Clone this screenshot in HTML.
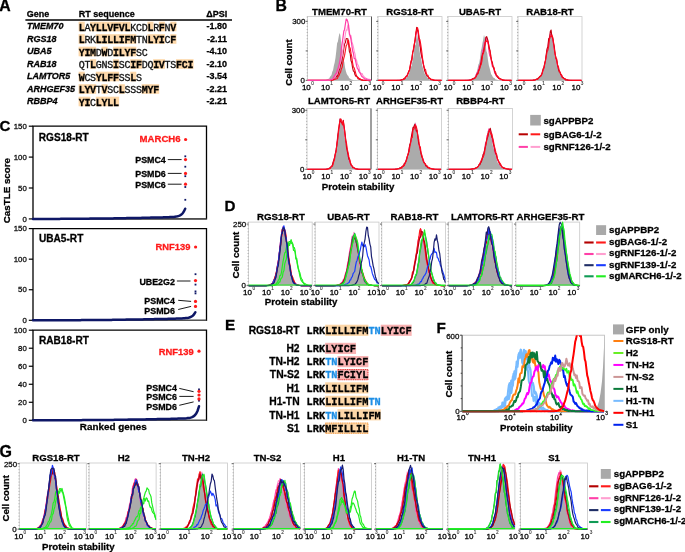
<!DOCTYPE html>
<html><head><meta charset="utf-8"><style>
html,body{margin:0;padding:0;background:#fff;}
body{width:685px;height:552px;overflow:hidden;}
svg{display:block;will-change:transform;}
</style></head><body>
<svg width="685" height="552" viewBox="0 0 685 552">
<rect x="0" y="0" width="685" height="552" fill="#fff"/>
<text x="-0.70" y="11.20" font-family='"Liberation Sans", sans-serif' font-size="15.8" font-weight="bold" text-anchor="start" fill="#000" stroke="#000" stroke-width="0.28" >A</text>
<text x="26.80" y="16.60" font-family='"Liberation Sans", sans-serif' font-size="9.0" font-weight="bold" text-anchor="start" fill="#000" stroke="#000" stroke-width="0.28" >Gene</text>
<text x="78.80" y="16.60" font-family='"Liberation Sans", sans-serif' font-size="9.0" font-weight="bold" text-anchor="start" fill="#000" stroke="#000" stroke-width="0.28" >RT sequence</text>
<text x="206.20" y="16.60" font-family='"Liberation Sans", sans-serif' font-size="9.0" font-weight="bold" text-anchor="start" fill="#000" stroke="#000" stroke-width="0.28" >ΔPSI</text>
<line x1="25.40" y1="19.90" x2="232.00" y2="19.90" stroke="#000" stroke-width="1.5" />
<text x="27.00" y="29.30" font-family='"Liberation Sans", sans-serif' font-size="9.0" font-weight="bold" text-anchor="start" fill="#000" stroke="#000" stroke-width="0.28" font-style="italic" >TMEM70</text>
<text x="227.00" y="29.30" font-family='"Liberation Sans", sans-serif' font-size="9.0" font-weight="bold" text-anchor="end" fill="#000" stroke="#000" stroke-width="0.28" >-1.80</text>
<rect x="78.60" y="21.70" width="6.13" height="9.60" fill="#fdd7a8" />
<rect x="90.06" y="21.70" width="6.13" height="9.60" fill="#fdd7a8" />
<rect x="95.79" y="21.70" width="6.13" height="9.60" fill="#fdd7a8" />
<rect x="101.52" y="21.70" width="6.13" height="9.60" fill="#fdd7a8" />
<rect x="107.25" y="21.70" width="6.13" height="9.60" fill="#fdd7a8" />
<rect x="112.98" y="21.70" width="6.13" height="9.60" fill="#fdd7a8" />
<rect x="118.71" y="21.70" width="6.13" height="9.60" fill="#fdd7a8" />
<rect x="124.44" y="21.70" width="6.13" height="9.60" fill="#fdd7a8" />
<rect x="147.36" y="21.70" width="6.13" height="9.60" fill="#fdd7a8" />
<rect x="158.82" y="21.70" width="6.13" height="9.60" fill="#fdd7a8" />
<rect x="170.28" y="21.70" width="6.13" height="9.60" fill="#fdd7a8" />
<text x="78.65" y="30.50" font-family='"Liberation Mono", monospace' font-size="10.0" font-weight="bold" text-anchor="start" fill="#000" stroke="#000" stroke-width="0.28" >L</text>
<text x="84.38" y="30.50" font-family='"Liberation Mono", monospace' font-size="10.0" font-weight="normal" text-anchor="start" fill="#111" stroke="#111" stroke-width="0.3" >A</text>
<text x="90.11" y="30.50" font-family='"Liberation Mono", monospace' font-size="10.0" font-weight="bold" text-anchor="start" fill="#000" stroke="#000" stroke-width="0.28" >Y</text>
<text x="95.84" y="30.50" font-family='"Liberation Mono", monospace' font-size="10.0" font-weight="bold" text-anchor="start" fill="#000" stroke="#000" stroke-width="0.28" >L</text>
<text x="101.57" y="30.50" font-family='"Liberation Mono", monospace' font-size="10.0" font-weight="bold" text-anchor="start" fill="#000" stroke="#000" stroke-width="0.28" >L</text>
<text x="107.30" y="30.50" font-family='"Liberation Mono", monospace' font-size="10.0" font-weight="bold" text-anchor="start" fill="#000" stroke="#000" stroke-width="0.28" >V</text>
<text x="113.03" y="30.50" font-family='"Liberation Mono", monospace' font-size="10.0" font-weight="bold" text-anchor="start" fill="#000" stroke="#000" stroke-width="0.28" >F</text>
<text x="118.76" y="30.50" font-family='"Liberation Mono", monospace' font-size="10.0" font-weight="bold" text-anchor="start" fill="#000" stroke="#000" stroke-width="0.28" >V</text>
<text x="124.49" y="30.50" font-family='"Liberation Mono", monospace' font-size="10.0" font-weight="bold" text-anchor="start" fill="#000" stroke="#000" stroke-width="0.28" >L</text>
<text x="130.22" y="30.50" font-family='"Liberation Mono", monospace' font-size="10.0" font-weight="normal" text-anchor="start" fill="#111" stroke="#111" stroke-width="0.3" >K</text>
<text x="135.95" y="30.50" font-family='"Liberation Mono", monospace' font-size="10.0" font-weight="normal" text-anchor="start" fill="#111" stroke="#111" stroke-width="0.3" >C</text>
<text x="141.68" y="30.50" font-family='"Liberation Mono", monospace' font-size="10.0" font-weight="normal" text-anchor="start" fill="#111" stroke="#111" stroke-width="0.3" >D</text>
<text x="147.41" y="30.50" font-family='"Liberation Mono", monospace' font-size="10.0" font-weight="bold" text-anchor="start" fill="#000" stroke="#000" stroke-width="0.28" >L</text>
<text x="153.14" y="30.50" font-family='"Liberation Mono", monospace' font-size="10.0" font-weight="normal" text-anchor="start" fill="#111" stroke="#111" stroke-width="0.3" >R</text>
<text x="158.87" y="30.50" font-family='"Liberation Mono", monospace' font-size="10.0" font-weight="bold" text-anchor="start" fill="#000" stroke="#000" stroke-width="0.28" >F</text>
<text x="164.60" y="30.50" font-family='"Liberation Mono", monospace' font-size="10.0" font-weight="normal" text-anchor="start" fill="#111" stroke="#111" stroke-width="0.3" >N</text>
<text x="170.33" y="30.50" font-family='"Liberation Mono", monospace' font-size="10.0" font-weight="bold" text-anchor="start" fill="#000" stroke="#000" stroke-width="0.28" >V</text>
<text x="27.00" y="41.80" font-family='"Liberation Sans", sans-serif' font-size="9.0" font-weight="bold" text-anchor="start" fill="#000" stroke="#000" stroke-width="0.28" font-style="italic" >RGS18</text>
<text x="227.00" y="41.80" font-family='"Liberation Sans", sans-serif' font-size="9.0" font-weight="bold" text-anchor="end" fill="#000" stroke="#000" stroke-width="0.28" >-2.11</text>
<rect x="78.60" y="34.20" width="6.13" height="9.60" fill="#fdd7a8" />
<rect x="95.79" y="34.20" width="6.13" height="9.60" fill="#fdd7a8" />
<rect x="101.52" y="34.20" width="6.13" height="9.60" fill="#fdd7a8" />
<rect x="107.25" y="34.20" width="6.13" height="9.60" fill="#fdd7a8" />
<rect x="112.98" y="34.20" width="6.13" height="9.60" fill="#fdd7a8" />
<rect x="118.71" y="34.20" width="6.13" height="9.60" fill="#fdd7a8" />
<rect x="124.44" y="34.20" width="6.13" height="9.60" fill="#fdd7a8" />
<rect x="130.17" y="34.20" width="6.13" height="9.60" fill="#fdd7a8" />
<rect x="147.36" y="34.20" width="6.13" height="9.60" fill="#fdd7a8" />
<rect x="153.09" y="34.20" width="6.13" height="9.60" fill="#fdd7a8" />
<rect x="158.82" y="34.20" width="6.13" height="9.60" fill="#fdd7a8" />
<rect x="170.28" y="34.20" width="6.13" height="9.60" fill="#fdd7a8" />
<text x="78.65" y="43.00" font-family='"Liberation Mono", monospace' font-size="10.0" font-weight="bold" text-anchor="start" fill="#000" stroke="#000" stroke-width="0.28" >L</text>
<text x="84.38" y="43.00" font-family='"Liberation Mono", monospace' font-size="10.0" font-weight="normal" text-anchor="start" fill="#111" stroke="#111" stroke-width="0.3" >R</text>
<text x="90.11" y="43.00" font-family='"Liberation Mono", monospace' font-size="10.0" font-weight="normal" text-anchor="start" fill="#111" stroke="#111" stroke-width="0.3" >K</text>
<text x="95.84" y="43.00" font-family='"Liberation Mono", monospace' font-size="10.0" font-weight="bold" text-anchor="start" fill="#000" stroke="#000" stroke-width="0.28" >L</text>
<text x="101.57" y="43.00" font-family='"Liberation Mono", monospace' font-size="10.0" font-weight="bold" text-anchor="start" fill="#000" stroke="#000" stroke-width="0.28" >I</text>
<text x="107.30" y="43.00" font-family='"Liberation Mono", monospace' font-size="10.0" font-weight="bold" text-anchor="start" fill="#000" stroke="#000" stroke-width="0.28" >L</text>
<text x="113.03" y="43.00" font-family='"Liberation Mono", monospace' font-size="10.0" font-weight="bold" text-anchor="start" fill="#000" stroke="#000" stroke-width="0.28" >L</text>
<text x="118.76" y="43.00" font-family='"Liberation Mono", monospace' font-size="10.0" font-weight="bold" text-anchor="start" fill="#000" stroke="#000" stroke-width="0.28" >I</text>
<text x="124.49" y="43.00" font-family='"Liberation Mono", monospace' font-size="10.0" font-weight="bold" text-anchor="start" fill="#000" stroke="#000" stroke-width="0.28" >F</text>
<text x="130.22" y="43.00" font-family='"Liberation Mono", monospace' font-size="10.0" font-weight="bold" text-anchor="start" fill="#000" stroke="#000" stroke-width="0.28" >M</text>
<text x="135.95" y="43.00" font-family='"Liberation Mono", monospace' font-size="10.0" font-weight="normal" text-anchor="start" fill="#111" stroke="#111" stroke-width="0.3" >T</text>
<text x="141.68" y="43.00" font-family='"Liberation Mono", monospace' font-size="10.0" font-weight="normal" text-anchor="start" fill="#111" stroke="#111" stroke-width="0.3" >N</text>
<text x="147.41" y="43.00" font-family='"Liberation Mono", monospace' font-size="10.0" font-weight="bold" text-anchor="start" fill="#000" stroke="#000" stroke-width="0.28" >L</text>
<text x="153.14" y="43.00" font-family='"Liberation Mono", monospace' font-size="10.0" font-weight="bold" text-anchor="start" fill="#000" stroke="#000" stroke-width="0.28" >Y</text>
<text x="158.87" y="43.00" font-family='"Liberation Mono", monospace' font-size="10.0" font-weight="bold" text-anchor="start" fill="#000" stroke="#000" stroke-width="0.28" >I</text>
<text x="164.60" y="43.00" font-family='"Liberation Mono", monospace' font-size="10.0" font-weight="normal" text-anchor="start" fill="#111" stroke="#111" stroke-width="0.3" >C</text>
<text x="170.33" y="43.00" font-family='"Liberation Mono", monospace' font-size="10.0" font-weight="bold" text-anchor="start" fill="#000" stroke="#000" stroke-width="0.28" >F</text>
<text x="27.00" y="54.30" font-family='"Liberation Sans", sans-serif' font-size="9.0" font-weight="bold" text-anchor="start" fill="#000" stroke="#000" stroke-width="0.28" font-style="italic" >UBA5</text>
<text x="227.00" y="54.30" font-family='"Liberation Sans", sans-serif' font-size="9.0" font-weight="bold" text-anchor="end" fill="#000" stroke="#000" stroke-width="0.28" >-4.10</text>
<rect x="78.60" y="46.70" width="6.13" height="9.60" fill="#fdd7a8" />
<rect x="84.33" y="46.70" width="6.13" height="9.60" fill="#fdd7a8" />
<rect x="90.06" y="46.70" width="6.13" height="9.60" fill="#fdd7a8" />
<rect x="101.52" y="46.70" width="6.13" height="9.60" fill="#fdd7a8" />
<rect x="112.98" y="46.70" width="6.13" height="9.60" fill="#fdd7a8" />
<rect x="118.71" y="46.70" width="6.13" height="9.60" fill="#fdd7a8" />
<rect x="124.44" y="46.70" width="6.13" height="9.60" fill="#fdd7a8" />
<rect x="130.17" y="46.70" width="6.13" height="9.60" fill="#fdd7a8" />
<text x="78.65" y="55.50" font-family='"Liberation Mono", monospace' font-size="10.0" font-weight="bold" text-anchor="start" fill="#000" stroke="#000" stroke-width="0.28" >Y</text>
<text x="84.38" y="55.50" font-family='"Liberation Mono", monospace' font-size="10.0" font-weight="bold" text-anchor="start" fill="#000" stroke="#000" stroke-width="0.28" >I</text>
<text x="90.11" y="55.50" font-family='"Liberation Mono", monospace' font-size="10.0" font-weight="bold" text-anchor="start" fill="#000" stroke="#000" stroke-width="0.28" >M</text>
<text x="95.84" y="55.50" font-family='"Liberation Mono", monospace' font-size="10.0" font-weight="normal" text-anchor="start" fill="#111" stroke="#111" stroke-width="0.3" >D</text>
<text x="101.57" y="55.50" font-family='"Liberation Mono", monospace' font-size="10.0" font-weight="bold" text-anchor="start" fill="#000" stroke="#000" stroke-width="0.28" >W</text>
<text x="107.30" y="55.50" font-family='"Liberation Mono", monospace' font-size="10.0" font-weight="normal" text-anchor="start" fill="#111" stroke="#111" stroke-width="0.3" >D</text>
<text x="113.03" y="55.50" font-family='"Liberation Mono", monospace' font-size="10.0" font-weight="bold" text-anchor="start" fill="#000" stroke="#000" stroke-width="0.28" >I</text>
<text x="118.76" y="55.50" font-family='"Liberation Mono", monospace' font-size="10.0" font-weight="bold" text-anchor="start" fill="#000" stroke="#000" stroke-width="0.28" >L</text>
<text x="124.49" y="55.50" font-family='"Liberation Mono", monospace' font-size="10.0" font-weight="bold" text-anchor="start" fill="#000" stroke="#000" stroke-width="0.28" >Y</text>
<text x="130.22" y="55.50" font-family='"Liberation Mono", monospace' font-size="10.0" font-weight="bold" text-anchor="start" fill="#000" stroke="#000" stroke-width="0.28" >F</text>
<text x="135.95" y="55.50" font-family='"Liberation Mono", monospace' font-size="10.0" font-weight="normal" text-anchor="start" fill="#111" stroke="#111" stroke-width="0.3" >S</text>
<text x="141.68" y="55.50" font-family='"Liberation Mono", monospace' font-size="10.0" font-weight="normal" text-anchor="start" fill="#111" stroke="#111" stroke-width="0.3" >C</text>
<text x="27.00" y="66.80" font-family='"Liberation Sans", sans-serif' font-size="9.0" font-weight="bold" text-anchor="start" fill="#000" stroke="#000" stroke-width="0.28" font-style="italic" >RAB18</text>
<text x="227.00" y="66.80" font-family='"Liberation Sans", sans-serif' font-size="9.0" font-weight="bold" text-anchor="end" fill="#000" stroke="#000" stroke-width="0.28" >-2.10</text>
<rect x="90.06" y="59.20" width="6.13" height="9.60" fill="#fdd7a8" />
<rect x="112.98" y="59.20" width="6.13" height="9.60" fill="#fdd7a8" />
<rect x="130.17" y="59.20" width="6.13" height="9.60" fill="#fdd7a8" />
<rect x="135.90" y="59.20" width="6.13" height="9.60" fill="#fdd7a8" />
<rect x="153.09" y="59.20" width="6.13" height="9.60" fill="#fdd7a8" />
<rect x="158.82" y="59.20" width="6.13" height="9.60" fill="#fdd7a8" />
<rect x="176.01" y="59.20" width="6.13" height="9.60" fill="#fdd7a8" />
<rect x="181.74" y="59.20" width="6.13" height="9.60" fill="#fdd7a8" />
<rect x="187.47" y="59.20" width="6.13" height="9.60" fill="#fdd7a8" />
<text x="78.65" y="68.00" font-family='"Liberation Mono", monospace' font-size="10.0" font-weight="normal" text-anchor="start" fill="#111" stroke="#111" stroke-width="0.3" >Q</text>
<text x="84.38" y="68.00" font-family='"Liberation Mono", monospace' font-size="10.0" font-weight="normal" text-anchor="start" fill="#111" stroke="#111" stroke-width="0.3" >T</text>
<text x="90.11" y="68.00" font-family='"Liberation Mono", monospace' font-size="10.0" font-weight="bold" text-anchor="start" fill="#000" stroke="#000" stroke-width="0.28" >L</text>
<text x="95.84" y="68.00" font-family='"Liberation Mono", monospace' font-size="10.0" font-weight="normal" text-anchor="start" fill="#111" stroke="#111" stroke-width="0.3" >G</text>
<text x="101.57" y="68.00" font-family='"Liberation Mono", monospace' font-size="10.0" font-weight="normal" text-anchor="start" fill="#111" stroke="#111" stroke-width="0.3" >N</text>
<text x="107.30" y="68.00" font-family='"Liberation Mono", monospace' font-size="10.0" font-weight="normal" text-anchor="start" fill="#111" stroke="#111" stroke-width="0.3" >S</text>
<text x="113.03" y="68.00" font-family='"Liberation Mono", monospace' font-size="10.0" font-weight="bold" text-anchor="start" fill="#000" stroke="#000" stroke-width="0.28" >I</text>
<text x="118.76" y="68.00" font-family='"Liberation Mono", monospace' font-size="10.0" font-weight="normal" text-anchor="start" fill="#111" stroke="#111" stroke-width="0.3" >S</text>
<text x="124.49" y="68.00" font-family='"Liberation Mono", monospace' font-size="10.0" font-weight="normal" text-anchor="start" fill="#111" stroke="#111" stroke-width="0.3" >C</text>
<text x="130.22" y="68.00" font-family='"Liberation Mono", monospace' font-size="10.0" font-weight="bold" text-anchor="start" fill="#000" stroke="#000" stroke-width="0.28" >I</text>
<text x="135.95" y="68.00" font-family='"Liberation Mono", monospace' font-size="10.0" font-weight="bold" text-anchor="start" fill="#000" stroke="#000" stroke-width="0.28" >F</text>
<text x="141.68" y="68.00" font-family='"Liberation Mono", monospace' font-size="10.0" font-weight="normal" text-anchor="start" fill="#111" stroke="#111" stroke-width="0.3" >D</text>
<text x="147.41" y="68.00" font-family='"Liberation Mono", monospace' font-size="10.0" font-weight="normal" text-anchor="start" fill="#111" stroke="#111" stroke-width="0.3" >Q</text>
<text x="153.14" y="68.00" font-family='"Liberation Mono", monospace' font-size="10.0" font-weight="bold" text-anchor="start" fill="#000" stroke="#000" stroke-width="0.28" >I</text>
<text x="158.87" y="68.00" font-family='"Liberation Mono", monospace' font-size="10.0" font-weight="bold" text-anchor="start" fill="#000" stroke="#000" stroke-width="0.28" >V</text>
<text x="164.60" y="68.00" font-family='"Liberation Mono", monospace' font-size="10.0" font-weight="normal" text-anchor="start" fill="#111" stroke="#111" stroke-width="0.3" >T</text>
<text x="170.33" y="68.00" font-family='"Liberation Mono", monospace' font-size="10.0" font-weight="normal" text-anchor="start" fill="#111" stroke="#111" stroke-width="0.3" >S</text>
<text x="176.06" y="68.00" font-family='"Liberation Mono", monospace' font-size="10.0" font-weight="bold" text-anchor="start" fill="#000" stroke="#000" stroke-width="0.28" >F</text>
<text x="181.79" y="68.00" font-family='"Liberation Mono", monospace' font-size="10.0" font-weight="bold" text-anchor="start" fill="#000" stroke="#000" stroke-width="0.28" >C</text>
<text x="187.52" y="68.00" font-family='"Liberation Mono", monospace' font-size="10.0" font-weight="bold" text-anchor="start" fill="#000" stroke="#000" stroke-width="0.28" >I</text>
<text x="27.00" y="79.30" font-family='"Liberation Sans", sans-serif' font-size="9.0" font-weight="bold" text-anchor="start" fill="#000" stroke="#000" stroke-width="0.28" font-style="italic" >LAMTOR5</text>
<text x="227.00" y="79.30" font-family='"Liberation Sans", sans-serif' font-size="9.0" font-weight="bold" text-anchor="end" fill="#000" stroke="#000" stroke-width="0.28" >-3.54</text>
<rect x="78.60" y="71.70" width="6.13" height="9.60" fill="#fdd7a8" />
<rect x="95.79" y="71.70" width="6.13" height="9.60" fill="#fdd7a8" />
<rect x="101.52" y="71.70" width="6.13" height="9.60" fill="#fdd7a8" />
<rect x="107.25" y="71.70" width="6.13" height="9.60" fill="#fdd7a8" />
<rect x="112.98" y="71.70" width="6.13" height="9.60" fill="#fdd7a8" />
<rect x="130.17" y="71.70" width="6.13" height="9.60" fill="#fdd7a8" />
<text x="78.65" y="80.50" font-family='"Liberation Mono", monospace' font-size="10.0" font-weight="bold" text-anchor="start" fill="#000" stroke="#000" stroke-width="0.28" >W</text>
<text x="84.38" y="80.50" font-family='"Liberation Mono", monospace' font-size="10.0" font-weight="normal" text-anchor="start" fill="#111" stroke="#111" stroke-width="0.3" >C</text>
<text x="90.11" y="80.50" font-family='"Liberation Mono", monospace' font-size="10.0" font-weight="normal" text-anchor="start" fill="#111" stroke="#111" stroke-width="0.3" >S</text>
<text x="95.84" y="80.50" font-family='"Liberation Mono", monospace' font-size="10.0" font-weight="bold" text-anchor="start" fill="#000" stroke="#000" stroke-width="0.28" >Y</text>
<text x="101.57" y="80.50" font-family='"Liberation Mono", monospace' font-size="10.0" font-weight="bold" text-anchor="start" fill="#000" stroke="#000" stroke-width="0.28" >L</text>
<text x="107.30" y="80.50" font-family='"Liberation Mono", monospace' font-size="10.0" font-weight="bold" text-anchor="start" fill="#000" stroke="#000" stroke-width="0.28" >F</text>
<text x="113.03" y="80.50" font-family='"Liberation Mono", monospace' font-size="10.0" font-weight="bold" text-anchor="start" fill="#000" stroke="#000" stroke-width="0.28" >F</text>
<text x="118.76" y="80.50" font-family='"Liberation Mono", monospace' font-size="10.0" font-weight="normal" text-anchor="start" fill="#111" stroke="#111" stroke-width="0.3" >S</text>
<text x="124.49" y="80.50" font-family='"Liberation Mono", monospace' font-size="10.0" font-weight="normal" text-anchor="start" fill="#111" stroke="#111" stroke-width="0.3" >S</text>
<text x="130.22" y="80.50" font-family='"Liberation Mono", monospace' font-size="10.0" font-weight="bold" text-anchor="start" fill="#000" stroke="#000" stroke-width="0.28" >L</text>
<text x="135.95" y="80.50" font-family='"Liberation Mono", monospace' font-size="10.0" font-weight="normal" text-anchor="start" fill="#111" stroke="#111" stroke-width="0.3" >S</text>
<text x="27.00" y="91.80" font-family='"Liberation Sans", sans-serif' font-size="9.0" font-weight="bold" text-anchor="start" fill="#000" stroke="#000" stroke-width="0.28" font-style="italic" >ARHGEF35</text>
<text x="227.00" y="91.80" font-family='"Liberation Sans", sans-serif' font-size="9.0" font-weight="bold" text-anchor="end" fill="#000" stroke="#000" stroke-width="0.28" >-2.21</text>
<rect x="78.60" y="84.20" width="6.13" height="9.60" fill="#fdd7a8" />
<rect x="84.33" y="84.20" width="6.13" height="9.60" fill="#fdd7a8" />
<rect x="90.06" y="84.20" width="6.13" height="9.60" fill="#fdd7a8" />
<rect x="101.52" y="84.20" width="6.13" height="9.60" fill="#fdd7a8" />
<rect x="118.71" y="84.20" width="6.13" height="9.60" fill="#fdd7a8" />
<rect x="141.63" y="84.20" width="6.13" height="9.60" fill="#fdd7a8" />
<rect x="147.36" y="84.20" width="6.13" height="9.60" fill="#fdd7a8" />
<rect x="153.09" y="84.20" width="6.13" height="9.60" fill="#fdd7a8" />
<text x="78.65" y="93.00" font-family='"Liberation Mono", monospace' font-size="10.0" font-weight="bold" text-anchor="start" fill="#000" stroke="#000" stroke-width="0.28" >L</text>
<text x="84.38" y="93.00" font-family='"Liberation Mono", monospace' font-size="10.0" font-weight="bold" text-anchor="start" fill="#000" stroke="#000" stroke-width="0.28" >Y</text>
<text x="90.11" y="93.00" font-family='"Liberation Mono", monospace' font-size="10.0" font-weight="bold" text-anchor="start" fill="#000" stroke="#000" stroke-width="0.28" >V</text>
<text x="95.84" y="93.00" font-family='"Liberation Mono", monospace' font-size="10.0" font-weight="normal" text-anchor="start" fill="#111" stroke="#111" stroke-width="0.3" >T</text>
<text x="101.57" y="93.00" font-family='"Liberation Mono", monospace' font-size="10.0" font-weight="bold" text-anchor="start" fill="#000" stroke="#000" stroke-width="0.28" >V</text>
<text x="107.30" y="93.00" font-family='"Liberation Mono", monospace' font-size="10.0" font-weight="normal" text-anchor="start" fill="#111" stroke="#111" stroke-width="0.3" >S</text>
<text x="113.03" y="93.00" font-family='"Liberation Mono", monospace' font-size="10.0" font-weight="normal" text-anchor="start" fill="#111" stroke="#111" stroke-width="0.3" >C</text>
<text x="118.76" y="93.00" font-family='"Liberation Mono", monospace' font-size="10.0" font-weight="bold" text-anchor="start" fill="#000" stroke="#000" stroke-width="0.28" >L</text>
<text x="124.49" y="93.00" font-family='"Liberation Mono", monospace' font-size="10.0" font-weight="normal" text-anchor="start" fill="#111" stroke="#111" stroke-width="0.3" >S</text>
<text x="130.22" y="93.00" font-family='"Liberation Mono", monospace' font-size="10.0" font-weight="normal" text-anchor="start" fill="#111" stroke="#111" stroke-width="0.3" >S</text>
<text x="135.95" y="93.00" font-family='"Liberation Mono", monospace' font-size="10.0" font-weight="normal" text-anchor="start" fill="#111" stroke="#111" stroke-width="0.3" >S</text>
<text x="141.68" y="93.00" font-family='"Liberation Mono", monospace' font-size="10.0" font-weight="bold" text-anchor="start" fill="#000" stroke="#000" stroke-width="0.28" >M</text>
<text x="147.41" y="93.00" font-family='"Liberation Mono", monospace' font-size="10.0" font-weight="bold" text-anchor="start" fill="#000" stroke="#000" stroke-width="0.28" >Y</text>
<text x="153.14" y="93.00" font-family='"Liberation Mono", monospace' font-size="10.0" font-weight="bold" text-anchor="start" fill="#000" stroke="#000" stroke-width="0.28" >F</text>
<text x="27.00" y="104.30" font-family='"Liberation Sans", sans-serif' font-size="9.0" font-weight="bold" text-anchor="start" fill="#000" stroke="#000" stroke-width="0.28" font-style="italic" >RBBP4</text>
<text x="227.00" y="104.30" font-family='"Liberation Sans", sans-serif' font-size="9.0" font-weight="bold" text-anchor="end" fill="#000" stroke="#000" stroke-width="0.28" >-2.21</text>
<rect x="78.60" y="96.70" width="6.13" height="9.60" fill="#fdd7a8" />
<rect x="84.33" y="96.70" width="6.13" height="9.60" fill="#fdd7a8" />
<rect x="95.79" y="96.70" width="6.13" height="9.60" fill="#fdd7a8" />
<rect x="101.52" y="96.70" width="6.13" height="9.60" fill="#fdd7a8" />
<rect x="107.25" y="96.70" width="6.13" height="9.60" fill="#fdd7a8" />
<rect x="112.98" y="96.70" width="6.13" height="9.60" fill="#fdd7a8" />
<text x="78.65" y="105.50" font-family='"Liberation Mono", monospace' font-size="10.0" font-weight="bold" text-anchor="start" fill="#000" stroke="#000" stroke-width="0.28" >Y</text>
<text x="84.38" y="105.50" font-family='"Liberation Mono", monospace' font-size="10.0" font-weight="bold" text-anchor="start" fill="#000" stroke="#000" stroke-width="0.28" >I</text>
<text x="90.11" y="105.50" font-family='"Liberation Mono", monospace' font-size="10.0" font-weight="normal" text-anchor="start" fill="#111" stroke="#111" stroke-width="0.3" >C</text>
<text x="95.84" y="105.50" font-family='"Liberation Mono", monospace' font-size="10.0" font-weight="bold" text-anchor="start" fill="#000" stroke="#000" stroke-width="0.28" >L</text>
<text x="101.57" y="105.50" font-family='"Liberation Mono", monospace' font-size="10.0" font-weight="bold" text-anchor="start" fill="#000" stroke="#000" stroke-width="0.28" >Y</text>
<text x="107.30" y="105.50" font-family='"Liberation Mono", monospace' font-size="10.0" font-weight="bold" text-anchor="start" fill="#000" stroke="#000" stroke-width="0.28" >L</text>
<text x="113.03" y="105.50" font-family='"Liberation Mono", monospace' font-size="10.0" font-weight="bold" text-anchor="start" fill="#000" stroke="#000" stroke-width="0.28" >L</text>
<text x="275.60" y="10.90" font-family='"Liberation Sans", sans-serif' font-size="15.8" font-weight="bold" text-anchor="start" fill="#000" stroke="#000" stroke-width="0.28" >B</text>
<text x="339.50" y="14.50" font-family='"Liberation Sans", sans-serif' font-size="9.6" font-weight="bold" text-anchor="middle" fill="#000" stroke="#000" stroke-width="0.28" >TMEM70-RT</text>
<rect x="307.50" y="16.60" width="64.00" height="63.80" fill="none" stroke="#c8c8c8" stroke-width="0.8"/>
<line x1="307.20" y1="16.60" x2="307.20" y2="80.40" stroke="#9a9a9a" stroke-width="0.9" stroke-dasharray="0.9 2.2"/>
<line x1="305.70" y1="21.40" x2="307.70" y2="21.40" stroke="#555" stroke-width="0.9" />
<line x1="305.70" y1="50.90" x2="307.70" y2="50.90" stroke="#555" stroke-width="0.9" />
<line x1="305.70" y1="80.40" x2="307.70" y2="80.40" stroke="#555" stroke-width="0.9" />
<text x="301.90" y="90.00" font-family='"Liberation Sans", sans-serif' font-size="8.0" font-weight="normal" text-anchor="start" fill="#000" stroke="#000" stroke-width="0.3" >10</text>
<text x="311.20" y="85.00" font-family='"Liberation Sans", sans-serif' font-size="4.7" font-weight="normal" text-anchor="start" fill="#444" stroke="#444" stroke-width="0.15" >0</text>
<text x="321.00" y="90.00" font-family='"Liberation Sans", sans-serif' font-size="8.0" font-weight="normal" text-anchor="start" fill="#000" stroke="#000" stroke-width="0.3" >10</text>
<text x="330.30" y="85.00" font-family='"Liberation Sans", sans-serif' font-size="4.7" font-weight="normal" text-anchor="start" fill="#444" stroke="#444" stroke-width="0.15" >1</text>
<text x="340.10" y="90.00" font-family='"Liberation Sans", sans-serif' font-size="8.0" font-weight="normal" text-anchor="start" fill="#000" stroke="#000" stroke-width="0.3" >10</text>
<text x="349.40" y="85.00" font-family='"Liberation Sans", sans-serif' font-size="4.7" font-weight="normal" text-anchor="start" fill="#444" stroke="#444" stroke-width="0.15" >2</text>
<text x="359.20" y="90.00" font-family='"Liberation Sans", sans-serif' font-size="8.0" font-weight="normal" text-anchor="start" fill="#000" stroke="#000" stroke-width="0.3" >10</text>
<text x="368.50" y="85.00" font-family='"Liberation Sans", sans-serif' font-size="4.7" font-weight="normal" text-anchor="start" fill="#444" stroke="#444" stroke-width="0.15" >3</text>
<text x="305.30" y="24.00" font-family='"Liberation Sans", sans-serif' font-size="7.9" font-weight="normal" text-anchor="end" fill="#111" stroke="#111" stroke-width="0.3" >300</text>
<text x="304.90" y="83.20" font-family='"Liberation Sans", sans-serif' font-size="7.9" font-weight="normal" text-anchor="end" fill="#111" stroke="#111" stroke-width="0.3" >0</text>
<path d="M307.5,80.4 307.5,80.4 308.3,80.4 309.1,80.4 309.9,80.4 310.7,80.4 311.5,80.4 312.3,80.4 313.1,80.4 313.9,80.4 314.7,80.4 315.5,80.4 316.3,80.4 317.1,80.4 317.9,80.4 318.7,80.4 319.5,80.4 320.3,80.4 321.1,80.4 321.9,80.4 322.7,80.3 323.5,80.3 324.3,80.2 325.1,80.1 325.9,79.9 326.7,79.8 327.5,79.6 328.3,78.7 329.1,78.7 329.9,77.1 330.7,76.0 331.5,74.9 332.3,71.7 333.1,70.1 333.9,65.4 334.7,62.5 335.5,57.7 336.3,50.9 337.1,43.3 337.9,41.6 338.7,36.8 339.5,33.1 340.3,34.7 341.1,41.8 341.9,48.3 342.7,51.3 343.5,60.3 344.3,61.9 345.1,67.7 345.9,71.3 346.7,73.8 347.5,75.3 348.3,76.0 349.1,78.1 349.9,78.4 350.7,79.0 351.5,79.6 352.3,79.8 353.1,80.0 353.9,80.2 354.7,80.2 355.5,80.3 356.3,80.3 357.1,80.4 357.9,80.4 358.7,80.4 359.5,80.4 360.3,80.4 361.1,80.4 361.9,80.4 362.7,80.4 363.5,80.4 364.3,80.4 365.1,80.4 365.9,80.4 366.7,80.4 367.5,80.4 368.3,80.4 369.1,80.4 369.9,80.4 370.7,80.4 371.5,80.4 371.5,80.4 Z" fill="#ababab" stroke="none"/>
<path d="M307.8,80.4 308.6,80.4 309.4,80.4 310.2,80.4 311.0,80.4 311.8,80.4 312.6,80.4 313.4,80.4 314.2,80.4 315.0,80.4 315.8,80.4 316.6,80.4 317.4,80.4 318.2,80.4 319.0,80.4 319.8,80.4 320.6,80.4 321.4,80.4 322.2,80.4 323.0,80.4 323.8,80.4 324.6,80.4 325.4,80.4 326.2,80.4 327.0,80.4 327.8,80.3 328.6,80.3 329.4,80.3 330.2,80.2 331.0,80.1 331.8,79.9 332.6,79.7 333.4,79.2 334.2,78.7 335.0,78.0 335.8,77.4 336.6,76.0 337.4,76.3 338.2,73.8 339.0,70.5 339.8,68.6 340.6,64.7 341.4,63.7 342.2,58.3 343.0,54.7 343.8,48.7 344.6,43.8 345.4,42.6 346.2,38.5 347.0,38.8 347.8,38.7 348.6,44.0 349.4,51.6 350.2,53.5 351.0,60.6 351.8,62.8 352.6,67.9 353.4,71.1 354.2,71.3 355.0,74.8 355.8,76.3 356.6,76.2 357.4,77.4 358.2,78.9 359.0,78.7 359.8,79.5 360.6,79.7 361.4,80.0 362.2,80.1 363.0,80.2 363.8,80.3 364.6,80.3 365.4,80.3 366.2,80.4 367.0,80.4 367.8,80.4 368.6,80.4 369.4,80.4 370.2,80.4 371.0,80.4" fill="none" stroke="#c00010" stroke-width="1.1" stroke-linejoin="round"/>
<path d="M307.8,80.4 308.6,80.4 309.4,80.4 310.2,80.4 311.0,80.4 311.8,80.4 312.6,80.4 313.4,80.4 314.2,80.4 315.0,80.4 315.8,80.4 316.6,80.4 317.4,80.4 318.2,80.4 319.0,80.4 319.8,80.4 320.6,80.4 321.4,80.4 322.2,80.4 323.0,80.4 323.8,80.4 324.6,80.4 325.4,80.4 326.2,80.4 327.0,80.4 327.8,80.4 328.6,80.4 329.4,80.3 330.2,80.3 331.0,80.3 331.8,80.2 332.6,80.1 333.4,79.9 334.2,79.5 335.0,79.2 335.8,79.1 336.6,78.8 337.4,78.4 338.2,76.5 339.0,75.6 339.8,73.4 340.6,72.2 341.4,68.7 342.2,67.2 343.0,62.0 343.8,58.4 344.6,55.4 345.4,50.5 346.2,45.6 347.0,44.5 347.8,40.4 348.6,40.6 349.4,46.7 350.2,48.2 351.0,53.2 351.8,56.9 352.6,62.8 353.4,67.0 354.2,67.9 355.0,70.6 355.8,73.6 356.6,75.9 357.4,77.0 358.2,77.4 359.0,78.6 359.8,78.5 360.6,79.3 361.4,79.9 362.2,79.9 363.0,80.1 363.8,80.2 364.6,80.2 365.4,80.3 366.2,80.3 367.0,80.4 367.8,80.4 368.6,80.4 369.4,80.4 370.2,80.4 371.0,80.4" fill="none" stroke="#ff0a1e" stroke-width="1.1" stroke-linejoin="round"/>
<path d="M307.8,80.4 308.6,80.4 309.4,80.4 310.2,80.4 311.0,80.4 311.8,80.4 312.6,80.4 313.4,80.4 314.2,80.4 315.0,80.4 315.8,80.4 316.6,80.4 317.4,80.4 318.2,80.4 319.0,80.4 319.8,80.4 320.6,80.4 321.4,80.4 322.2,80.4 323.0,80.4 323.8,80.4 324.6,80.3 325.4,80.3 326.2,80.3 327.0,80.2 327.8,80.2 328.6,80.1 329.4,79.9 330.2,79.9 331.0,79.5 331.8,79.3 332.6,78.7 333.4,78.1 334.2,78.2 335.0,77.5 335.8,75.0 336.6,74.7 337.4,73.2 338.2,69.3 339.0,68.2 339.8,64.2 340.6,62.1 341.4,57.7 342.2,55.6 343.0,49.0 343.8,43.0 344.6,39.9 345.4,33.9 346.2,30.0 347.0,30.3 347.8,25.0 348.6,27.7 349.4,32.1 350.2,36.8 351.0,35.6 351.8,41.4 352.6,43.9 353.4,46.9 354.2,51.2 355.0,53.8 355.8,59.1 356.6,60.4 357.4,64.3 358.2,65.1 359.0,67.4 359.8,71.4 360.6,72.9 361.4,74.0 362.2,73.6 363.0,75.7 363.8,76.2 364.6,77.5 365.4,77.8 366.2,78.4 367.0,78.9 367.8,78.9 368.6,79.2 369.4,79.2 370.2,79.6 371.0,79.6" fill="none" stroke="#ff90cc" stroke-width="1.1" stroke-linejoin="round"/>
<path d="M307.8,80.4 308.6,80.4 309.4,80.4 310.2,80.4 311.0,80.4 311.8,80.4 312.6,80.4 313.4,80.4 314.2,80.4 315.0,80.4 315.8,80.4 316.6,80.4 317.4,80.4 318.2,80.4 319.0,80.4 319.8,80.4 320.6,80.4 321.4,80.4 322.2,80.4 323.0,80.4 323.8,80.4 324.6,80.3 325.4,80.3 326.2,80.3 327.0,80.2 327.8,80.2 328.6,80.0 329.4,80.1 330.2,80.0 331.0,79.5 331.8,79.3 332.6,79.0 333.4,77.9 334.2,76.2 335.0,75.2 335.8,73.7 336.6,73.1 337.4,70.0 338.2,68.0 339.0,65.0 339.8,61.5 340.6,56.7 341.4,48.4 342.2,43.2 343.0,37.3 343.8,31.3 344.6,29.4 345.4,24.0 346.2,19.1 347.0,19.6 347.8,21.8 348.6,25.4 349.4,34.2 350.2,35.6 351.0,39.7 351.8,45.0 352.6,50.7 353.4,53.3 354.2,58.5 355.0,58.5 355.8,61.8 356.6,65.6 357.4,68.7 358.2,69.1 359.0,71.7 359.8,72.6 360.6,74.0 361.4,75.8 362.2,76.8 363.0,77.3 363.8,78.1 364.6,78.9 365.4,79.1 366.2,78.9 367.0,79.9 367.8,80.0 368.6,79.8 369.4,80.0 370.2,80.1 371.0,80.2" fill="none" stroke="#ff3fa8" stroke-width="1.2" stroke-linejoin="round"/>
<line x1="371.50" y1="16.60" x2="371.50" y2="80.40" stroke="#555" stroke-width="1.0" />
<text x="410.00" y="14.50" font-family='"Liberation Sans", sans-serif' font-size="9.6" font-weight="bold" text-anchor="middle" fill="#000" stroke="#000" stroke-width="0.28" >RGS18-RT</text>
<rect x="378.00" y="16.60" width="64.00" height="63.80" fill="none" stroke="#c8c8c8" stroke-width="0.8"/>
<line x1="377.70" y1="16.60" x2="377.70" y2="80.40" stroke="#9a9a9a" stroke-width="0.9" stroke-dasharray="0.9 2.2"/>
<line x1="376.20" y1="21.40" x2="378.20" y2="21.40" stroke="#555" stroke-width="0.9" />
<line x1="376.20" y1="50.90" x2="378.20" y2="50.90" stroke="#555" stroke-width="0.9" />
<line x1="376.20" y1="80.40" x2="378.20" y2="80.40" stroke="#555" stroke-width="0.9" />
<text x="372.50" y="90.00" font-family='"Liberation Sans", sans-serif' font-size="8.0" font-weight="normal" text-anchor="start" fill="#000" stroke="#000" stroke-width="0.3" >10</text>
<text x="381.80" y="85.00" font-family='"Liberation Sans", sans-serif' font-size="4.7" font-weight="normal" text-anchor="start" fill="#444" stroke="#444" stroke-width="0.15" >0</text>
<text x="391.35" y="90.00" font-family='"Liberation Sans", sans-serif' font-size="8.0" font-weight="normal" text-anchor="start" fill="#000" stroke="#000" stroke-width="0.3" >10</text>
<text x="400.65" y="85.00" font-family='"Liberation Sans", sans-serif' font-size="4.7" font-weight="normal" text-anchor="start" fill="#444" stroke="#444" stroke-width="0.15" >1</text>
<text x="410.20" y="90.00" font-family='"Liberation Sans", sans-serif' font-size="8.0" font-weight="normal" text-anchor="start" fill="#000" stroke="#000" stroke-width="0.3" >10</text>
<text x="419.50" y="85.00" font-family='"Liberation Sans", sans-serif' font-size="4.7" font-weight="normal" text-anchor="start" fill="#444" stroke="#444" stroke-width="0.15" >2</text>
<text x="429.05" y="90.00" font-family='"Liberation Sans", sans-serif' font-size="8.0" font-weight="normal" text-anchor="start" fill="#000" stroke="#000" stroke-width="0.3" >10</text>
<text x="438.35" y="85.00" font-family='"Liberation Sans", sans-serif' font-size="4.7" font-weight="normal" text-anchor="start" fill="#444" stroke="#444" stroke-width="0.15" >3</text>
<path d="M378.0,80.4 378.0,80.4 378.8,80.4 379.6,80.4 380.4,80.4 381.2,80.4 382.0,80.4 382.8,80.4 383.6,80.4 384.4,80.4 385.2,80.4 386.0,80.4 386.8,80.4 387.6,80.4 388.4,80.4 389.2,80.4 390.0,80.4 390.8,80.4 391.6,80.4 392.4,80.4 393.2,80.4 394.0,80.4 394.8,80.4 395.6,80.4 396.4,80.4 397.2,80.4 398.0,80.4 398.8,80.3 399.6,80.3 400.4,80.3 401.2,80.2 402.0,80.1 402.8,79.9 403.6,79.7 404.4,79.3 405.2,78.5 406.0,78.4 406.8,77.5 407.6,76.2 408.4,75.6 409.2,73.1 410.0,70.5 410.8,67.1 411.6,66.0 412.4,61.5 413.2,58.1 414.0,50.3 414.8,46.0 415.6,44.8 416.4,36.2 417.2,35.1 418.0,39.6 418.8,44.0 419.6,50.9 420.4,56.2 421.2,58.5 422.0,64.3 422.8,67.4 423.6,70.2 424.4,73.2 425.2,74.2 426.0,75.8 426.8,76.4 427.6,77.9 428.4,78.5 429.2,79.2 430.0,79.4 430.8,79.8 431.6,80.0 432.4,80.1 433.2,80.2 434.0,80.3 434.8,80.3 435.6,80.4 436.4,80.4 437.2,80.4 438.0,80.4 438.8,80.4 439.6,80.4 440.4,80.4 441.2,80.4 442.0,80.4 442.0,80.4 Z" fill="#ababab" stroke="none"/>
<path d="M378.3,80.4 379.1,80.4 379.9,80.4 380.7,80.4 381.5,80.4 382.3,80.4 383.1,80.4 383.9,80.4 384.7,80.4 385.5,80.4 386.3,80.4 387.1,80.4 387.9,80.4 388.7,80.4 389.5,80.4 390.3,80.4 391.1,80.4 391.9,80.4 392.7,80.4 393.5,80.4 394.3,80.4 395.1,80.4 395.9,80.4 396.7,80.4 397.5,80.3 398.3,80.3 399.1,80.2 399.9,80.2 400.7,80.1 401.5,79.9 402.3,79.9 403.1,79.0 403.9,79.4 404.7,78.2 405.5,78.3 406.3,77.1 407.1,74.5 407.9,74.4 408.7,71.4 409.5,69.4 410.3,66.4 411.1,62.7 411.9,59.7 412.7,52.4 413.5,50.8 414.3,45.0 415.1,41.2 415.9,35.4 416.7,31.5 417.5,29.2 418.3,35.8 419.1,41.9 419.9,46.2 420.7,47.9 421.5,56.9 422.3,59.1 423.1,64.0 423.9,66.5 424.7,70.4 425.5,71.9 426.3,74.3 427.1,75.5 427.9,76.3 428.7,77.8 429.5,79.0 430.3,79.5 431.1,79.1 431.9,79.8 432.7,80.0 433.5,80.1 434.3,80.2 435.1,80.3 435.9,80.3 436.7,80.3 437.5,80.4 438.3,80.4 439.1,80.4 439.9,80.4 440.7,80.4 441.5,80.4" fill="none" stroke="#ff3fa8" stroke-width="1.0" stroke-linejoin="round"/>
<path d="M378.3,80.4 379.1,80.4 379.9,80.4 380.7,80.4 381.5,80.4 382.3,80.4 383.1,80.4 383.9,80.4 384.7,80.4 385.5,80.4 386.3,80.4 387.1,80.4 387.9,80.4 388.7,80.4 389.5,80.4 390.3,80.4 391.1,80.4 391.9,80.4 392.7,80.4 393.5,80.4 394.3,80.4 395.1,80.4 395.9,80.4 396.7,80.4 397.5,80.3 398.3,80.3 399.1,80.2 399.9,80.2 400.7,80.1 401.5,79.9 402.3,79.8 403.1,79.7 403.9,78.6 404.7,79.0 405.5,77.6 406.3,76.0 407.1,76.1 407.9,73.6 408.7,71.3 409.5,70.3 410.3,66.3 411.1,61.6 411.9,58.3 412.7,52.4 413.5,49.9 414.3,44.3 415.1,39.9 415.9,33.1 416.7,27.4 417.5,30.0 418.3,32.7 419.1,39.6 419.9,43.0 420.7,51.4 421.5,55.5 422.3,58.5 423.1,62.5 423.9,67.0 424.7,70.9 425.5,72.7 426.3,74.7 427.1,76.1 427.9,76.4 428.7,78.2 429.5,78.1 430.3,78.7 431.1,79.8 431.9,79.8 432.7,79.9 433.5,80.1 434.3,80.2 435.1,80.3 435.9,80.3 436.7,80.3 437.5,80.4 438.3,80.4 439.1,80.4 439.9,80.4 440.7,80.4 441.5,80.4" fill="none" stroke="#c00010" stroke-width="1.1" stroke-linejoin="round"/>
<path d="M378.3,80.4 379.1,80.4 379.9,80.4 380.7,80.4 381.5,80.4 382.3,80.4 383.1,80.4 383.9,80.4 384.7,80.4 385.5,80.4 386.3,80.4 387.1,80.4 387.9,80.4 388.7,80.4 389.5,80.4 390.3,80.4 391.1,80.4 391.9,80.4 392.7,80.4 393.5,80.4 394.3,80.4 395.1,80.4 395.9,80.4 396.7,80.3 397.5,80.3 398.3,80.3 399.1,80.2 399.9,80.2 400.7,80.0 401.5,79.8 402.3,79.7 403.1,79.3 403.9,79.2 404.7,78.0 405.5,77.2 406.3,76.4 407.1,76.0 407.9,73.7 408.7,72.2 409.5,70.0 410.3,64.9 411.1,61.0 411.9,60.4 412.7,52.5 413.5,48.6 414.3,44.4 415.1,39.7 415.9,32.7 416.7,30.1 417.5,27.6 418.3,30.7 419.1,38.1 419.9,39.7 420.7,44.1 421.5,49.5 422.3,56.0 423.1,62.5 423.9,66.2 424.7,68.9 425.5,69.4 426.3,73.3 427.1,74.9 427.9,75.3 428.7,77.4 429.5,78.0 430.3,78.7 431.1,79.6 431.9,79.4 432.7,79.5 433.5,80.0 434.3,80.1 435.1,80.2 435.9,80.3 436.7,80.3 437.5,80.3 438.3,80.4 439.1,80.4 439.9,80.4 440.7,80.4 441.5,80.4" fill="none" stroke="#ff0a1e" stroke-width="1.1" stroke-linejoin="round"/>
<text x="480.00" y="14.50" font-family='"Liberation Sans", sans-serif' font-size="9.6" font-weight="bold" text-anchor="middle" fill="#000" stroke="#000" stroke-width="0.28" >UBA5-RT</text>
<rect x="448.00" y="16.60" width="64.00" height="63.80" fill="none" stroke="#c8c8c8" stroke-width="0.8"/>
<line x1="447.70" y1="16.60" x2="447.70" y2="80.40" stroke="#9a9a9a" stroke-width="0.9" stroke-dasharray="0.9 2.2"/>
<line x1="446.20" y1="21.40" x2="448.20" y2="21.40" stroke="#555" stroke-width="0.9" />
<line x1="446.20" y1="50.90" x2="448.20" y2="50.90" stroke="#555" stroke-width="0.9" />
<line x1="446.20" y1="80.40" x2="448.20" y2="80.40" stroke="#555" stroke-width="0.9" />
<text x="443.50" y="90.00" font-family='"Liberation Sans", sans-serif' font-size="8.0" font-weight="normal" text-anchor="start" fill="#000" stroke="#000" stroke-width="0.3" >10</text>
<text x="452.80" y="85.00" font-family='"Liberation Sans", sans-serif' font-size="4.7" font-weight="normal" text-anchor="start" fill="#444" stroke="#444" stroke-width="0.15" >0</text>
<text x="462.30" y="90.00" font-family='"Liberation Sans", sans-serif' font-size="8.0" font-weight="normal" text-anchor="start" fill="#000" stroke="#000" stroke-width="0.3" >10</text>
<text x="471.60" y="85.00" font-family='"Liberation Sans", sans-serif' font-size="4.7" font-weight="normal" text-anchor="start" fill="#444" stroke="#444" stroke-width="0.15" >1</text>
<text x="481.10" y="90.00" font-family='"Liberation Sans", sans-serif' font-size="8.0" font-weight="normal" text-anchor="start" fill="#000" stroke="#000" stroke-width="0.3" >10</text>
<text x="490.40" y="85.00" font-family='"Liberation Sans", sans-serif' font-size="4.7" font-weight="normal" text-anchor="start" fill="#444" stroke="#444" stroke-width="0.15" >2</text>
<text x="499.90" y="90.00" font-family='"Liberation Sans", sans-serif' font-size="8.0" font-weight="normal" text-anchor="start" fill="#000" stroke="#000" stroke-width="0.3" >10</text>
<text x="509.20" y="85.00" font-family='"Liberation Sans", sans-serif' font-size="4.7" font-weight="normal" text-anchor="start" fill="#444" stroke="#444" stroke-width="0.15" >3</text>
<path d="M448.0,80.4 448.0,80.4 448.8,80.4 449.6,80.4 450.4,80.4 451.2,80.4 452.0,80.4 452.8,80.4 453.6,80.4 454.4,80.4 455.2,80.4 456.0,80.4 456.8,80.4 457.6,80.4 458.4,80.4 459.2,80.4 460.0,80.4 460.8,80.4 461.6,80.4 462.4,80.4 463.2,80.4 464.0,80.4 464.8,80.4 465.6,80.4 466.4,80.4 467.2,80.3 468.0,80.3 468.8,80.2 469.6,80.1 470.4,80.0 471.2,79.4 472.0,79.8 472.8,78.7 473.6,78.7 474.4,76.6 475.2,76.9 476.0,73.6 476.8,71.8 477.6,68.5 478.4,64.6 479.2,63.1 480.0,58.2 480.8,51.6 481.6,48.3 482.4,43.4 483.2,39.6 484.0,34.8 484.8,38.0 485.6,43.1 486.4,51.1 487.2,53.3 488.0,59.9 488.8,65.2 489.6,68.1 490.4,71.2 491.2,74.3 492.0,75.2 492.8,77.0 493.6,77.7 494.4,78.1 495.2,79.0 496.0,79.7 496.8,79.6 497.6,80.0 498.4,80.2 499.2,80.3 500.0,80.3 500.8,80.3 501.6,80.4 502.4,80.4 503.2,80.4 504.0,80.4 504.8,80.4 505.6,80.4 506.4,80.4 507.2,80.4 508.0,80.4 508.8,80.4 509.6,80.4 510.4,80.4 511.2,80.4 512.0,80.4 512.0,80.4 Z" fill="#ababab" stroke="none"/>
<path d="M448.3,80.4 449.1,80.4 449.9,80.4 450.7,80.4 451.5,80.4 452.3,80.4 453.1,80.4 453.9,80.4 454.7,80.4 455.5,80.4 456.3,80.4 457.1,80.4 457.9,80.4 458.7,80.4 459.5,80.4 460.3,80.4 461.1,80.4 461.9,80.4 462.7,80.4 463.5,80.4 464.3,80.4 465.1,80.3 465.9,80.3 466.7,80.3 467.5,80.2 468.3,80.2 469.1,80.0 469.9,79.9 470.7,79.7 471.5,79.3 472.3,78.9 473.1,79.0 473.9,78.6 474.7,77.4 475.5,76.5 476.3,74.2 477.1,72.8 477.9,71.1 478.7,68.8 479.5,65.7 480.3,64.4 481.1,59.8 481.9,57.2 482.7,49.9 483.5,49.7 484.3,42.1 485.1,42.7 485.9,37.5 486.7,40.7 487.5,43.3 488.3,44.9 489.1,52.9 489.9,56.6 490.7,57.0 491.5,62.2 492.3,66.8 493.1,66.9 493.9,69.6 494.7,73.7 495.5,74.6 496.3,76.5 497.1,77.2 497.9,77.6 498.7,78.8 499.5,78.8 500.3,79.7 501.1,79.9 501.9,79.7 502.7,80.0 503.5,80.1 504.3,80.2 505.1,80.3 505.9,80.3 506.7,80.3 507.5,80.4 508.3,80.4 509.1,80.4 509.9,80.4 510.7,80.4 511.5,80.4" fill="none" stroke="#ff3fa8" stroke-width="1.0" stroke-linejoin="round"/>
<path d="M448.3,80.4 449.1,80.4 449.9,80.4 450.7,80.4 451.5,80.4 452.3,80.4 453.1,80.4 453.9,80.4 454.7,80.4 455.5,80.4 456.3,80.4 457.1,80.4 457.9,80.4 458.7,80.4 459.5,80.4 460.3,80.4 461.1,80.4 461.9,80.4 462.7,80.4 463.5,80.4 464.3,80.4 465.1,80.4 465.9,80.3 466.7,80.3 467.5,80.3 468.3,80.2 469.1,80.1 469.9,80.0 470.7,80.0 471.5,79.5 472.3,79.1 473.1,78.5 473.9,78.7 474.7,78.1 475.5,77.4 476.3,76.2 477.1,73.8 477.9,73.4 478.7,70.4 479.5,68.8 480.3,65.7 481.1,62.0 481.9,56.7 482.7,53.6 483.5,52.3 484.3,47.1 485.1,44.1 485.9,37.3 486.7,36.7 487.5,39.0 488.3,42.4 489.1,46.8 489.9,50.1 490.7,54.9 491.5,60.9 492.3,62.2 493.1,66.6 493.9,68.5 494.7,71.4 495.5,73.6 496.3,75.3 497.1,76.4 497.9,77.5 498.7,78.5 499.5,78.3 500.3,78.8 501.1,79.1 501.9,79.6 502.7,79.9 503.5,80.1 504.3,80.2 505.1,80.2 505.9,80.3 506.7,80.3 507.5,80.3 508.3,80.4 509.1,80.4 509.9,80.4 510.7,80.4 511.5,80.4" fill="none" stroke="#c00010" stroke-width="1.1" stroke-linejoin="round"/>
<path d="M448.3,80.4 449.1,80.4 449.9,80.4 450.7,80.4 451.5,80.4 452.3,80.4 453.1,80.4 453.9,80.4 454.7,80.4 455.5,80.4 456.3,80.4 457.1,80.4 457.9,80.4 458.7,80.4 459.5,80.4 460.3,80.4 461.1,80.4 461.9,80.4 462.7,80.4 463.5,80.4 464.3,80.4 465.1,80.4 465.9,80.3 466.7,80.3 467.5,80.3 468.3,80.2 469.1,80.2 469.9,80.1 470.7,79.9 471.5,80.0 472.3,79.3 473.1,79.0 473.9,78.1 474.7,78.3 475.5,77.6 476.3,75.8 477.1,74.7 477.9,73.9 478.7,71.1 479.5,69.5 480.3,65.7 481.1,64.8 481.9,61.1 482.7,54.7 483.5,53.0 484.3,49.5 485.1,43.1 485.9,40.7 486.7,41.4 487.5,40.5 488.3,42.9 489.1,49.0 489.9,50.7 490.7,56.9 491.5,59.8 492.3,64.2 493.1,66.8 493.9,67.2 494.7,71.2 495.5,71.9 496.3,74.7 497.1,75.8 497.9,76.4 498.7,77.6 499.5,79.0 500.3,78.9 501.1,79.3 501.9,79.9 502.7,80.1 503.5,80.0 504.3,80.1 505.1,80.2 505.9,80.3 506.7,80.3 507.5,80.3 508.3,80.4 509.1,80.4 509.9,80.4 510.7,80.4 511.5,80.4" fill="none" stroke="#ff0a1e" stroke-width="1.1" stroke-linejoin="round"/>
<text x="550.00" y="14.50" font-family='"Liberation Sans", sans-serif' font-size="9.6" font-weight="bold" text-anchor="middle" fill="#000" stroke="#000" stroke-width="0.28" >RAB18-RT</text>
<rect x="518.00" y="16.60" width="64.00" height="63.80" fill="none" stroke="#c8c8c8" stroke-width="0.8"/>
<line x1="517.70" y1="16.60" x2="517.70" y2="80.40" stroke="#9a9a9a" stroke-width="0.9" stroke-dasharray="0.9 2.2"/>
<line x1="516.20" y1="21.40" x2="518.20" y2="21.40" stroke="#555" stroke-width="0.9" />
<line x1="516.20" y1="50.90" x2="518.20" y2="50.90" stroke="#555" stroke-width="0.9" />
<line x1="516.20" y1="80.40" x2="518.20" y2="80.40" stroke="#555" stroke-width="0.9" />
<text x="513.50" y="90.00" font-family='"Liberation Sans", sans-serif' font-size="8.0" font-weight="normal" text-anchor="start" fill="#000" stroke="#000" stroke-width="0.3" >10</text>
<text x="522.80" y="85.00" font-family='"Liberation Sans", sans-serif' font-size="4.7" font-weight="normal" text-anchor="start" fill="#444" stroke="#444" stroke-width="0.15" >0</text>
<text x="532.85" y="90.00" font-family='"Liberation Sans", sans-serif' font-size="8.0" font-weight="normal" text-anchor="start" fill="#000" stroke="#000" stroke-width="0.3" >10</text>
<text x="542.15" y="85.00" font-family='"Liberation Sans", sans-serif' font-size="4.7" font-weight="normal" text-anchor="start" fill="#444" stroke="#444" stroke-width="0.15" >1</text>
<text x="552.20" y="90.00" font-family='"Liberation Sans", sans-serif' font-size="8.0" font-weight="normal" text-anchor="start" fill="#000" stroke="#000" stroke-width="0.3" >10</text>
<text x="561.50" y="85.00" font-family='"Liberation Sans", sans-serif' font-size="4.7" font-weight="normal" text-anchor="start" fill="#444" stroke="#444" stroke-width="0.15" >2</text>
<text x="571.55" y="90.00" font-family='"Liberation Sans", sans-serif' font-size="8.0" font-weight="normal" text-anchor="start" fill="#000" stroke="#000" stroke-width="0.3" >10</text>
<text x="580.85" y="85.00" font-family='"Liberation Sans", sans-serif' font-size="4.7" font-weight="normal" text-anchor="start" fill="#444" stroke="#444" stroke-width="0.15" >3</text>
<path d="M518.0,80.4 518.0,80.4 518.8,80.4 519.6,80.4 520.4,80.4 521.2,80.4 522.0,80.4 522.8,80.4 523.6,80.4 524.4,80.4 525.2,80.4 526.0,80.4 526.8,80.4 527.6,80.4 528.4,80.4 529.2,80.4 530.0,80.4 530.8,80.3 531.6,80.3 532.4,80.2 533.2,80.2 534.0,80.1 534.8,79.9 535.6,79.6 536.4,79.2 537.2,79.1 538.0,78.6 538.8,78.0 539.6,76.2 540.4,76.2 541.2,75.1 542.0,73.1 542.8,71.0 543.6,68.2 544.4,65.2 545.2,62.2 546.0,57.3 546.8,52.9 547.6,47.0 548.4,44.1 549.2,40.5 550.0,36.4 550.8,33.4 551.6,36.9 552.4,39.1 553.2,43.4 554.0,50.1 554.8,56.1 555.6,57.8 556.4,61.8 557.2,66.4 558.0,68.6 558.8,72.0 559.6,72.6 560.4,74.5 561.2,76.0 562.0,76.8 562.8,78.6 563.6,78.8 564.4,79.1 565.2,79.4 566.0,79.9 566.8,80.0 567.6,80.1 568.4,80.2 569.2,80.3 570.0,80.3 570.8,80.3 571.6,80.4 572.4,80.4 573.2,80.4 574.0,80.4 574.8,80.4 575.6,80.4 576.4,80.4 577.2,80.4 578.0,80.4 578.8,80.4 579.6,80.4 580.4,80.4 581.2,80.4 582.0,80.4 582.0,80.4 Z" fill="#ababab" stroke="none"/>
<path d="M518.3,80.4 519.1,80.4 519.9,80.4 520.7,80.4 521.5,80.4 522.3,80.4 523.1,80.4 523.9,80.4 524.7,80.4 525.5,80.4 526.3,80.4 527.1,80.4 527.9,80.4 528.7,80.4 529.5,80.4 530.3,80.3 531.1,80.3 531.9,80.3 532.7,80.2 533.5,80.1 534.3,80.0 535.1,79.9 535.9,79.6 536.7,79.4 537.5,79.0 538.3,78.5 539.1,77.4 539.9,77.1 540.7,75.2 541.5,75.0 542.3,72.6 543.1,70.3 543.9,68.2 544.7,63.0 545.5,60.9 546.3,54.9 547.1,49.5 547.9,48.1 548.7,40.2 549.5,36.4 550.3,33.7 551.1,36.4 551.9,36.5 552.7,39.4 553.5,45.6 554.3,50.6 555.1,54.7 555.9,59.1 556.7,61.0 557.5,66.0 558.3,68.7 559.1,70.7 559.9,72.1 560.7,75.2 561.5,76.9 562.3,76.5 563.1,77.6 563.9,78.3 564.7,79.1 565.5,79.7 566.3,80.0 567.1,79.9 567.9,80.1 568.7,80.2 569.5,80.2 570.3,80.3 571.1,80.3 571.9,80.4 572.7,80.4 573.5,80.4 574.3,80.4 575.1,80.4 575.9,80.4 576.7,80.4 577.5,80.4 578.3,80.4 579.1,80.4 579.9,80.4 580.7,80.4 581.5,80.4" fill="none" stroke="#ff3fa8" stroke-width="1.0" stroke-linejoin="round"/>
<path d="M518.3,80.4 519.1,80.4 519.9,80.4 520.7,80.4 521.5,80.4 522.3,80.4 523.1,80.4 523.9,80.4 524.7,80.4 525.5,80.4 526.3,80.4 527.1,80.4 527.9,80.4 528.7,80.4 529.5,80.4 530.3,80.3 531.1,80.3 531.9,80.3 532.7,80.2 533.5,80.1 534.3,80.0 535.1,79.8 535.9,79.4 536.7,78.9 537.5,79.1 538.3,78.0 539.1,77.3 539.9,76.3 540.7,76.1 541.5,74.8 542.3,72.1 543.1,68.8 543.9,67.5 544.7,63.4 545.5,60.3 546.3,53.9 547.1,48.7 547.9,46.4 548.7,38.5 549.5,39.2 550.3,31.5 551.1,30.1 551.9,36.9 552.7,37.8 553.5,43.2 554.3,46.2 555.1,54.3 555.9,57.3 556.7,60.1 557.5,64.6 558.3,68.7 559.1,71.8 559.9,71.9 560.7,74.7 561.5,75.1 562.3,77.6 563.1,77.5 563.9,78.2 564.7,78.7 565.5,79.9 566.3,79.8 567.1,79.9 567.9,80.1 568.7,80.2 569.5,80.2 570.3,80.3 571.1,80.3 571.9,80.4 572.7,80.4 573.5,80.4 574.3,80.4 575.1,80.4 575.9,80.4 576.7,80.4 577.5,80.4 578.3,80.4 579.1,80.4 579.9,80.4 580.7,80.4 581.5,80.4" fill="none" stroke="#c00010" stroke-width="1.1" stroke-linejoin="round"/>
<path d="M518.3,80.4 519.1,80.4 519.9,80.4 520.7,80.4 521.5,80.4 522.3,80.4 523.1,80.4 523.9,80.4 524.7,80.4 525.5,80.4 526.3,80.4 527.1,80.4 527.9,80.4 528.7,80.4 529.5,80.4 530.3,80.3 531.1,80.3 531.9,80.3 532.7,80.2 533.5,80.1 534.3,80.0 535.1,80.1 535.9,79.5 536.7,79.5 537.5,79.3 538.3,78.4 539.1,77.7 539.9,76.9 540.7,75.8 541.5,74.8 542.3,73.2 543.1,69.9 543.9,68.4 544.7,64.3 545.5,60.4 546.3,56.1 547.1,51.5 547.9,50.2 548.7,45.8 549.5,39.0 550.3,36.3 551.1,36.2 551.9,35.0 552.7,37.3 553.5,41.7 554.3,49.2 555.1,53.2 555.9,58.6 556.7,58.8 557.5,65.0 558.3,66.5 559.1,69.7 559.9,71.9 560.7,73.9 561.5,74.8 562.3,76.4 563.1,77.8 563.9,78.7 564.7,78.9 565.5,78.9 566.3,79.8 567.1,79.7 567.9,80.0 568.7,80.1 569.5,80.2 570.3,80.3 571.1,80.3 571.9,80.3 572.7,80.4 573.5,80.4 574.3,80.4 575.1,80.4 575.9,80.4 576.7,80.4 577.5,80.4 578.3,80.4 579.1,80.4 579.9,80.4 580.7,80.4 581.5,80.4" fill="none" stroke="#ff0a1e" stroke-width="1.1" stroke-linejoin="round"/>
<text x="339.00" y="104.00" font-family='"Liberation Sans", sans-serif' font-size="9.6" font-weight="bold" text-anchor="middle" fill="#000" stroke="#000" stroke-width="0.28" >LAMTOR5-RT</text>
<rect x="307.00" y="108.50" width="64.00" height="60.80" fill="none" stroke="#c8c8c8" stroke-width="0.8"/>
<line x1="306.70" y1="108.50" x2="306.70" y2="169.30" stroke="#9a9a9a" stroke-width="0.9" stroke-dasharray="0.9 2.2"/>
<line x1="305.20" y1="110.30" x2="307.20" y2="110.30" stroke="#555" stroke-width="0.9" />
<line x1="305.20" y1="139.80" x2="307.20" y2="139.80" stroke="#555" stroke-width="0.9" />
<line x1="305.20" y1="169.30" x2="307.20" y2="169.30" stroke="#555" stroke-width="0.9" />
<text x="302.50" y="179.00" font-family='"Liberation Sans", sans-serif' font-size="8.0" font-weight="normal" text-anchor="start" fill="#000" stroke="#000" stroke-width="0.3" >10</text>
<text x="311.80" y="174.00" font-family='"Liberation Sans", sans-serif' font-size="4.7" font-weight="normal" text-anchor="start" fill="#444" stroke="#444" stroke-width="0.15" >0</text>
<text x="321.25" y="179.00" font-family='"Liberation Sans", sans-serif' font-size="8.0" font-weight="normal" text-anchor="start" fill="#000" stroke="#000" stroke-width="0.3" >10</text>
<text x="330.55" y="174.00" font-family='"Liberation Sans", sans-serif' font-size="4.7" font-weight="normal" text-anchor="start" fill="#444" stroke="#444" stroke-width="0.15" >1</text>
<text x="340.00" y="179.00" font-family='"Liberation Sans", sans-serif' font-size="8.0" font-weight="normal" text-anchor="start" fill="#000" stroke="#000" stroke-width="0.3" >10</text>
<text x="349.30" y="174.00" font-family='"Liberation Sans", sans-serif' font-size="4.7" font-weight="normal" text-anchor="start" fill="#444" stroke="#444" stroke-width="0.15" >2</text>
<text x="358.75" y="179.00" font-family='"Liberation Sans", sans-serif' font-size="8.0" font-weight="normal" text-anchor="start" fill="#000" stroke="#000" stroke-width="0.3" >10</text>
<text x="368.05" y="174.00" font-family='"Liberation Sans", sans-serif' font-size="4.7" font-weight="normal" text-anchor="start" fill="#444" stroke="#444" stroke-width="0.15" >3</text>
<text x="304.80" y="112.90" font-family='"Liberation Sans", sans-serif' font-size="7.9" font-weight="normal" text-anchor="end" fill="#111" stroke="#111" stroke-width="0.3" >300</text>
<text x="304.40" y="172.10" font-family='"Liberation Sans", sans-serif' font-size="7.9" font-weight="normal" text-anchor="end" fill="#111" stroke="#111" stroke-width="0.3" >0</text>
<path d="M307.0,169.3 307.0,169.3 307.8,169.3 308.6,169.3 309.4,169.3 310.2,169.3 311.0,169.3 311.8,169.3 312.6,169.3 313.4,169.3 314.2,169.3 315.0,169.3 315.8,169.3 316.6,169.3 317.4,169.3 318.2,169.3 319.0,169.3 319.8,169.3 320.6,169.3 321.4,169.3 322.2,169.3 323.0,169.3 323.8,169.3 324.6,169.3 325.4,169.2 326.2,169.2 327.0,169.1 327.8,169.0 328.6,168.8 329.4,168.2 330.2,167.7 331.0,167.0 331.8,167.0 332.6,164.8 333.4,163.2 334.2,160.2 335.0,157.9 335.8,153.4 336.6,147.2 337.4,142.0 338.2,134.3 339.0,130.2 339.8,125.4 340.6,120.9 341.4,122.7 342.2,123.0 343.0,123.5 343.8,130.1 344.6,137.4 345.4,140.0 346.2,146.5 347.0,151.2 347.8,155.5 348.6,158.0 349.4,162.2 350.2,163.5 351.0,165.8 351.8,166.6 352.6,167.3 353.4,168.3 354.2,168.8 355.0,168.8 355.8,169.0 356.6,169.1 357.4,169.2 358.2,169.2 359.0,169.3 359.8,169.3 360.6,169.3 361.4,169.3 362.2,169.3 363.0,169.3 363.8,169.3 364.6,169.3 365.4,169.3 366.2,169.3 367.0,169.3 367.8,169.3 368.6,169.3 369.4,169.3 370.2,169.3 371.0,169.3 371.0,169.3 Z" fill="#ababab" stroke="none"/>
<path d="M307.3,169.3 308.1,169.3 308.9,169.3 309.7,169.3 310.5,169.3 311.3,169.3 312.1,169.3 312.9,169.3 313.7,169.3 314.5,169.3 315.3,169.3 316.1,169.3 316.9,169.3 317.7,169.3 318.5,169.3 319.3,169.3 320.1,169.3 320.9,169.3 321.7,169.3 322.5,169.3 323.3,169.3 324.1,169.3 324.9,169.2 325.7,169.2 326.5,169.1 327.3,169.0 328.1,168.9 328.9,168.3 329.7,168.0 330.5,167.3 331.3,166.2 332.1,165.9 332.9,163.4 333.7,160.4 334.5,157.2 335.3,154.0 336.1,150.5 336.9,143.9 337.7,134.8 338.5,132.5 339.3,125.4 340.1,118.8 340.9,121.3 341.7,123.0 342.5,123.3 343.3,121.8 344.1,129.8 344.9,135.3 345.7,140.3 346.5,145.2 347.3,151.3 348.1,156.7 348.9,158.6 349.7,162.6 350.5,164.5 351.3,165.8 352.1,166.2 352.9,167.6 353.7,167.8 354.5,168.7 355.3,169.0 356.1,168.9 356.9,169.1 357.7,169.1 358.5,169.2 359.3,169.2 360.1,169.3 360.9,169.3 361.7,169.3 362.5,169.3 363.3,169.3 364.1,169.3 364.9,169.3 365.7,169.3 366.5,169.3 367.3,169.3 368.1,169.3 368.9,169.3 369.7,169.3 370.5,169.3" fill="none" stroke="#ff3fa8" stroke-width="1.0" stroke-linejoin="round"/>
<path d="M307.3,169.3 308.1,169.3 308.9,169.3 309.7,169.3 310.5,169.3 311.3,169.3 312.1,169.3 312.9,169.3 313.7,169.3 314.5,169.3 315.3,169.3 316.1,169.3 316.9,169.3 317.7,169.3 318.5,169.3 319.3,169.3 320.1,169.3 320.9,169.3 321.7,169.3 322.5,169.3 323.3,169.3 324.1,169.3 324.9,169.2 325.7,169.2 326.5,169.1 327.3,169.0 328.1,168.9 328.9,168.8 329.7,168.0 330.5,167.4 331.3,166.7 332.1,165.9 332.9,163.0 333.7,160.4 334.5,158.0 335.3,153.9 336.1,149.9 336.9,145.2 337.7,137.1 338.5,129.3 339.3,126.0 340.1,118.9 340.9,121.8 341.7,122.2 342.5,124.2 343.3,120.4 344.1,126.5 344.9,131.9 345.7,139.3 346.5,147.4 347.3,151.1 348.1,154.8 348.9,159.4 349.7,160.0 350.5,163.6 351.3,165.6 352.1,165.8 352.9,167.7 353.7,167.4 354.5,168.4 355.3,168.6 356.1,168.9 356.9,169.0 357.7,169.1 358.5,169.2 359.3,169.2 360.1,169.3 360.9,169.3 361.7,169.3 362.5,169.3 363.3,169.3 364.1,169.3 364.9,169.3 365.7,169.3 366.5,169.3 367.3,169.3 368.1,169.3 368.9,169.3 369.7,169.3 370.5,169.3" fill="none" stroke="#c00010" stroke-width="1.1" stroke-linejoin="round"/>
<path d="M307.3,169.3 308.1,169.3 308.9,169.3 309.7,169.3 310.5,169.3 311.3,169.3 312.1,169.3 312.9,169.3 313.7,169.3 314.5,169.3 315.3,169.3 316.1,169.3 316.9,169.3 317.7,169.3 318.5,169.3 319.3,169.3 320.1,169.3 320.9,169.3 321.7,169.3 322.5,169.3 323.3,169.3 324.1,169.3 324.9,169.3 325.7,169.2 326.5,169.2 327.3,169.1 328.1,168.9 328.9,168.4 329.7,168.6 330.5,168.3 331.3,166.4 332.1,166.4 332.9,165.0 333.7,161.7 334.5,159.6 335.3,154.2 336.1,151.8 336.9,143.4 337.7,139.9 338.5,131.9 339.3,123.8 340.1,121.1 340.9,119.0 341.7,120.5 342.5,125.0 343.3,121.6 344.1,126.8 344.9,133.9 345.7,140.4 346.5,143.1 347.3,149.4 348.1,152.6 348.9,156.9 349.7,159.5 350.5,162.8 351.3,164.4 352.1,165.9 352.9,167.3 353.7,167.3 354.5,168.4 355.3,168.4 356.1,168.8 356.9,169.0 357.7,169.1 358.5,169.2 359.3,169.2 360.1,169.3 360.9,169.3 361.7,169.3 362.5,169.3 363.3,169.3 364.1,169.3 364.9,169.3 365.7,169.3 366.5,169.3 367.3,169.3 368.1,169.3 368.9,169.3 369.7,169.3 370.5,169.3" fill="none" stroke="#ff0a1e" stroke-width="1.1" stroke-linejoin="round"/>
<line x1="371.00" y1="108.50" x2="371.00" y2="169.30" stroke="#555" stroke-width="1.0" />
<text x="409.60" y="104.00" font-family='"Liberation Sans", sans-serif' font-size="9.6" font-weight="bold" text-anchor="middle" fill="#000" stroke="#000" stroke-width="0.28" >ARHGEF35-RT</text>
<rect x="377.60" y="108.50" width="64.00" height="60.80" fill="none" stroke="#c8c8c8" stroke-width="0.8"/>
<line x1="377.30" y1="108.50" x2="377.30" y2="169.30" stroke="#9a9a9a" stroke-width="0.9" stroke-dasharray="0.9 2.2"/>
<line x1="375.80" y1="110.30" x2="377.80" y2="110.30" stroke="#555" stroke-width="0.9" />
<line x1="375.80" y1="139.80" x2="377.80" y2="139.80" stroke="#555" stroke-width="0.9" />
<line x1="375.80" y1="169.30" x2="377.80" y2="169.30" stroke="#555" stroke-width="0.9" />
<text x="372.70" y="179.00" font-family='"Liberation Sans", sans-serif' font-size="8.0" font-weight="normal" text-anchor="start" fill="#000" stroke="#000" stroke-width="0.3" >10</text>
<text x="382.00" y="174.00" font-family='"Liberation Sans", sans-serif' font-size="4.7" font-weight="normal" text-anchor="start" fill="#444" stroke="#444" stroke-width="0.15" >0</text>
<text x="391.40" y="179.00" font-family='"Liberation Sans", sans-serif' font-size="8.0" font-weight="normal" text-anchor="start" fill="#000" stroke="#000" stroke-width="0.3" >10</text>
<text x="400.70" y="174.00" font-family='"Liberation Sans", sans-serif' font-size="4.7" font-weight="normal" text-anchor="start" fill="#444" stroke="#444" stroke-width="0.15" >1</text>
<text x="410.10" y="179.00" font-family='"Liberation Sans", sans-serif' font-size="8.0" font-weight="normal" text-anchor="start" fill="#000" stroke="#000" stroke-width="0.3" >10</text>
<text x="419.40" y="174.00" font-family='"Liberation Sans", sans-serif' font-size="4.7" font-weight="normal" text-anchor="start" fill="#444" stroke="#444" stroke-width="0.15" >2</text>
<text x="428.80" y="179.00" font-family='"Liberation Sans", sans-serif' font-size="8.0" font-weight="normal" text-anchor="start" fill="#000" stroke="#000" stroke-width="0.3" >10</text>
<text x="438.10" y="174.00" font-family='"Liberation Sans", sans-serif' font-size="4.7" font-weight="normal" text-anchor="start" fill="#444" stroke="#444" stroke-width="0.15" >3</text>
<path d="M377.6,169.3 377.6,169.3 378.4,169.3 379.2,169.3 380.0,169.3 380.8,169.3 381.6,169.3 382.4,169.3 383.2,169.3 384.0,169.3 384.8,169.3 385.6,169.3 386.4,169.3 387.2,169.3 388.0,169.3 388.8,169.3 389.6,169.3 390.4,169.3 391.2,169.3 392.0,169.3 392.8,169.3 393.6,169.2 394.4,169.2 395.2,169.2 396.0,169.1 396.8,169.1 397.6,169.0 398.4,168.8 399.2,168.5 400.0,168.2 400.8,167.5 401.6,167.8 402.4,167.4 403.2,165.6 404.0,165.3 404.8,163.9 405.6,161.3 406.4,160.8 407.2,156.5 408.0,154.8 408.8,153.0 409.6,146.2 410.4,143.4 411.2,141.3 412.0,133.3 412.8,129.2 413.6,125.6 414.4,123.4 415.2,122.1 416.0,130.4 416.8,129.3 417.6,135.4 418.4,141.6 419.2,144.3 420.0,149.4 420.8,151.8 421.6,154.9 422.4,158.2 423.2,161.6 424.0,162.7 424.8,164.4 425.6,164.9 426.4,165.6 427.2,166.7 428.0,167.6 428.8,168.4 429.6,168.2 430.4,168.8 431.2,168.8 432.0,169.0 432.8,169.1 433.6,169.1 434.4,169.2 435.2,169.2 436.0,169.3 436.8,169.3 437.6,169.3 438.4,169.3 439.2,169.3 440.0,169.3 440.8,169.3 441.6,169.3 441.6,169.3 Z" fill="#ababab" stroke="none"/>
<path d="M377.9,169.3 378.7,169.3 379.5,169.3 380.3,169.3 381.1,169.3 381.9,169.3 382.7,169.3 383.5,169.3 384.3,169.3 385.1,169.3 385.9,169.3 386.7,169.3 387.5,169.3 388.3,169.3 389.1,169.3 389.9,169.3 390.7,169.3 391.5,169.3 392.3,169.3 393.1,169.2 393.9,169.2 394.7,169.2 395.5,169.1 396.3,169.1 397.1,169.0 397.9,168.8 398.7,168.5 399.5,168.1 400.3,168.4 401.1,167.1 401.9,167.5 402.7,166.1 403.5,166.1 404.3,163.7 405.1,163.5 405.9,160.5 406.7,158.2 407.5,155.4 408.3,153.4 409.1,148.4 409.9,144.0 410.7,143.6 411.5,137.6 412.3,131.1 413.1,128.1 413.9,126.4 414.7,125.4 415.5,123.6 416.3,131.6 417.1,132.1 417.9,136.0 418.7,143.4 419.5,146.7 420.3,150.5 421.1,153.1 421.9,156.6 422.7,157.7 423.5,159.9 424.3,163.2 425.1,163.5 425.9,166.1 426.7,166.9 427.5,166.9 428.3,167.3 429.1,167.8 429.9,168.0 430.7,168.4 431.5,168.8 432.3,169.0 433.1,169.1 433.9,169.1 434.7,169.2 435.5,169.2 436.3,169.2 437.1,169.3 437.9,169.3 438.7,169.3 439.5,169.3 440.3,169.3 441.1,169.3" fill="none" stroke="#ff3fa8" stroke-width="1.0" stroke-linejoin="round"/>
<path d="M377.9,169.3 378.7,169.3 379.5,169.3 380.3,169.3 381.1,169.3 381.9,169.3 382.7,169.3 383.5,169.3 384.3,169.3 385.1,169.3 385.9,169.3 386.7,169.3 387.5,169.3 388.3,169.3 389.1,169.3 389.9,169.3 390.7,169.3 391.5,169.3 392.3,169.3 393.1,169.2 393.9,169.2 394.7,169.2 395.5,169.1 396.3,169.1 397.1,169.0 397.9,168.8 398.7,168.7 399.5,168.1 400.3,167.8 401.1,167.9 401.9,166.6 402.7,166.1 403.5,166.1 404.3,163.3 405.1,163.2 405.9,161.3 406.7,158.9 407.5,155.8 408.3,154.3 409.1,148.9 409.9,144.4 410.7,141.6 411.5,135.9 412.3,132.3 413.1,127.2 413.9,127.4 414.7,124.6 415.5,125.8 416.3,131.1 417.1,130.6 417.9,136.6 418.7,143.4 419.5,145.4 420.3,149.9 421.1,154.1 421.9,157.1 422.7,158.8 423.5,161.9 424.3,162.6 425.1,164.1 425.9,166.0 426.7,165.8 427.5,167.6 428.3,168.0 429.1,167.8 429.9,168.6 430.7,168.7 431.5,168.8 432.3,169.0 433.1,169.1 433.9,169.1 434.7,169.2 435.5,169.2 436.3,169.2 437.1,169.3 437.9,169.3 438.7,169.3 439.5,169.3 440.3,169.3 441.1,169.3" fill="none" stroke="#c00010" stroke-width="1.1" stroke-linejoin="round"/>
<path d="M377.9,169.3 378.7,169.3 379.5,169.3 380.3,169.3 381.1,169.3 381.9,169.3 382.7,169.3 383.5,169.3 384.3,169.3 385.1,169.3 385.9,169.3 386.7,169.3 387.5,169.3 388.3,169.3 389.1,169.3 389.9,169.3 390.7,169.3 391.5,169.3 392.3,169.3 393.1,169.3 393.9,169.2 394.7,169.2 395.5,169.2 396.3,169.1 397.1,169.0 397.9,168.9 398.7,168.6 399.5,168.7 400.3,168.5 401.1,167.7 401.9,167.9 402.7,166.3 403.5,165.4 404.3,165.6 405.1,163.0 405.9,161.8 406.7,159.4 407.5,156.0 408.3,153.0 409.1,151.7 409.9,146.4 410.7,142.5 411.5,137.4 412.3,137.6 413.1,129.0 413.9,129.2 414.7,127.3 415.5,125.1 416.3,126.7 417.1,129.9 417.9,137.0 418.7,139.2 419.5,146.7 420.3,146.9 421.1,152.9 421.9,155.2 422.7,159.1 423.5,161.4 424.3,163.3 425.1,163.6 425.9,164.9 426.7,165.6 427.5,166.4 428.3,167.6 429.1,167.6 429.9,168.6 430.7,168.3 431.5,168.9 432.3,168.9 433.1,169.0 433.9,169.1 434.7,169.2 435.5,169.2 436.3,169.2 437.1,169.3 437.9,169.3 438.7,169.3 439.5,169.3 440.3,169.3 441.1,169.3" fill="none" stroke="#ff0a1e" stroke-width="1.1" stroke-linejoin="round"/>
<text x="480.40" y="104.00" font-family='"Liberation Sans", sans-serif' font-size="9.6" font-weight="bold" text-anchor="middle" fill="#000" stroke="#000" stroke-width="0.28" >RBBP4-RT</text>
<rect x="448.40" y="108.50" width="64.00" height="60.80" fill="none" stroke="#c8c8c8" stroke-width="0.8"/>
<line x1="448.10" y1="108.50" x2="448.10" y2="169.30" stroke="#9a9a9a" stroke-width="0.9" stroke-dasharray="0.9 2.2"/>
<line x1="446.60" y1="110.30" x2="448.60" y2="110.30" stroke="#555" stroke-width="0.9" />
<line x1="446.60" y1="139.80" x2="448.60" y2="139.80" stroke="#555" stroke-width="0.9" />
<line x1="446.60" y1="169.30" x2="448.60" y2="169.30" stroke="#555" stroke-width="0.9" />
<text x="443.10" y="179.00" font-family='"Liberation Sans", sans-serif' font-size="8.0" font-weight="normal" text-anchor="start" fill="#000" stroke="#000" stroke-width="0.3" >10</text>
<text x="452.40" y="174.00" font-family='"Liberation Sans", sans-serif' font-size="4.7" font-weight="normal" text-anchor="start" fill="#444" stroke="#444" stroke-width="0.15" >0</text>
<text x="461.85" y="179.00" font-family='"Liberation Sans", sans-serif' font-size="8.0" font-weight="normal" text-anchor="start" fill="#000" stroke="#000" stroke-width="0.3" >10</text>
<text x="471.15" y="174.00" font-family='"Liberation Sans", sans-serif' font-size="4.7" font-weight="normal" text-anchor="start" fill="#444" stroke="#444" stroke-width="0.15" >1</text>
<text x="480.60" y="179.00" font-family='"Liberation Sans", sans-serif' font-size="8.0" font-weight="normal" text-anchor="start" fill="#000" stroke="#000" stroke-width="0.3" >10</text>
<text x="489.90" y="174.00" font-family='"Liberation Sans", sans-serif' font-size="4.7" font-weight="normal" text-anchor="start" fill="#444" stroke="#444" stroke-width="0.15" >2</text>
<text x="499.35" y="179.00" font-family='"Liberation Sans", sans-serif' font-size="8.0" font-weight="normal" text-anchor="start" fill="#000" stroke="#000" stroke-width="0.3" >10</text>
<text x="508.65" y="174.00" font-family='"Liberation Sans", sans-serif' font-size="4.7" font-weight="normal" text-anchor="start" fill="#444" stroke="#444" stroke-width="0.15" >3</text>
<path d="M448.4,169.3 448.4,169.3 449.2,169.3 450.0,169.3 450.8,169.3 451.6,169.3 452.4,169.3 453.2,169.3 454.0,169.3 454.8,169.3 455.6,169.3 456.4,169.3 457.2,169.3 458.0,169.3 458.8,169.3 459.6,169.3 460.4,169.3 461.2,169.3 462.0,169.3 462.8,169.3 463.6,169.3 464.4,169.3 465.2,169.3 466.0,169.3 466.8,169.3 467.6,169.3 468.4,169.2 469.2,169.2 470.0,169.2 470.8,169.1 471.6,169.0 472.4,168.9 473.2,169.1 474.0,168.8 474.8,168.4 475.6,167.7 476.4,167.8 477.2,167.2 478.0,166.3 478.8,164.3 479.6,164.2 480.4,161.2 481.2,159.4 482.0,158.5 482.8,154.6 483.6,151.7 484.4,148.4 485.2,142.2 486.0,142.2 486.8,138.8 487.6,130.7 488.4,130.7 489.2,130.9 490.0,132.3 490.8,135.3 491.6,136.3 492.4,143.6 493.2,147.3 494.0,149.5 494.8,153.0 495.6,154.7 496.4,157.7 497.2,161.2 498.0,163.3 498.8,163.5 499.6,164.5 500.4,167.0 501.2,166.8 502.0,167.2 502.8,167.9 503.6,168.6 504.4,168.5 505.2,168.8 506.0,169.0 506.8,169.1 507.6,169.1 508.4,169.2 509.2,169.2 510.0,169.3 510.8,169.3 511.6,169.3 512.4,169.3 512.4,169.3 Z" fill="#ababab" stroke="none"/>
<path d="M448.7,169.3 449.5,169.3 450.3,169.3 451.1,169.3 451.9,169.3 452.7,169.3 453.5,169.3 454.3,169.3 455.1,169.3 455.9,169.3 456.7,169.3 457.5,169.3 458.3,169.3 459.1,169.3 459.9,169.3 460.7,169.3 461.5,169.3 462.3,169.3 463.1,169.3 463.9,169.3 464.7,169.3 465.5,169.3 466.3,169.3 467.1,169.3 467.9,169.3 468.7,169.2 469.5,169.2 470.3,169.2 471.1,169.1 471.9,169.0 472.7,168.9 473.5,169.0 474.3,168.8 475.1,168.1 475.9,168.2 476.7,167.8 477.5,166.7 478.3,166.0 479.1,165.3 479.9,163.7 480.7,161.1 481.5,160.9 482.3,158.6 483.1,156.5 483.9,152.9 484.7,150.1 485.5,142.9 486.3,142.0 487.1,135.0 487.9,135.7 488.7,128.8 489.5,129.3 490.3,129.9 491.1,133.0 491.9,138.4 492.7,142.3 493.5,144.2 494.3,150.0 495.1,153.7 495.9,154.1 496.7,157.3 497.5,160.6 498.3,161.8 499.1,162.7 499.9,165.2 500.7,166.4 501.5,166.8 502.3,167.7 503.1,168.0 503.9,168.6 504.7,168.3 505.5,168.5 506.3,168.9 507.1,169.0 507.9,169.1 508.7,169.2 509.5,169.2 510.3,169.2 511.1,169.3 511.9,169.3" fill="none" stroke="#ff3fa8" stroke-width="1.0" stroke-linejoin="round"/>
<path d="M448.7,169.3 449.5,169.3 450.3,169.3 451.1,169.3 451.9,169.3 452.7,169.3 453.5,169.3 454.3,169.3 455.1,169.3 455.9,169.3 456.7,169.3 457.5,169.3 458.3,169.3 459.1,169.3 459.9,169.3 460.7,169.3 461.5,169.3 462.3,169.3 463.1,169.3 463.9,169.3 464.7,169.3 465.5,169.3 466.3,169.3 467.1,169.3 467.9,169.3 468.7,169.2 469.5,169.2 470.3,169.2 471.1,169.1 471.9,169.0 472.7,168.9 473.5,168.8 474.3,168.7 475.1,168.1 475.9,168.2 476.7,167.5 477.5,167.1 478.3,166.3 479.1,164.4 479.9,164.8 480.7,162.6 481.5,161.4 482.3,158.9 483.1,154.4 483.9,153.6 484.7,149.4 485.5,146.6 486.3,141.4 487.1,138.9 487.9,136.6 488.7,132.1 489.5,129.9 490.3,128.3 491.1,132.1 491.9,137.3 492.7,138.8 493.5,144.3 494.3,147.1 495.1,151.7 495.9,154.1 496.7,155.8 497.5,159.0 498.3,160.6 499.1,162.3 499.9,164.1 500.7,165.2 501.5,166.5 502.3,166.9 503.1,167.4 503.9,168.5 504.7,168.1 505.5,168.7 506.3,168.8 507.1,169.0 507.9,169.1 508.7,169.1 509.5,169.2 510.3,169.2 511.1,169.2 511.9,169.3" fill="none" stroke="#c00010" stroke-width="1.1" stroke-linejoin="round"/>
<path d="M448.7,169.3 449.5,169.3 450.3,169.3 451.1,169.3 451.9,169.3 452.7,169.3 453.5,169.3 454.3,169.3 455.1,169.3 455.9,169.3 456.7,169.3 457.5,169.3 458.3,169.3 459.1,169.3 459.9,169.3 460.7,169.3 461.5,169.3 462.3,169.3 463.1,169.3 463.9,169.3 464.7,169.3 465.5,169.3 466.3,169.3 467.1,169.3 467.9,169.3 468.7,169.2 469.5,169.2 470.3,169.2 471.1,169.1 471.9,169.0 472.7,168.9 473.5,168.8 474.3,168.7 475.1,168.7 475.9,167.8 476.7,167.8 477.5,167.2 478.3,166.3 479.1,165.0 479.9,163.1 480.7,162.7 481.5,159.7 482.3,157.5 483.1,157.2 483.9,155.1 484.7,151.8 485.5,145.8 486.3,143.1 487.1,137.9 487.9,133.9 488.7,132.2 489.5,130.4 490.3,132.4 491.1,134.7 491.9,133.9 492.7,138.1 493.5,141.4 494.3,146.0 495.1,149.1 495.9,152.4 496.7,154.5 497.5,159.3 498.3,160.4 499.1,162.7 499.9,163.1 500.7,164.3 501.5,166.3 502.3,167.3 503.1,167.7 503.9,168.1 504.7,168.0 505.5,168.6 506.3,168.6 507.1,168.9 507.9,169.0 508.7,169.1 509.5,169.2 510.3,169.2 511.1,169.2 511.9,169.3" fill="none" stroke="#ff0a1e" stroke-width="1.1" stroke-linejoin="round"/>
<text x="291.60" y="62.60" transform="rotate(-90 291.60 62.60)" font-family='"Liberation Sans", sans-serif' font-size="9.6" font-weight="bold" text-anchor="middle" fill="#000" stroke="#000" stroke-width="0.28">Cell count</text>
<text x="321.80" y="189.70" font-family='"Liberation Sans", sans-serif' font-size="9.7" font-weight="bold" text-anchor="start" fill="#000" stroke="#000" stroke-width="0.28" >Protein stability</text>
<rect x="530.20" y="114.90" width="10.60" height="10.60" fill="#a8a8a8" />
<text x="543.40" y="123.60" font-family='"Liberation Sans", sans-serif' font-size="9.7" font-weight="bold" text-anchor="start" fill="#000" stroke="#000" stroke-width="0.28" >sgAPPBP2</text>
<line x1="518.70" y1="134.30" x2="527.90" y2="134.30" stroke="#b80000" stroke-width="2.0" />
<line x1="530.60" y1="134.30" x2="540.20" y2="134.30" stroke="#ff1a1a" stroke-width="2.0" />
<text x="543.40" y="137.70" font-family='"Liberation Sans", sans-serif' font-size="9.7" font-weight="bold" text-anchor="start" fill="#000" stroke="#000" stroke-width="0.28" >sgBAG6-1/-2</text>
<line x1="518.70" y1="146.90" x2="527.90" y2="146.90" stroke="#ff3fa8" stroke-width="2.0" />
<line x1="530.60" y1="146.90" x2="540.20" y2="146.90" stroke="#ff9fd0" stroke-width="2.0" />
<text x="543.40" y="150.30" font-family='"Liberation Sans", sans-serif' font-size="9.7" font-weight="bold" text-anchor="start" fill="#000" stroke="#000" stroke-width="0.28" >sgRNF126-1/-2</text>
<text x="-0.60" y="130.80" font-family='"Liberation Sans", sans-serif' font-size="15.0" font-weight="bold" text-anchor="start" fill="#000" stroke="#000" stroke-width="0.28" >C</text>
<text x="10.50" y="190.60" transform="rotate(-90 10.50 190.60)" font-family='"Liberation Sans", sans-serif' font-size="9.8" font-weight="bold" text-anchor="middle" fill="#000" stroke="#000" stroke-width="0.28">CasTLE score</text>
<text x="79.80" y="430.40" font-family='"Liberation Sans", sans-serif' font-size="9.9" font-weight="bold" text-anchor="start" fill="#000" stroke="#000" stroke-width="0.28" >Ranked genes</text>
<path d="M33.0,218.9 L33.0,126.2 L206.5,126.2 L206.5,218.9 Z" fill="none" stroke="#000" stroke-width="1.3"/>
<line x1="33.00" y1="218.90" x2="206.50" y2="218.90" stroke="#555" stroke-width="1.2" />
<line x1="28.80" y1="218.90" x2="33.00" y2="218.90" stroke="#000" stroke-width="1.2" />
<text x="26.80" y="221.60" font-family='"Liberation Sans", sans-serif' font-size="7.8" font-weight="normal" text-anchor="end" fill="#111" stroke="#111" stroke-width="0.3" >0</text>
<line x1="28.80" y1="188.00" x2="33.00" y2="188.00" stroke="#000" stroke-width="1.2" />
<text x="26.80" y="190.70" font-family='"Liberation Sans", sans-serif' font-size="7.8" font-weight="normal" text-anchor="end" fill="#111" stroke="#111" stroke-width="0.3" >50</text>
<line x1="28.80" y1="157.10" x2="33.00" y2="157.10" stroke="#000" stroke-width="1.2" />
<text x="26.80" y="159.80" font-family='"Liberation Sans", sans-serif' font-size="7.8" font-weight="normal" text-anchor="end" fill="#111" stroke="#111" stroke-width="0.3" >100</text>
<line x1="28.80" y1="126.20" x2="33.00" y2="126.20" stroke="#000" stroke-width="1.2" />
<text x="26.80" y="128.90" font-family='"Liberation Sans", sans-serif' font-size="7.8" font-weight="normal" text-anchor="end" fill="#111" stroke="#111" stroke-width="0.3" >150</text>
<text x="38.80" y="140.80" font-family='"Liberation Sans", sans-serif' font-size="10.1" font-weight="bold" text-anchor="start" fill="#000" stroke="#000" stroke-width="0.28" >RGS18-RT</text>
<text x="139.60" y="142.30" font-family='"Liberation Sans", sans-serif' font-size="9.6" font-weight="bold" text-anchor="start" fill="#ff1a1a" stroke="#ff1a1a" stroke-width="0.28" >MARCH6</text>
<circle cx="185.60" cy="139.50" r="1.6" fill="#ff1a1a"/>
<path d="M33.0,218.9 34.3,218.9 35.5,218.9 36.8,218.9 38.1,218.9 39.3,218.9 40.6,218.9 41.9,218.9 43.1,218.9 44.4,218.9 45.7,218.9 47.0,218.9 48.2,218.9 49.5,218.9 50.8,218.9 52.0,218.9 53.3,218.9 54.6,218.9 55.8,218.9 57.1,218.9 58.4,218.9 59.6,218.9 60.9,218.8 62.2,218.8 63.4,218.8 64.7,218.8 66.0,218.8 67.2,218.8 68.5,218.8 69.8,218.8 71.0,218.8 72.3,218.8 73.6,218.8 74.9,218.8 76.1,218.8 77.4,218.8 78.7,218.7 79.9,218.7 81.2,218.7 82.5,218.7 83.7,218.7 85.0,218.7 86.3,218.7 87.5,218.7 88.8,218.7 90.1,218.6 91.3,218.6 92.6,218.6 93.9,218.6 95.1,218.6 96.4,218.6 97.7,218.6 99.0,218.6 100.2,218.5 101.5,218.5 102.8,218.5 104.0,218.5 105.3,218.5 106.6,218.5 107.8,218.4 109.1,218.4 110.4,218.4 111.6,218.4 112.9,218.4 114.2,218.3 115.4,218.3 116.7,218.3 118.0,218.3 119.2,218.3 120.5,218.2 121.8,218.2 123.1,218.2 124.3,218.2 125.6,218.2 126.9,218.1 128.1,218.1 129.4,218.1 130.7,218.1 131.9,218.0 133.2,218.0 134.5,218.0 135.7,218.0 137.0,217.9 138.3,217.9 139.5,217.9 140.8,217.9 142.1,217.8 143.3,217.8 144.6,217.8 145.9,217.8 147.1,217.7 148.4,217.7 149.7,217.7 151.0,217.6 152.2,217.6 153.5,217.6 154.8,217.6 156.0,217.5 157.3,217.5 158.6,217.5 159.8,217.4 161.1,217.4 162.4,217.4 163.6,217.3 164.9,217.3 166.2,217.2 167.4,217.2 168.7,217.2 170.0,217.1 171.2,217.0 172.5,217.0 173.8,216.9 175.1,216.7 176.3,216.6 177.6,216.3 178.9,215.9 180.1,215.4 181.4,214.6 182.7,213.3 183.9,211.5 185.2,208.7" fill="none" stroke="#0e1766" stroke-width="2.5" stroke-linecap="round"/>
<rect x="184.40" y="155.40" width="1.80" height="1.80" fill="#0e1766" />
<rect x="184.40" y="165.80" width="1.80" height="1.80" fill="#0e1766" />
<rect x="184.40" y="175.30" width="1.80" height="1.80" fill="#0e1766" />
<rect x="184.40" y="186.10" width="1.80" height="1.80" fill="#0e1766" />
<rect x="184.40" y="198.90" width="1.80" height="1.80" fill="#0e1766" />
<text x="165.80" y="163.10" font-family='"Liberation Sans", sans-serif' font-size="8.9" font-weight="bold" text-anchor="end" fill="#000" stroke="#000" stroke-width="0.28" >PSMC4</text>
<line x1="167.80" y1="159.60" x2="181.60" y2="159.60" stroke="#000" stroke-width="0.9" />
<circle cx="185.50" cy="159.60" r="1.6" fill="#ff1a1a"/>
<text x="165.80" y="176.90" font-family='"Liberation Sans", sans-serif' font-size="8.9" font-weight="bold" text-anchor="end" fill="#000" stroke="#000" stroke-width="0.28" >PSMD6</text>
<line x1="167.80" y1="173.40" x2="181.60" y2="173.40" stroke="#000" stroke-width="0.9" />
<circle cx="185.50" cy="173.40" r="1.6" fill="#ff1a1a"/>
<text x="165.80" y="187.70" font-family='"Liberation Sans", sans-serif' font-size="8.9" font-weight="bold" text-anchor="end" fill="#000" stroke="#000" stroke-width="0.28" >PSMC6</text>
<line x1="167.80" y1="184.20" x2="181.60" y2="184.20" stroke="#000" stroke-width="0.9" />
<circle cx="185.50" cy="184.20" r="1.6" fill="#ff1a1a"/>
<path d="M33.0,320.3 L33.0,228.6 L206.5,228.6 L206.5,320.3 Z" fill="none" stroke="#000" stroke-width="1.3"/>
<line x1="33.00" y1="320.30" x2="206.50" y2="320.30" stroke="#555" stroke-width="1.2" />
<line x1="28.80" y1="320.30" x2="33.00" y2="320.30" stroke="#000" stroke-width="1.2" />
<text x="26.80" y="323.00" font-family='"Liberation Sans", sans-serif' font-size="7.8" font-weight="normal" text-anchor="end" fill="#111" stroke="#111" stroke-width="0.3" >0</text>
<line x1="28.80" y1="289.73" x2="33.00" y2="289.73" stroke="#000" stroke-width="1.2" />
<text x="26.80" y="292.43" font-family='"Liberation Sans", sans-serif' font-size="7.8" font-weight="normal" text-anchor="end" fill="#111" stroke="#111" stroke-width="0.3" >50</text>
<line x1="28.80" y1="259.17" x2="33.00" y2="259.17" stroke="#000" stroke-width="1.2" />
<text x="26.80" y="261.87" font-family='"Liberation Sans", sans-serif' font-size="7.8" font-weight="normal" text-anchor="end" fill="#111" stroke="#111" stroke-width="0.3" >100</text>
<line x1="28.80" y1="228.60" x2="33.00" y2="228.60" stroke="#000" stroke-width="1.2" />
<text x="26.80" y="231.30" font-family='"Liberation Sans", sans-serif' font-size="7.8" font-weight="normal" text-anchor="end" fill="#111" stroke="#111" stroke-width="0.3" >150</text>
<text x="39.00" y="242.30" font-family='"Liberation Sans", sans-serif' font-size="10.1" font-weight="bold" text-anchor="start" fill="#000" stroke="#000" stroke-width="0.28" >UBA5-RT</text>
<text x="155.50" y="249.90" font-family='"Liberation Sans", sans-serif' font-size="9.4" font-weight="bold" text-anchor="start" fill="#ff1a1a" stroke="#ff1a1a" stroke-width="0.28" >RNF139</text>
<circle cx="195.60" cy="247.00" r="1.6" fill="#ff1a1a"/>
<path d="M33.0,320.3 34.4,320.3 35.7,320.3 37.1,320.3 38.4,320.3 39.8,320.3 41.1,320.3 42.5,320.3 43.8,320.3 45.2,320.3 46.5,320.3 47.9,320.3 49.2,320.3 50.6,320.3 51.9,320.3 53.3,320.3 54.7,320.3 56.0,320.3 57.4,320.3 58.7,320.3 60.1,320.3 61.4,320.3 62.8,320.2 64.1,320.2 65.5,320.2 66.8,320.2 68.2,320.2 69.5,320.2 70.9,320.2 72.2,320.2 73.6,320.2 75.0,320.2 76.3,320.2 77.7,320.2 79.0,320.2 80.4,320.2 81.7,320.1 83.1,320.1 84.4,320.1 85.8,320.1 87.1,320.1 88.5,320.1 89.8,320.1 91.2,320.1 92.5,320.1 93.9,320.0 95.3,320.0 96.6,320.0 98.0,320.0 99.3,320.0 100.7,320.0 102.0,320.0 103.4,320.0 104.7,319.9 106.1,319.9 107.4,319.9 108.8,319.9 110.1,319.9 111.5,319.9 112.8,319.8 114.2,319.8 115.6,319.8 116.9,319.8 118.3,319.8 119.6,319.7 121.0,319.7 122.3,319.7 123.7,319.7 125.0,319.7 126.4,319.6 127.7,319.6 129.1,319.6 130.4,319.6 131.8,319.6 133.1,319.5 134.5,319.5 135.9,319.5 137.2,319.5 138.6,319.4 139.9,319.4 141.3,319.4 142.6,319.4 144.0,319.3 145.3,319.3 146.7,319.3 148.0,319.3 149.4,319.2 150.7,319.2 152.1,319.2 153.4,319.2 154.8,319.1 156.2,319.1 157.5,319.1 158.9,319.0 160.2,319.0 161.6,319.0 162.9,319.0 164.3,318.9 165.6,318.9 167.0,318.9 168.3,318.8 169.7,318.8 171.0,318.8 172.4,318.7 173.7,318.7 175.1,318.7 176.5,318.6 177.8,318.6 179.2,318.5 180.5,318.5 181.9,318.4 183.2,318.3 184.6,318.3 185.9,318.1 187.3,317.9 188.6,317.7 190.0,317.3 191.3,316.7 192.7,315.8 194.0,314.4 195.4,312.2" fill="none" stroke="#0e1766" stroke-width="2.5" stroke-linecap="round"/>
<rect x="194.60" y="273.30" width="1.80" height="1.80" fill="#0e1766" />
<rect x="194.60" y="283.70" width="1.80" height="1.80" fill="#0e1766" />
<rect x="194.60" y="290.50" width="1.80" height="1.80" fill="#0e1766" />
<rect x="194.60" y="292.50" width="1.80" height="1.80" fill="#0e1766" />
<text x="174.90" y="285.00" font-family='"Liberation Sans", sans-serif' font-size="8.9" font-weight="bold" text-anchor="end" fill="#000" stroke="#000" stroke-width="0.28" >UBE2G2</text>
<line x1="176.90" y1="281.00" x2="190.50" y2="281.00" stroke="#000" stroke-width="0.9" />
<circle cx="195.50" cy="280.60" r="1.6" fill="#ff1a1a"/>
<text x="174.90" y="303.70" font-family='"Liberation Sans", sans-serif' font-size="8.9" font-weight="bold" text-anchor="end" fill="#000" stroke="#000" stroke-width="0.28" >PSMC4</text>
<line x1="178.20" y1="300.30" x2="191.10" y2="301.40" stroke="#000" stroke-width="0.9" />
<circle cx="195.50" cy="301.40" r="1.6" fill="#ff1a1a"/>
<text x="174.90" y="313.50" font-family='"Liberation Sans", sans-serif' font-size="8.9" font-weight="bold" text-anchor="end" fill="#000" stroke="#000" stroke-width="0.28" >PSMD6</text>
<line x1="178.20" y1="309.50" x2="191.10" y2="306.40" stroke="#000" stroke-width="0.9" />
<circle cx="195.50" cy="306.40" r="1.6" fill="#ff1a1a"/>
<path d="M33.0,420.3 L33.0,330.2 L206.5,330.2 L206.5,420.3 Z" fill="none" stroke="#000" stroke-width="1.3"/>
<line x1="33.00" y1="420.30" x2="206.50" y2="420.30" stroke="#555" stroke-width="1.2" />
<line x1="28.80" y1="420.30" x2="33.00" y2="420.30" stroke="#000" stroke-width="1.2" />
<text x="26.80" y="423.00" font-family='"Liberation Sans", sans-serif' font-size="7.8" font-weight="normal" text-anchor="end" fill="#111" stroke="#111" stroke-width="0.3" >0</text>
<line x1="28.80" y1="402.28" x2="33.00" y2="402.28" stroke="#000" stroke-width="1.2" />
<text x="26.80" y="404.98" font-family='"Liberation Sans", sans-serif' font-size="7.8" font-weight="normal" text-anchor="end" fill="#111" stroke="#111" stroke-width="0.3" >20</text>
<line x1="28.80" y1="384.26" x2="33.00" y2="384.26" stroke="#000" stroke-width="1.2" />
<text x="26.80" y="386.96" font-family='"Liberation Sans", sans-serif' font-size="7.8" font-weight="normal" text-anchor="end" fill="#111" stroke="#111" stroke-width="0.3" >40</text>
<line x1="28.80" y1="366.24" x2="33.00" y2="366.24" stroke="#000" stroke-width="1.2" />
<text x="26.80" y="368.94" font-family='"Liberation Sans", sans-serif' font-size="7.8" font-weight="normal" text-anchor="end" fill="#111" stroke="#111" stroke-width="0.3" >60</text>
<line x1="28.80" y1="348.22" x2="33.00" y2="348.22" stroke="#000" stroke-width="1.2" />
<text x="26.80" y="350.92" font-family='"Liberation Sans", sans-serif' font-size="7.8" font-weight="normal" text-anchor="end" fill="#111" stroke="#111" stroke-width="0.3" >80</text>
<line x1="28.80" y1="330.20" x2="33.00" y2="330.20" stroke="#000" stroke-width="1.2" />
<text x="26.80" y="332.90" font-family='"Liberation Sans", sans-serif' font-size="7.8" font-weight="normal" text-anchor="end" fill="#111" stroke="#111" stroke-width="0.3" >100</text>
<text x="39.00" y="344.00" font-family='"Liberation Sans", sans-serif' font-size="10.1" font-weight="bold" text-anchor="start" fill="#000" stroke="#000" stroke-width="0.28" >RAB18-RT</text>
<text x="158.80" y="354.60" font-family='"Liberation Sans", sans-serif' font-size="9.4" font-weight="bold" text-anchor="start" fill="#ff1a1a" stroke="#ff1a1a" stroke-width="0.28" >RNF139</text>
<circle cx="199.00" cy="351.20" r="1.6" fill="#ff1a1a"/>
<path d="M33.0,420.3 34.4,420.3 35.8,420.3 37.1,420.3 38.5,420.3 39.9,420.3 41.3,420.3 42.7,420.3 44.1,420.3 45.5,420.3 46.8,420.3 48.2,420.3 49.6,420.3 51.0,420.3 52.4,420.3 53.8,420.3 55.1,420.3 56.5,420.3 57.9,420.3 59.3,420.3 60.7,420.3 62.0,420.3 63.4,420.2 64.8,420.2 66.2,420.2 67.6,420.2 69.0,420.2 70.3,420.2 71.7,420.2 73.1,420.2 74.5,420.2 75.9,420.2 77.3,420.2 78.7,420.2 80.0,420.2 81.4,420.2 82.8,420.1 84.2,420.1 85.6,420.1 87.0,420.1 88.3,420.1 89.7,420.1 91.1,420.1 92.5,420.1 93.9,420.1 95.2,420.0 96.6,420.0 98.0,420.0 99.4,420.0 100.8,420.0 102.2,420.0 103.5,420.0 104.9,420.0 106.3,419.9 107.7,419.9 109.1,419.9 110.5,419.9 111.8,419.9 113.2,419.9 114.6,419.8 116.0,419.8 117.4,419.8 118.8,419.8 120.2,419.8 121.5,419.7 122.9,419.7 124.3,419.7 125.7,419.7 127.1,419.7 128.4,419.6 129.8,419.6 131.2,419.6 132.6,419.6 134.0,419.6 135.4,419.5 136.8,419.5 138.1,419.5 139.5,419.5 140.9,419.4 142.3,419.4 143.7,419.4 145.1,419.4 146.4,419.3 147.8,419.3 149.2,419.3 150.6,419.3 152.0,419.2 153.3,419.2 154.7,419.2 156.1,419.2 157.5,419.1 158.9,419.1 160.3,419.1 161.7,419.0 163.0,419.0 164.4,419.0 165.8,419.0 167.2,418.9 168.6,418.9 169.9,418.9 171.3,418.8 172.7,418.8 174.1,418.8 175.5,418.7 176.9,418.7 178.2,418.6 179.6,418.6 181.0,418.6 182.4,418.5 183.8,418.4 185.2,418.4 186.6,418.3 187.9,418.1 189.3,417.9 190.7,417.6 192.1,417.1 193.5,416.4 194.8,415.3 196.2,413.5 197.6,410.7 199.0,406.3" fill="none" stroke="#0e1766" stroke-width="2.5" stroke-linecap="round"/>
<rect x="198.10" y="388.50" width="1.80" height="1.80" fill="#0e1766" />
<rect x="198.10" y="399.80" width="1.80" height="1.80" fill="#0e1766" />
<text x="176.90" y="391.00" font-family='"Liberation Sans", sans-serif' font-size="8.9" font-weight="bold" text-anchor="end" fill="#000" stroke="#000" stroke-width="0.28" >PSMC4</text>
<line x1="179.30" y1="388.40" x2="193.60" y2="391.70" stroke="#000" stroke-width="0.9" />
<text x="176.90" y="400.10" font-family='"Liberation Sans", sans-serif' font-size="8.9" font-weight="bold" text-anchor="end" fill="#000" stroke="#000" stroke-width="0.28" >PSMC6</text>
<line x1="179.30" y1="396.40" x2="193.60" y2="396.40" stroke="#000" stroke-width="0.9" />
<text x="176.90" y="409.60" font-family='"Liberation Sans", sans-serif' font-size="8.9" font-weight="bold" text-anchor="end" fill="#000" stroke="#000" stroke-width="0.28" >PSMD6</text>
<line x1="179.30" y1="405.30" x2="193.60" y2="401.90" stroke="#000" stroke-width="0.9" />
<circle cx="199.00" cy="391.30" r="1.6" fill="#ff1a1a"/>
<circle cx="199.00" cy="395.00" r="1.6" fill="#ff1a1a"/>
<circle cx="199.00" cy="398.90" r="1.6" fill="#ff1a1a"/>
<text x="224.60" y="211.00" font-family='"Liberation Sans", sans-serif' font-size="15.2" font-weight="bold" text-anchor="start" fill="#000" stroke="#000" stroke-width="0.28" >D</text>
<text x="281.00" y="220.40" font-family='"Liberation Sans", sans-serif' font-size="9.7" font-weight="bold" text-anchor="middle" fill="#000" stroke="#000" stroke-width="0.28" >RGS18-RT</text>
<rect x="248.40" y="222.10" width="63.80" height="63.50" fill="none" stroke="#c8c8c8" stroke-width="0.8"/>
<line x1="248.10" y1="222.10" x2="248.10" y2="285.60" stroke="#9a9a9a" stroke-width="0.9" stroke-dasharray="0.9 2.2"/>
<line x1="246.60" y1="224.10" x2="248.60" y2="224.10" stroke="#555" stroke-width="0.9" />
<line x1="246.60" y1="285.60" x2="248.60" y2="285.60" stroke="#555" stroke-width="0.9" />
<text x="243.10" y="294.90" font-family='"Liberation Sans", sans-serif' font-size="8.0" font-weight="normal" text-anchor="start" fill="#000" stroke="#000" stroke-width="0.3" >10</text>
<text x="252.40" y="289.90" font-family='"Liberation Sans", sans-serif' font-size="4.7" font-weight="normal" text-anchor="start" fill="#444" stroke="#444" stroke-width="0.15" >0</text>
<text x="261.95" y="294.90" font-family='"Liberation Sans", sans-serif' font-size="8.0" font-weight="normal" text-anchor="start" fill="#000" stroke="#000" stroke-width="0.3" >10</text>
<text x="271.25" y="289.90" font-family='"Liberation Sans", sans-serif' font-size="4.7" font-weight="normal" text-anchor="start" fill="#444" stroke="#444" stroke-width="0.15" >1</text>
<text x="280.80" y="294.90" font-family='"Liberation Sans", sans-serif' font-size="8.0" font-weight="normal" text-anchor="start" fill="#000" stroke="#000" stroke-width="0.3" >10</text>
<text x="290.10" y="289.90" font-family='"Liberation Sans", sans-serif' font-size="4.7" font-weight="normal" text-anchor="start" fill="#444" stroke="#444" stroke-width="0.15" >2</text>
<text x="299.65" y="294.90" font-family='"Liberation Sans", sans-serif' font-size="8.0" font-weight="normal" text-anchor="start" fill="#000" stroke="#000" stroke-width="0.3" >10</text>
<text x="308.95" y="289.90" font-family='"Liberation Sans", sans-serif' font-size="4.7" font-weight="normal" text-anchor="start" fill="#444" stroke="#444" stroke-width="0.15" >3</text>
<text x="246.20" y="226.80" font-family='"Liberation Sans", sans-serif' font-size="7.9" font-weight="normal" text-anchor="end" fill="#111" stroke="#111" stroke-width="0.3" >250</text>
<text x="245.80" y="288.40" font-family='"Liberation Sans", sans-serif' font-size="7.9" font-weight="normal" text-anchor="end" fill="#111" stroke="#111" stroke-width="0.3" >0</text>
<path d="M248.4,285.6 248.4,285.6 249.2,285.6 250.0,285.6 250.8,285.6 251.6,285.6 252.4,285.6 253.2,285.6 254.0,285.6 254.8,285.6 255.6,285.6 256.4,285.6 257.2,285.6 258.0,285.6 258.8,285.6 259.6,285.6 260.4,285.6 261.2,285.6 262.0,285.6 262.8,285.6 263.6,285.6 264.4,285.6 265.2,285.6 266.0,285.6 266.8,285.6 267.6,285.5 268.4,285.5 269.2,285.3 270.0,285.2 270.8,285.1 271.6,284.5 272.4,283.5 273.2,282.5 274.0,281.0 274.8,279.7 275.6,276.2 276.4,273.6 277.2,270.9 278.0,264.7 278.8,260.7 279.6,250.2 280.4,243.2 281.2,240.0 282.0,234.4 282.8,227.0 283.6,228.3 284.4,229.3 285.2,232.7 286.0,236.9 286.8,241.6 287.6,246.6 288.4,256.9 289.2,259.8 290.0,266.9 290.8,270.4 291.6,274.6 292.4,279.1 293.2,280.3 294.0,282.8 294.8,284.0 295.6,284.3 296.4,284.5 297.2,285.0 298.0,285.3 298.8,285.4 299.6,285.5 300.4,285.5 301.2,285.6 302.0,285.6 302.8,285.6 303.6,285.6 304.4,285.6 305.2,285.6 306.0,285.6 306.8,285.6 307.6,285.6 308.4,285.6 309.2,285.6 310.0,285.6 310.8,285.6 311.6,285.6 312.2,285.6 Z" fill="#ababab" stroke="none"/>
<path d="M248.7,285.6 249.5,285.6 250.3,285.6 251.1,285.6 251.9,285.6 252.7,285.6 253.5,285.6 254.3,285.6 255.1,285.6 255.9,285.6 256.7,285.6 257.5,285.6 258.3,285.6 259.1,285.6 259.9,285.6 260.7,285.6 261.5,285.6 262.3,285.6 263.1,285.6 263.9,285.6 264.7,285.6 265.5,285.6 266.3,285.5 267.1,285.5 267.9,285.4 268.7,285.3 269.5,285.1 270.3,285.2 271.1,284.7 271.9,283.5 272.7,283.4 273.5,280.8 274.3,280.2 275.1,278.5 275.9,274.3 276.7,271.3 277.5,267.4 278.3,261.0 279.1,254.1 279.9,249.3 280.7,239.1 281.5,236.8 282.3,229.5 283.1,229.1 283.9,230.8 284.7,231.3 285.5,234.3 286.3,241.3 287.1,246.7 287.9,255.8 288.7,261.6 289.5,266.9 290.3,270.2 291.1,273.0 291.9,277.5 292.7,279.0 293.5,282.2 294.3,283.2 295.1,283.6 295.9,284.1 296.7,284.6 297.5,285.1 298.3,285.3 299.1,285.4 299.9,285.5 300.7,285.5 301.5,285.6 302.3,285.6 303.1,285.6 303.9,285.6 304.7,285.6 305.5,285.6 306.3,285.6 307.1,285.6 307.9,285.6 308.7,285.6 309.5,285.6 310.3,285.6 311.1,285.6 311.9,285.6" fill="none" stroke="#ff90cc" stroke-width="1.2" stroke-linejoin="round"/>
<path d="M248.7,285.6 249.5,285.6 250.3,285.6 251.1,285.6 251.9,285.6 252.7,285.6 253.5,285.6 254.3,285.6 255.1,285.6 255.9,285.6 256.7,285.6 257.5,285.6 258.3,285.6 259.1,285.6 259.9,285.6 260.7,285.6 261.5,285.6 262.3,285.6 263.1,285.6 263.9,285.6 264.7,285.6 265.5,285.6 266.3,285.6 267.1,285.5 267.9,285.5 268.7,285.4 269.5,285.2 270.3,285.3 271.1,284.8 271.9,284.6 272.7,283.5 273.5,281.6 274.3,279.9 275.1,278.2 275.9,274.4 276.7,271.7 277.5,265.5 278.3,261.2 279.1,257.5 279.9,249.0 280.7,243.0 281.5,236.5 282.3,233.4 283.1,226.5 283.9,228.8 284.7,230.0 285.5,234.4 286.3,239.6 287.1,246.3 287.9,249.6 288.7,256.5 289.5,265.1 290.3,267.9 291.1,273.9 291.9,275.6 292.7,278.9 293.5,280.7 294.3,281.9 295.1,283.1 295.9,284.0 296.7,284.9 297.5,285.3 298.3,285.3 299.1,285.4 299.9,285.5 300.7,285.5 301.5,285.6 302.3,285.6 303.1,285.6 303.9,285.6 304.7,285.6 305.5,285.6 306.3,285.6 307.1,285.6 307.9,285.6 308.7,285.6 309.5,285.6 310.3,285.6 311.1,285.6 311.9,285.6" fill="none" stroke="#ff3fa8" stroke-width="1.2" stroke-linejoin="round"/>
<path d="M248.7,285.6 249.5,285.6 250.3,285.6 251.1,285.6 251.9,285.6 252.7,285.6 253.5,285.6 254.3,285.6 255.1,285.6 255.9,285.6 256.7,285.6 257.5,285.6 258.3,285.6 259.1,285.6 259.9,285.6 260.7,285.6 261.5,285.6 262.3,285.6 263.1,285.6 263.9,285.6 264.7,285.6 265.5,285.6 266.3,285.5 267.1,285.5 267.9,285.4 268.7,285.3 269.5,285.1 270.3,284.7 271.1,284.3 271.9,283.9 272.7,283.4 273.5,281.3 274.3,278.9 275.1,277.8 275.9,273.6 276.7,272.5 277.5,266.3 278.3,262.6 279.1,255.5 279.9,248.7 280.7,240.9 281.5,237.0 282.3,229.8 283.1,230.0 283.9,230.2 284.7,229.7 285.5,232.0 286.3,237.3 287.1,247.3 287.9,252.2 288.7,258.1 289.5,262.7 290.3,266.3 291.1,272.7 291.9,276.8 292.7,277.3 293.5,279.6 294.3,281.5 295.1,283.8 295.9,284.3 296.7,284.9 297.5,284.6 298.3,285.2 299.1,285.4 299.9,285.5 300.7,285.5 301.5,285.6 302.3,285.6 303.1,285.6 303.9,285.6 304.7,285.6 305.5,285.6 306.3,285.6 307.1,285.6 307.9,285.6 308.7,285.6 309.5,285.6 310.3,285.6 311.1,285.6 311.9,285.6" fill="none" stroke="#ff1a1a" stroke-width="1.2" stroke-linejoin="round"/>
<path d="M248.7,285.6 249.5,285.6 250.3,285.6 251.1,285.6 251.9,285.6 252.7,285.6 253.5,285.6 254.3,285.6 255.1,285.6 255.9,285.6 256.7,285.6 257.5,285.6 258.3,285.6 259.1,285.6 259.9,285.6 260.7,285.6 261.5,285.6 262.3,285.6 263.1,285.6 263.9,285.6 264.7,285.6 265.5,285.6 266.3,285.6 267.1,285.5 267.9,285.5 268.7,285.4 269.5,285.2 270.3,285.2 271.1,284.2 271.9,283.8 272.7,283.4 273.5,281.3 274.3,279.8 275.1,276.9 275.9,274.4 276.7,270.2 277.5,265.3 278.3,261.8 279.1,257.2 279.9,246.8 280.7,245.0 281.5,236.6 282.3,229.0 283.1,230.3 283.9,230.5 284.7,232.2 285.5,237.6 286.3,239.7 287.1,248.5 287.9,255.9 288.7,259.2 289.5,266.1 290.3,271.0 291.1,275.3 291.9,276.1 292.7,279.8 293.5,281.2 294.3,282.8 295.1,283.2 295.9,284.8 296.7,284.7 297.5,285.1 298.3,285.3 299.1,285.4 299.9,285.5 300.7,285.5 301.5,285.6 302.3,285.6 303.1,285.6 303.9,285.6 304.7,285.6 305.5,285.6 306.3,285.6 307.1,285.6 307.9,285.6 308.7,285.6 309.5,285.6 310.3,285.6 311.1,285.6 311.9,285.6" fill="none" stroke="#b00010" stroke-width="1.2" stroke-linejoin="round"/>
<path d="M248.7,285.6 249.5,285.6 250.3,285.6 251.1,285.6 251.9,285.6 252.7,285.6 253.5,285.6 254.3,285.6 255.1,285.6 255.9,285.6 256.7,285.6 257.5,285.6 258.3,285.6 259.1,285.6 259.9,285.6 260.7,285.6 261.5,285.6 262.3,285.6 263.1,285.6 263.9,285.6 264.7,285.6 265.5,285.6 266.3,285.6 267.1,285.6 267.9,285.6 268.7,285.6 269.5,285.5 270.3,285.5 271.1,285.5 271.9,285.4 272.7,285.2 273.5,285.1 274.3,285.1 275.1,284.3 275.9,284.2 276.7,283.0 277.5,282.2 278.3,280.1 279.1,279.6 279.9,275.3 280.7,275.3 281.5,272.3 282.3,266.5 283.1,261.2 283.9,257.3 284.7,253.0 285.5,252.3 286.3,248.2 287.1,244.4 287.9,242.4 288.7,242.0 289.5,241.5 290.3,242.0 291.1,243.7 291.9,242.6 292.7,244.3 293.5,250.4 294.3,250.5 295.1,252.2 295.9,259.0 296.7,258.4 297.5,263.8 298.3,267.9 299.1,271.3 299.9,272.8 300.7,276.5 301.5,278.9 302.3,279.6 303.1,282.5 303.9,283.1 304.7,283.3 305.5,284.1 306.3,284.6 307.1,284.9 307.9,285.3 308.7,285.4 309.5,285.5 310.3,285.5 311.1,285.6 311.9,285.6" fill="none" stroke="#22ee22" stroke-width="1.2" stroke-linejoin="round"/>
<path d="M248.7,285.6 249.5,285.6 250.3,285.6 251.1,285.6 251.9,285.6 252.7,285.6 253.5,285.6 254.3,285.6 255.1,285.6 255.9,285.6 256.7,285.6 257.5,285.6 258.3,285.6 259.1,285.6 259.9,285.6 260.7,285.6 261.5,285.6 262.3,285.6 263.1,285.6 263.9,285.6 264.7,285.6 265.5,285.6 266.3,285.6 267.1,285.6 267.9,285.6 268.7,285.6 269.5,285.6 270.3,285.6 271.1,285.6 271.9,285.5 272.7,285.5 273.5,285.4 274.3,285.3 275.1,285.2 275.9,285.0 276.7,284.4 277.5,284.1 278.3,283.5 279.1,282.1 279.9,282.0 280.7,279.0 281.5,278.1 282.3,276.9 283.1,272.3 283.9,270.8 284.7,264.2 285.5,261.3 286.3,259.3 287.1,251.1 287.9,250.3 288.7,242.9 289.5,245.5 290.3,241.9 291.1,239.6 291.9,242.4 292.7,243.7 293.5,247.3 294.3,247.5 295.1,250.3 295.9,257.5 296.7,260.4 297.5,265.5 298.3,269.1 299.1,271.8 299.9,276.3 300.7,279.2 301.5,280.9 302.3,281.9 303.1,282.7 303.9,283.6 304.7,284.8 305.5,285.3 306.3,285.2 307.1,285.4 307.9,285.5 308.7,285.5 309.5,285.6 310.3,285.6 311.1,285.6 311.9,285.6" fill="none" stroke="#22ee22" stroke-width="1.2" stroke-linejoin="round"/>
<path d="M248.7,285.6 249.5,285.6 250.3,285.6 251.1,285.6 251.9,285.6 252.7,285.6 253.5,285.6 254.3,285.6 255.1,285.6 255.9,285.6 256.7,285.6 257.5,285.6 258.3,285.6 259.1,285.6 259.9,285.6 260.7,285.6 261.5,285.6 262.3,285.6 263.1,285.6 263.9,285.6 264.7,285.6 265.5,285.6 266.3,285.6 267.1,285.5 267.9,285.5 268.7,285.4 269.5,285.3 270.3,285.4 271.1,284.9 271.9,284.0 272.7,283.0 273.5,281.6 274.3,279.7 275.1,279.2 275.9,276.1 276.7,271.5 277.5,266.3 278.3,262.7 279.1,253.8 279.9,249.5 280.7,240.4 281.5,234.3 282.3,231.5 283.1,227.6 283.9,225.8 284.7,229.9 285.5,236.5 286.3,238.8 287.1,249.1 287.9,255.9 288.7,263.1 289.5,265.1 290.3,270.9 291.1,274.9 291.9,278.4 292.7,281.3 293.5,283.1 294.3,283.3 295.1,283.9 295.9,284.3 296.7,285.3 297.5,285.3 298.3,285.4 299.1,285.5 299.9,285.5 300.7,285.6 301.5,285.6 302.3,285.6 303.1,285.6 303.9,285.6 304.7,285.6 305.5,285.6 306.3,285.6 307.1,285.6 307.9,285.6 308.7,285.6 309.5,285.6 310.3,285.6 311.1,285.6 311.9,285.6" fill="none" stroke="#1a3cff" stroke-width="1.2" stroke-linejoin="round"/>
<path d="M248.7,285.6 249.5,285.6 250.3,285.6 251.1,285.6 251.9,285.6 252.7,285.6 253.5,285.6 254.3,285.6 255.1,285.6 255.9,285.6 256.7,285.6 257.5,285.6 258.3,285.6 259.1,285.6 259.9,285.6 260.7,285.6 261.5,285.6 262.3,285.6 263.1,285.6 263.9,285.6 264.7,285.6 265.5,285.6 266.3,285.6 267.1,285.6 267.9,285.5 268.7,285.5 269.5,285.4 270.3,285.3 271.1,285.0 271.9,284.5 272.7,283.6 273.5,283.5 274.3,282.3 275.1,279.4 275.9,277.6 276.7,273.1 277.5,268.1 278.3,265.9 279.1,258.5 279.9,252.7 280.7,245.0 281.5,234.4 282.3,233.2 283.1,227.8 283.9,227.8 284.7,230.3 285.5,235.2 286.3,241.6 287.1,244.0 287.9,251.8 288.7,260.2 289.5,264.4 290.3,269.0 291.1,275.4 291.9,277.5 292.7,281.1 293.5,282.4 294.3,283.5 295.1,284.2 295.9,284.6 296.7,285.2 297.5,285.3 298.3,285.4 299.1,285.5 299.9,285.5 300.7,285.6 301.5,285.6 302.3,285.6 303.1,285.6 303.9,285.6 304.7,285.6 305.5,285.6 306.3,285.6 307.1,285.6 307.9,285.6 308.7,285.6 309.5,285.6 310.3,285.6 311.1,285.6 311.9,285.6" fill="none" stroke="#1a1f70" stroke-width="1.2" stroke-linejoin="round"/>
<line x1="248.70" y1="285.00" x2="311.90" y2="285.00" stroke="#22ee22" stroke-width="1.1" />
<text x="348.50" y="220.40" font-family='"Liberation Sans", sans-serif' font-size="9.7" font-weight="bold" text-anchor="middle" fill="#000" stroke="#000" stroke-width="0.28" >UBA5-RT</text>
<rect x="315.20" y="222.10" width="63.80" height="63.50" fill="none" stroke="#c8c8c8" stroke-width="0.8"/>
<line x1="314.90" y1="222.10" x2="314.90" y2="285.60" stroke="#9a9a9a" stroke-width="0.9" stroke-dasharray="0.9 2.2"/>
<line x1="313.40" y1="224.10" x2="315.40" y2="224.10" stroke="#555" stroke-width="0.9" />
<line x1="313.40" y1="285.60" x2="315.40" y2="285.60" stroke="#555" stroke-width="0.9" />
<text x="310.80" y="294.90" font-family='"Liberation Sans", sans-serif' font-size="8.0" font-weight="normal" text-anchor="start" fill="#000" stroke="#000" stroke-width="0.3" >10</text>
<text x="320.10" y="289.90" font-family='"Liberation Sans", sans-serif' font-size="4.7" font-weight="normal" text-anchor="start" fill="#444" stroke="#444" stroke-width="0.15" >0</text>
<text x="329.65" y="294.90" font-family='"Liberation Sans", sans-serif' font-size="8.0" font-weight="normal" text-anchor="start" fill="#000" stroke="#000" stroke-width="0.3" >10</text>
<text x="338.95" y="289.90" font-family='"Liberation Sans", sans-serif' font-size="4.7" font-weight="normal" text-anchor="start" fill="#444" stroke="#444" stroke-width="0.15" >1</text>
<text x="348.50" y="294.90" font-family='"Liberation Sans", sans-serif' font-size="8.0" font-weight="normal" text-anchor="start" fill="#000" stroke="#000" stroke-width="0.3" >10</text>
<text x="357.80" y="289.90" font-family='"Liberation Sans", sans-serif' font-size="4.7" font-weight="normal" text-anchor="start" fill="#444" stroke="#444" stroke-width="0.15" >2</text>
<text x="367.35" y="294.90" font-family='"Liberation Sans", sans-serif' font-size="8.0" font-weight="normal" text-anchor="start" fill="#000" stroke="#000" stroke-width="0.3" >10</text>
<text x="376.65" y="289.90" font-family='"Liberation Sans", sans-serif' font-size="4.7" font-weight="normal" text-anchor="start" fill="#444" stroke="#444" stroke-width="0.15" >3</text>
<path d="M315.2,285.6 315.2,285.6 316.0,285.6 316.8,285.6 317.6,285.6 318.4,285.6 319.2,285.6 320.0,285.6 320.8,285.6 321.6,285.6 322.4,285.6 323.2,285.6 324.0,285.6 324.8,285.6 325.6,285.6 326.4,285.6 327.2,285.6 328.0,285.6 328.8,285.6 329.6,285.6 330.4,285.6 331.2,285.6 332.0,285.6 332.8,285.6 333.6,285.6 334.4,285.6 335.2,285.6 336.0,285.5 336.8,285.5 337.6,285.4 338.4,285.3 339.2,285.0 340.0,285.1 340.8,284.0 341.6,283.4 342.4,283.1 343.2,281.8 344.0,281.2 344.8,279.4 345.6,277.0 346.4,273.1 347.2,271.2 348.0,264.5 348.8,263.6 349.6,258.4 350.4,254.0 351.2,245.7 352.0,243.4 352.8,239.1 353.6,237.3 354.4,234.6 355.2,237.4 356.0,241.4 356.8,244.1 357.6,249.3 358.4,255.1 359.2,256.8 360.0,262.3 360.8,266.7 361.6,269.9 362.4,274.7 363.2,277.4 364.0,279.5 364.8,281.2 365.6,282.1 366.4,283.9 367.2,284.1 368.0,284.5 368.8,285.0 369.6,285.1 370.4,285.3 371.2,285.4 372.0,285.5 372.8,285.5 373.6,285.6 374.4,285.6 375.2,285.6 376.0,285.6 376.8,285.6 377.6,285.6 378.4,285.6 379.0,285.6 Z" fill="#ababab" stroke="none"/>
<path d="M315.5,285.6 316.3,285.6 317.1,285.6 317.9,285.6 318.7,285.6 319.5,285.6 320.3,285.6 321.1,285.6 321.9,285.6 322.7,285.6 323.5,285.6 324.3,285.6 325.1,285.6 325.9,285.6 326.7,285.6 327.5,285.6 328.3,285.6 329.1,285.6 329.9,285.6 330.7,285.6 331.5,285.6 332.3,285.6 333.1,285.6 333.9,285.6 334.7,285.5 335.5,285.5 336.3,285.4 337.1,285.3 337.9,285.2 338.7,285.1 339.5,284.5 340.3,284.0 341.1,283.7 341.9,283.3 342.7,282.5 343.5,280.7 344.3,279.5 345.1,277.1 345.9,273.1 346.7,270.0 347.5,264.7 348.3,263.5 349.1,259.3 349.9,254.4 350.7,248.2 351.5,245.5 352.3,237.9 353.1,236.4 353.9,232.4 354.7,237.8 355.5,236.0 356.3,243.4 357.1,245.0 357.9,249.4 358.7,257.0 359.5,261.5 360.3,267.1 361.1,268.5 361.9,272.4 362.7,275.0 363.5,279.1 364.3,280.9 365.1,280.9 365.9,282.9 366.7,282.8 367.5,283.9 368.3,284.9 369.1,284.7 369.9,285.1 370.7,285.3 371.5,285.4 372.3,285.5 373.1,285.5 373.9,285.6 374.7,285.6 375.5,285.6 376.3,285.6 377.1,285.6 377.9,285.6 378.7,285.6" fill="none" stroke="#ff90cc" stroke-width="1.2" stroke-linejoin="round"/>
<path d="M315.5,285.6 316.3,285.6 317.1,285.6 317.9,285.6 318.7,285.6 319.5,285.6 320.3,285.6 321.1,285.6 321.9,285.6 322.7,285.6 323.5,285.6 324.3,285.6 325.1,285.6 325.9,285.6 326.7,285.6 327.5,285.6 328.3,285.6 329.1,285.6 329.9,285.6 330.7,285.6 331.5,285.6 332.3,285.6 333.1,285.6 333.9,285.6 334.7,285.5 335.5,285.5 336.3,285.4 337.1,285.3 337.9,285.2 338.7,284.9 339.5,284.4 340.3,284.7 341.1,283.1 341.9,282.5 342.7,281.3 343.5,279.4 344.3,278.6 345.1,275.0 345.9,272.4 346.7,270.9 347.5,264.8 348.3,260.9 349.1,255.1 349.9,250.0 350.7,246.1 351.5,241.9 352.3,236.0 353.1,238.0 353.9,236.8 354.7,234.5 355.5,236.8 356.3,238.7 357.1,244.6 357.9,250.3 358.7,253.4 359.5,261.9 360.3,265.7 361.1,266.9 361.9,271.5 362.7,274.8 363.5,277.6 364.3,280.6 365.1,281.5 365.9,282.9 366.7,283.7 367.5,284.1 368.3,284.9 369.1,284.7 369.9,285.1 370.7,285.3 371.5,285.4 372.3,285.5 373.1,285.5 373.9,285.6 374.7,285.6 375.5,285.6 376.3,285.6 377.1,285.6 377.9,285.6 378.7,285.6" fill="none" stroke="#ff3fa8" stroke-width="1.2" stroke-linejoin="round"/>
<path d="M315.5,285.6 316.3,285.6 317.1,285.6 317.9,285.6 318.7,285.6 319.5,285.6 320.3,285.6 321.1,285.6 321.9,285.6 322.7,285.6 323.5,285.6 324.3,285.6 325.1,285.6 325.9,285.6 326.7,285.6 327.5,285.6 328.3,285.6 329.1,285.6 329.9,285.6 330.7,285.6 331.5,285.6 332.3,285.6 333.1,285.6 333.9,285.6 334.7,285.6 335.5,285.5 336.3,285.5 337.1,285.4 337.9,285.3 338.7,285.1 339.5,285.0 340.3,284.1 341.1,283.8 341.9,283.9 342.7,282.3 343.5,281.8 344.3,280.6 345.1,276.7 345.9,273.6 346.7,272.0 347.5,268.0 348.3,266.0 349.1,262.0 349.9,256.5 350.7,253.0 351.5,244.5 352.3,243.9 353.1,238.7 353.9,239.1 354.7,237.6 355.5,238.2 356.3,240.0 357.1,245.1 357.9,248.0 358.7,252.5 359.5,259.4 360.3,262.1 361.1,268.2 361.9,269.8 362.7,272.6 363.5,275.2 364.3,277.7 365.1,280.2 365.9,281.0 366.7,282.6 367.5,283.5 368.3,284.8 369.1,285.1 369.9,285.2 370.7,285.2 371.5,285.4 372.3,285.4 373.1,285.5 373.9,285.5 374.7,285.6 375.5,285.6 376.3,285.6 377.1,285.6 377.9,285.6 378.7,285.6" fill="none" stroke="#ff1a1a" stroke-width="1.2" stroke-linejoin="round"/>
<path d="M315.5,285.6 316.3,285.6 317.1,285.6 317.9,285.6 318.7,285.6 319.5,285.6 320.3,285.6 321.1,285.6 321.9,285.6 322.7,285.6 323.5,285.6 324.3,285.6 325.1,285.6 325.9,285.6 326.7,285.6 327.5,285.6 328.3,285.6 329.1,285.6 329.9,285.6 330.7,285.6 331.5,285.6 332.3,285.6 333.1,285.6 333.9,285.6 334.7,285.5 335.5,285.5 336.3,285.5 337.1,285.4 337.9,285.3 338.7,285.3 339.5,285.0 340.3,284.9 341.1,284.0 341.9,283.2 342.7,282.5 343.5,281.2 344.3,279.2 345.1,277.9 345.9,275.1 346.7,271.3 347.5,268.1 348.3,262.6 349.1,258.1 349.9,253.9 350.7,249.8 351.5,246.9 352.3,240.2 353.1,237.3 353.9,238.1 354.7,238.8 355.5,239.1 356.3,242.8 357.1,246.6 357.9,250.9 358.7,255.5 359.5,261.7 360.3,263.8 361.1,266.3 361.9,272.9 362.7,274.0 363.5,276.7 364.3,278.2 365.1,281.4 365.9,282.0 366.7,283.8 367.5,284.3 368.3,284.3 369.1,285.1 369.9,285.3 370.7,285.3 371.5,285.4 372.3,285.5 373.1,285.5 373.9,285.5 374.7,285.6 375.5,285.6 376.3,285.6 377.1,285.6 377.9,285.6 378.7,285.6" fill="none" stroke="#b00010" stroke-width="1.2" stroke-linejoin="round"/>
<path d="M315.5,285.6 316.3,285.6 317.1,285.6 317.9,285.6 318.7,285.6 319.5,285.6 320.3,285.6 321.1,285.6 321.9,285.6 322.7,285.6 323.5,285.6 324.3,285.6 325.1,285.6 325.9,285.6 326.7,285.6 327.5,285.6 328.3,285.6 329.1,285.6 329.9,285.6 330.7,285.6 331.5,285.6 332.3,285.6 333.1,285.6 333.9,285.6 334.7,285.6 335.5,285.6 336.3,285.5 337.1,285.5 337.9,285.4 338.7,285.3 339.5,285.1 340.3,284.9 341.1,284.6 341.9,283.7 342.7,283.1 343.5,282.4 344.3,281.4 345.1,279.3 345.9,275.0 346.7,271.9 347.5,269.2 348.3,266.7 349.1,261.1 349.9,255.0 350.7,250.0 351.5,249.2 352.3,239.4 353.1,236.7 353.9,235.6 354.7,233.4 355.5,240.1 356.3,242.5 357.1,243.4 357.9,250.0 358.7,253.4 359.5,258.0 360.3,262.0 361.1,269.0 361.9,271.9 362.7,273.5 363.5,277.6 364.3,280.6 365.1,282.0 365.9,282.5 366.7,283.8 367.5,284.2 368.3,284.6 369.1,285.3 369.9,285.2 370.7,285.3 371.5,285.4 372.3,285.5 373.1,285.5 373.9,285.6 374.7,285.6 375.5,285.6 376.3,285.6 377.1,285.6 377.9,285.6 378.7,285.6" fill="none" stroke="#109050" stroke-width="1.2" stroke-linejoin="round"/>
<path d="M315.5,285.6 316.3,285.6 317.1,285.6 317.9,285.6 318.7,285.6 319.5,285.6 320.3,285.6 321.1,285.6 321.9,285.6 322.7,285.6 323.5,285.6 324.3,285.6 325.1,285.6 325.9,285.6 326.7,285.6 327.5,285.6 328.3,285.6 329.1,285.6 329.9,285.6 330.7,285.6 331.5,285.6 332.3,285.6 333.1,285.6 333.9,285.6 334.7,285.6 335.5,285.6 336.3,285.5 337.1,285.5 337.9,285.4 338.7,285.3 339.5,285.2 340.3,285.3 341.1,284.3 341.9,284.6 342.7,283.8 343.5,283.2 344.3,282.2 345.1,279.9 345.9,277.1 346.7,274.0 347.5,271.5 348.3,266.8 349.1,264.8 349.9,260.8 350.7,252.5 351.5,247.2 352.3,244.6 353.1,242.1 353.9,237.0 354.7,234.1 355.5,235.7 356.3,237.9 357.1,240.1 357.9,243.5 358.7,250.4 359.5,256.2 360.3,262.3 361.1,264.5 361.9,270.3 362.7,273.2 363.5,277.0 364.3,278.8 365.1,279.6 365.9,282.1 366.7,282.2 367.5,284.1 368.3,284.2 369.1,285.1 369.9,284.9 370.7,285.2 371.5,285.4 372.3,285.5 373.1,285.5 373.9,285.5 374.7,285.6 375.5,285.6 376.3,285.6 377.1,285.6 377.9,285.6 378.7,285.6" fill="none" stroke="#22ee22" stroke-width="1.2" stroke-linejoin="round"/>
<path d="M315.5,285.6 316.3,285.6 317.1,285.6 317.9,285.6 318.7,285.6 319.5,285.6 320.3,285.6 321.1,285.6 321.9,285.6 322.7,285.6 323.5,285.6 324.3,285.6 325.1,285.6 325.9,285.6 326.7,285.6 327.5,285.6 328.3,285.6 329.1,285.6 329.9,285.6 330.7,285.6 331.5,285.6 332.3,285.6 333.1,285.6 333.9,285.6 334.7,285.6 335.5,285.6 336.3,285.6 337.1,285.6 337.9,285.6 338.7,285.6 339.5,285.5 340.3,285.5 341.1,285.4 341.9,285.4 342.7,285.3 343.5,285.2 344.3,284.7 345.1,284.6 345.9,284.2 346.7,284.1 347.5,283.7 348.3,282.8 349.1,282.5 349.9,280.3 350.7,279.7 351.5,277.6 352.3,276.7 353.1,273.6 353.9,272.5 354.7,271.5 355.5,266.2 356.3,262.1 357.1,260.4 357.9,256.7 358.7,255.1 359.5,252.7 360.3,249.9 361.1,245.7 361.9,242.0 362.7,245.9 363.5,244.9 364.3,246.7 365.1,244.6 365.9,246.9 366.7,251.3 367.5,255.7 368.3,257.8 369.1,259.9 369.9,265.9 370.7,266.5 371.5,269.5 372.3,273.4 373.1,275.5 373.9,277.6 374.7,279.5 375.5,279.9 376.3,281.2 377.1,283.0 377.9,283.0 378.7,284.0" fill="none" stroke="#1a3cff" stroke-width="1.2" stroke-linejoin="round"/>
<path d="M315.5,285.6 316.3,285.6 317.1,285.6 317.9,285.6 318.7,285.6 319.5,285.6 320.3,285.6 321.1,285.6 321.9,285.6 322.7,285.6 323.5,285.6 324.3,285.6 325.1,285.6 325.9,285.6 326.7,285.6 327.5,285.6 328.3,285.6 329.1,285.6 329.9,285.6 330.7,285.6 331.5,285.6 332.3,285.6 333.1,285.6 333.9,285.6 334.7,285.6 335.5,285.6 336.3,285.6 337.1,285.6 337.9,285.6 338.7,285.6 339.5,285.6 340.3,285.6 341.1,285.6 341.9,285.6 342.7,285.6 343.5,285.6 344.3,285.6 345.1,285.6 345.9,285.6 346.7,285.6 347.5,285.6 348.3,285.6 349.1,285.6 349.9,285.5 350.7,285.5 351.5,285.4 352.3,285.3 353.1,284.7 353.9,284.9 354.7,284.5 355.5,283.8 356.3,282.7 357.1,281.4 357.9,279.4 358.7,275.7 359.5,273.5 360.3,269.0 361.1,263.7 361.9,260.6 362.7,255.5 363.5,245.6 364.3,242.7 365.1,238.8 365.9,231.5 366.7,227.1 367.5,227.5 368.3,235.7 369.1,238.9 369.9,244.1 370.7,246.8 371.5,256.6 372.3,260.7 373.1,265.6 373.9,268.7 374.7,273.0 375.5,276.9 376.3,279.2 377.1,281.6 377.9,282.6 378.7,283.5" fill="none" stroke="#1a1f70" stroke-width="1.2" stroke-linejoin="round"/>
<line x1="315.50" y1="285.00" x2="378.70" y2="285.00" stroke="#22ee22" stroke-width="1.1" />
<text x="414.50" y="220.40" font-family='"Liberation Sans", sans-serif' font-size="9.7" font-weight="bold" text-anchor="middle" fill="#000" stroke="#000" stroke-width="0.28" >RAB18-RT</text>
<rect x="381.80" y="222.10" width="63.80" height="63.50" fill="none" stroke="#c8c8c8" stroke-width="0.8"/>
<line x1="381.50" y1="222.10" x2="381.50" y2="285.60" stroke="#9a9a9a" stroke-width="0.9" stroke-dasharray="0.9 2.2"/>
<line x1="380.00" y1="224.10" x2="382.00" y2="224.10" stroke="#555" stroke-width="0.9" />
<line x1="380.00" y1="285.60" x2="382.00" y2="285.60" stroke="#555" stroke-width="0.9" />
<text x="376.90" y="294.90" font-family='"Liberation Sans", sans-serif' font-size="8.0" font-weight="normal" text-anchor="start" fill="#000" stroke="#000" stroke-width="0.3" >10</text>
<text x="386.20" y="289.90" font-family='"Liberation Sans", sans-serif' font-size="4.7" font-weight="normal" text-anchor="start" fill="#444" stroke="#444" stroke-width="0.15" >0</text>
<text x="395.75" y="294.90" font-family='"Liberation Sans", sans-serif' font-size="8.0" font-weight="normal" text-anchor="start" fill="#000" stroke="#000" stroke-width="0.3" >10</text>
<text x="405.05" y="289.90" font-family='"Liberation Sans", sans-serif' font-size="4.7" font-weight="normal" text-anchor="start" fill="#444" stroke="#444" stroke-width="0.15" >1</text>
<text x="414.60" y="294.90" font-family='"Liberation Sans", sans-serif' font-size="8.0" font-weight="normal" text-anchor="start" fill="#000" stroke="#000" stroke-width="0.3" >10</text>
<text x="423.90" y="289.90" font-family='"Liberation Sans", sans-serif' font-size="4.7" font-weight="normal" text-anchor="start" fill="#444" stroke="#444" stroke-width="0.15" >2</text>
<text x="433.45" y="294.90" font-family='"Liberation Sans", sans-serif' font-size="8.0" font-weight="normal" text-anchor="start" fill="#000" stroke="#000" stroke-width="0.3" >10</text>
<text x="442.75" y="289.90" font-family='"Liberation Sans", sans-serif' font-size="4.7" font-weight="normal" text-anchor="start" fill="#444" stroke="#444" stroke-width="0.15" >3</text>
<path d="M381.8,285.6 381.8,285.6 382.6,285.6 383.4,285.6 384.2,285.6 385.0,285.6 385.8,285.6 386.6,285.6 387.4,285.6 388.2,285.6 389.0,285.6 389.8,285.6 390.6,285.6 391.4,285.6 392.2,285.6 393.0,285.6 393.8,285.6 394.6,285.6 395.4,285.6 396.2,285.6 397.0,285.6 397.8,285.6 398.6,285.6 399.4,285.6 400.2,285.6 401.0,285.6 401.8,285.6 402.6,285.6 403.4,285.6 404.2,285.6 405.0,285.6 405.8,285.5 406.6,285.5 407.4,285.4 408.2,285.3 409.0,285.1 409.8,285.1 410.6,284.3 411.4,284.1 412.2,282.6 413.0,281.4 413.8,280.1 414.6,277.4 415.4,274.6 416.2,272.7 417.0,266.9 417.8,261.8 418.6,256.9 419.4,249.6 420.2,244.8 421.0,241.8 421.8,238.8 422.6,237.0 423.4,232.9 424.2,236.1 425.0,240.5 425.8,246.3 426.6,251.4 427.4,258.2 428.2,262.1 429.0,268.3 429.8,270.9 430.6,274.4 431.4,277.2 432.2,280.4 433.0,282.3 433.8,283.1 434.6,283.5 435.4,284.4 436.2,284.6 437.0,285.1 437.8,285.3 438.6,285.4 439.4,285.5 440.2,285.5 441.0,285.6 441.8,285.6 442.6,285.6 443.4,285.6 444.2,285.6 445.0,285.6 445.6,285.6 Z" fill="#ababab" stroke="none"/>
<path d="M382.1,285.6 382.9,285.6 383.7,285.6 384.5,285.6 385.3,285.6 386.1,285.6 386.9,285.6 387.7,285.6 388.5,285.6 389.3,285.6 390.1,285.6 390.9,285.6 391.7,285.6 392.5,285.6 393.3,285.6 394.1,285.6 394.9,285.6 395.7,285.6 396.5,285.6 397.3,285.6 398.1,285.6 398.9,285.6 399.7,285.6 400.5,285.6 401.3,285.6 402.1,285.5 402.9,285.5 403.7,285.4 404.5,285.4 405.3,285.2 406.1,284.8 406.9,284.9 407.7,284.5 408.5,283.8 409.3,282.8 410.1,281.4 410.9,279.3 411.7,278.4 412.5,273.9 413.3,272.2 414.1,268.5 414.9,265.0 415.7,258.4 416.5,252.7 417.3,249.8 418.1,241.7 418.9,238.1 419.7,235.8 420.5,233.4 421.3,234.6 422.1,232.0 422.9,234.1 423.7,240.4 424.5,248.4 425.3,253.1 426.1,256.3 426.9,264.3 427.7,266.7 428.5,270.4 429.3,274.2 430.1,277.9 430.9,280.2 431.7,282.0 432.5,281.7 433.3,282.9 434.1,284.2 434.9,284.7 435.7,284.8 436.5,285.2 437.3,285.3 438.1,285.4 438.9,285.5 439.7,285.5 440.5,285.6 441.3,285.6 442.1,285.6 442.9,285.6 443.7,285.6 444.5,285.6 445.3,285.6" fill="none" stroke="#ff90cc" stroke-width="1.2" stroke-linejoin="round"/>
<path d="M382.1,285.6 382.9,285.6 383.7,285.6 384.5,285.6 385.3,285.6 386.1,285.6 386.9,285.6 387.7,285.6 388.5,285.6 389.3,285.6 390.1,285.6 390.9,285.6 391.7,285.6 392.5,285.6 393.3,285.6 394.1,285.6 394.9,285.6 395.7,285.6 396.5,285.6 397.3,285.6 398.1,285.6 398.9,285.6 399.7,285.6 400.5,285.6 401.3,285.6 402.1,285.5 402.9,285.5 403.7,285.5 404.5,285.4 405.3,285.2 406.1,285.2 406.9,285.0 407.7,284.5 408.5,283.2 409.3,283.1 410.1,281.0 410.9,280.2 411.7,278.0 412.5,274.7 413.3,273.6 414.1,267.0 414.9,263.5 415.7,260.4 416.5,255.7 417.3,248.9 418.1,241.9 418.9,236.5 419.7,238.1 420.5,234.1 421.3,229.9 422.1,236.2 422.9,236.5 423.7,241.9 424.5,246.5 425.3,252.0 426.1,259.9 426.9,260.8 427.7,266.2 428.5,270.0 429.3,274.0 430.1,276.2 430.9,279.4 431.7,281.9 432.5,282.8 433.3,283.7 434.1,283.6 434.9,284.9 435.7,285.3 436.5,285.2 437.3,285.3 438.1,285.4 438.9,285.5 439.7,285.5 440.5,285.6 441.3,285.6 442.1,285.6 442.9,285.6 443.7,285.6 444.5,285.6 445.3,285.6" fill="none" stroke="#ff3fa8" stroke-width="1.2" stroke-linejoin="round"/>
<path d="M382.1,285.6 382.9,285.6 383.7,285.6 384.5,285.6 385.3,285.6 386.1,285.6 386.9,285.6 387.7,285.6 388.5,285.6 389.3,285.6 390.1,285.6 390.9,285.6 391.7,285.6 392.5,285.6 393.3,285.6 394.1,285.6 394.9,285.6 395.7,285.6 396.5,285.6 397.3,285.6 398.1,285.6 398.9,285.6 399.7,285.6 400.5,285.6 401.3,285.5 402.1,285.5 402.9,285.4 403.7,285.4 404.5,285.2 405.3,284.8 406.1,285.0 406.9,284.5 407.7,284.3 408.5,283.3 409.3,281.4 410.1,280.5 410.9,279.5 411.7,277.5 412.5,271.9 413.3,271.4 414.1,266.0 414.9,261.3 415.7,257.2 416.5,252.7 417.3,247.1 418.1,241.6 418.9,237.2 419.7,230.8 420.5,228.6 421.3,234.3 422.1,234.9 422.9,239.8 423.7,241.1 424.5,245.2 425.3,251.3 426.1,258.5 426.9,262.2 427.7,267.2 428.5,269.0 429.3,272.3 430.1,275.8 430.9,278.5 431.7,279.5 432.5,281.6 433.3,283.4 434.1,283.2 434.9,284.2 435.7,284.4 436.5,285.1 437.3,285.2 438.1,285.4 438.9,285.4 439.7,285.5 440.5,285.5 441.3,285.6 442.1,285.6 442.9,285.6 443.7,285.6 444.5,285.6 445.3,285.6" fill="none" stroke="#ff1a1a" stroke-width="1.2" stroke-linejoin="round"/>
<path d="M382.1,285.6 382.9,285.6 383.7,285.6 384.5,285.6 385.3,285.6 386.1,285.6 386.9,285.6 387.7,285.6 388.5,285.6 389.3,285.6 390.1,285.6 390.9,285.6 391.7,285.6 392.5,285.6 393.3,285.6 394.1,285.6 394.9,285.6 395.7,285.6 396.5,285.6 397.3,285.6 398.1,285.6 398.9,285.6 399.7,285.6 400.5,285.6 401.3,285.6 402.1,285.5 402.9,285.5 403.7,285.4 404.5,285.3 405.3,285.2 406.1,285.1 406.9,284.7 407.7,284.3 408.5,283.6 409.3,282.7 410.1,281.3 410.9,279.5 411.7,278.1 412.5,275.3 413.3,272.0 414.1,269.0 414.9,263.5 415.7,260.2 416.5,254.1 417.3,253.1 418.1,246.9 418.9,242.2 419.7,238.0 420.5,237.1 421.3,231.5 422.1,231.7 422.9,232.6 423.7,239.9 424.5,241.7 425.3,246.8 426.1,253.3 426.9,259.6 427.7,264.6 428.5,266.3 429.3,272.6 430.1,273.5 430.9,277.1 431.7,280.2 432.5,281.2 433.3,282.1 434.1,282.8 434.9,284.1 435.7,284.3 436.5,284.6 437.3,285.1 438.1,285.3 438.9,285.4 439.7,285.5 440.5,285.5 441.3,285.6 442.1,285.6 442.9,285.6 443.7,285.6 444.5,285.6 445.3,285.6" fill="none" stroke="#b00010" stroke-width="1.2" stroke-linejoin="round"/>
<path d="M382.1,285.6 382.9,285.6 383.7,285.6 384.5,285.6 385.3,285.6 386.1,285.6 386.9,285.6 387.7,285.6 388.5,285.6 389.3,285.6 390.1,285.6 390.9,285.6 391.7,285.6 392.5,285.6 393.3,285.6 394.1,285.6 394.9,285.6 395.7,285.6 396.5,285.6 397.3,285.6 398.1,285.6 398.9,285.6 399.7,285.6 400.5,285.6 401.3,285.6 402.1,285.6 402.9,285.6 403.7,285.6 404.5,285.6 405.3,285.6 406.1,285.5 406.9,285.5 407.7,285.4 408.5,285.3 409.3,285.1 410.1,285.2 410.9,284.8 411.7,284.4 412.5,283.0 413.3,282.4 414.1,280.6 414.9,277.5 415.7,275.9 416.5,274.4 417.3,269.7 418.1,264.5 418.9,261.7 419.7,252.9 420.5,249.6 421.3,244.9 422.1,239.9 422.9,237.5 423.7,234.5 424.5,232.8 425.3,235.2 426.1,239.1 426.9,242.9 427.7,251.1 428.5,255.3 429.3,259.7 430.1,265.2 430.9,271.6 431.7,272.3 432.5,275.8 433.3,280.1 434.1,281.1 434.9,283.0 435.7,282.8 436.5,284.1 437.3,284.5 438.1,284.9 438.9,285.2 439.7,285.3 440.5,285.4 441.3,285.5 442.1,285.5 442.9,285.6 443.7,285.6 444.5,285.6 445.3,285.6" fill="none" stroke="#109050" stroke-width="1.2" stroke-linejoin="round"/>
<path d="M382.1,285.6 382.9,285.6 383.7,285.6 384.5,285.6 385.3,285.6 386.1,285.6 386.9,285.6 387.7,285.6 388.5,285.6 389.3,285.6 390.1,285.6 390.9,285.6 391.7,285.6 392.5,285.6 393.3,285.6 394.1,285.6 394.9,285.6 395.7,285.6 396.5,285.6 397.3,285.6 398.1,285.6 398.9,285.6 399.7,285.6 400.5,285.6 401.3,285.6 402.1,285.6 402.9,285.6 403.7,285.6 404.5,285.6 405.3,285.6 406.1,285.5 406.9,285.5 407.7,285.4 408.5,285.3 409.3,285.1 410.1,284.7 410.9,284.7 411.7,283.6 412.5,282.4 413.3,281.5 414.1,281.0 414.9,277.4 415.7,275.0 416.5,273.7 417.3,270.5 418.1,265.6 418.9,261.5 419.7,252.9 420.5,248.3 421.3,240.4 422.1,240.1 422.9,236.1 423.7,235.3 424.5,229.8 425.3,235.8 426.1,241.7 426.9,246.9 427.7,248.2 428.5,254.3 429.3,262.2 430.1,264.9 430.9,269.4 431.7,274.0 432.5,275.6 433.3,278.5 434.1,279.8 434.9,282.2 435.7,282.8 436.5,284.3 437.3,285.0 438.1,285.2 438.9,285.2 439.7,285.3 440.5,285.4 441.3,285.5 442.1,285.5 442.9,285.6 443.7,285.6 444.5,285.6 445.3,285.6" fill="none" stroke="#22ee22" stroke-width="1.2" stroke-linejoin="round"/>
<path d="M382.1,285.6 382.9,285.6 383.7,285.6 384.5,285.6 385.3,285.6 386.1,285.6 386.9,285.6 387.7,285.6 388.5,285.6 389.3,285.6 390.1,285.6 390.9,285.6 391.7,285.6 392.5,285.6 393.3,285.6 394.1,285.6 394.9,285.6 395.7,285.6 396.5,285.6 397.3,285.6 398.1,285.6 398.9,285.6 399.7,285.6 400.5,285.6 401.3,285.6 402.1,285.6 402.9,285.6 403.7,285.6 404.5,285.6 405.3,285.6 406.1,285.6 406.9,285.6 407.7,285.6 408.5,285.6 409.3,285.6 410.1,285.6 410.9,285.5 411.7,285.5 412.5,285.5 413.3,285.4 414.1,285.3 414.9,285.2 415.7,285.0 416.5,284.5 417.3,284.5 418.1,284.1 418.9,284.3 419.7,283.3 420.5,281.6 421.3,281.7 422.1,279.4 422.9,278.3 423.7,276.4 424.5,275.6 425.3,274.2 426.1,272.9 426.9,269.6 427.7,266.4 428.5,265.1 429.3,260.8 430.1,259.1 430.9,255.5 431.7,253.9 432.5,253.6 433.3,250.9 434.1,248.4 434.9,252.7 435.7,251.8 436.5,252.7 437.3,257.6 438.1,258.2 438.9,260.9 439.7,262.0 440.5,265.6 441.3,266.7 442.1,269.9 442.9,272.1 443.7,274.5 444.5,277.1 445.3,279.6" fill="none" stroke="#1a3cff" stroke-width="1.2" stroke-linejoin="round"/>
<path d="M382.1,285.6 382.9,285.6 383.7,285.6 384.5,285.6 385.3,285.6 386.1,285.6 386.9,285.6 387.7,285.6 388.5,285.6 389.3,285.6 390.1,285.6 390.9,285.6 391.7,285.6 392.5,285.6 393.3,285.6 394.1,285.6 394.9,285.6 395.7,285.6 396.5,285.6 397.3,285.6 398.1,285.6 398.9,285.6 399.7,285.6 400.5,285.6 401.3,285.6 402.1,285.6 402.9,285.6 403.7,285.6 404.5,285.6 405.3,285.6 406.1,285.6 406.9,285.6 407.7,285.6 408.5,285.6 409.3,285.6 410.1,285.6 410.9,285.6 411.7,285.6 412.5,285.6 413.3,285.6 414.1,285.6 414.9,285.6 415.7,285.6 416.5,285.6 417.3,285.6 418.1,285.6 418.9,285.6 419.7,285.6 420.5,285.6 421.3,285.5 422.1,285.5 422.9,285.3 423.7,285.1 424.5,284.9 425.3,284.0 426.1,283.3 426.9,283.1 427.7,280.2 428.5,278.1 429.3,276.0 430.1,271.2 430.9,268.4 431.7,261.5 432.5,258.6 433.3,252.0 434.1,242.7 434.9,238.9 435.7,240.2 436.5,234.8 437.3,240.2 438.1,243.9 438.9,250.5 439.7,253.3 440.5,260.5 441.3,267.3 442.1,272.6 442.9,274.9 443.7,279.2 444.5,279.9 445.3,282.7" fill="none" stroke="#1a1f70" stroke-width="1.2" stroke-linejoin="round"/>
<line x1="382.10" y1="285.00" x2="445.30" y2="285.00" stroke="#22ee22" stroke-width="1.1" />
<text x="482.30" y="220.40" font-family='"Liberation Sans", sans-serif' font-size="9.7" font-weight="bold" text-anchor="middle" fill="#000" stroke="#000" stroke-width="0.28" >LAMTOR5-RT</text>
<rect x="448.40" y="222.10" width="63.80" height="63.50" fill="none" stroke="#c8c8c8" stroke-width="0.8"/>
<line x1="448.10" y1="222.10" x2="448.10" y2="285.60" stroke="#9a9a9a" stroke-width="0.9" stroke-dasharray="0.9 2.2"/>
<line x1="446.60" y1="224.10" x2="448.60" y2="224.10" stroke="#555" stroke-width="0.9" />
<line x1="446.60" y1="285.60" x2="448.60" y2="285.60" stroke="#555" stroke-width="0.9" />
<text x="444.00" y="294.90" font-family='"Liberation Sans", sans-serif' font-size="8.0" font-weight="normal" text-anchor="start" fill="#000" stroke="#000" stroke-width="0.3" >10</text>
<text x="453.30" y="289.90" font-family='"Liberation Sans", sans-serif' font-size="4.7" font-weight="normal" text-anchor="start" fill="#444" stroke="#444" stroke-width="0.15" >0</text>
<text x="462.85" y="294.90" font-family='"Liberation Sans", sans-serif' font-size="8.0" font-weight="normal" text-anchor="start" fill="#000" stroke="#000" stroke-width="0.3" >10</text>
<text x="472.15" y="289.90" font-family='"Liberation Sans", sans-serif' font-size="4.7" font-weight="normal" text-anchor="start" fill="#444" stroke="#444" stroke-width="0.15" >1</text>
<text x="481.70" y="294.90" font-family='"Liberation Sans", sans-serif' font-size="8.0" font-weight="normal" text-anchor="start" fill="#000" stroke="#000" stroke-width="0.3" >10</text>
<text x="491.00" y="289.90" font-family='"Liberation Sans", sans-serif' font-size="4.7" font-weight="normal" text-anchor="start" fill="#444" stroke="#444" stroke-width="0.15" >2</text>
<text x="500.55" y="294.90" font-family='"Liberation Sans", sans-serif' font-size="8.0" font-weight="normal" text-anchor="start" fill="#000" stroke="#000" stroke-width="0.3" >10</text>
<text x="509.85" y="289.90" font-family='"Liberation Sans", sans-serif' font-size="4.7" font-weight="normal" text-anchor="start" fill="#444" stroke="#444" stroke-width="0.15" >3</text>
<path d="M448.4,285.6 448.4,285.6 449.2,285.6 450.0,285.6 450.8,285.6 451.6,285.6 452.4,285.6 453.2,285.6 454.0,285.6 454.8,285.6 455.6,285.6 456.4,285.6 457.2,285.6 458.0,285.6 458.8,285.6 459.6,285.6 460.4,285.6 461.2,285.6 462.0,285.6 462.8,285.6 463.6,285.6 464.4,285.6 465.2,285.6 466.0,285.6 466.8,285.6 467.6,285.6 468.4,285.6 469.2,285.6 470.0,285.5 470.8,285.5 471.6,285.4 472.4,285.3 473.2,285.1 474.0,284.5 474.8,284.6 475.6,283.8 476.4,283.1 477.2,282.9 478.0,282.0 478.8,279.4 479.6,278.6 480.4,275.5 481.2,271.0 482.0,267.4 482.8,266.2 483.6,262.0 484.4,256.7 485.2,248.8 486.0,248.0 486.8,242.5 487.6,239.3 488.4,236.3 489.2,232.3 490.0,235.0 490.8,235.9 491.6,237.5 492.4,241.9 493.2,248.4 494.0,251.6 494.8,257.5 495.6,261.2 496.4,267.7 497.2,271.0 498.0,273.5 498.8,275.4 499.6,278.5 500.4,280.5 501.2,282.3 502.0,283.2 502.8,284.0 503.6,283.8 504.4,284.4 505.2,284.8 506.0,285.2 506.8,285.3 507.6,285.4 508.4,285.5 509.2,285.5 510.0,285.6 510.8,285.6 511.6,285.6 512.2,285.6 Z" fill="#ababab" stroke="none"/>
<path d="M448.7,285.6 449.5,285.6 450.3,285.6 451.1,285.6 451.9,285.6 452.7,285.6 453.5,285.6 454.3,285.6 455.1,285.6 455.9,285.6 456.7,285.6 457.5,285.6 458.3,285.6 459.1,285.6 459.9,285.6 460.7,285.6 461.5,285.6 462.3,285.6 463.1,285.6 463.9,285.6 464.7,285.6 465.5,285.6 466.3,285.6 467.1,285.6 467.9,285.5 468.7,285.5 469.5,285.4 470.3,285.3 471.1,285.2 471.9,284.8 472.7,284.9 473.5,283.8 474.3,283.3 475.1,283.0 475.9,281.8 476.7,280.3 477.5,279.3 478.3,276.2 479.1,273.8 479.9,270.8 480.7,268.2 481.5,263.8 482.3,258.5 483.1,258.7 483.9,250.5 484.7,245.0 485.5,245.3 486.3,236.8 487.1,236.5 487.9,230.4 488.7,235.1 489.5,234.2 490.3,236.3 491.1,239.9 491.9,245.8 492.7,251.7 493.5,251.5 494.3,259.4 495.1,261.9 495.9,266.8 496.7,271.1 497.5,274.4 498.3,276.3 499.1,277.3 499.9,279.8 500.7,281.7 501.5,282.7 502.3,283.0 503.1,283.7 503.9,285.0 504.7,285.0 505.5,285.0 506.3,285.3 507.1,285.4 507.9,285.5 508.7,285.5 509.5,285.5 510.3,285.6 511.1,285.6 511.9,285.6" fill="none" stroke="#ff90cc" stroke-width="1.2" stroke-linejoin="round"/>
<path d="M448.7,285.6 449.5,285.6 450.3,285.6 451.1,285.6 451.9,285.6 452.7,285.6 453.5,285.6 454.3,285.6 455.1,285.6 455.9,285.6 456.7,285.6 457.5,285.6 458.3,285.6 459.1,285.6 459.9,285.6 460.7,285.6 461.5,285.6 462.3,285.6 463.1,285.6 463.9,285.6 464.7,285.6 465.5,285.6 466.3,285.6 467.1,285.6 467.9,285.5 468.7,285.5 469.5,285.4 470.3,285.3 471.1,285.2 471.9,284.7 472.7,284.3 473.5,283.9 474.3,283.3 475.1,282.2 475.9,281.6 476.7,279.9 477.5,279.8 478.3,276.4 479.1,274.5 479.9,272.4 480.7,268.5 481.5,265.2 482.3,258.2 483.1,254.3 483.9,252.0 484.7,245.2 485.5,243.9 486.3,240.0 487.1,231.9 487.9,229.8 488.7,232.7 489.5,234.6 490.3,236.7 491.1,242.5 491.9,242.0 492.7,246.1 493.5,252.3 494.3,260.1 495.1,262.6 495.9,264.6 496.7,271.7 497.5,272.7 498.3,275.9 499.1,277.5 499.9,279.6 500.7,281.7 501.5,282.7 502.3,283.7 503.1,284.5 503.9,284.2 504.7,284.8 505.5,284.8 506.3,285.3 507.1,285.4 507.9,285.5 508.7,285.5 509.5,285.5 510.3,285.6 511.1,285.6 511.9,285.6" fill="none" stroke="#ff3fa8" stroke-width="1.2" stroke-linejoin="round"/>
<path d="M448.7,285.6 449.5,285.6 450.3,285.6 451.1,285.6 451.9,285.6 452.7,285.6 453.5,285.6 454.3,285.6 455.1,285.6 455.9,285.6 456.7,285.6 457.5,285.6 458.3,285.6 459.1,285.6 459.9,285.6 460.7,285.6 461.5,285.6 462.3,285.6 463.1,285.6 463.9,285.6 464.7,285.6 465.5,285.6 466.3,285.6 467.1,285.6 467.9,285.5 468.7,285.5 469.5,285.5 470.3,285.4 471.1,285.3 471.9,285.1 472.7,285.0 473.5,284.8 474.3,284.6 475.1,283.0 475.9,283.0 476.7,282.0 477.5,279.2 478.3,278.6 479.1,276.3 479.9,274.8 480.7,271.4 481.5,267.5 482.3,264.8 483.1,259.8 483.9,254.2 484.7,247.4 485.5,243.5 486.3,242.0 487.1,235.5 487.9,230.2 488.7,230.5 489.5,231.4 490.3,236.8 491.1,239.8 491.9,243.0 492.7,245.7 493.5,251.0 494.3,252.8 495.1,261.3 495.9,263.8 496.7,268.8 497.5,272.4 498.3,272.8 499.1,276.1 499.9,280.1 500.7,281.5 501.5,282.2 502.3,283.3 503.1,283.2 503.9,284.7 504.7,284.8 505.5,284.9 506.3,285.2 507.1,285.3 507.9,285.4 508.7,285.5 509.5,285.5 510.3,285.5 511.1,285.6 511.9,285.6" fill="none" stroke="#ff1a1a" stroke-width="1.2" stroke-linejoin="round"/>
<path d="M448.7,285.6 449.5,285.6 450.3,285.6 451.1,285.6 451.9,285.6 452.7,285.6 453.5,285.6 454.3,285.6 455.1,285.6 455.9,285.6 456.7,285.6 457.5,285.6 458.3,285.6 459.1,285.6 459.9,285.6 460.7,285.6 461.5,285.6 462.3,285.6 463.1,285.6 463.9,285.6 464.7,285.6 465.5,285.6 466.3,285.6 467.1,285.6 467.9,285.5 468.7,285.5 469.5,285.5 470.3,285.4 471.1,285.3 471.9,285.1 472.7,284.7 473.5,284.4 474.3,284.1 475.1,283.1 475.9,282.7 476.7,282.2 477.5,279.6 478.3,279.1 479.1,275.9 479.9,273.2 480.7,272.3 481.5,266.6 482.3,261.3 483.1,258.1 483.9,255.8 484.7,250.9 485.5,245.3 486.3,242.6 487.1,235.1 487.9,235.7 488.7,232.6 489.5,235.3 490.3,234.2 491.1,239.0 491.9,238.9 492.7,246.3 493.5,249.7 494.3,256.1 495.1,262.3 495.9,263.4 496.7,269.9 497.5,273.1 498.3,273.8 499.1,277.8 499.9,279.4 500.7,281.0 501.5,281.9 502.3,282.9 503.1,284.1 503.9,284.7 504.7,284.4 505.5,285.2 506.3,285.2 507.1,285.3 507.9,285.4 508.7,285.5 509.5,285.5 510.3,285.6 511.1,285.6 511.9,285.6" fill="none" stroke="#b00010" stroke-width="1.2" stroke-linejoin="round"/>
<path d="M448.7,285.6 449.5,285.6 450.3,285.6 451.1,285.6 451.9,285.6 452.7,285.6 453.5,285.6 454.3,285.6 455.1,285.6 455.9,285.6 456.7,285.6 457.5,285.6 458.3,285.6 459.1,285.6 459.9,285.6 460.7,285.6 461.5,285.6 462.3,285.6 463.1,285.6 463.9,285.6 464.7,285.6 465.5,285.6 466.3,285.6 467.1,285.6 467.9,285.6 468.7,285.6 469.5,285.6 470.3,285.5 471.1,285.5 471.9,285.5 472.7,285.4 473.5,285.2 474.3,285.2 475.1,284.5 475.9,284.1 476.7,283.4 477.5,283.2 478.3,282.3 479.1,280.3 479.9,278.5 480.7,276.3 481.5,275.5 482.3,272.2 483.1,267.4 483.9,265.9 484.7,261.2 485.5,255.2 486.3,252.0 487.1,247.4 487.9,243.9 488.7,240.2 489.5,239.2 490.3,235.5 491.1,237.7 491.9,236.1 492.7,240.1 493.5,243.2 494.3,250.5 495.1,255.1 495.9,256.7 496.7,262.3 497.5,265.6 498.3,270.8 499.1,272.3 499.9,276.9 500.7,277.4 501.5,280.1 502.3,281.4 503.1,282.2 503.9,283.4 504.7,284.4 505.5,284.5 506.3,285.3 507.1,285.2 507.9,285.3 508.7,285.4 509.5,285.5 510.3,285.5 511.1,285.6 511.9,285.6" fill="none" stroke="#109050" stroke-width="1.2" stroke-linejoin="round"/>
<path d="M448.7,285.6 449.5,285.6 450.3,285.6 451.1,285.6 451.9,285.6 452.7,285.6 453.5,285.6 454.3,285.6 455.1,285.6 455.9,285.6 456.7,285.6 457.5,285.6 458.3,285.6 459.1,285.6 459.9,285.6 460.7,285.6 461.5,285.6 462.3,285.6 463.1,285.6 463.9,285.6 464.7,285.6 465.5,285.6 466.3,285.6 467.1,285.6 467.9,285.6 468.7,285.6 469.5,285.6 470.3,285.5 471.1,285.5 471.9,285.4 472.7,285.4 473.5,285.2 474.3,285.2 475.1,284.8 475.9,284.9 476.7,284.4 477.5,283.8 478.3,281.6 479.1,281.8 479.9,280.3 480.7,276.5 481.5,275.9 482.3,273.0 483.1,267.4 483.9,265.4 484.7,258.8 485.5,254.4 486.3,249.3 487.1,244.8 487.9,244.2 488.7,235.8 489.5,235.3 490.3,232.0 491.1,234.5 491.9,234.6 492.7,240.0 493.5,246.3 494.3,250.6 495.1,251.3 495.9,258.3 496.7,262.9 497.5,267.2 498.3,270.8 499.1,274.3 499.9,277.5 500.7,279.5 501.5,279.6 502.3,280.9 503.1,282.4 503.9,283.4 504.7,283.8 505.5,284.5 506.3,284.7 507.1,285.2 507.9,285.3 508.7,285.4 509.5,285.5 510.3,285.5 511.1,285.6 511.9,285.6" fill="none" stroke="#22ee22" stroke-width="1.2" stroke-linejoin="round"/>
<path d="M448.7,285.6 449.5,285.6 450.3,285.6 451.1,285.6 451.9,285.6 452.7,285.6 453.5,285.6 454.3,285.6 455.1,285.6 455.9,285.6 456.7,285.6 457.5,285.6 458.3,285.6 459.1,285.6 459.9,285.6 460.7,285.6 461.5,285.6 462.3,285.6 463.1,285.6 463.9,285.6 464.7,285.6 465.5,285.6 466.3,285.6 467.1,285.6 467.9,285.6 468.7,285.5 469.5,285.5 470.3,285.4 471.1,285.3 471.9,285.2 472.7,284.8 473.5,284.7 474.3,284.0 475.1,284.2 475.9,282.6 476.7,281.4 477.5,280.9 478.3,279.6 479.1,276.1 479.9,273.1 480.7,270.1 481.5,266.4 482.3,263.8 483.1,260.4 483.9,255.3 484.7,250.9 485.5,241.5 486.3,240.1 487.1,238.4 487.9,235.1 488.7,228.8 489.5,233.9 490.3,231.8 491.1,236.9 491.9,238.2 492.7,245.9 493.5,251.0 494.3,256.4 495.1,258.5 495.9,265.7 496.7,267.6 497.5,270.2 498.3,273.4 499.1,277.7 499.9,279.3 500.7,280.3 501.5,281.8 502.3,282.5 503.1,283.5 503.9,284.7 504.7,285.1 505.5,284.9 506.3,285.2 507.1,285.3 507.9,285.4 508.7,285.5 509.5,285.5 510.3,285.6 511.1,285.6 511.9,285.6" fill="none" stroke="#1a3cff" stroke-width="1.2" stroke-linejoin="round"/>
<path d="M448.7,285.6 449.5,285.6 450.3,285.6 451.1,285.6 451.9,285.6 452.7,285.6 453.5,285.6 454.3,285.6 455.1,285.6 455.9,285.6 456.7,285.6 457.5,285.6 458.3,285.6 459.1,285.6 459.9,285.6 460.7,285.6 461.5,285.6 462.3,285.6 463.1,285.6 463.9,285.6 464.7,285.6 465.5,285.6 466.3,285.6 467.1,285.6 467.9,285.5 468.7,285.5 469.5,285.4 470.3,285.3 471.1,285.2 471.9,284.9 472.7,284.4 473.5,283.8 474.3,283.4 475.1,283.6 475.9,282.6 476.7,280.2 477.5,278.0 478.3,277.1 479.1,274.3 479.9,273.0 480.7,267.3 481.5,261.5 482.3,258.5 483.1,254.8 483.9,249.0 484.7,246.2 485.5,239.2 486.3,232.1 487.1,234.3 487.9,228.1 488.7,226.7 489.5,229.3 490.3,234.8 491.1,240.2 491.9,244.3 492.7,245.8 493.5,253.2 494.3,259.1 495.1,261.3 495.9,267.8 496.7,269.4 497.5,273.5 498.3,276.7 499.1,277.7 499.9,281.1 500.7,281.9 501.5,283.3 502.3,283.7 503.1,284.2 503.9,284.4 504.7,285.2 505.5,285.2 506.3,285.3 507.1,285.4 507.9,285.5 508.7,285.5 509.5,285.6 510.3,285.6 511.1,285.6 511.9,285.6" fill="none" stroke="#1a1f70" stroke-width="1.2" stroke-linejoin="round"/>
<line x1="448.70" y1="285.00" x2="511.90" y2="285.00" stroke="#22ee22" stroke-width="1.1" />
<text x="550.40" y="220.40" font-family='"Liberation Sans", sans-serif' font-size="9.7" font-weight="bold" text-anchor="middle" fill="#000" stroke="#000" stroke-width="0.28" >ARHGEF35-RT</text>
<rect x="515.90" y="222.10" width="63.80" height="63.50" fill="none" stroke="#c8c8c8" stroke-width="0.8"/>
<line x1="515.60" y1="222.10" x2="515.60" y2="285.60" stroke="#9a9a9a" stroke-width="0.9" stroke-dasharray="0.9 2.2"/>
<line x1="514.10" y1="224.10" x2="516.10" y2="224.10" stroke="#555" stroke-width="0.9" />
<line x1="514.10" y1="285.60" x2="516.10" y2="285.60" stroke="#555" stroke-width="0.9" />
<text x="510.80" y="294.90" font-family='"Liberation Sans", sans-serif' font-size="8.0" font-weight="normal" text-anchor="start" fill="#000" stroke="#000" stroke-width="0.3" >10</text>
<text x="520.10" y="289.90" font-family='"Liberation Sans", sans-serif' font-size="4.7" font-weight="normal" text-anchor="start" fill="#444" stroke="#444" stroke-width="0.15" >0</text>
<text x="529.65" y="294.90" font-family='"Liberation Sans", sans-serif' font-size="8.0" font-weight="normal" text-anchor="start" fill="#000" stroke="#000" stroke-width="0.3" >10</text>
<text x="538.95" y="289.90" font-family='"Liberation Sans", sans-serif' font-size="4.7" font-weight="normal" text-anchor="start" fill="#444" stroke="#444" stroke-width="0.15" >1</text>
<text x="548.50" y="294.90" font-family='"Liberation Sans", sans-serif' font-size="8.0" font-weight="normal" text-anchor="start" fill="#000" stroke="#000" stroke-width="0.3" >10</text>
<text x="557.80" y="289.90" font-family='"Liberation Sans", sans-serif' font-size="4.7" font-weight="normal" text-anchor="start" fill="#444" stroke="#444" stroke-width="0.15" >2</text>
<text x="567.35" y="294.90" font-family='"Liberation Sans", sans-serif' font-size="8.0" font-weight="normal" text-anchor="start" fill="#000" stroke="#000" stroke-width="0.3" >10</text>
<text x="576.65" y="289.90" font-family='"Liberation Sans", sans-serif' font-size="4.7" font-weight="normal" text-anchor="start" fill="#444" stroke="#444" stroke-width="0.15" >3</text>
<path d="M515.9,285.6 515.9,285.6 516.7,285.6 517.5,285.6 518.3,285.6 519.1,285.6 519.9,285.6 520.7,285.6 521.5,285.6 522.3,285.6 523.1,285.6 523.9,285.6 524.7,285.6 525.5,285.6 526.3,285.6 527.1,285.6 527.9,285.6 528.7,285.6 529.5,285.6 530.3,285.6 531.1,285.6 531.9,285.6 532.7,285.6 533.5,285.6 534.3,285.6 535.1,285.6 535.9,285.6 536.7,285.6 537.5,285.6 538.3,285.6 539.1,285.6 539.9,285.6 540.7,285.6 541.5,285.6 542.3,285.6 543.1,285.6 543.9,285.6 544.7,285.5 545.5,285.5 546.3,285.4 547.1,285.3 547.9,285.1 548.7,284.5 549.5,284.0 550.3,283.3 551.1,283.0 551.9,281.4 552.7,278.6 553.5,275.6 554.3,274.4 555.1,269.8 555.9,262.0 556.7,259.4 557.5,250.5 558.3,245.6 559.1,237.6 559.9,230.7 560.7,228.5 561.5,228.0 562.3,230.1 563.1,232.2 563.9,237.7 564.7,245.2 565.5,251.5 566.3,257.5 567.1,264.5 567.9,269.8 568.7,272.7 569.5,277.4 570.3,278.9 571.1,280.6 571.9,282.1 572.7,283.9 573.5,284.4 574.3,284.5 575.1,285.1 575.9,285.3 576.7,285.4 577.5,285.5 578.3,285.5 579.1,285.6 579.7,285.6 Z" fill="#ababab" stroke="none"/>
<path d="M516.2,285.6 517.0,285.6 517.8,285.6 518.6,285.6 519.4,285.6 520.2,285.6 521.0,285.6 521.8,285.6 522.6,285.6 523.4,285.6 524.2,285.6 525.0,285.6 525.8,285.6 526.6,285.6 527.4,285.6 528.2,285.6 529.0,285.6 529.8,285.6 530.6,285.6 531.4,285.6 532.2,285.6 533.0,285.6 533.8,285.6 534.6,285.6 535.4,285.6 536.2,285.6 537.0,285.6 537.8,285.6 538.6,285.6 539.4,285.6 540.2,285.6 541.0,285.6 541.8,285.6 542.6,285.6 543.4,285.5 544.2,285.5 545.0,285.4 545.8,285.3 546.6,285.2 547.4,284.6 548.2,284.9 549.0,283.4 549.8,283.3 550.6,281.6 551.4,280.1 552.2,277.6 553.0,275.6 553.8,271.9 554.6,268.0 555.4,260.8 556.2,256.4 557.0,248.5 557.8,243.5 558.6,237.1 559.4,235.0 560.2,229.0 561.0,229.4 561.8,228.8 562.6,229.6 563.4,235.8 564.2,244.4 565.0,250.0 565.8,255.8 566.6,260.4 567.4,266.6 568.2,271.9 569.0,273.7 569.8,277.3 570.6,279.5 571.4,282.7 572.2,283.1 573.0,284.1 573.8,284.5 574.6,285.0 575.4,285.2 576.2,285.3 577.0,285.4 577.8,285.5 578.6,285.5 579.4,285.6" fill="none" stroke="#ff90cc" stroke-width="1.2" stroke-linejoin="round"/>
<path d="M516.2,285.6 517.0,285.6 517.8,285.6 518.6,285.6 519.4,285.6 520.2,285.6 521.0,285.6 521.8,285.6 522.6,285.6 523.4,285.6 524.2,285.6 525.0,285.6 525.8,285.6 526.6,285.6 527.4,285.6 528.2,285.6 529.0,285.6 529.8,285.6 530.6,285.6 531.4,285.6 532.2,285.6 533.0,285.6 533.8,285.6 534.6,285.6 535.4,285.6 536.2,285.6 537.0,285.6 537.8,285.6 538.6,285.6 539.4,285.6 540.2,285.6 541.0,285.6 541.8,285.6 542.6,285.6 543.4,285.5 544.2,285.5 545.0,285.4 545.8,285.3 546.6,285.2 547.4,284.8 548.2,284.3 549.0,284.1 549.8,282.8 550.6,281.5 551.4,280.7 552.2,277.6 553.0,274.9 553.8,272.6 554.6,268.0 555.4,263.0 556.2,256.9 557.0,252.0 557.8,241.6 558.6,240.0 559.4,229.8 560.2,228.3 561.0,227.5 561.8,229.1 562.6,232.3 563.4,237.7 564.2,245.8 565.0,252.5 565.8,253.9 566.6,261.3 567.4,265.8 568.2,270.6 569.0,276.1 569.8,278.8 570.6,279.8 571.4,282.1 572.2,282.9 573.0,284.4 573.8,284.9 574.6,285.3 575.4,285.2 576.2,285.3 577.0,285.4 577.8,285.5 578.6,285.5 579.4,285.6" fill="none" stroke="#ff3fa8" stroke-width="1.2" stroke-linejoin="round"/>
<path d="M516.2,285.6 517.0,285.6 517.8,285.6 518.6,285.6 519.4,285.6 520.2,285.6 521.0,285.6 521.8,285.6 522.6,285.6 523.4,285.6 524.2,285.6 525.0,285.6 525.8,285.6 526.6,285.6 527.4,285.6 528.2,285.6 529.0,285.6 529.8,285.6 530.6,285.6 531.4,285.6 532.2,285.6 533.0,285.6 533.8,285.6 534.6,285.6 535.4,285.6 536.2,285.6 537.0,285.6 537.8,285.6 538.6,285.6 539.4,285.6 540.2,285.6 541.0,285.6 541.8,285.6 542.6,285.6 543.4,285.6 544.2,285.5 545.0,285.5 545.8,285.4 546.6,285.2 547.4,285.1 548.2,284.7 549.0,283.6 549.8,283.2 550.6,282.3 551.4,280.2 552.2,279.9 553.0,276.7 553.8,273.6 554.6,268.1 555.4,264.1 556.2,256.3 557.0,250.0 557.8,246.5 558.6,239.7 559.4,235.5 560.2,232.7 561.0,227.6 561.8,227.5 562.6,231.4 563.4,237.8 564.2,242.9 565.0,248.6 565.8,255.5 566.6,258.9 567.4,266.4 568.2,270.9 569.0,272.1 569.8,275.5 570.6,279.2 571.4,281.0 572.2,283.0 573.0,283.1 573.8,284.3 574.6,285.1 575.4,284.9 576.2,285.3 577.0,285.4 577.8,285.5 578.6,285.5 579.4,285.6" fill="none" stroke="#ff1a1a" stroke-width="1.2" stroke-linejoin="round"/>
<path d="M516.2,285.6 517.0,285.6 517.8,285.6 518.6,285.6 519.4,285.6 520.2,285.6 521.0,285.6 521.8,285.6 522.6,285.6 523.4,285.6 524.2,285.6 525.0,285.6 525.8,285.6 526.6,285.6 527.4,285.6 528.2,285.6 529.0,285.6 529.8,285.6 530.6,285.6 531.4,285.6 532.2,285.6 533.0,285.6 533.8,285.6 534.6,285.6 535.4,285.6 536.2,285.6 537.0,285.6 537.8,285.6 538.6,285.6 539.4,285.6 540.2,285.6 541.0,285.6 541.8,285.6 542.6,285.6 543.4,285.6 544.2,285.5 545.0,285.5 545.8,285.4 546.6,285.2 547.4,284.7 548.2,284.7 549.0,284.2 549.8,283.5 550.6,282.7 551.4,281.3 552.2,280.0 553.0,276.6 553.8,273.5 554.6,268.1 555.4,265.2 556.2,257.4 557.0,251.6 557.8,248.7 558.6,242.1 559.4,236.0 560.2,227.6 561.0,230.0 561.8,226.6 562.6,229.8 563.4,238.4 564.2,238.5 565.0,249.6 565.8,253.2 566.6,260.3 567.4,264.3 568.2,271.0 569.0,273.0 569.8,278.0 570.6,280.2 571.4,281.7 572.2,282.8 573.0,283.7 573.8,284.3 574.6,284.5 575.4,285.4 576.2,285.3 577.0,285.4 577.8,285.5 578.6,285.5 579.4,285.6" fill="none" stroke="#b00010" stroke-width="1.2" stroke-linejoin="round"/>
<path d="M516.2,285.6 517.0,285.6 517.8,285.6 518.6,285.6 519.4,285.6 520.2,285.6 521.0,285.6 521.8,285.6 522.6,285.6 523.4,285.6 524.2,285.6 525.0,285.6 525.8,285.6 526.6,285.6 527.4,285.6 528.2,285.6 529.0,285.6 529.8,285.6 530.6,285.6 531.4,285.6 532.2,285.6 533.0,285.6 533.8,285.6 534.6,285.6 535.4,285.6 536.2,285.6 537.0,285.6 537.8,285.6 538.6,285.6 539.4,285.6 540.2,285.6 541.0,285.6 541.8,285.6 542.6,285.6 543.4,285.5 544.2,285.5 545.0,285.4 545.8,285.3 546.6,285.1 547.4,284.5 548.2,284.1 549.0,283.5 549.8,282.9 550.6,281.1 551.4,280.3 552.2,277.9 553.0,272.8 553.8,268.1 554.6,265.3 555.4,257.1 556.2,251.7 557.0,247.7 557.8,240.6 558.6,233.4 559.4,230.7 560.2,228.6 561.0,226.1 561.8,225.2 562.6,234.8 563.4,239.2 564.2,243.7 565.0,252.8 565.8,256.5 566.6,263.7 567.4,269.3 568.2,275.1 569.0,276.8 569.8,278.5 570.6,281.8 571.4,282.8 572.2,283.1 573.0,284.0 573.8,285.1 574.6,285.1 575.4,285.3 576.2,285.4 577.0,285.5 577.8,285.5 578.6,285.6 579.4,285.6" fill="none" stroke="#1a3cff" stroke-width="1.2" stroke-linejoin="round"/>
<path d="M516.2,285.6 517.0,285.6 517.8,285.6 518.6,285.6 519.4,285.6 520.2,285.6 521.0,285.6 521.8,285.6 522.6,285.6 523.4,285.6 524.2,285.6 525.0,285.6 525.8,285.6 526.6,285.6 527.4,285.6 528.2,285.6 529.0,285.6 529.8,285.6 530.6,285.6 531.4,285.6 532.2,285.6 533.0,285.6 533.8,285.6 534.6,285.6 535.4,285.6 536.2,285.6 537.0,285.6 537.8,285.6 538.6,285.6 539.4,285.6 540.2,285.6 541.0,285.6 541.8,285.6 542.6,285.6 543.4,285.5 544.2,285.5 545.0,285.4 545.8,285.3 546.6,285.3 547.4,284.7 548.2,284.2 549.0,283.0 549.8,281.5 550.6,280.5 551.4,277.4 552.2,275.1 553.0,271.1 553.8,265.9 554.6,261.0 555.4,256.4 556.2,248.9 557.0,243.9 557.8,236.7 558.6,229.7 559.4,224.2 560.2,222.3 561.0,223.5 561.8,225.2 562.6,235.2 563.4,239.5 564.2,248.8 565.0,252.1 565.8,259.5 566.6,264.5 567.4,269.6 568.2,273.1 569.0,278.2 569.8,279.4 570.6,282.4 571.4,283.1 572.2,284.0 573.0,284.9 573.8,285.0 574.6,285.2 575.4,285.3 576.2,285.5 577.0,285.5 577.8,285.6 578.6,285.6 579.4,285.6" fill="none" stroke="#1a1f70" stroke-width="1.2" stroke-linejoin="round"/>
<path d="M516.2,285.6 517.0,285.6 517.8,285.6 518.6,285.6 519.4,285.6 520.2,285.6 521.0,285.6 521.8,285.6 522.6,285.6 523.4,285.6 524.2,285.6 525.0,285.6 525.8,285.6 526.6,285.6 527.4,285.6 528.2,285.6 529.0,285.6 529.8,285.6 530.6,285.6 531.4,285.6 532.2,285.6 533.0,285.6 533.8,285.6 534.6,285.6 535.4,285.6 536.2,285.6 537.0,285.6 537.8,285.6 538.6,285.6 539.4,285.6 540.2,285.6 541.0,285.6 541.8,285.6 542.6,285.6 543.4,285.6 544.2,285.6 545.0,285.6 545.8,285.5 546.6,285.5 547.4,285.3 548.2,285.2 549.0,284.6 549.8,284.4 550.6,283.5 551.4,283.5 552.2,281.5 553.0,279.3 553.8,277.3 554.6,273.4 555.4,268.7 556.2,262.9 557.0,260.3 557.8,251.0 558.6,246.1 559.4,240.4 560.2,229.4 561.0,226.9 561.8,226.1 562.6,229.5 563.4,227.0 564.2,238.6 565.0,243.6 565.8,250.8 566.6,253.8 567.4,259.8 568.2,265.6 569.0,272.7 569.8,275.3 570.6,277.4 571.4,279.9 572.2,282.2 573.0,283.2 573.8,284.5 574.6,284.3 575.4,285.3 576.2,285.3 577.0,285.4 577.8,285.5 578.6,285.5 579.4,285.6" fill="none" stroke="#109050" stroke-width="1.2" stroke-linejoin="round"/>
<path d="M516.2,285.6 517.0,285.6 517.8,285.6 518.6,285.6 519.4,285.6 520.2,285.6 521.0,285.6 521.8,285.6 522.6,285.6 523.4,285.6 524.2,285.6 525.0,285.6 525.8,285.6 526.6,285.6 527.4,285.6 528.2,285.6 529.0,285.6 529.8,285.6 530.6,285.6 531.4,285.6 532.2,285.6 533.0,285.6 533.8,285.6 534.6,285.6 535.4,285.6 536.2,285.6 537.0,285.6 537.8,285.6 538.6,285.6 539.4,285.6 540.2,285.6 541.0,285.6 541.8,285.6 542.6,285.6 543.4,285.6 544.2,285.6 545.0,285.6 545.8,285.5 546.6,285.5 547.4,285.4 548.2,285.2 549.0,285.0 549.8,285.0 550.6,283.5 551.4,282.5 552.2,280.8 553.0,279.6 553.8,278.4 554.6,275.7 555.4,271.3 556.2,263.6 557.0,258.7 557.8,252.4 558.6,244.0 559.4,236.4 560.2,233.6 561.0,227.6 561.8,226.4 562.6,222.1 563.4,227.7 564.2,231.3 565.0,240.7 565.8,246.5 566.6,254.8 567.4,260.1 568.2,264.6 569.0,268.6 569.8,273.4 570.6,276.2 571.4,279.6 572.2,282.5 573.0,282.4 573.8,283.7 574.6,284.6 575.4,284.8 576.2,285.2 577.0,285.4 577.8,285.5 578.6,285.5 579.4,285.6" fill="none" stroke="#22ee22" stroke-width="1.2" stroke-linejoin="round"/>
<line x1="516.20" y1="285.00" x2="579.40" y2="285.00" stroke="#22ee22" stroke-width="1.1" />
<text x="239.40" y="255.10" transform="rotate(-90 239.40 255.10)" font-family='"Liberation Sans", sans-serif' font-size="9.7" font-weight="bold" text-anchor="middle" fill="#000" stroke="#000" stroke-width="0.28">Cell count</text>
<text x="264.80" y="304.70" font-family='"Liberation Sans", sans-serif' font-size="9.7" font-weight="bold" text-anchor="start" fill="#000" stroke="#000" stroke-width="0.28" >Protein stability</text>
<rect x="596.10" y="225.20" width="10.00" height="9.80" fill="#a9a9a9" />
<text x="609.00" y="233.30" font-family='"Liberation Sans", sans-serif' font-size="9.7" font-weight="bold" text-anchor="start" fill="#000" stroke="#000" stroke-width="0.28" >sgAPPBP2</text>
<line x1="584.30" y1="242.50" x2="593.60" y2="242.50" stroke="#b30000" stroke-width="2.1" />
<line x1="596.10" y1="242.50" x2="605.80" y2="242.50" stroke="#ff1a1a" stroke-width="2.1" />
<text x="609.00" y="244.80" font-family='"Liberation Sans", sans-serif' font-size="9.7" font-weight="bold" text-anchor="start" fill="#000" stroke="#000" stroke-width="0.28" >sgBAG6-1/-2</text>
<line x1="584.30" y1="254.00" x2="593.60" y2="254.00" stroke="#ff3fa8" stroke-width="2.1" />
<line x1="596.10" y1="254.00" x2="605.80" y2="254.00" stroke="#ff9fd0" stroke-width="2.1" />
<text x="609.00" y="256.30" font-family='"Liberation Sans", sans-serif' font-size="9.7" font-weight="bold" text-anchor="start" fill="#000" stroke="#000" stroke-width="0.28" >sgRNF126-1/-2</text>
<line x1="584.30" y1="265.20" x2="593.60" y2="265.20" stroke="#1f2e66" stroke-width="2.1" />
<line x1="596.10" y1="265.20" x2="605.80" y2="265.20" stroke="#1a3cff" stroke-width="2.1" />
<text x="609.00" y="267.50" font-family='"Liberation Sans", sans-serif' font-size="9.7" font-weight="bold" text-anchor="start" fill="#000" stroke="#000" stroke-width="0.28" >sgRNF139-1/-2</text>
<line x1="584.30" y1="276.30" x2="593.60" y2="276.30" stroke="#0f9a55" stroke-width="2.1" />
<line x1="596.10" y1="276.30" x2="605.80" y2="276.30" stroke="#22ee22" stroke-width="2.1" />
<text x="609.00" y="278.60" font-family='"Liberation Sans", sans-serif' font-size="9.7" font-weight="bold" text-anchor="start" fill="#000" stroke="#000" stroke-width="0.28" >sgMARCH6-1/-2</text>
<text x="225.00" y="329.60" font-family='"Liberation Sans", sans-serif' font-size="15.3" font-weight="bold" text-anchor="start" fill="#000" stroke="#000" stroke-width="0.28" >E</text>
<text x="299.60" y="334.10" font-family='"Liberation Sans", sans-serif' font-size="10.3" font-weight="bold" text-anchor="end" fill="#000" stroke="#000" stroke-width="0.28" >RGS18-RT</text>
<rect x="325.14" y="324.70" width="43.26" height="11.20" fill="#fdd7a8" />
<rect x="380.76" y="324.70" width="30.90" height="11.20" fill="#f9b3b3" />
<text x="306.60" y="334.10" font-family='"Liberation Mono", monospace' font-size="10.3" font-weight="bold" fill="#000" stroke="#000" stroke-width="0.3">LRK</text>
<text x="325.14" y="334.10" font-family='"Liberation Mono", monospace' font-size="10.3" font-weight="bold" fill="#000" stroke="#000" stroke-width="0.3">LILLIFM</text>
<text x="368.40" y="334.10" font-family='"Liberation Mono", monospace' font-size="10.3" font-weight="bold" fill="#1e8fe6" stroke="#1e8fe6" stroke-width="0.3">TN</text>
<text x="380.76" y="334.10" font-family='"Liberation Mono", monospace' font-size="10.3" font-weight="bold" fill="#000" stroke="#000" stroke-width="0.3">LYICF</text>
<text x="299.60" y="352.20" font-family='"Liberation Sans", sans-serif' font-size="10.3" font-weight="bold" text-anchor="end" fill="#000" stroke="#000" stroke-width="0.28" >H2</text>
<rect x="325.14" y="342.80" width="30.90" height="11.20" fill="#f9b3b3" />
<text x="306.60" y="352.20" font-family='"Liberation Mono", monospace' font-size="10.3" font-weight="bold" fill="#000" stroke="#000" stroke-width="0.3">LRK</text>
<text x="325.14" y="352.20" font-family='"Liberation Mono", monospace' font-size="10.3" font-weight="bold" fill="#000" stroke="#000" stroke-width="0.3">LYICF</text>
<text x="299.60" y="365.40" font-family='"Liberation Sans", sans-serif' font-size="10.3" font-weight="bold" text-anchor="end" fill="#000" stroke="#000" stroke-width="0.28" >TN-H2</text>
<rect x="337.50" y="356.00" width="30.90" height="11.20" fill="#f9b3b3" />
<text x="306.60" y="365.40" font-family='"Liberation Mono", monospace' font-size="10.3" font-weight="bold" fill="#000" stroke="#000" stroke-width="0.3">LRK</text>
<text x="325.14" y="365.40" font-family='"Liberation Mono", monospace' font-size="10.3" font-weight="bold" fill="#1e8fe6" stroke="#1e8fe6" stroke-width="0.3">TN</text>
<text x="337.50" y="365.40" font-family='"Liberation Mono", monospace' font-size="10.3" font-weight="bold" fill="#000" stroke="#000" stroke-width="0.3">LYICF</text>
<text x="299.60" y="378.40" font-family='"Liberation Sans", sans-serif' font-size="10.3" font-weight="bold" text-anchor="end" fill="#000" stroke="#000" stroke-width="0.28" >TN-S2</text>
<rect x="337.50" y="369.00" width="30.90" height="11.20" fill="#f9b3b3" />
<rect x="338.00" y="369.50" width="29.90" height="10.20" fill="none" stroke="#e02020" stroke-width="0.9" stroke-dasharray="0.9 0.9"/>
<text x="306.60" y="378.40" font-family='"Liberation Mono", monospace' font-size="10.3" font-weight="bold" fill="#000" stroke="#000" stroke-width="0.3">LRK</text>
<text x="325.14" y="378.40" font-family='"Liberation Mono", monospace' font-size="10.3" font-weight="bold" fill="#1e8fe6" stroke="#1e8fe6" stroke-width="0.3">TN</text>
<text x="337.50" y="378.40" font-family='"Liberation Mono", monospace' font-size="10.3" font-weight="bold" fill="#000" stroke="#000" stroke-width="0.3">FCIYL</text>
<text x="299.60" y="391.70" font-family='"Liberation Sans", sans-serif' font-size="10.3" font-weight="bold" text-anchor="end" fill="#000" stroke="#000" stroke-width="0.28" >H1</text>
<rect x="325.14" y="382.30" width="43.26" height="11.20" fill="#fdd7a8" />
<text x="306.60" y="391.70" font-family='"Liberation Mono", monospace' font-size="10.3" font-weight="bold" fill="#000" stroke="#000" stroke-width="0.3">LRK</text>
<text x="325.14" y="391.70" font-family='"Liberation Mono", monospace' font-size="10.3" font-weight="bold" fill="#000" stroke="#000" stroke-width="0.3">LILLIFM</text>
<text x="299.60" y="405.20" font-family='"Liberation Sans", sans-serif' font-size="10.3" font-weight="bold" text-anchor="end" fill="#000" stroke="#000" stroke-width="0.28" >H1-TN</text>
<rect x="325.14" y="395.80" width="43.26" height="11.20" fill="#fdd7a8" />
<text x="306.60" y="405.20" font-family='"Liberation Mono", monospace' font-size="10.3" font-weight="bold" fill="#000" stroke="#000" stroke-width="0.3">LRK</text>
<text x="325.14" y="405.20" font-family='"Liberation Mono", monospace' font-size="10.3" font-weight="bold" fill="#000" stroke="#000" stroke-width="0.3">LILLIFM</text>
<text x="368.40" y="405.20" font-family='"Liberation Mono", monospace' font-size="10.3" font-weight="bold" fill="#1e8fe6" stroke="#1e8fe6" stroke-width="0.3">TN</text>
<text x="299.60" y="418.60" font-family='"Liberation Sans", sans-serif' font-size="10.3" font-weight="bold" text-anchor="end" fill="#000" stroke="#000" stroke-width="0.28" >TN-H1</text>
<rect x="337.50" y="409.20" width="43.26" height="11.20" fill="#fdd7a8" />
<text x="306.60" y="418.60" font-family='"Liberation Mono", monospace' font-size="10.3" font-weight="bold" fill="#000" stroke="#000" stroke-width="0.3">LRK</text>
<text x="325.14" y="418.60" font-family='"Liberation Mono", monospace' font-size="10.3" font-weight="bold" fill="#1e8fe6" stroke="#1e8fe6" stroke-width="0.3">TN</text>
<text x="337.50" y="418.60" font-family='"Liberation Mono", monospace' font-size="10.3" font-weight="bold" fill="#000" stroke="#000" stroke-width="0.3">LILLIFM</text>
<text x="299.60" y="432.00" font-family='"Liberation Sans", sans-serif' font-size="10.3" font-weight="bold" text-anchor="end" fill="#000" stroke="#000" stroke-width="0.28" >S1</text>
<rect x="325.14" y="422.60" width="43.26" height="11.20" fill="#fdd7a8" />
<rect x="325.64" y="423.10" width="42.26" height="10.20" fill="none" stroke="#f08a30" stroke-width="0.9" stroke-dasharray="0.9 0.9"/>
<text x="306.60" y="432.00" font-family='"Liberation Mono", monospace' font-size="10.3" font-weight="bold" fill="#000" stroke="#000" stroke-width="0.3">LRK</text>
<text x="325.14" y="432.00" font-family='"Liberation Mono", monospace' font-size="10.3" font-weight="bold" fill="#000" stroke="#000" stroke-width="0.3">MFILLIL</text>
<text x="436.40" y="332.70" font-family='"Liberation Sans", sans-serif' font-size="15.3" font-weight="bold" text-anchor="start" fill="#000" stroke="#000" stroke-width="0.28" >F</text>
<rect x="462.1" y="335.2" width="142.40" height="76.10" fill="none" stroke="#c0c0c0" stroke-width="0.9"/>
<line x1="462.10" y1="335.20" x2="462.10" y2="411.30" stroke="#333" stroke-width="0.9" />
<line x1="459.90" y1="411.30" x2="462.10" y2="411.30" stroke="#333" stroke-width="0.9" />
<line x1="460.70" y1="398.62" x2="462.10" y2="398.62" stroke="#333" stroke-width="0.9" />
<line x1="460.70" y1="385.93" x2="462.10" y2="385.93" stroke="#333" stroke-width="0.9" />
<line x1="460.70" y1="373.25" x2="462.10" y2="373.25" stroke="#333" stroke-width="0.9" />
<line x1="460.70" y1="360.57" x2="462.10" y2="360.57" stroke="#333" stroke-width="0.9" />
<line x1="460.70" y1="347.88" x2="462.10" y2="347.88" stroke="#333" stroke-width="0.9" />
<line x1="459.90" y1="335.20" x2="462.10" y2="335.20" stroke="#333" stroke-width="0.9" />
<text x="459.40" y="338.90" font-family='"Liberation Sans", sans-serif' font-size="7.9" font-weight="normal" text-anchor="end" fill="#111" stroke="#111" stroke-width="0.3" >600</text>
<text x="459.60" y="414.20" font-family='"Liberation Sans", sans-serif' font-size="7.9" font-weight="normal" text-anchor="end" fill="#111" stroke="#111" stroke-width="0.3" >0</text>
<text x="456.60" y="420.40" font-family='"Liberation Sans", sans-serif' font-size="8.0" font-weight="normal" text-anchor="start" fill="#000" stroke="#000" stroke-width="0.3" >10</text>
<text x="465.90" y="415.40" font-family='"Liberation Sans", sans-serif' font-size="4.8" font-weight="normal" text-anchor="start" fill="#222" stroke="#222" stroke-width="0.3" >0</text>
<text x="503.70" y="420.40" font-family='"Liberation Sans", sans-serif' font-size="8.0" font-weight="normal" text-anchor="start" fill="#000" stroke="#000" stroke-width="0.3" >10</text>
<text x="513.00" y="415.40" font-family='"Liberation Sans", sans-serif' font-size="4.8" font-weight="normal" text-anchor="start" fill="#222" stroke="#222" stroke-width="0.3" >1</text>
<text x="550.10" y="420.40" font-family='"Liberation Sans", sans-serif' font-size="8.0" font-weight="normal" text-anchor="start" fill="#000" stroke="#000" stroke-width="0.3" >10</text>
<text x="559.40" y="415.40" font-family='"Liberation Sans", sans-serif' font-size="4.8" font-weight="normal" text-anchor="start" fill="#222" stroke="#222" stroke-width="0.3" >2</text>
<text x="596.00" y="420.40" font-family='"Liberation Sans", sans-serif' font-size="8.0" font-weight="normal" text-anchor="start" fill="#000" stroke="#000" stroke-width="0.3" >10</text>
<text x="605.30" y="415.40" font-family='"Liberation Sans", sans-serif' font-size="4.8" font-weight="normal" text-anchor="start" fill="#222" stroke="#222" stroke-width="0.3" >3</text>
<line x1="476.10" y1="411.30" x2="476.10" y2="412.30" stroke="#777" stroke-width="0.6" />
<line x1="484.29" y1="411.30" x2="484.29" y2="412.30" stroke="#777" stroke-width="0.6" />
<line x1="490.10" y1="411.30" x2="490.10" y2="412.30" stroke="#777" stroke-width="0.6" />
<line x1="494.60" y1="411.30" x2="494.60" y2="412.30" stroke="#777" stroke-width="0.6" />
<line x1="498.28" y1="411.30" x2="498.28" y2="412.30" stroke="#777" stroke-width="0.6" />
<line x1="501.40" y1="411.30" x2="501.40" y2="412.30" stroke="#777" stroke-width="0.6" />
<line x1="504.09" y1="411.30" x2="504.09" y2="412.30" stroke="#777" stroke-width="0.6" />
<line x1="506.47" y1="411.30" x2="506.47" y2="412.30" stroke="#777" stroke-width="0.6" />
<line x1="522.60" y1="411.30" x2="522.60" y2="412.30" stroke="#777" stroke-width="0.6" />
<line x1="530.79" y1="411.30" x2="530.79" y2="412.30" stroke="#777" stroke-width="0.6" />
<line x1="536.60" y1="411.30" x2="536.60" y2="412.30" stroke="#777" stroke-width="0.6" />
<line x1="541.10" y1="411.30" x2="541.10" y2="412.30" stroke="#777" stroke-width="0.6" />
<line x1="544.78" y1="411.30" x2="544.78" y2="412.30" stroke="#777" stroke-width="0.6" />
<line x1="547.90" y1="411.30" x2="547.90" y2="412.30" stroke="#777" stroke-width="0.6" />
<line x1="550.59" y1="411.30" x2="550.59" y2="412.30" stroke="#777" stroke-width="0.6" />
<line x1="552.97" y1="411.30" x2="552.97" y2="412.30" stroke="#777" stroke-width="0.6" />
<line x1="569.10" y1="411.30" x2="569.10" y2="412.30" stroke="#777" stroke-width="0.6" />
<line x1="577.29" y1="411.30" x2="577.29" y2="412.30" stroke="#777" stroke-width="0.6" />
<line x1="583.10" y1="411.30" x2="583.10" y2="412.30" stroke="#777" stroke-width="0.6" />
<line x1="587.60" y1="411.30" x2="587.60" y2="412.30" stroke="#777" stroke-width="0.6" />
<line x1="591.28" y1="411.30" x2="591.28" y2="412.30" stroke="#777" stroke-width="0.6" />
<line x1="594.40" y1="411.30" x2="594.40" y2="412.30" stroke="#777" stroke-width="0.6" />
<line x1="597.09" y1="411.30" x2="597.09" y2="412.30" stroke="#777" stroke-width="0.6" />
<line x1="599.47" y1="411.30" x2="599.47" y2="412.30" stroke="#777" stroke-width="0.6" />
<clipPath id="fclip"><rect x="462.1" y="335.2" width="142.40" height="78.10"/></clipPath>
<g clip-path="url(#fclip)">
<path d="M594.5,411.3 L597,407.3 L599,401.3 L600.5,393.3 L602,381.3 L603,367.3 L603.8,351.3 L604.6,337.3 L604.6,411.3 Z" fill="#a8a8a8"/>
<path d="M462.4,411.3 463.2,411.3 464.0,411.3 464.8,411.3 465.6,411.3 466.4,411.3 467.2,411.3 468.0,411.3 468.8,411.3 469.6,411.3 470.4,411.3 471.2,411.3 472.0,411.3 472.8,411.3 473.6,411.3 474.4,411.3 475.2,411.3 476.0,411.3 476.8,411.3 477.6,411.3 478.4,411.3 479.2,411.3 480.0,411.3 480.8,411.3 481.6,411.3 482.4,411.3 483.2,411.3 484.0,411.3 484.8,411.3 485.6,411.3 486.4,411.3 487.2,411.3 488.0,411.3 488.8,411.3 489.6,411.2 490.4,411.2 491.2,411.2 492.0,411.2 492.8,411.1 493.6,411.0 494.4,410.9 495.2,410.8 496.0,411.0 496.8,411.0 497.6,409.6 498.4,409.8 499.2,408.9 500.0,409.3 500.8,407.2 501.6,406.7 502.4,407.1 503.2,404.3 504.0,406.4 504.8,405.7 505.6,400.3 506.4,398.2 507.2,397.3 508.0,395.7 508.8,399.1 509.6,395.2 510.4,387.9 511.2,392.8 512.0,387.1 512.8,385.2 513.6,374.0 514.4,379.6 515.2,378.4 516.0,372.6 516.8,361.6 517.6,363.6 518.4,357.2 519.2,356.4 520.0,353.2 520.8,349.8 521.6,354.3 522.4,362.8 523.2,362.1 524.0,350.0 524.8,356.4 525.6,351.1 526.4,358.8 527.2,355.7 528.0,367.0 528.8,363.3 529.6,367.0 530.4,370.1 531.2,379.4 532.0,384.3 532.8,383.0 533.6,386.5 534.4,393.3 535.2,391.9 536.0,393.4 536.8,396.2 537.6,403.1 538.4,402.4 539.2,403.0 540.0,404.9 540.8,407.8 541.6,409.0 542.4,408.0 543.2,407.7 544.0,410.7 544.8,409.2 545.6,410.7 546.4,410.7 547.2,410.0 548.0,410.9 548.8,411.0 549.6,411.1 550.4,411.1 551.2,411.2 552.0,411.2 552.8,411.2 553.6,411.3 554.4,411.3 555.2,411.3 556.0,411.3 556.8,411.3 557.6,411.3 558.4,411.3 559.2,411.3 560.0,411.3 560.8,411.3 561.6,411.3 562.4,411.3 563.2,411.3 564.0,411.3 564.8,411.3 565.6,411.3 566.4,411.3 567.2,411.3 568.0,411.3 568.8,411.3 569.6,411.3 570.4,411.3 571.2,411.3 572.0,411.3 572.8,411.3 573.6,411.3 574.4,411.3 575.2,411.3 576.0,411.3 576.8,411.3 577.6,411.3 578.4,411.3 579.2,411.3 580.0,411.3 580.8,411.3 581.6,411.3 582.4,411.3 583.2,411.3 584.0,411.3 584.8,411.3 585.6,411.3 586.4,411.3 587.2,411.3 588.0,411.3 588.8,411.3 589.6,411.3 590.4,411.3 591.2,411.3 592.0,411.3 592.8,411.3 593.6,411.3 594.4,411.3 595.2,411.3 596.0,411.3 596.8,411.3 597.6,411.3 598.4,411.3 599.2,411.3 600.0,411.3 600.8,411.3 601.6,411.3 602.4,411.3 603.2,411.3 604.0,411.3" fill="none" stroke="#77bbff" stroke-width="2.4" stroke-linejoin="round"/>
<path d="M462.4,411.3 463.2,411.3 464.0,411.3 464.8,411.3 465.6,411.3 466.4,411.3 467.2,411.3 468.0,411.3 468.8,411.3 469.6,411.3 470.4,411.3 471.2,411.3 472.0,411.3 472.8,411.3 473.6,411.3 474.4,411.3 475.2,411.3 476.0,411.3 476.8,411.3 477.6,411.3 478.4,411.3 479.2,411.3 480.0,411.3 480.8,411.3 481.6,411.3 482.4,411.3 483.2,411.3 484.0,411.3 484.8,411.3 485.6,411.3 486.4,411.3 487.2,411.3 488.0,411.2 488.8,411.2 489.6,411.2 490.4,411.1 491.2,411.1 492.0,411.0 492.8,410.9 493.6,410.8 494.4,410.8 495.2,409.7 496.0,409.4 496.8,409.0 497.6,409.9 498.4,407.4 499.2,409.8 500.0,406.6 500.8,406.3 501.6,407.9 502.4,402.5 503.2,402.8 504.0,405.7 504.8,399.0 505.6,397.8 506.4,397.1 507.2,400.0 508.0,391.3 508.8,385.3 509.6,383.1 510.4,387.8 511.2,380.4 512.0,384.5 512.8,376.6 513.6,378.2 514.4,371.2 515.2,374.4 516.0,367.3 516.8,366.5 517.6,366.9 518.4,354.9 519.2,352.8 520.0,357.9 520.8,354.2 521.6,357.4 522.4,355.6 523.2,365.6 524.0,366.7 524.8,368.0 525.6,367.1 526.4,369.6 527.2,366.5 528.0,371.4 528.8,381.3 529.6,383.8 530.4,382.7 531.2,385.4 532.0,396.0 532.8,394.6 533.6,400.9 534.4,396.8 535.2,396.7 536.0,404.7 536.8,403.4 537.6,402.6 538.4,407.5 539.2,409.6 540.0,407.8 540.8,408.5 541.6,408.9 542.4,408.7 543.2,410.5 544.0,410.2 544.8,409.8 545.6,410.8 546.4,411.0 547.2,411.1 548.0,411.1 548.8,411.2 549.6,411.2 550.4,411.2 551.2,411.3 552.0,411.3 552.8,411.3 553.6,411.3 554.4,411.3 555.2,411.3 556.0,411.3 556.8,411.3 557.6,411.3 558.4,411.3 559.2,411.3 560.0,411.3 560.8,411.3 561.6,411.3 562.4,411.3 563.2,411.3 564.0,411.3 564.8,411.3 565.6,411.3 566.4,411.3 567.2,411.3 568.0,411.3 568.8,411.3 569.6,411.3 570.4,411.3 571.2,411.3 572.0,411.3 572.8,411.3 573.6,411.3 574.4,411.3 575.2,411.3 576.0,411.3 576.8,411.3 577.6,411.3 578.4,411.3 579.2,411.3 580.0,411.3 580.8,411.3 581.6,411.3 582.4,411.3 583.2,411.3 584.0,411.3 584.8,411.3 585.6,411.3 586.4,411.3 587.2,411.3 588.0,411.3 588.8,411.3 589.6,411.3 590.4,411.3 591.2,411.3 592.0,411.3 592.8,411.3 593.6,411.3 594.4,411.3 595.2,411.3 596.0,411.3 596.8,411.3 597.6,411.3 598.4,411.3 599.2,411.3 600.0,411.3 600.8,411.3 601.6,411.3 602.4,411.3 603.2,411.3 604.0,411.3" fill="none" stroke="#77bbff" stroke-width="2.0" stroke-linejoin="round"/>
<path d="M462.4,411.3 463.2,411.3 464.0,411.3 464.8,411.3 465.6,411.3 466.4,411.3 467.2,411.3 468.0,411.3 468.8,411.3 469.6,411.3 470.4,411.3 471.2,411.3 472.0,411.3 472.8,411.3 473.6,411.3 474.4,411.3 475.2,411.3 476.0,411.3 476.8,411.3 477.6,411.3 478.4,411.3 479.2,411.3 480.0,411.3 480.8,411.3 481.6,411.3 482.4,411.3 483.2,411.3 484.0,411.3 484.8,411.3 485.6,411.3 486.4,411.3 487.2,411.3 488.0,411.3 488.8,411.3 489.6,411.3 490.4,411.3 491.2,411.3 492.0,411.3 492.8,411.2 493.6,411.2 494.4,411.2 495.2,411.2 496.0,411.1 496.8,411.1 497.6,411.0 498.4,410.9 499.2,410.4 500.0,411.2 500.8,410.3 501.6,410.4 502.4,409.9 503.2,409.9 504.0,409.5 504.8,408.5 505.6,407.5 506.4,408.7 507.2,406.2 508.0,405.8 508.8,405.3 509.6,403.3 510.4,401.7 511.2,400.6 512.0,400.0 512.8,396.4 513.6,394.7 514.4,394.4 515.2,394.4 516.0,391.2 516.8,389.0 517.6,385.6 518.4,378.5 519.2,382.5 520.0,374.2 520.8,373.0 521.6,373.0 522.4,366.3 523.2,367.1 524.0,366.2 524.8,359.4 525.6,357.3 526.4,354.3 527.2,356.9 528.0,354.2 528.8,350.5 529.6,350.1 530.4,357.0 531.2,354.9 532.0,358.8 532.8,361.9 533.6,362.8 534.4,358.4 535.2,364.8 536.0,368.3 536.8,366.2 537.6,369.4 538.4,372.0 539.2,382.0 540.0,385.8 540.8,388.9 541.6,389.3 542.4,389.5 543.2,391.8 544.0,395.7 544.8,396.8 545.6,400.1 546.4,404.0 547.2,405.7 548.0,406.6 548.8,407.5 549.6,406.8 550.4,407.9 551.2,408.5 552.0,409.4 552.8,409.3 553.6,409.9 554.4,410.1 555.2,410.7 556.0,410.7 556.8,410.9 557.6,411.0 558.4,411.1 559.2,411.1 560.0,411.2 560.8,411.2 561.6,411.2 562.4,411.3 563.2,411.3 564.0,411.3 564.8,411.3 565.6,411.3 566.4,411.3 567.2,411.3 568.0,411.3 568.8,411.3 569.6,411.3 570.4,411.3 571.2,411.3 572.0,411.3 572.8,411.3 573.6,411.3 574.4,411.3 575.2,411.3 576.0,411.3 576.8,411.3 577.6,411.3 578.4,411.3 579.2,411.3 580.0,411.3 580.8,411.3 581.6,411.3 582.4,411.3 583.2,411.3 584.0,411.3 584.8,411.3 585.6,411.3 586.4,411.3 587.2,411.3 588.0,411.3 588.8,411.3 589.6,411.3 590.4,411.3 591.2,411.3 592.0,411.3 592.8,411.3 593.6,411.3 594.4,411.3 595.2,411.3 596.0,411.3 596.8,411.3 597.6,411.3 598.4,411.3 599.2,411.3 600.0,411.3 600.8,411.3 601.6,411.3 602.4,411.3 603.2,411.3 604.0,411.3" fill="none" stroke="#ff7f10" stroke-width="2.0" stroke-linejoin="round"/>
<path d="M462.4,411.3 463.2,411.3 464.0,411.3 464.8,411.3 465.6,411.3 466.4,411.3 467.2,411.3 468.0,411.3 468.8,411.3 469.6,411.3 470.4,411.3 471.2,411.3 472.0,411.3 472.8,411.3 473.6,411.3 474.4,411.3 475.2,411.3 476.0,411.3 476.8,411.3 477.6,411.3 478.4,411.3 479.2,411.3 480.0,411.3 480.8,411.3 481.6,411.3 482.4,411.3 483.2,411.3 484.0,411.3 484.8,411.3 485.6,411.3 486.4,411.3 487.2,411.3 488.0,411.3 488.8,411.3 489.6,411.3 490.4,411.3 491.2,411.3 492.0,411.3 492.8,411.3 493.6,411.3 494.4,411.3 495.2,411.3 496.0,411.3 496.8,411.3 497.6,411.3 498.4,411.3 499.2,411.3 500.0,411.3 500.8,411.3 501.6,411.3 502.4,411.3 503.2,411.3 504.0,411.3 504.8,411.3 505.6,411.3 506.4,411.3 507.2,411.2 508.0,411.2 508.8,411.2 509.6,411.1 510.4,411.1 511.2,411.0 512.0,410.9 512.8,410.8 513.6,410.9 514.4,410.7 515.2,410.0 516.0,409.5 516.8,409.0 517.6,408.9 518.4,408.8 519.2,407.2 520.0,406.7 520.8,405.8 521.6,405.1 522.4,403.5 523.2,403.6 524.0,401.3 524.8,398.8 525.6,398.1 526.4,395.3 527.2,393.0 528.0,394.2 528.8,392.0 529.6,386.7 530.4,383.0 531.2,382.6 532.0,378.9 532.8,376.8 533.6,376.2 534.4,371.8 535.2,370.1 536.0,366.9 536.8,366.9 537.6,370.8 538.4,365.3 539.2,363.9 540.0,364.2 540.8,367.4 541.6,367.3 542.4,367.7 543.2,364.9 544.0,367.4 544.8,366.4 545.6,373.4 546.4,372.3 547.2,371.6 548.0,376.1 548.8,374.6 549.6,378.8 550.4,380.8 551.2,381.9 552.0,385.0 552.8,385.4 553.6,388.4 554.4,389.3 555.2,394.1 556.0,395.5 556.8,397.4 557.6,396.4 558.4,397.1 559.2,399.2 560.0,400.5 560.8,402.4 561.6,402.9 562.4,404.8 563.2,405.5 564.0,405.1 564.8,406.5 565.6,407.8 566.4,408.4 567.2,408.8 568.0,409.0 568.8,409.9 569.6,409.6 570.4,410.4 571.2,410.5 572.0,410.5 572.8,410.3 573.6,410.8 574.4,410.7 575.2,410.9 576.0,411.0 576.8,411.0 577.6,411.1 578.4,411.1 579.2,411.2 580.0,411.2 580.8,411.2 581.6,411.2 582.4,411.2 583.2,411.3 584.0,411.3 584.8,411.3 585.6,411.3 586.4,411.3 587.2,411.3 588.0,411.3 588.8,411.3 589.6,411.3 590.4,411.3 591.2,411.3 592.0,411.3 592.8,411.3 593.6,411.3 594.4,411.3 595.2,411.3 596.0,411.3 596.8,411.3 597.6,411.3 598.4,411.3 599.2,411.3 600.0,411.3 600.8,411.3 601.6,411.3 602.4,411.3 603.2,411.3 604.0,411.3" fill="none" stroke="#ff00ff" stroke-width="2.0" stroke-linejoin="round"/>
<path d="M462.4,411.3 463.2,411.3 464.0,411.3 464.8,411.3 465.6,411.3 466.4,411.3 467.2,411.3 468.0,411.3 468.8,411.3 469.6,411.3 470.4,411.3 471.2,411.3 472.0,411.3 472.8,411.3 473.6,411.3 474.4,411.3 475.2,411.3 476.0,411.3 476.8,411.3 477.6,411.3 478.4,411.3 479.2,411.3 480.0,411.3 480.8,411.3 481.6,411.3 482.4,411.3 483.2,411.3 484.0,411.3 484.8,411.3 485.6,411.3 486.4,411.3 487.2,411.3 488.0,411.3 488.8,411.3 489.6,411.3 490.4,411.3 491.2,411.3 492.0,411.3 492.8,411.3 493.6,411.3 494.4,411.3 495.2,411.3 496.0,411.2 496.8,411.2 497.6,411.2 498.4,411.2 499.2,411.1 500.0,411.1 500.8,411.0 501.6,410.9 502.4,410.8 503.2,411.2 504.0,410.7 504.8,411.0 505.6,410.7 506.4,409.7 507.2,409.8 508.0,409.3 508.8,409.5 509.6,407.0 510.4,406.8 511.2,406.6 512.0,405.5 512.8,405.7 513.6,403.0 514.4,400.9 515.2,402.0 516.0,400.6 516.8,397.0 517.6,397.2 518.4,393.5 519.2,392.2 520.0,391.3 520.8,386.9 521.6,380.8 522.4,380.1 523.2,380.1 524.0,378.8 524.8,375.8 525.6,365.2 526.4,364.6 527.2,363.7 528.0,362.0 528.8,357.0 529.6,362.7 530.4,354.4 531.2,352.7 532.0,357.5 532.8,352.5 533.6,356.7 534.4,353.3 535.2,358.0 536.0,359.3 536.8,352.0 537.6,361.1 538.4,362.1 539.2,363.4 540.0,362.7 540.8,367.5 541.6,370.8 542.4,370.0 543.2,371.2 544.0,377.3 544.8,371.2 545.6,380.7 546.4,379.8 547.2,378.6 548.0,382.2 548.8,383.8 549.6,385.6 550.4,389.5 551.2,392.2 552.0,393.9 552.8,397.2 553.6,395.3 554.4,399.2 555.2,399.5 556.0,403.1 556.8,404.5 557.6,403.7 558.4,403.1 559.2,405.9 560.0,407.2 560.8,407.4 561.6,406.5 562.4,408.9 563.2,408.9 564.0,408.7 564.8,409.9 565.6,409.8 566.4,410.5 567.2,409.8 568.0,410.9 568.8,411.0 569.6,410.8 570.4,410.8 571.2,410.9 572.0,411.0 572.8,411.0 573.6,411.1 574.4,411.1 575.2,411.2 576.0,411.2 576.8,411.2 577.6,411.2 578.4,411.3 579.2,411.3 580.0,411.3 580.8,411.3 581.6,411.3 582.4,411.3 583.2,411.3 584.0,411.3 584.8,411.3 585.6,411.3 586.4,411.3 587.2,411.3 588.0,411.3 588.8,411.3 589.6,411.3 590.4,411.3 591.2,411.3 592.0,411.3 592.8,411.3 593.6,411.3 594.4,411.3 595.2,411.3 596.0,411.3 596.8,411.3 597.6,411.3 598.4,411.3 599.2,411.3 600.0,411.3 600.8,411.3 601.6,411.3 602.4,411.3 603.2,411.3 604.0,411.3" fill="none" stroke="#0a7a3a" stroke-width="2.0" stroke-linejoin="round"/>
<path d="M462.4,411.3 463.2,411.3 464.0,411.3 464.8,411.3 465.6,411.3 466.4,411.3 467.2,411.3 468.0,411.3 468.8,411.3 469.6,411.3 470.4,411.3 471.2,411.3 472.0,411.3 472.8,411.3 473.6,411.3 474.4,411.3 475.2,411.3 476.0,411.3 476.8,411.3 477.6,411.3 478.4,411.3 479.2,411.3 480.0,411.3 480.8,411.3 481.6,411.3 482.4,411.3 483.2,411.3 484.0,411.3 484.8,411.3 485.6,411.3 486.4,411.3 487.2,411.3 488.0,411.3 488.8,411.3 489.6,411.3 490.4,411.3 491.2,411.3 492.0,411.3 492.8,411.3 493.6,411.3 494.4,411.3 495.2,411.3 496.0,411.3 496.8,411.3 497.6,411.3 498.4,411.3 499.2,411.3 500.0,411.3 500.8,411.3 501.6,411.3 502.4,411.3 503.2,411.3 504.0,411.3 504.8,411.3 505.6,411.3 506.4,411.3 507.2,411.3 508.0,411.3 508.8,411.3 509.6,411.3 510.4,411.3 511.2,411.3 512.0,411.3 512.8,411.3 513.6,411.3 514.4,411.3 515.2,411.3 516.0,411.3 516.8,411.3 517.6,411.3 518.4,411.3 519.2,411.3 520.0,411.2 520.8,411.2 521.6,411.2 522.4,411.2 523.2,411.1 524.0,411.1 524.8,411.0 525.6,410.9 526.4,411.1 527.2,410.3 528.0,410.2 528.8,409.9 529.6,409.5 530.4,409.4 531.2,408.9 532.0,409.2 532.8,408.2 533.6,407.2 534.4,407.1 535.2,406.2 536.0,404.9 536.8,404.5 537.6,401.8 538.4,400.2 539.2,399.3 540.0,397.9 540.8,393.6 541.6,391.6 542.4,390.9 543.2,387.6 544.0,384.9 544.8,382.6 545.6,377.3 546.4,377.7 547.2,373.5 548.0,370.7 548.8,369.9 549.6,366.1 550.4,364.6 551.2,362.4 552.0,363.4 552.8,357.8 553.6,358.4 554.4,360.5 555.2,355.6 556.0,361.7 556.8,359.2 557.6,361.5 558.4,364.1 559.2,359.8 560.0,360.9 560.8,363.9 561.6,368.4 562.4,369.3 563.2,370.3 564.0,377.1 564.8,376.1 565.6,381.0 566.4,383.8 567.2,385.9 568.0,384.1 568.8,388.3 569.6,391.6 570.4,394.4 571.2,395.1 572.0,395.7 572.8,396.9 573.6,401.5 574.4,402.3 575.2,403.9 576.0,403.0 576.8,404.7 577.6,406.3 578.4,406.6 579.2,407.8 580.0,408.3 580.8,408.3 581.6,409.7 582.4,409.2 583.2,410.3 584.0,410.3 584.8,410.6 585.6,410.7 586.4,410.5 587.2,410.5 588.0,410.9 588.8,411.0 589.6,411.1 590.4,411.1 591.2,411.2 592.0,411.2 592.8,411.2 593.6,411.2 594.4,411.3 595.2,411.3 596.0,411.3 596.8,411.3 597.6,411.3 598.4,411.3 599.2,411.3 600.0,411.3 600.8,411.3 601.6,411.3 602.4,411.3 603.2,411.3 604.0,411.3" fill="none" stroke="#0022ee" stroke-width="2.0" stroke-linejoin="round"/>
<path d="M462.4,411.3 463.2,411.3 464.0,411.3 464.8,411.3 465.6,411.3 466.4,411.3 467.2,411.3 468.0,411.3 468.8,411.3 469.6,411.3 470.4,411.3 471.2,411.3 472.0,411.3 472.8,411.3 473.6,411.3 474.4,411.3 475.2,411.3 476.0,411.3 476.8,411.3 477.6,411.3 478.4,411.3 479.2,411.3 480.0,411.3 480.8,411.3 481.6,411.3 482.4,411.3 483.2,411.3 484.0,411.3 484.8,411.3 485.6,411.3 486.4,411.3 487.2,411.3 488.0,411.3 488.8,411.3 489.6,411.3 490.4,411.3 491.2,411.3 492.0,411.3 492.8,411.3 493.6,411.3 494.4,411.3 495.2,411.3 496.0,411.3 496.8,411.3 497.6,411.3 498.4,411.3 499.2,411.3 500.0,411.3 500.8,411.3 501.6,411.3 502.4,411.3 503.2,411.3 504.0,411.3 504.8,411.3 505.6,411.3 506.4,411.3 507.2,411.3 508.0,411.3 508.8,411.3 509.6,411.3 510.4,411.3 511.2,411.3 512.0,411.3 512.8,411.3 513.6,411.3 514.4,411.3 515.2,411.3 516.0,411.3 516.8,411.3 517.6,411.3 518.4,411.3 519.2,411.3 520.0,411.3 520.8,411.3 521.6,411.3 522.4,411.3 523.2,411.2 524.0,411.2 524.8,411.2 525.6,411.2 526.4,411.1 527.2,411.1 528.0,411.0 528.8,410.9 529.6,410.9 530.4,410.8 531.2,410.7 532.0,410.6 532.8,410.5 533.6,410.5 534.4,410.3 535.2,409.9 536.0,408.6 536.8,409.0 537.6,408.9 538.4,406.9 539.2,406.9 540.0,406.5 540.8,406.3 541.6,403.6 542.4,403.2 543.2,401.5 544.0,402.2 544.8,399.1 545.6,398.8 546.4,397.2 547.2,393.9 548.0,392.4 548.8,393.6 549.6,392.2 550.4,388.9 551.2,385.1 552.0,383.7 552.8,381.8 553.6,379.0 554.4,379.1 555.2,377.5 556.0,374.8 556.8,375.3 557.6,370.8 558.4,370.1 559.2,368.3 560.0,366.7 560.8,365.6 561.6,368.3 562.4,368.7 563.2,367.5 564.0,368.9 564.8,369.6 565.6,370.5 566.4,368.7 567.2,372.8 568.0,371.8 568.8,371.0 569.6,377.1 570.4,375.7 571.2,380.2 572.0,379.4 572.8,380.1 573.6,385.6 574.4,384.2 575.2,386.1 576.0,389.1 576.8,392.8 577.6,391.2 578.4,394.4 579.2,396.5 580.0,396.5 580.8,399.1 581.6,399.7 582.4,402.2 583.2,404.2 584.0,403.7 584.8,406.2 585.6,405.6 586.4,406.8 587.2,406.6 588.0,407.9 588.8,409.2 589.6,408.3 590.4,409.1 591.2,410.2 592.0,410.1 592.8,410.2 593.6,410.3 594.4,410.9 595.2,410.9 596.0,410.8 596.8,410.9 597.6,411.0 598.4,411.1 599.2,411.1 600.0,411.1 600.8,411.2 601.6,411.2 602.4,411.2 603.2,411.2 604.0,411.3" fill="none" stroke="#33ff22" stroke-width="1.8" stroke-linejoin="round"/>
<path d="M462.4,411.3 463.2,411.3 464.0,411.3 464.8,411.3 465.6,411.3 466.4,411.3 467.2,411.3 468.0,411.3 468.8,411.3 469.6,411.3 470.4,411.3 471.2,411.3 472.0,411.3 472.8,411.3 473.6,411.3 474.4,411.3 475.2,411.3 476.0,411.3 476.8,411.3 477.6,411.3 478.4,411.3 479.2,411.3 480.0,411.3 480.8,411.3 481.6,411.3 482.4,411.3 483.2,411.3 484.0,411.3 484.8,411.3 485.6,411.3 486.4,411.3 487.2,411.3 488.0,411.3 488.8,411.3 489.6,411.3 490.4,411.3 491.2,411.3 492.0,411.3 492.8,411.3 493.6,411.3 494.4,411.3 495.2,411.3 496.0,411.3 496.8,411.3 497.6,411.3 498.4,411.3 499.2,411.3 500.0,411.3 500.8,411.3 501.6,411.3 502.4,411.3 503.2,411.3 504.0,411.3 504.8,411.3 505.6,411.3 506.4,411.3 507.2,411.3 508.0,411.3 508.8,411.3 509.6,411.3 510.4,411.3 511.2,411.3 512.0,411.3 512.8,411.3 513.6,411.3 514.4,411.3 515.2,411.3 516.0,411.3 516.8,411.3 517.6,411.3 518.4,411.3 519.2,411.3 520.0,411.3 520.8,411.3 521.6,411.3 522.4,411.2 523.2,411.2 524.0,411.2 524.8,411.2 525.6,411.1 526.4,411.1 527.2,411.1 528.0,411.0 528.8,410.9 529.6,410.8 530.4,410.6 531.2,411.0 532.0,410.1 532.8,410.2 533.6,410.2 534.4,409.5 535.2,409.3 536.0,409.2 536.8,409.6 537.6,408.3 538.4,407.4 539.2,406.5 540.0,405.8 540.8,406.1 541.6,405.4 542.4,405.3 543.2,404.4 544.0,402.8 544.8,402.3 545.6,400.8 546.4,397.7 547.2,397.0 548.0,394.3 548.8,393.4 549.6,393.8 550.4,392.5 551.2,389.6 552.0,385.2 552.8,387.3 553.6,382.5 554.4,378.4 555.2,381.1 556.0,378.7 556.8,375.6 557.6,375.8 558.4,368.4 559.2,368.0 560.0,370.9 560.8,370.3 561.6,363.5 562.4,363.0 563.2,365.0 564.0,366.8 564.8,366.0 565.6,363.4 566.4,358.7 567.2,362.2 568.0,365.4 568.8,365.5 569.6,363.3 570.4,366.7 571.2,367.5 572.0,364.2 572.8,368.6 573.6,371.7 574.4,375.2 575.2,374.6 576.0,378.1 576.8,375.4 577.6,380.9 578.4,380.9 579.2,382.4 580.0,388.1 580.8,387.3 581.6,387.3 582.4,393.7 583.2,395.1 584.0,395.9 584.8,395.5 585.6,398.3 586.4,399.1 587.2,400.8 588.0,400.3 588.8,404.3 589.6,403.7 590.4,406.1 591.2,406.8 592.0,406.9 592.8,406.4 593.6,408.3 594.4,407.9 595.2,408.9 596.0,409.9 596.8,408.9 597.6,409.8 598.4,410.5 599.2,410.5 600.0,410.6 600.8,410.6 601.6,410.3 602.4,410.7 603.2,410.9 604.0,411.0" fill="none" stroke="#cc9696" stroke-width="2.0" stroke-linejoin="round"/>
<path d="M462.4,411.3 463.2,411.3 464.0,411.3 464.8,411.3 465.6,411.3 466.4,411.3 467.2,411.3 468.0,411.3 468.8,411.3 469.6,411.3 470.4,411.3 471.2,411.3 472.0,411.3 472.8,411.3 473.6,411.3 474.4,411.3 475.2,411.3 476.0,411.3 476.8,411.3 477.6,411.3 478.4,411.3 479.2,411.3 480.0,411.3 480.8,411.3 481.6,411.3 482.4,411.3 483.2,411.3 484.0,411.3 484.8,411.3 485.6,411.3 486.4,411.3 487.2,411.3 488.0,411.3 488.8,411.3 489.6,411.3 490.4,411.3 491.2,411.3 492.0,411.3 492.8,411.3 493.6,411.3 494.4,411.3 495.2,411.3 496.0,411.3 496.8,411.3 497.6,411.3 498.4,411.3 499.2,411.3 500.0,411.3 500.8,411.3 501.6,411.3 502.4,411.3 503.2,411.3 504.0,411.3 504.8,411.3 505.6,411.3 506.4,411.3 507.2,411.3 508.0,411.3 508.8,411.3 509.6,411.3 510.4,411.3 511.2,411.3 512.0,411.3 512.8,411.3 513.6,411.3 514.4,411.3 515.2,411.3 516.0,411.3 516.8,411.3 517.6,411.3 518.4,411.3 519.2,411.3 520.0,411.3 520.8,411.3 521.6,411.3 522.4,411.3 523.2,411.3 524.0,411.3 524.8,411.3 525.6,411.3 526.4,411.3 527.2,411.3 528.0,411.3 528.8,411.3 529.6,411.3 530.4,411.3 531.2,411.3 532.0,411.3 532.8,411.3 533.6,411.3 534.4,411.3 535.2,411.3 536.0,411.3 536.8,411.3 537.6,411.3 538.4,411.3 539.2,411.3 540.0,411.3 540.8,411.3 541.6,411.3 542.4,411.3 543.2,411.3 544.0,411.3 544.8,411.3 545.6,411.3 546.4,411.3 547.2,411.3 548.0,411.3 548.8,411.3 549.6,411.3 550.4,411.3 551.2,411.3 552.0,411.3 552.8,411.3 553.6,411.2 554.4,411.2 555.2,411.1 556.0,411.0 556.8,410.9 557.6,410.6 558.4,410.5 559.2,409.8 560.0,409.8 560.8,408.9 561.6,408.1 562.4,407.3 563.2,406.2 564.0,403.5 564.8,401.7 565.6,399.1 566.4,395.6 567.2,392.2 568.0,389.5 568.8,383.9 569.6,378.3 570.4,373.0 571.2,370.6 572.0,364.6 572.8,359.2 573.6,354.1 574.4,348.2 575.2,341.8 576.0,339.1 576.8,335.2 577.6,333.3 578.4,330.4 579.2,334.5 580.0,335.9 580.8,335.1 581.6,341.6 582.4,346.0 583.2,346.9 584.0,352.1 584.8,359.4 585.6,361.8 586.4,368.7 587.2,375.4 588.0,378.0 588.8,382.6 589.6,386.3 590.4,390.9 591.2,393.7 592.0,397.8 592.8,400.1 593.6,401.0 594.4,403.0 595.2,405.6 596.0,406.8 596.8,407.8 597.6,408.5 598.4,409.1 599.2,409.9 600.0,410.0 600.8,410.6 601.6,410.4 602.4,410.7 603.2,410.9 604.0,411.0" fill="none" stroke="#ff0000" stroke-width="2.0" stroke-linejoin="round"/>
<line x1="462.10" y1="410.80" x2="520.00" y2="410.80" stroke="#0a7a3a" stroke-width="1.2" />
</g>
<text x="451.70" y="374.20" transform="rotate(-90 451.70 374.20)" font-family='"Liberation Sans", sans-serif' font-size="9.7" font-weight="bold" text-anchor="middle" fill="#000" stroke="#000" stroke-width="0.28">Cell count</text>
<text x="500.00" y="430.60" font-family='"Liberation Sans", sans-serif' font-size="9.7" font-weight="bold" text-anchor="start" fill="#000" stroke="#000" stroke-width="0.28" >Protein stability</text>
<rect x="613.00" y="324.40" width="11.00" height="10.00" fill="#a9a9a9" />
<text x="625.80" y="332.80" font-family='"Liberation Sans", sans-serif' font-size="9.8" font-weight="bold" text-anchor="start" fill="#000" stroke="#000" stroke-width="0.28" >GFP only</text>
<line x1="613.40" y1="341.00" x2="623.40" y2="341.00" stroke="#ff7f10" stroke-width="2.0" />
<text x="625.80" y="344.40" font-family='"Liberation Sans", sans-serif' font-size="9.7" font-weight="bold" text-anchor="start" fill="#000" stroke="#000" stroke-width="0.28" >RGS18-RT</text>
<line x1="613.40" y1="352.97" x2="623.40" y2="352.97" stroke="#66ee22" stroke-width="2.0" />
<text x="625.80" y="356.37" font-family='"Liberation Sans", sans-serif' font-size="9.7" font-weight="bold" text-anchor="start" fill="#000" stroke="#000" stroke-width="0.28" >H2</text>
<line x1="613.40" y1="364.94" x2="623.40" y2="364.94" stroke="#ff00ff" stroke-width="2.0" />
<text x="625.80" y="368.34" font-family='"Liberation Sans", sans-serif' font-size="9.7" font-weight="bold" text-anchor="start" fill="#000" stroke="#000" stroke-width="0.28" >TN-H2</text>
<line x1="613.40" y1="376.91" x2="623.40" y2="376.91" stroke="#cc9696" stroke-width="2.0" />
<text x="625.80" y="380.31" font-family='"Liberation Sans", sans-serif' font-size="9.7" font-weight="bold" text-anchor="start" fill="#000" stroke="#000" stroke-width="0.28" >TN-S2</text>
<line x1="613.40" y1="388.88" x2="623.40" y2="388.88" stroke="#0a7a3a" stroke-width="2.0" />
<text x="625.80" y="392.28" font-family='"Liberation Sans", sans-serif' font-size="9.7" font-weight="bold" text-anchor="start" fill="#000" stroke="#000" stroke-width="0.28" >H1</text>
<line x1="613.40" y1="400.85" x2="623.40" y2="400.85" stroke="#77bbff" stroke-width="2.0" />
<text x="625.80" y="404.25" font-family='"Liberation Sans", sans-serif' font-size="9.7" font-weight="bold" text-anchor="start" fill="#000" stroke="#000" stroke-width="0.28" >H1-TN</text>
<line x1="613.40" y1="412.82" x2="623.40" y2="412.82" stroke="#ff0000" stroke-width="2.0" />
<text x="625.80" y="416.22" font-family='"Liberation Sans", sans-serif' font-size="9.7" font-weight="bold" text-anchor="start" fill="#000" stroke="#000" stroke-width="0.28" >TN-H1</text>
<line x1="613.40" y1="424.79" x2="623.40" y2="424.79" stroke="#0022ee" stroke-width="2.0" />
<text x="625.80" y="428.19" font-family='"Liberation Sans", sans-serif' font-size="9.7" font-weight="bold" text-anchor="start" fill="#000" stroke="#000" stroke-width="0.28" >S1</text>
<text x="-0.40" y="456.80" font-family='"Liberation Sans", sans-serif' font-size="16.0" font-weight="bold" text-anchor="start" fill="#000" stroke="#000" stroke-width="0.28" >G</text>
<text x="56.00" y="460.80" font-family='"Liberation Sans", sans-serif' font-size="9.6" font-weight="bold" text-anchor="middle" fill="#000" stroke="#000" stroke-width="0.28" >RGS18-RT</text>
<rect x="19.30" y="463.00" width="67.00" height="66.20" fill="none" stroke="#c8c8c8" stroke-width="0.8"/>
<line x1="19.00" y1="463.00" x2="19.00" y2="529.20" stroke="#9a9a9a" stroke-width="0.9" stroke-dasharray="0.9 2.2"/>
<line x1="17.50" y1="463.70" x2="19.50" y2="463.70" stroke="#555" stroke-width="0.9" />
<line x1="17.50" y1="529.20" x2="19.50" y2="529.20" stroke="#555" stroke-width="0.9" />
<text x="14.30" y="538.70" font-family='"Liberation Sans", sans-serif' font-size="8.0" font-weight="normal" text-anchor="start" fill="#000" stroke="#000" stroke-width="0.3" >10</text>
<text x="23.60" y="533.70" font-family='"Liberation Sans", sans-serif' font-size="4.7" font-weight="normal" text-anchor="start" fill="#444" stroke="#444" stroke-width="0.15" >0</text>
<text x="34.15" y="538.70" font-family='"Liberation Sans", sans-serif' font-size="8.0" font-weight="normal" text-anchor="start" fill="#000" stroke="#000" stroke-width="0.3" >10</text>
<text x="43.45" y="533.70" font-family='"Liberation Sans", sans-serif' font-size="4.7" font-weight="normal" text-anchor="start" fill="#444" stroke="#444" stroke-width="0.15" >1</text>
<text x="54.00" y="538.70" font-family='"Liberation Sans", sans-serif' font-size="8.0" font-weight="normal" text-anchor="start" fill="#000" stroke="#000" stroke-width="0.3" >10</text>
<text x="63.30" y="533.70" font-family='"Liberation Sans", sans-serif' font-size="4.7" font-weight="normal" text-anchor="start" fill="#444" stroke="#444" stroke-width="0.15" >2</text>
<text x="73.85" y="538.70" font-family='"Liberation Sans", sans-serif' font-size="8.0" font-weight="normal" text-anchor="start" fill="#000" stroke="#000" stroke-width="0.3" >10</text>
<text x="83.15" y="533.70" font-family='"Liberation Sans", sans-serif' font-size="4.7" font-weight="normal" text-anchor="start" fill="#444" stroke="#444" stroke-width="0.15" >3</text>
<text x="17.10" y="466.60" font-family='"Liberation Sans", sans-serif' font-size="7.9" font-weight="normal" text-anchor="end" fill="#111" stroke="#111" stroke-width="0.3" >250</text>
<text x="16.70" y="532.00" font-family='"Liberation Sans", sans-serif' font-size="7.9" font-weight="normal" text-anchor="end" fill="#111" stroke="#111" stroke-width="0.3" >0</text>
<path d="M19.3,529.2 19.3,529.2 20.1,529.2 20.9,529.2 21.7,529.2 22.5,529.2 23.3,529.2 24.1,529.2 24.9,529.2 25.7,529.2 26.5,529.2 27.3,529.2 28.1,529.2 28.9,529.2 29.7,529.2 30.5,529.2 31.3,529.2 32.1,529.2 32.9,529.2 33.7,529.1 34.5,529.1 35.3,529.0 36.1,528.9 36.9,528.8 37.7,528.4 38.5,527.8 39.3,527.6 40.1,527.3 40.9,525.7 41.7,524.9 42.5,522.3 43.3,521.1 44.1,517.6 44.9,513.4 45.7,511.9 46.5,506.0 47.3,500.3 48.1,495.1 48.9,485.8 49.7,484.7 50.5,477.2 51.3,473.7 52.1,472.0 52.9,471.4 53.7,468.4 54.5,475.4 55.3,477.0 56.1,485.8 56.9,491.9 57.7,498.5 58.5,504.5 59.3,509.7 60.1,511.4 60.9,515.0 61.7,518.2 62.5,521.4 63.3,523.2 64.1,525.3 64.9,526.6 65.7,526.9 66.5,527.9 67.3,528.6 68.1,528.6 68.9,528.9 69.7,529.0 70.5,529.1 71.3,529.1 72.1,529.2 72.9,529.2 73.7,529.2 74.5,529.2 75.3,529.2 76.1,529.2 76.9,529.2 77.7,529.2 78.5,529.2 79.3,529.2 80.1,529.2 80.9,529.2 81.7,529.2 82.5,529.2 83.3,529.2 84.1,529.2 84.9,529.2 85.7,529.2 86.3,529.2 Z" fill="#ababab" stroke="none"/>
<path d="M19.6,529.2 20.4,529.2 21.2,529.2 22.0,529.2 22.8,529.2 23.6,529.2 24.4,529.2 25.2,529.2 26.0,529.2 26.8,529.2 27.6,529.2 28.4,529.2 29.2,529.2 30.0,529.2 30.8,529.2 31.6,529.2 32.4,529.2 33.2,529.1 34.0,529.1 34.8,529.0 35.6,528.9 36.4,528.7 37.2,528.1 38.0,528.2 38.8,527.6 39.6,526.2 40.4,525.1 41.2,524.7 42.0,522.9 42.8,519.4 43.6,517.1 44.4,514.2 45.2,512.3 46.0,504.6 46.8,500.0 47.6,496.0 48.4,491.3 49.2,486.8 50.0,480.7 50.8,476.5 51.6,471.5 52.4,467.8 53.2,468.0 54.0,475.6 54.8,474.4 55.6,482.8 56.4,486.9 57.2,493.5 58.0,497.7 58.8,505.5 59.6,508.9 60.4,514.8 61.2,516.5 62.0,520.2 62.8,521.9 63.6,523.9 64.4,525.4 65.2,526.0 66.0,526.8 66.8,528.2 67.6,528.7 68.4,528.3 69.2,528.8 70.0,529.0 70.8,529.1 71.6,529.1 72.4,529.1 73.2,529.2 74.0,529.2 74.8,529.2 75.6,529.2 76.4,529.2 77.2,529.2 78.0,529.2 78.8,529.2 79.6,529.2 80.4,529.2 81.2,529.2 82.0,529.2 82.8,529.2 83.6,529.2 84.4,529.2 85.2,529.2 86.0,529.2" fill="none" stroke="#ff90cc" stroke-width="1.2" stroke-linejoin="round"/>
<path d="M19.6,529.2 20.4,529.2 21.2,529.2 22.0,529.2 22.8,529.2 23.6,529.2 24.4,529.2 25.2,529.2 26.0,529.2 26.8,529.2 27.6,529.2 28.4,529.2 29.2,529.2 30.0,529.2 30.8,529.2 31.6,529.2 32.4,529.2 33.2,529.1 34.0,529.1 34.8,529.0 35.6,528.9 36.4,528.7 37.2,528.7 38.0,528.0 38.8,527.3 39.6,527.3 40.4,525.4 41.2,524.4 42.0,521.8 42.8,519.5 43.6,518.0 44.4,513.5 45.2,509.7 46.0,505.3 46.8,499.3 47.6,493.5 48.4,490.2 49.2,484.1 50.0,477.3 50.8,473.9 51.6,468.3 52.4,470.2 53.2,471.1 54.0,472.5 54.8,479.4 55.6,480.2 56.4,488.8 57.2,495.8 58.0,497.9 58.8,504.6 59.6,508.9 60.4,514.3 61.2,516.4 62.0,519.8 62.8,523.2 63.6,523.6 64.4,526.2 65.2,526.3 66.0,527.2 66.8,528.0 67.6,528.6 68.4,528.4 69.2,528.8 70.0,529.0 70.8,529.1 71.6,529.1 72.4,529.1 73.2,529.2 74.0,529.2 74.8,529.2 75.6,529.2 76.4,529.2 77.2,529.2 78.0,529.2 78.8,529.2 79.6,529.2 80.4,529.2 81.2,529.2 82.0,529.2 82.8,529.2 83.6,529.2 84.4,529.2 85.2,529.2 86.0,529.2" fill="none" stroke="#ff3fa8" stroke-width="1.2" stroke-linejoin="round"/>
<path d="M19.6,529.2 20.4,529.2 21.2,529.2 22.0,529.2 22.8,529.2 23.6,529.2 24.4,529.2 25.2,529.2 26.0,529.2 26.8,529.2 27.6,529.2 28.4,529.2 29.2,529.2 30.0,529.2 30.8,529.2 31.6,529.2 32.4,529.2 33.2,529.1 34.0,529.1 34.8,529.0 35.6,528.9 36.4,528.8 37.2,528.6 38.0,528.4 38.8,527.5 39.6,527.1 40.4,526.0 41.2,525.2 42.0,522.8 42.8,521.3 43.6,517.5 44.4,516.4 45.2,512.4 46.0,508.2 46.8,502.0 47.6,498.8 48.4,493.8 49.2,488.9 50.0,483.6 50.8,479.4 51.6,474.3 52.4,472.3 53.2,467.8 54.0,473.9 54.8,472.6 55.6,481.1 56.4,484.9 57.2,491.9 58.0,493.2 58.8,502.8 59.6,504.7 60.4,509.6 61.2,515.6 62.0,518.5 62.8,519.0 63.6,522.1 64.4,524.6 65.2,525.2 66.0,526.0 66.8,527.5 67.6,528.4 68.4,528.2 69.2,528.4 70.0,528.8 70.8,529.0 71.6,529.1 72.4,529.1 73.2,529.1 74.0,529.2 74.8,529.2 75.6,529.2 76.4,529.2 77.2,529.2 78.0,529.2 78.8,529.2 79.6,529.2 80.4,529.2 81.2,529.2 82.0,529.2 82.8,529.2 83.6,529.2 84.4,529.2 85.2,529.2 86.0,529.2" fill="none" stroke="#ff1a1a" stroke-width="1.2" stroke-linejoin="round"/>
<path d="M19.6,529.2 20.4,529.2 21.2,529.2 22.0,529.2 22.8,529.2 23.6,529.2 24.4,529.2 25.2,529.2 26.0,529.2 26.8,529.2 27.6,529.2 28.4,529.2 29.2,529.2 30.0,529.2 30.8,529.2 31.6,529.2 32.4,529.2 33.2,529.1 34.0,529.1 34.8,529.0 35.6,528.9 36.4,528.7 37.2,528.7 38.0,528.1 38.8,527.7 39.6,526.8 40.4,525.9 41.2,525.6 42.0,524.0 42.8,522.1 43.6,517.9 44.4,515.4 45.2,510.0 46.0,507.6 46.8,501.2 47.6,495.0 48.4,493.0 49.2,484.2 50.0,481.0 50.8,475.1 51.6,470.0 52.4,474.0 53.2,473.6 54.0,470.0 54.8,478.4 55.6,478.0 56.4,484.6 57.2,492.6 58.0,494.6 58.8,500.1 59.6,509.3 60.4,510.4 61.2,514.5 62.0,519.2 62.8,521.1 63.6,523.7 64.4,524.1 65.2,526.4 66.0,527.2 66.8,527.8 67.6,528.2 68.4,528.8 69.2,528.7 70.0,528.9 70.8,529.0 71.6,529.1 72.4,529.1 73.2,529.2 74.0,529.2 74.8,529.2 75.6,529.2 76.4,529.2 77.2,529.2 78.0,529.2 78.8,529.2 79.6,529.2 80.4,529.2 81.2,529.2 82.0,529.2 82.8,529.2 83.6,529.2 84.4,529.2 85.2,529.2 86.0,529.2" fill="none" stroke="#b00010" stroke-width="1.2" stroke-linejoin="round"/>
<path d="M19.6,529.2 20.4,529.2 21.2,529.2 22.0,529.2 22.8,529.2 23.6,529.2 24.4,529.2 25.2,529.2 26.0,529.2 26.8,529.2 27.6,529.2 28.4,529.2 29.2,529.2 30.0,529.2 30.8,529.2 31.6,529.2 32.4,529.2 33.2,529.2 34.0,529.2 34.8,529.2 35.6,529.2 36.4,529.2 37.2,529.2 38.0,529.2 38.8,529.1 39.6,529.1 40.4,529.0 41.2,529.0 42.0,528.8 42.8,528.9 43.6,528.0 44.4,527.6 45.2,527.5 46.0,526.3 46.8,525.4 47.6,523.6 48.4,521.4 49.2,520.9 50.0,517.8 50.8,516.0 51.6,513.2 52.4,508.8 53.2,502.8 54.0,502.0 54.8,498.6 55.6,492.3 56.4,490.8 57.2,491.9 58.0,493.7 58.8,491.4 59.6,493.2 60.4,490.5 61.2,489.7 62.0,491.9 62.8,492.5 63.6,497.0 64.4,500.9 65.2,504.7 66.0,507.8 66.8,515.7 67.6,520.2 68.4,522.4 69.2,525.2 70.0,526.4 70.8,527.2 71.6,528.0 72.4,528.7 73.2,528.9 74.0,529.0 74.8,529.1 75.6,529.1 76.4,529.2 77.2,529.2 78.0,529.2 78.8,529.2 79.6,529.2 80.4,529.2 81.2,529.2 82.0,529.2 82.8,529.2 83.6,529.2 84.4,529.2 85.2,529.2 86.0,529.2" fill="none" stroke="#22ee22" stroke-width="1.2" stroke-linejoin="round"/>
<path d="M19.6,529.2 20.4,529.2 21.2,529.2 22.0,529.2 22.8,529.2 23.6,529.2 24.4,529.2 25.2,529.2 26.0,529.2 26.8,529.2 27.6,529.2 28.4,529.2 29.2,529.2 30.0,529.2 30.8,529.2 31.6,529.2 32.4,529.2 33.2,529.2 34.0,529.2 34.8,529.2 35.6,529.2 36.4,529.2 37.2,529.2 38.0,529.2 38.8,529.2 39.6,529.2 40.4,529.1 41.2,529.1 42.0,529.0 42.8,529.0 43.6,528.8 44.4,528.8 45.2,528.3 46.0,528.0 46.8,527.3 47.6,527.2 48.4,526.0 49.2,524.0 50.0,522.3 50.8,521.7 51.6,519.5 52.4,514.0 53.2,513.9 54.0,509.2 54.8,506.9 55.6,501.7 56.4,498.8 57.2,496.8 58.0,495.0 58.8,491.6 59.6,488.6 60.4,488.5 61.2,489.7 62.0,488.5 62.8,491.8 63.6,494.5 64.4,497.6 65.2,502.0 66.0,507.5 66.8,511.2 67.6,515.1 68.4,519.0 69.2,522.5 70.0,524.4 70.8,525.9 71.6,527.1 72.4,528.5 73.2,528.4 74.0,528.8 74.8,529.0 75.6,529.1 76.4,529.1 77.2,529.2 78.0,529.2 78.8,529.2 79.6,529.2 80.4,529.2 81.2,529.2 82.0,529.2 82.8,529.2 83.6,529.2 84.4,529.2 85.2,529.2 86.0,529.2" fill="none" stroke="#22ee22" stroke-width="1.2" stroke-linejoin="round"/>
<path d="M19.6,529.2 20.4,529.2 21.2,529.2 22.0,529.2 22.8,529.2 23.6,529.2 24.4,529.2 25.2,529.2 26.0,529.2 26.8,529.2 27.6,529.2 28.4,529.2 29.2,529.2 30.0,529.2 30.8,529.2 31.6,529.2 32.4,529.2 33.2,529.2 34.0,529.1 34.8,529.1 35.6,529.0 36.4,528.9 37.2,528.7 38.0,528.3 38.8,528.5 39.6,527.3 40.4,526.4 41.2,526.2 42.0,524.1 42.8,522.8 43.6,518.3 44.4,515.6 45.2,513.9 46.0,506.4 46.8,502.5 47.6,498.3 48.4,490.6 49.2,484.2 50.0,474.8 50.8,475.7 51.6,471.0 52.4,465.3 53.2,467.9 54.0,474.1 54.8,476.9 55.6,481.5 56.4,489.4 57.2,493.3 58.0,502.4 58.8,504.5 59.6,510.7 60.4,516.6 61.2,518.5 62.0,520.2 62.8,523.9 63.6,526.0 64.4,526.6 65.2,527.8 66.0,528.4 66.8,528.2 67.6,528.4 68.4,528.9 69.2,529.0 70.0,529.1 70.8,529.1 71.6,529.2 72.4,529.2 73.2,529.2 74.0,529.2 74.8,529.2 75.6,529.2 76.4,529.2 77.2,529.2 78.0,529.2 78.8,529.2 79.6,529.2 80.4,529.2 81.2,529.2 82.0,529.2 82.8,529.2 83.6,529.2 84.4,529.2 85.2,529.2 86.0,529.2" fill="none" stroke="#1a3cff" stroke-width="1.2" stroke-linejoin="round"/>
<path d="M19.6,529.2 20.4,529.2 21.2,529.2 22.0,529.2 22.8,529.2 23.6,529.2 24.4,529.2 25.2,529.2 26.0,529.2 26.8,529.2 27.6,529.2 28.4,529.2 29.2,529.2 30.0,529.2 30.8,529.2 31.6,529.2 32.4,529.2 33.2,529.2 34.0,529.2 34.8,529.1 35.6,529.1 36.4,529.0 37.2,528.8 38.0,528.5 38.8,527.9 39.6,528.2 40.4,527.4 41.2,525.5 42.0,524.2 42.8,522.9 43.6,519.1 44.4,516.8 45.2,514.9 46.0,510.7 46.8,503.7 47.6,495.4 48.4,489.8 49.2,483.9 50.0,475.8 50.8,469.6 51.6,468.6 52.4,468.4 53.2,469.1 54.0,468.6 54.8,475.2 55.6,476.4 56.4,488.6 57.2,491.6 58.0,500.8 58.8,507.1 59.6,511.4 60.4,515.3 61.2,518.0 62.0,522.0 62.8,522.3 63.6,525.3 64.4,526.2 65.2,527.3 66.0,528.0 66.8,528.2 67.6,528.8 68.4,528.9 69.2,529.0 70.0,529.1 70.8,529.1 71.6,529.2 72.4,529.2 73.2,529.2 74.0,529.2 74.8,529.2 75.6,529.2 76.4,529.2 77.2,529.2 78.0,529.2 78.8,529.2 79.6,529.2 80.4,529.2 81.2,529.2 82.0,529.2 82.8,529.2 83.6,529.2 84.4,529.2 85.2,529.2 86.0,529.2" fill="none" stroke="#1a1f70" stroke-width="1.2" stroke-linejoin="round"/>
<line x1="19.60" y1="528.60" x2="86.00" y2="528.60" stroke="#22ee22" stroke-width="1.1" />
<text x="123.80" y="460.80" font-family='"Liberation Sans", sans-serif' font-size="9.6" font-weight="bold" text-anchor="middle" fill="#000" stroke="#000" stroke-width="0.28" >H2</text>
<rect x="89.10" y="463.00" width="67.00" height="66.20" fill="none" stroke="#c8c8c8" stroke-width="0.8"/>
<line x1="88.80" y1="463.00" x2="88.80" y2="529.20" stroke="#9a9a9a" stroke-width="0.9" stroke-dasharray="0.9 2.2"/>
<line x1="87.30" y1="463.70" x2="89.30" y2="463.70" stroke="#555" stroke-width="0.9" />
<line x1="87.30" y1="529.20" x2="89.30" y2="529.20" stroke="#555" stroke-width="0.9" />
<text x="85.10" y="538.70" font-family='"Liberation Sans", sans-serif' font-size="8.0" font-weight="normal" text-anchor="start" fill="#000" stroke="#000" stroke-width="0.3" >10</text>
<text x="94.40" y="533.70" font-family='"Liberation Sans", sans-serif' font-size="4.7" font-weight="normal" text-anchor="start" fill="#444" stroke="#444" stroke-width="0.15" >0</text>
<text x="105.00" y="538.70" font-family='"Liberation Sans", sans-serif' font-size="8.0" font-weight="normal" text-anchor="start" fill="#000" stroke="#000" stroke-width="0.3" >10</text>
<text x="114.30" y="533.70" font-family='"Liberation Sans", sans-serif' font-size="4.7" font-weight="normal" text-anchor="start" fill="#444" stroke="#444" stroke-width="0.15" >1</text>
<text x="124.80" y="538.70" font-family='"Liberation Sans", sans-serif' font-size="8.0" font-weight="normal" text-anchor="start" fill="#000" stroke="#000" stroke-width="0.3" >10</text>
<text x="134.10" y="533.70" font-family='"Liberation Sans", sans-serif' font-size="4.7" font-weight="normal" text-anchor="start" fill="#444" stroke="#444" stroke-width="0.15" >2</text>
<text x="144.70" y="538.70" font-family='"Liberation Sans", sans-serif' font-size="8.0" font-weight="normal" text-anchor="start" fill="#000" stroke="#000" stroke-width="0.3" >10</text>
<text x="154.00" y="533.70" font-family='"Liberation Sans", sans-serif' font-size="4.7" font-weight="normal" text-anchor="start" fill="#444" stroke="#444" stroke-width="0.15" >3</text>
<path d="M89.1,529.2 89.1,529.2 89.9,529.2 90.7,529.2 91.5,529.2 92.3,529.2 93.1,529.2 93.9,529.2 94.7,529.2 95.5,529.2 96.3,529.2 97.1,529.2 97.9,529.2 98.7,529.2 99.5,529.2 100.3,529.2 101.1,529.2 101.9,529.2 102.7,529.2 103.5,529.2 104.3,529.2 105.1,529.2 105.9,529.2 106.7,529.2 107.5,529.2 108.3,529.2 109.1,529.2 109.9,529.2 110.7,529.2 111.5,529.2 112.3,529.2 113.1,529.2 113.9,529.2 114.7,529.2 115.5,529.2 116.3,529.1 117.1,529.1 117.9,529.1 118.7,529.0 119.5,528.8 120.3,528.6 121.1,528.3 121.9,528.3 122.7,527.2 123.5,527.0 124.3,526.1 125.1,524.2 125.9,523.3 126.7,520.0 127.5,518.7 128.3,516.1 129.1,514.0 129.9,507.5 130.7,505.5 131.5,500.1 132.3,494.6 133.1,491.3 133.9,484.8 134.7,484.8 135.5,482.9 136.3,483.9 137.1,485.7 137.9,487.7 138.7,488.8 139.5,495.2 140.3,497.7 141.1,503.7 141.9,505.3 142.7,512.1 143.5,513.2 144.3,515.9 145.1,518.7 145.9,522.2 146.7,523.3 147.5,525.8 148.3,525.7 149.1,526.6 149.9,527.6 150.7,527.8 151.5,528.5 152.3,528.8 153.1,528.9 153.9,529.0 154.7,529.1 155.5,529.1 156.1,529.2 Z" fill="#ababab" stroke="none"/>
<path d="M89.4,529.2 90.2,529.2 91.0,529.2 91.8,529.2 92.6,529.2 93.4,529.2 94.2,529.2 95.0,529.2 95.8,529.2 96.6,529.2 97.4,529.2 98.2,529.2 99.0,529.2 99.8,529.2 100.6,529.2 101.4,529.2 102.2,529.2 103.0,529.2 103.8,529.2 104.6,529.2 105.4,529.2 106.2,529.2 107.0,529.2 107.8,529.2 108.6,529.2 109.4,529.2 110.2,529.2 111.0,529.2 111.8,529.2 112.6,529.2 113.4,529.2 114.2,529.2 115.0,529.1 115.8,529.1 116.6,529.0 117.4,528.9 118.2,528.8 119.0,528.7 119.8,528.5 120.6,527.5 121.4,527.6 122.2,527.2 123.0,525.1 123.8,524.4 124.6,522.5 125.4,522.3 126.2,518.2 127.0,515.6 127.8,514.3 128.6,509.7 129.4,504.7 130.2,503.8 131.0,498.9 131.8,496.0 132.6,487.0 133.4,484.6 134.2,484.9 135.0,484.6 135.8,479.8 136.6,481.2 137.4,484.0 138.2,491.1 139.0,490.3 139.8,498.4 140.6,501.3 141.4,504.6 142.2,510.9 143.0,511.2 143.8,516.9 144.6,519.6 145.4,520.0 146.2,523.0 147.0,524.4 147.8,526.3 148.6,525.9 149.4,527.4 150.2,527.3 151.0,528.4 151.8,528.4 152.6,528.8 153.4,528.9 154.2,529.0 155.0,529.1 155.8,529.1" fill="none" stroke="#ff90cc" stroke-width="1.2" stroke-linejoin="round"/>
<path d="M89.4,529.2 90.2,529.2 91.0,529.2 91.8,529.2 92.6,529.2 93.4,529.2 94.2,529.2 95.0,529.2 95.8,529.2 96.6,529.2 97.4,529.2 98.2,529.2 99.0,529.2 99.8,529.2 100.6,529.2 101.4,529.2 102.2,529.2 103.0,529.2 103.8,529.2 104.6,529.2 105.4,529.2 106.2,529.2 107.0,529.2 107.8,529.2 108.6,529.2 109.4,529.2 110.2,529.2 111.0,529.2 111.8,529.2 112.6,529.2 113.4,529.2 114.2,529.2 115.0,529.1 115.8,529.1 116.6,529.0 117.4,528.9 118.2,528.8 119.0,528.6 119.8,527.9 120.6,527.8 121.4,526.9 122.2,527.0 123.0,526.6 123.8,524.7 124.6,523.1 125.4,521.1 126.2,517.6 127.0,517.4 127.8,512.0 128.6,511.1 129.4,506.8 130.2,503.6 131.0,496.5 131.8,495.6 132.6,487.4 133.4,485.9 134.2,483.3 135.0,479.4 135.8,478.6 136.6,484.8 137.4,483.0 138.2,485.1 139.0,490.8 139.8,494.7 140.6,502.7 141.4,505.7 142.2,507.7 143.0,513.9 143.8,516.0 144.6,518.1 145.4,519.8 146.2,522.6 147.0,524.8 147.8,525.9 148.6,525.9 149.4,527.0 150.2,527.9 151.0,528.5 151.8,528.5 152.6,528.8 153.4,528.9 154.2,529.0 155.0,529.1 155.8,529.1" fill="none" stroke="#ff3fa8" stroke-width="1.2" stroke-linejoin="round"/>
<path d="M89.4,529.2 90.2,529.2 91.0,529.2 91.8,529.2 92.6,529.2 93.4,529.2 94.2,529.2 95.0,529.2 95.8,529.2 96.6,529.2 97.4,529.2 98.2,529.2 99.0,529.2 99.8,529.2 100.6,529.2 101.4,529.2 102.2,529.2 103.0,529.2 103.8,529.2 104.6,529.2 105.4,529.2 106.2,529.2 107.0,529.2 107.8,529.2 108.6,529.2 109.4,529.2 110.2,529.2 111.0,529.2 111.8,529.2 112.6,529.2 113.4,529.2 114.2,529.2 115.0,529.1 115.8,529.1 116.6,529.1 117.4,529.0 118.2,528.9 119.0,528.7 119.8,528.3 120.6,528.5 121.4,527.5 122.2,527.1 123.0,525.9 123.8,525.3 124.6,523.6 125.4,521.6 126.2,521.4 127.0,519.5 127.8,514.4 128.6,510.6 129.4,510.0 130.2,506.6 131.0,498.8 131.8,498.4 132.6,492.7 133.4,486.6 134.2,483.0 135.0,484.2 135.8,480.7 136.6,479.4 137.4,483.6 138.2,486.3 139.0,489.0 139.8,494.1 140.6,498.3 141.4,502.4 142.2,507.3 143.0,508.6 143.8,515.0 144.6,515.4 145.4,519.9 146.2,521.1 147.0,524.0 147.8,525.1 148.6,525.4 149.4,526.3 150.2,527.3 151.0,528.2 151.8,528.1 152.6,528.7 153.4,528.8 154.2,528.9 155.0,529.0 155.8,529.1" fill="none" stroke="#ff1a1a" stroke-width="1.2" stroke-linejoin="round"/>
<path d="M89.4,529.2 90.2,529.2 91.0,529.2 91.8,529.2 92.6,529.2 93.4,529.2 94.2,529.2 95.0,529.2 95.8,529.2 96.6,529.2 97.4,529.2 98.2,529.2 99.0,529.2 99.8,529.2 100.6,529.2 101.4,529.2 102.2,529.2 103.0,529.2 103.8,529.2 104.6,529.2 105.4,529.2 106.2,529.2 107.0,529.2 107.8,529.2 108.6,529.2 109.4,529.2 110.2,529.2 111.0,529.2 111.8,529.2 112.6,529.2 113.4,529.2 114.2,529.2 115.0,529.1 115.8,529.1 116.6,529.1 117.4,529.0 118.2,528.9 119.0,528.7 119.8,528.7 120.6,528.0 121.4,527.5 122.2,527.3 123.0,526.6 123.8,524.8 124.6,523.6 125.4,523.7 126.2,520.2 127.0,518.5 127.8,515.8 128.6,511.4 129.4,508.7 130.2,504.1 131.0,500.6 131.8,494.3 132.6,495.5 133.4,488.5 134.2,486.4 135.0,482.6 135.8,485.2 136.6,483.5 137.4,482.6 138.2,485.0 139.0,490.8 139.8,493.9 140.6,497.0 141.4,505.4 142.2,506.8 143.0,509.0 143.8,515.0 144.6,516.7 145.4,521.0 146.2,522.2 147.0,523.0 147.8,525.4 148.6,525.8 149.4,526.4 150.2,528.0 151.0,527.8 151.8,528.1 152.6,528.5 153.4,528.8 154.2,529.0 155.0,529.0 155.8,529.1" fill="none" stroke="#b00010" stroke-width="1.2" stroke-linejoin="round"/>
<path d="M89.4,529.2 90.2,529.2 91.0,529.2 91.8,529.2 92.6,529.2 93.4,529.2 94.2,529.2 95.0,529.2 95.8,529.2 96.6,529.2 97.4,529.2 98.2,529.2 99.0,529.2 99.8,529.2 100.6,529.2 101.4,529.2 102.2,529.2 103.0,529.2 103.8,529.2 104.6,529.2 105.4,529.2 106.2,529.2 107.0,529.2 107.8,529.2 108.6,529.2 109.4,529.2 110.2,529.2 111.0,529.2 111.8,529.2 112.6,529.2 113.4,529.2 114.2,529.2 115.0,529.2 115.8,529.2 116.6,529.2 117.4,529.2 118.2,529.2 119.0,529.2 119.8,529.2 120.6,529.2 121.4,529.2 122.2,529.2 123.0,529.2 123.8,529.2 124.6,529.2 125.4,529.2 126.2,529.2 127.0,529.1 127.8,529.1 128.6,529.1 129.4,529.0 130.2,528.9 131.0,528.7 131.8,528.7 132.6,528.1 133.4,528.1 134.2,527.0 135.0,526.3 135.8,526.2 136.6,524.8 137.4,521.4 138.2,520.3 139.0,519.3 139.8,513.7 140.6,513.6 141.4,508.7 142.2,505.9 143.0,500.5 143.8,498.0 144.6,495.0 145.4,492.2 146.2,491.1 147.0,487.8 147.8,488.9 148.6,489.5 149.4,493.5 150.2,494.6 151.0,496.7 151.8,502.9 152.6,506.4 153.4,510.1 154.2,513.1 155.0,515.0 155.8,519.8" fill="none" stroke="#22ee22" stroke-width="1.2" stroke-linejoin="round"/>
<path d="M89.4,529.2 90.2,529.2 91.0,529.2 91.8,529.2 92.6,529.2 93.4,529.2 94.2,529.2 95.0,529.2 95.8,529.2 96.6,529.2 97.4,529.2 98.2,529.2 99.0,529.2 99.8,529.2 100.6,529.2 101.4,529.2 102.2,529.2 103.0,529.2 103.8,529.2 104.6,529.2 105.4,529.2 106.2,529.2 107.0,529.2 107.8,529.2 108.6,529.2 109.4,529.2 110.2,529.2 111.0,529.2 111.8,529.2 112.6,529.2 113.4,529.2 114.2,529.2 115.0,529.2 115.8,529.2 116.6,529.2 117.4,529.2 118.2,529.2 119.0,529.1 119.8,529.1 120.6,529.1 121.4,529.1 122.2,529.0 123.0,528.9 123.8,528.8 124.6,528.7 125.4,528.8 126.2,528.7 127.0,528.0 127.8,528.2 128.6,527.8 129.4,527.3 130.2,527.2 131.0,525.8 131.8,525.4 132.6,523.6 133.4,523.9 134.2,521.2 135.0,519.9 135.8,518.0 136.6,516.7 137.4,516.6 138.2,514.4 139.0,510.5 139.8,511.0 140.6,507.5 141.4,506.3 142.2,506.6 143.0,503.0 143.8,503.7 144.6,498.6 145.4,501.0 146.2,497.9 147.0,498.2 147.8,501.4 148.6,501.0 149.4,504.7 150.2,507.3 151.0,507.2 151.8,510.2 152.6,512.4 153.4,513.2 154.2,513.9 155.0,517.2 155.8,517.5" fill="none" stroke="#22ee22" stroke-width="1.2" stroke-linejoin="round"/>
<path d="M89.4,529.2 90.2,529.2 91.0,529.2 91.8,529.2 92.6,529.2 93.4,529.2 94.2,529.2 95.0,529.2 95.8,529.2 96.6,529.2 97.4,529.2 98.2,529.2 99.0,529.2 99.8,529.2 100.6,529.2 101.4,529.2 102.2,529.2 103.0,529.2 103.8,529.2 104.6,529.2 105.4,529.2 106.2,529.2 107.0,529.2 107.8,529.2 108.6,529.2 109.4,529.2 110.2,529.2 111.0,529.2 111.8,529.2 112.6,529.2 113.4,529.2 114.2,529.2 115.0,529.2 115.8,529.1 116.6,529.1 117.4,529.1 118.2,529.0 119.0,528.9 119.8,529.0 120.6,528.5 121.4,527.8 122.2,528.0 123.0,526.9 123.8,526.7 124.6,525.5 125.4,523.9 126.2,522.3 127.0,518.9 127.8,517.1 128.6,512.9 129.4,509.1 130.2,505.2 131.0,499.6 131.8,495.1 132.6,494.4 133.4,488.0 134.2,486.3 135.0,483.7 135.8,479.9 136.6,480.2 137.4,483.2 138.2,489.4 139.0,492.3 139.8,492.7 140.6,501.3 141.4,503.6 142.2,506.0 143.0,513.1 143.8,515.7 144.6,516.9 145.4,521.3 146.2,521.6 147.0,525.0 147.8,525.9 148.6,526.9 149.4,527.0 150.2,527.7 151.0,528.2 151.8,528.5 152.6,528.8 153.4,528.9 154.2,529.0 155.0,529.1 155.8,529.1" fill="none" stroke="#1a3cff" stroke-width="1.2" stroke-linejoin="round"/>
<path d="M89.4,529.2 90.2,529.2 91.0,529.2 91.8,529.2 92.6,529.2 93.4,529.2 94.2,529.2 95.0,529.2 95.8,529.2 96.6,529.2 97.4,529.2 98.2,529.2 99.0,529.2 99.8,529.2 100.6,529.2 101.4,529.2 102.2,529.2 103.0,529.2 103.8,529.2 104.6,529.2 105.4,529.2 106.2,529.2 107.0,529.2 107.8,529.2 108.6,529.2 109.4,529.2 110.2,529.2 111.0,529.2 111.8,529.2 112.6,529.2 113.4,529.2 114.2,529.2 115.0,529.2 115.8,529.2 116.6,529.1 117.4,529.1 118.2,529.0 119.0,529.0 119.8,528.8 120.6,528.5 121.4,528.4 122.2,528.2 123.0,527.0 123.8,526.4 124.6,526.5 125.4,524.4 126.2,523.4 127.0,519.8 127.8,516.6 128.6,513.4 129.4,509.8 130.2,506.0 131.0,502.5 131.8,496.0 132.6,494.4 133.4,488.3 134.2,487.9 135.0,484.9 135.8,483.2 136.6,482.0 137.4,485.0 138.2,486.6 139.0,486.5 139.8,495.1 140.6,499.5 141.4,500.0 142.2,505.0 143.0,511.8 143.8,512.6 144.6,517.4 145.4,520.7 146.2,521.6 147.0,523.6 147.8,525.2 148.6,526.2 149.4,526.8 150.2,528.2 151.0,527.9 151.8,528.6 152.6,528.8 153.4,528.9 154.2,529.0 155.0,529.1 155.8,529.1" fill="none" stroke="#1a1f70" stroke-width="1.2" stroke-linejoin="round"/>
<line x1="89.40" y1="528.60" x2="155.80" y2="528.60" stroke="#22ee22" stroke-width="1.1" />
<text x="196.00" y="460.80" font-family='"Liberation Sans", sans-serif' font-size="9.6" font-weight="bold" text-anchor="middle" fill="#000" stroke="#000" stroke-width="0.28" >TN-H2</text>
<rect x="160.50" y="463.00" width="67.00" height="66.20" fill="none" stroke="#c8c8c8" stroke-width="0.8"/>
<line x1="160.20" y1="463.00" x2="160.20" y2="529.20" stroke="#9a9a9a" stroke-width="0.9" stroke-dasharray="0.9 2.2"/>
<line x1="158.70" y1="463.70" x2="160.70" y2="463.70" stroke="#555" stroke-width="0.9" />
<line x1="158.70" y1="529.20" x2="160.70" y2="529.20" stroke="#555" stroke-width="0.9" />
<text x="156.90" y="538.70" font-family='"Liberation Sans", sans-serif' font-size="8.0" font-weight="normal" text-anchor="start" fill="#000" stroke="#000" stroke-width="0.3" >10</text>
<text x="166.20" y="533.70" font-family='"Liberation Sans", sans-serif' font-size="4.7" font-weight="normal" text-anchor="start" fill="#444" stroke="#444" stroke-width="0.15" >0</text>
<text x="178.50" y="538.70" font-family='"Liberation Sans", sans-serif' font-size="8.0" font-weight="normal" text-anchor="start" fill="#000" stroke="#000" stroke-width="0.3" >10</text>
<text x="187.80" y="533.70" font-family='"Liberation Sans", sans-serif' font-size="4.7" font-weight="normal" text-anchor="start" fill="#444" stroke="#444" stroke-width="0.15" >1</text>
<text x="200.70" y="538.70" font-family='"Liberation Sans", sans-serif' font-size="8.0" font-weight="normal" text-anchor="start" fill="#000" stroke="#000" stroke-width="0.3" >10</text>
<text x="210.00" y="533.70" font-family='"Liberation Sans", sans-serif' font-size="4.7" font-weight="normal" text-anchor="start" fill="#444" stroke="#444" stroke-width="0.15" >2</text>
<text x="222.30" y="538.70" font-family='"Liberation Sans", sans-serif' font-size="8.0" font-weight="normal" text-anchor="start" fill="#000" stroke="#000" stroke-width="0.3" >10</text>
<text x="231.60" y="533.70" font-family='"Liberation Sans", sans-serif' font-size="4.7" font-weight="normal" text-anchor="start" fill="#444" stroke="#444" stroke-width="0.15" >3</text>
<path d="M160.5,529.2 160.5,529.2 161.3,529.2 162.1,529.2 162.9,529.2 163.7,529.2 164.5,529.2 165.3,529.2 166.1,529.2 166.9,529.2 167.7,529.2 168.5,529.2 169.3,529.2 170.1,529.2 170.9,529.2 171.7,529.2 172.5,529.2 173.3,529.2 174.1,529.2 174.9,529.2 175.7,529.2 176.5,529.2 177.3,529.2 178.1,529.2 178.9,529.2 179.7,529.2 180.5,529.2 181.3,529.2 182.1,529.2 182.9,529.2 183.7,529.2 184.5,529.1 185.3,529.1 186.1,529.0 186.9,528.8 187.7,528.6 188.5,528.5 189.3,527.9 190.1,526.7 190.9,525.8 191.7,525.4 192.5,522.2 193.3,519.8 194.1,519.0 194.9,513.7 195.7,510.3 196.5,506.7 197.3,500.4 198.1,493.1 198.9,490.3 199.7,483.8 200.5,477.1 201.3,476.6 202.1,471.3 202.9,474.5 203.7,477.5 204.5,485.4 205.3,490.5 206.1,493.3 206.9,501.1 207.7,504.9 208.5,508.4 209.3,513.8 210.1,517.9 210.9,521.6 211.7,523.8 212.5,525.2 213.3,525.4 214.1,526.8 214.9,528.1 215.7,528.6 216.5,528.3 217.3,528.8 218.1,529.0 218.9,529.1 219.7,529.1 220.5,529.2 221.3,529.2 222.1,529.2 222.9,529.2 223.7,529.2 224.5,529.2 225.3,529.2 226.1,529.2 226.9,529.2 227.5,529.2 Z" fill="#ababab" stroke="none"/>
<path d="M160.8,529.2 161.6,529.2 162.4,529.2 163.2,529.2 164.0,529.2 164.8,529.2 165.6,529.2 166.4,529.2 167.2,529.2 168.0,529.2 168.8,529.2 169.6,529.2 170.4,529.2 171.2,529.2 172.0,529.2 172.8,529.2 173.6,529.2 174.4,529.2 175.2,529.2 176.0,529.2 176.8,529.2 177.6,529.2 178.4,529.2 179.2,529.2 180.0,529.1 180.8,529.1 181.6,529.0 182.4,528.9 183.2,528.8 184.0,528.8 184.8,528.3 185.6,527.8 186.4,527.1 187.2,527.3 188.0,525.3 188.8,524.5 189.6,523.3 190.4,522.0 191.2,519.1 192.0,516.7 192.8,512.8 193.6,509.8 194.4,505.3 195.2,497.8 196.0,496.3 196.8,486.1 197.6,486.1 198.4,477.6 199.2,474.0 200.0,477.2 200.8,471.8 201.6,478.9 202.4,477.7 203.2,485.7 204.0,489.9 204.8,492.8 205.6,498.0 206.4,504.6 207.2,506.9 208.0,509.8 208.8,516.2 209.6,519.1 210.4,519.9 211.2,522.0 212.0,524.2 212.8,525.2 213.6,526.0 214.4,527.5 215.2,527.6 216.0,527.9 216.8,528.4 217.6,528.8 218.4,528.9 219.2,529.0 220.0,529.1 220.8,529.1 221.6,529.2 222.4,529.2 223.2,529.2 224.0,529.2 224.8,529.2 225.6,529.2 226.4,529.2 227.2,529.2" fill="none" stroke="#ff90cc" stroke-width="1.2" stroke-linejoin="round"/>
<path d="M160.8,529.2 161.6,529.2 162.4,529.2 163.2,529.2 164.0,529.2 164.8,529.2 165.6,529.2 166.4,529.2 167.2,529.2 168.0,529.2 168.8,529.2 169.6,529.2 170.4,529.2 171.2,529.2 172.0,529.2 172.8,529.2 173.6,529.2 174.4,529.2 175.2,529.2 176.0,529.2 176.8,529.2 177.6,529.2 178.4,529.2 179.2,529.2 180.0,529.1 180.8,529.1 181.6,529.0 182.4,528.9 183.2,528.8 184.0,528.8 184.8,528.3 185.6,528.1 186.4,527.0 187.2,526.9 188.0,525.4 188.8,524.4 189.6,522.0 190.4,519.8 191.2,518.0 192.0,514.9 192.8,512.4 193.6,508.9 194.4,504.3 195.2,498.3 196.0,492.0 196.8,488.4 197.6,483.2 198.4,480.8 199.2,479.7 200.0,475.5 200.8,472.7 201.6,478.0 202.4,476.9 203.2,482.4 204.0,486.7 204.8,493.7 205.6,495.8 206.4,504.6 207.2,505.7 208.0,510.7 208.8,514.3 209.6,518.2 210.4,521.4 211.2,522.8 212.0,524.3 212.8,524.7 213.6,527.2 214.4,527.0 215.2,527.6 216.0,528.5 216.8,528.8 217.6,528.8 218.4,528.9 219.2,529.0 220.0,529.1 220.8,529.1 221.6,529.2 222.4,529.2 223.2,529.2 224.0,529.2 224.8,529.2 225.6,529.2 226.4,529.2 227.2,529.2" fill="none" stroke="#ff3fa8" stroke-width="1.2" stroke-linejoin="round"/>
<path d="M160.8,529.2 161.6,529.2 162.4,529.2 163.2,529.2 164.0,529.2 164.8,529.2 165.6,529.2 166.4,529.2 167.2,529.2 168.0,529.2 168.8,529.2 169.6,529.2 170.4,529.2 171.2,529.2 172.0,529.2 172.8,529.2 173.6,529.2 174.4,529.2 175.2,529.2 176.0,529.2 176.8,529.2 177.6,529.2 178.4,529.2 179.2,529.1 180.0,529.1 180.8,529.1 181.6,529.0 182.4,528.9 183.2,528.8 184.0,528.1 184.8,528.1 185.6,527.8 186.4,526.3 187.2,526.2 188.0,525.9 188.8,522.8 189.6,520.8 190.4,520.3 191.2,515.6 192.0,514.5 192.8,508.7 193.6,505.1 194.4,502.0 195.2,498.1 196.0,489.2 196.8,484.7 197.6,478.9 198.4,480.7 199.2,474.1 200.0,471.7 200.8,477.4 201.6,475.8 202.4,479.3 203.2,487.3 204.0,490.2 204.8,494.5 205.6,501.6 206.4,503.0 207.2,511.0 208.0,512.2 208.8,516.5 209.6,519.4 210.4,522.0 211.2,524.2 212.0,524.9 212.8,526.7 213.6,526.6 214.4,527.1 215.2,528.0 216.0,528.3 216.8,528.4 217.6,528.9 218.4,529.0 219.2,529.1 220.0,529.1 220.8,529.1 221.6,529.2 222.4,529.2 223.2,529.2 224.0,529.2 224.8,529.2 225.6,529.2 226.4,529.2 227.2,529.2" fill="none" stroke="#ff1a1a" stroke-width="1.2" stroke-linejoin="round"/>
<path d="M160.8,529.2 161.6,529.2 162.4,529.2 163.2,529.2 164.0,529.2 164.8,529.2 165.6,529.2 166.4,529.2 167.2,529.2 168.0,529.2 168.8,529.2 169.6,529.2 170.4,529.2 171.2,529.2 172.0,529.2 172.8,529.2 173.6,529.2 174.4,529.2 175.2,529.2 176.0,529.2 176.8,529.2 177.6,529.2 178.4,529.2 179.2,529.2 180.0,529.1 180.8,529.1 181.6,529.0 182.4,528.9 183.2,528.8 184.0,528.9 184.8,528.6 185.6,528.4 186.4,527.6 187.2,527.4 188.0,525.1 188.8,523.7 189.6,522.6 190.4,520.0 191.2,517.4 192.0,514.1 192.8,513.6 193.6,509.1 194.4,505.9 195.2,497.5 196.0,494.0 196.8,488.7 197.6,482.0 198.4,480.2 199.2,477.4 200.0,474.4 200.8,478.0 201.6,479.8 202.4,477.2 203.2,482.0 204.0,488.5 204.8,494.7 205.6,500.5 206.4,505.0 207.2,508.0 208.0,510.8 208.8,514.9 209.6,519.0 210.4,520.0 211.2,521.4 212.0,523.2 212.8,525.4 213.6,525.9 214.4,527.5 215.2,527.7 216.0,528.4 216.8,528.5 217.6,528.8 218.4,528.9 219.2,529.0 220.0,529.1 220.8,529.1 221.6,529.2 222.4,529.2 223.2,529.2 224.0,529.2 224.8,529.2 225.6,529.2 226.4,529.2 227.2,529.2" fill="none" stroke="#b00010" stroke-width="1.2" stroke-linejoin="round"/>
<path d="M160.8,529.2 161.6,529.2 162.4,529.2 163.2,529.2 164.0,529.2 164.8,529.2 165.6,529.2 166.4,529.2 167.2,529.2 168.0,529.2 168.8,529.2 169.6,529.2 170.4,529.2 171.2,529.2 172.0,529.2 172.8,529.2 173.6,529.2 174.4,529.2 175.2,529.2 176.0,529.2 176.8,529.2 177.6,529.2 178.4,529.2 179.2,529.2 180.0,529.2 180.8,529.2 181.6,529.2 182.4,529.2 183.2,529.2 184.0,529.1 184.8,529.1 185.6,529.1 186.4,529.0 187.2,528.8 188.0,528.9 188.8,528.7 189.6,528.2 190.4,527.2 191.2,526.8 192.0,525.6 192.8,523.5 193.6,521.4 194.4,518.1 195.2,516.7 196.0,512.0 196.8,507.5 197.6,501.4 198.4,497.0 199.2,491.3 200.0,486.5 200.8,486.1 201.6,479.4 202.4,474.2 203.2,475.7 204.0,475.8 204.8,482.6 205.6,484.9 206.4,489.8 207.2,497.1 208.0,503.0 208.8,504.1 209.6,511.7 210.4,514.0 211.2,518.3 212.0,519.4 212.8,522.0 213.6,524.0 214.4,525.2 215.2,526.2 216.0,528.1 216.8,528.5 217.6,528.8 218.4,528.7 219.2,528.9 220.0,529.0 220.8,529.1 221.6,529.1 222.4,529.2 223.2,529.2 224.0,529.2 224.8,529.2 225.6,529.2 226.4,529.2 227.2,529.2" fill="none" stroke="#109050" stroke-width="1.2" stroke-linejoin="round"/>
<path d="M160.8,529.2 161.6,529.2 162.4,529.2 163.2,529.2 164.0,529.2 164.8,529.2 165.6,529.2 166.4,529.2 167.2,529.2 168.0,529.2 168.8,529.2 169.6,529.2 170.4,529.2 171.2,529.2 172.0,529.2 172.8,529.2 173.6,529.2 174.4,529.2 175.2,529.2 176.0,529.2 176.8,529.2 177.6,529.2 178.4,529.2 179.2,529.2 180.0,529.2 180.8,529.2 181.6,529.2 182.4,529.2 183.2,529.2 184.0,529.1 184.8,529.1 185.6,529.1 186.4,529.0 187.2,528.8 188.0,528.3 188.8,528.5 189.6,527.8 190.4,527.8 191.2,526.5 192.0,525.2 192.8,524.5 193.6,522.0 194.4,517.6 195.2,514.3 196.0,511.3 196.8,506.6 197.6,502.6 198.4,500.0 199.2,493.9 200.0,484.5 200.8,484.2 201.6,480.7 202.4,476.0 203.2,475.7 204.0,474.2 204.8,480.4 205.6,486.8 206.4,492.1 207.2,495.7 208.0,500.2 208.8,507.4 209.6,509.4 210.4,514.2 211.2,517.2 212.0,519.6 212.8,522.2 213.6,524.1 214.4,525.4 215.2,526.4 216.0,527.0 216.8,527.9 217.6,528.5 218.4,528.7 219.2,528.9 220.0,529.0 220.8,529.1 221.6,529.1 222.4,529.2 223.2,529.2 224.0,529.2 224.8,529.2 225.6,529.2 226.4,529.2 227.2,529.2" fill="none" stroke="#22ee22" stroke-width="1.2" stroke-linejoin="round"/>
<path d="M160.8,529.2 161.6,529.2 162.4,529.2 163.2,529.2 164.0,529.2 164.8,529.2 165.6,529.2 166.4,529.2 167.2,529.2 168.0,529.2 168.8,529.2 169.6,529.2 170.4,529.2 171.2,529.2 172.0,529.2 172.8,529.2 173.6,529.2 174.4,529.2 175.2,529.2 176.0,529.2 176.8,529.2 177.6,529.2 178.4,529.2 179.2,529.2 180.0,529.2 180.8,529.2 181.6,529.2 182.4,529.2 183.2,529.2 184.0,529.2 184.8,529.2 185.6,529.1 186.4,529.1 187.2,529.1 188.0,529.0 188.8,529.0 189.6,528.9 190.4,528.8 191.2,528.7 192.0,528.7 192.8,528.6 193.6,528.2 194.4,527.0 195.2,526.8 196.0,526.4 196.8,524.7 197.6,525.0 198.4,522.9 199.2,521.3 200.0,519.6 200.8,518.5 201.6,515.7 202.4,513.9 203.2,510.6 204.0,508.8 204.8,506.8 205.6,504.3 206.4,504.5 207.2,502.2 208.0,498.0 208.8,496.7 209.6,493.2 210.4,491.1 211.2,493.3 212.0,495.6 212.8,493.3 213.6,494.8 214.4,496.6 215.2,499.4 216.0,506.0 216.8,504.9 217.6,507.5 218.4,511.5 219.2,513.7 220.0,515.6 220.8,518.5 221.6,518.6 222.4,520.2 223.2,522.9 224.0,523.9 224.8,524.9 225.6,526.1 226.4,526.9 227.2,526.9" fill="none" stroke="#1a3cff" stroke-width="1.2" stroke-linejoin="round"/>
<path d="M160.8,529.2 161.6,529.2 162.4,529.2 163.2,529.2 164.0,529.2 164.8,529.2 165.6,529.2 166.4,529.2 167.2,529.2 168.0,529.2 168.8,529.2 169.6,529.2 170.4,529.2 171.2,529.2 172.0,529.2 172.8,529.2 173.6,529.2 174.4,529.2 175.2,529.2 176.0,529.2 176.8,529.2 177.6,529.2 178.4,529.2 179.2,529.2 180.0,529.2 180.8,529.2 181.6,529.2 182.4,529.2 183.2,529.2 184.0,529.2 184.8,529.2 185.6,529.2 186.4,529.2 187.2,529.2 188.0,529.2 188.8,529.2 189.6,529.2 190.4,529.2 191.2,529.2 192.0,529.2 192.8,529.2 193.6,529.2 194.4,529.1 195.2,529.1 196.0,529.0 196.8,528.9 197.6,528.8 198.4,528.2 199.2,527.9 200.0,528.0 200.8,527.1 201.6,526.1 202.4,524.3 203.2,523.0 204.0,519.2 204.8,516.4 205.6,512.6 206.4,509.6 207.2,504.2 208.0,496.5 208.8,494.3 209.6,488.5 210.4,483.7 211.2,481.3 212.0,474.0 212.8,475.7 213.6,479.7 214.4,480.7 215.2,487.4 216.0,493.7 216.8,499.2 217.6,503.7 218.4,509.5 219.2,512.5 220.0,515.1 220.8,519.6 221.6,522.4 222.4,523.3 223.2,525.0 224.0,526.8 224.8,527.0 225.6,527.9 226.4,528.4 227.2,528.8" fill="none" stroke="#1a1f70" stroke-width="1.2" stroke-linejoin="round"/>
<line x1="160.80" y1="528.60" x2="227.20" y2="528.60" stroke="#22ee22" stroke-width="1.1" />
<text x="267.50" y="460.80" font-family='"Liberation Sans", sans-serif' font-size="9.6" font-weight="bold" text-anchor="middle" fill="#000" stroke="#000" stroke-width="0.28" >TN-S2</text>
<rect x="233.40" y="463.00" width="67.00" height="66.20" fill="none" stroke="#c8c8c8" stroke-width="0.8"/>
<line x1="233.10" y1="463.00" x2="233.10" y2="529.20" stroke="#9a9a9a" stroke-width="0.9" stroke-dasharray="0.9 2.2"/>
<line x1="231.60" y1="463.70" x2="233.60" y2="463.70" stroke="#555" stroke-width="0.9" />
<line x1="231.60" y1="529.20" x2="233.60" y2="529.20" stroke="#555" stroke-width="0.9" />
<text x="232.80" y="538.70" font-family='"Liberation Sans", sans-serif' font-size="8.0" font-weight="normal" text-anchor="start" fill="#000" stroke="#000" stroke-width="0.3" >10</text>
<text x="242.10" y="533.70" font-family='"Liberation Sans", sans-serif' font-size="4.7" font-weight="normal" text-anchor="start" fill="#444" stroke="#444" stroke-width="0.15" >0</text>
<text x="249.70" y="538.70" font-family='"Liberation Sans", sans-serif' font-size="8.0" font-weight="normal" text-anchor="start" fill="#000" stroke="#000" stroke-width="0.3" >10</text>
<text x="259.00" y="533.70" font-family='"Liberation Sans", sans-serif' font-size="4.7" font-weight="normal" text-anchor="start" fill="#444" stroke="#444" stroke-width="0.15" >1</text>
<text x="271.90" y="538.70" font-family='"Liberation Sans", sans-serif' font-size="8.0" font-weight="normal" text-anchor="start" fill="#000" stroke="#000" stroke-width="0.3" >10</text>
<text x="281.20" y="533.70" font-family='"Liberation Sans", sans-serif' font-size="4.7" font-weight="normal" text-anchor="start" fill="#444" stroke="#444" stroke-width="0.15" >2</text>
<text x="294.10" y="538.70" font-family='"Liberation Sans", sans-serif' font-size="8.0" font-weight="normal" text-anchor="start" fill="#000" stroke="#000" stroke-width="0.3" >10</text>
<text x="303.40" y="533.70" font-family='"Liberation Sans", sans-serif' font-size="4.7" font-weight="normal" text-anchor="start" fill="#444" stroke="#444" stroke-width="0.15" >3</text>
<path d="M233.4,529.2 233.4,529.2 234.2,529.2 235.0,529.2 235.8,529.2 236.6,529.2 237.4,529.2 238.2,529.2 239.0,529.2 239.8,529.2 240.6,529.2 241.4,529.2 242.2,529.2 243.0,529.2 243.8,529.2 244.6,529.2 245.4,529.2 246.2,529.2 247.0,529.2 247.8,529.2 248.6,529.2 249.4,529.2 250.2,529.2 251.0,529.2 251.8,529.2 252.6,529.2 253.4,529.2 254.2,529.2 255.0,529.2 255.8,529.2 256.6,529.2 257.4,529.2 258.2,529.2 259.0,529.2 259.8,529.1 260.6,529.1 261.4,529.1 262.2,529.0 263.0,528.9 263.8,528.7 264.6,528.8 265.4,528.4 266.2,528.2 267.0,527.6 267.8,526.2 268.6,526.6 269.4,524.3 270.2,523.1 271.0,522.9 271.8,521.1 272.6,517.4 273.4,513.6 274.2,512.0 275.0,507.5 275.8,503.2 276.6,498.5 277.4,496.1 278.2,493.5 279.0,487.9 279.8,485.5 280.6,483.6 281.4,479.8 282.2,481.8 283.0,481.7 283.8,483.4 284.6,485.5 285.4,492.9 286.2,493.2 287.0,496.8 287.8,504.5 288.6,507.6 289.4,510.0 290.2,513.6 291.0,515.0 291.8,519.9 292.6,522.1 293.4,521.9 294.2,523.8 295.0,525.4 295.8,526.6 296.6,527.0 297.4,527.2 298.2,527.9 299.0,528.4 299.8,528.9 300.4,529.2 Z" fill="#ababab" stroke="none"/>
<path d="M233.7,529.2 234.5,529.2 235.3,529.2 236.1,529.2 236.9,529.2 237.7,529.2 238.5,529.2 239.3,529.2 240.1,529.2 240.9,529.2 241.7,529.2 242.5,529.2 243.3,529.2 244.1,529.2 244.9,529.2 245.7,529.2 246.5,529.2 247.3,529.2 248.1,529.2 248.9,529.2 249.7,529.2 250.5,529.2 251.3,529.2 252.1,529.2 252.9,529.2 253.7,529.2 254.5,529.2 255.3,529.2 256.1,529.1 256.9,529.1 257.7,529.1 258.5,529.0 259.3,528.9 260.1,528.8 260.9,528.3 261.7,528.7 262.5,528.2 263.3,528.3 264.1,527.5 264.9,527.0 265.7,526.4 266.5,524.1 267.3,523.4 268.1,522.0 268.9,521.2 269.7,516.8 270.5,516.1 271.3,511.8 272.1,508.3 272.9,505.8 273.7,501.2 274.5,500.0 275.3,498.3 276.1,494.6 276.9,486.8 277.7,483.1 278.5,480.5 279.3,481.5 280.1,480.6 280.9,480.1 281.7,485.9 282.5,486.4 283.3,491.6 284.1,491.9 284.9,495.5 285.7,501.0 286.5,504.0 287.3,506.9 288.1,510.0 288.9,512.6 289.7,515.0 290.5,517.9 291.3,520.6 292.1,522.5 292.9,524.7 293.7,524.8 294.5,526.5 295.3,526.9 296.1,527.9 296.9,527.9 297.7,528.2 298.5,528.8 299.3,528.7 300.1,528.9" fill="none" stroke="#ff90cc" stroke-width="1.2" stroke-linejoin="round"/>
<path d="M233.7,529.2 234.5,529.2 235.3,529.2 236.1,529.2 236.9,529.2 237.7,529.2 238.5,529.2 239.3,529.2 240.1,529.2 240.9,529.2 241.7,529.2 242.5,529.2 243.3,529.2 244.1,529.2 244.9,529.2 245.7,529.2 246.5,529.2 247.3,529.2 248.1,529.2 248.9,529.2 249.7,529.2 250.5,529.2 251.3,529.2 252.1,529.2 252.9,529.2 253.7,529.2 254.5,529.2 255.3,529.2 256.1,529.1 256.9,529.1 257.7,529.1 258.5,529.0 259.3,528.9 260.1,528.8 260.9,528.5 261.7,528.6 262.5,528.4 263.3,527.7 264.1,526.7 264.9,526.5 265.7,525.0 266.5,524.1 267.3,522.7 268.1,521.5 268.9,519.2 269.7,519.1 270.5,514.0 271.3,511.9 272.1,509.4 272.9,505.7 273.7,500.9 274.5,498.8 275.3,493.8 276.1,489.6 276.9,490.6 277.7,485.6 278.5,483.6 279.3,483.8 280.1,478.5 280.9,481.7 281.7,485.8 282.5,486.4 283.3,488.9 284.1,492.8 284.9,498.4 285.7,498.0 286.5,502.3 287.3,507.5 288.1,510.4 288.9,511.8 289.7,516.3 290.5,518.3 291.3,520.7 292.1,522.0 292.9,523.7 293.7,525.1 294.5,526.0 295.3,526.8 296.1,528.0 296.9,528.3 297.7,528.0 298.5,528.5 299.3,528.7 300.1,528.8" fill="none" stroke="#ff3fa8" stroke-width="1.2" stroke-linejoin="round"/>
<path d="M233.7,529.2 234.5,529.2 235.3,529.2 236.1,529.2 236.9,529.2 237.7,529.2 238.5,529.2 239.3,529.2 240.1,529.2 240.9,529.2 241.7,529.2 242.5,529.2 243.3,529.2 244.1,529.2 244.9,529.2 245.7,529.2 246.5,529.2 247.3,529.2 248.1,529.2 248.9,529.2 249.7,529.2 250.5,529.2 251.3,529.2 252.1,529.2 252.9,529.2 253.7,529.2 254.5,529.2 255.3,529.2 256.1,529.2 256.9,529.1 257.7,529.1 258.5,529.1 259.3,529.0 260.1,529.0 260.9,528.9 261.7,528.7 262.5,528.6 263.3,527.9 264.1,528.4 264.9,527.0 265.7,527.1 266.5,526.8 267.3,525.6 268.1,524.1 268.9,522.3 269.7,520.5 270.5,518.5 271.3,517.6 272.1,515.6 272.9,511.2 273.7,505.6 274.5,502.3 275.3,498.7 276.1,496.1 276.9,495.2 277.7,487.5 278.5,487.8 279.3,485.9 280.1,482.5 280.9,480.8 281.7,481.8 282.5,486.4 283.3,488.1 284.1,489.1 284.9,494.8 285.7,495.6 286.5,500.4 287.3,503.1 288.1,507.7 288.9,508.8 289.7,512.1 290.5,514.5 291.3,518.4 292.1,519.8 292.9,522.1 293.7,524.4 294.5,525.5 295.3,525.6 296.1,527.4 296.9,527.8 297.7,527.7 298.5,528.5 299.3,528.4 300.1,528.9" fill="none" stroke="#ff1a1a" stroke-width="1.2" stroke-linejoin="round"/>
<path d="M233.7,529.2 234.5,529.2 235.3,529.2 236.1,529.2 236.9,529.2 237.7,529.2 238.5,529.2 239.3,529.2 240.1,529.2 240.9,529.2 241.7,529.2 242.5,529.2 243.3,529.2 244.1,529.2 244.9,529.2 245.7,529.2 246.5,529.2 247.3,529.2 248.1,529.2 248.9,529.2 249.7,529.2 250.5,529.2 251.3,529.2 252.1,529.2 252.9,529.2 253.7,529.2 254.5,529.2 255.3,529.2 256.1,529.2 256.9,529.1 257.7,529.1 258.5,529.1 259.3,529.0 260.1,529.0 260.9,528.9 261.7,528.7 262.5,528.9 263.3,527.8 264.1,527.6 264.9,527.7 265.7,527.5 266.5,526.4 267.3,524.7 268.1,524.8 268.9,521.6 269.7,520.4 270.5,519.2 271.3,516.7 272.1,512.9 272.9,510.3 273.7,509.7 274.5,504.8 275.3,500.5 276.1,499.7 276.9,492.9 277.7,492.6 278.5,486.2 279.3,485.5 280.1,485.1 280.9,479.6 281.7,481.8 282.5,482.7 283.3,483.7 284.1,490.2 284.9,491.3 285.7,497.2 286.5,501.8 287.3,502.7 288.1,505.9 288.9,510.1 289.7,512.1 290.5,516.4 291.3,517.2 292.1,520.3 292.9,522.7 293.7,524.3 294.5,524.9 295.3,525.3 296.1,526.8 296.9,527.6 297.7,527.7 298.5,528.1 299.3,528.1 300.1,528.9" fill="none" stroke="#b00010" stroke-width="1.2" stroke-linejoin="round"/>
<path d="M233.7,529.2 234.5,529.2 235.3,529.2 236.1,529.2 236.9,529.2 237.7,529.2 238.5,529.2 239.3,529.2 240.1,529.2 240.9,529.2 241.7,529.2 242.5,529.2 243.3,529.2 244.1,529.2 244.9,529.2 245.7,529.2 246.5,529.2 247.3,529.2 248.1,529.2 248.9,529.2 249.7,529.2 250.5,529.2 251.3,529.2 252.1,529.2 252.9,529.2 253.7,529.2 254.5,529.2 255.3,529.2 256.1,529.2 256.9,529.2 257.7,529.2 258.5,529.2 259.3,529.2 260.1,529.2 260.9,529.1 261.7,529.1 262.5,529.1 263.3,529.0 264.1,528.9 264.9,528.8 265.7,528.9 266.5,528.3 267.3,528.6 268.1,527.8 268.9,527.1 269.7,526.9 270.5,525.2 271.3,525.3 272.1,524.0 272.9,521.9 273.7,519.5 274.5,517.7 275.3,513.6 276.1,513.4 276.9,506.9 277.7,505.8 278.5,503.3 279.3,497.9 280.1,492.5 280.9,492.5 281.7,485.2 282.5,485.7 283.3,481.4 284.1,483.7 284.9,482.6 285.7,483.2 286.5,488.5 287.3,494.1 288.1,495.2 288.9,498.5 289.7,503.0 290.5,506.4 291.3,511.4 292.1,511.6 292.9,515.3 293.7,518.7 294.5,520.5 295.3,522.5 296.1,523.0 296.9,525.3 297.7,525.4 298.5,526.7 299.3,527.1 300.1,528.2" fill="none" stroke="#109050" stroke-width="1.2" stroke-linejoin="round"/>
<path d="M233.7,529.2 234.5,529.2 235.3,529.2 236.1,529.2 236.9,529.2 237.7,529.2 238.5,529.2 239.3,529.2 240.1,529.2 240.9,529.2 241.7,529.2 242.5,529.2 243.3,529.2 244.1,529.2 244.9,529.2 245.7,529.2 246.5,529.2 247.3,529.2 248.1,529.2 248.9,529.2 249.7,529.2 250.5,529.2 251.3,529.2 252.1,529.2 252.9,529.2 253.7,529.2 254.5,529.2 255.3,529.2 256.1,529.2 256.9,529.2 257.7,529.2 258.5,529.2 259.3,529.2 260.1,529.2 260.9,529.1 261.7,529.1 262.5,529.1 263.3,529.0 264.1,528.9 264.9,528.8 265.7,528.7 266.5,528.2 267.3,528.0 268.1,527.9 268.9,526.9 269.7,525.7 270.5,526.2 271.3,525.0 272.1,522.4 272.9,521.1 273.7,518.1 274.5,517.8 275.3,513.1 276.1,509.5 276.9,506.8 277.7,502.4 278.5,498.6 279.3,495.8 280.1,495.3 280.9,492.8 281.7,485.2 282.5,482.7 283.3,480.5 284.1,483.6 284.9,480.4 285.7,487.3 286.5,489.6 287.3,491.0 288.1,492.5 288.9,499.6 289.7,502.6 290.5,503.9 291.3,508.7 292.1,513.3 292.9,515.2 293.7,516.6 294.5,519.9 295.3,521.8 296.1,522.4 296.9,524.5 297.7,525.5 298.5,526.7 299.3,526.8 300.1,527.6" fill="none" stroke="#22ee22" stroke-width="1.2" stroke-linejoin="round"/>
<path d="M233.7,529.2 234.5,529.2 235.3,529.2 236.1,529.2 236.9,529.2 237.7,529.2 238.5,529.2 239.3,529.2 240.1,529.2 240.9,529.2 241.7,529.2 242.5,529.2 243.3,529.2 244.1,529.2 244.9,529.2 245.7,529.2 246.5,529.2 247.3,529.2 248.1,529.2 248.9,529.2 249.7,529.2 250.5,529.2 251.3,529.2 252.1,529.2 252.9,529.2 253.7,529.2 254.5,529.2 255.3,529.2 256.1,529.2 256.9,529.2 257.7,529.2 258.5,529.2 259.3,529.1 260.1,529.1 260.9,529.1 261.7,529.0 262.5,528.9 263.3,528.8 264.1,528.8 264.9,528.0 265.7,528.5 266.5,527.4 267.3,527.0 268.1,526.4 268.9,525.0 269.7,524.5 270.5,522.8 271.3,520.7 272.1,519.7 272.9,515.8 273.7,516.0 274.5,512.7 275.3,509.1 276.1,504.0 276.9,498.6 277.7,497.8 278.5,495.9 279.3,489.4 280.1,483.7 280.9,483.8 281.7,479.6 282.5,480.3 283.3,482.2 284.1,484.5 284.9,484.1 285.7,490.4 286.5,490.2 287.3,498.2 288.1,499.4 288.9,503.0 289.7,506.4 290.5,511.7 291.3,514.8 292.1,517.8 292.9,520.0 293.7,521.2 294.5,521.6 295.3,523.9 296.1,524.3 296.9,525.9 297.7,527.2 298.5,528.0 299.3,527.6 300.1,527.9" fill="none" stroke="#1a3cff" stroke-width="1.2" stroke-linejoin="round"/>
<path d="M233.7,529.2 234.5,529.2 235.3,529.2 236.1,529.2 236.9,529.2 237.7,529.2 238.5,529.2 239.3,529.2 240.1,529.2 240.9,529.2 241.7,529.2 242.5,529.2 243.3,529.2 244.1,529.2 244.9,529.2 245.7,529.2 246.5,529.2 247.3,529.2 248.1,529.2 248.9,529.2 249.7,529.2 250.5,529.2 251.3,529.2 252.1,529.2 252.9,529.2 253.7,529.2 254.5,529.2 255.3,529.2 256.1,529.2 256.9,529.2 257.7,529.2 258.5,529.2 259.3,529.1 260.1,529.1 260.9,529.1 261.7,529.0 262.5,528.9 263.3,528.8 264.1,528.7 264.9,528.6 265.7,528.5 266.5,527.8 267.3,527.0 268.1,527.0 268.9,525.2 269.7,525.4 270.5,522.5 271.3,520.4 272.1,518.3 272.9,516.5 273.7,515.2 274.5,511.3 275.3,508.3 276.1,502.6 276.9,501.5 277.7,493.7 278.5,492.2 279.3,486.2 280.1,482.5 280.9,479.9 281.7,482.9 282.5,482.5 283.3,481.4 284.1,484.1 284.9,485.9 285.7,487.1 286.5,489.0 287.3,496.7 288.1,499.1 288.9,505.4 289.7,508.1 290.5,508.7 291.3,513.6 292.1,515.8 292.9,520.0 293.7,522.1 294.5,521.6 295.3,524.5 296.1,524.7 296.9,525.5 297.7,526.7 298.5,527.7 299.3,528.3 300.1,528.6" fill="none" stroke="#1a1f70" stroke-width="1.2" stroke-linejoin="round"/>
<line x1="233.70" y1="528.60" x2="300.10" y2="528.60" stroke="#22ee22" stroke-width="1.1" />
<text x="339.00" y="460.80" font-family='"Liberation Sans", sans-serif' font-size="9.6" font-weight="bold" text-anchor="middle" fill="#000" stroke="#000" stroke-width="0.28" >H1</text>
<rect x="304.50" y="463.00" width="67.00" height="66.20" fill="none" stroke="#c8c8c8" stroke-width="0.8"/>
<line x1="304.20" y1="463.00" x2="304.20" y2="529.20" stroke="#9a9a9a" stroke-width="0.9" stroke-dasharray="0.9 2.2"/>
<line x1="302.70" y1="463.70" x2="304.70" y2="463.70" stroke="#555" stroke-width="0.9" />
<line x1="302.70" y1="529.20" x2="304.70" y2="529.20" stroke="#555" stroke-width="0.9" />
<text x="304.90" y="538.70" font-family='"Liberation Sans", sans-serif' font-size="8.0" font-weight="normal" text-anchor="start" fill="#000" stroke="#000" stroke-width="0.3" >10</text>
<text x="314.20" y="533.70" font-family='"Liberation Sans", sans-serif' font-size="4.7" font-weight="normal" text-anchor="start" fill="#444" stroke="#444" stroke-width="0.15" >0</text>
<text x="321.30" y="538.70" font-family='"Liberation Sans", sans-serif' font-size="8.0" font-weight="normal" text-anchor="start" fill="#000" stroke="#000" stroke-width="0.3" >10</text>
<text x="330.60" y="533.70" font-family='"Liberation Sans", sans-serif' font-size="4.7" font-weight="normal" text-anchor="start" fill="#444" stroke="#444" stroke-width="0.15" >1</text>
<text x="343.50" y="538.70" font-family='"Liberation Sans", sans-serif' font-size="8.0" font-weight="normal" text-anchor="start" fill="#000" stroke="#000" stroke-width="0.3" >10</text>
<text x="352.80" y="533.70" font-family='"Liberation Sans", sans-serif' font-size="4.7" font-weight="normal" text-anchor="start" fill="#444" stroke="#444" stroke-width="0.15" >2</text>
<text x="365.70" y="538.70" font-family='"Liberation Sans", sans-serif' font-size="8.0" font-weight="normal" text-anchor="start" fill="#000" stroke="#000" stroke-width="0.3" >10</text>
<text x="375.00" y="533.70" font-family='"Liberation Sans", sans-serif' font-size="4.7" font-weight="normal" text-anchor="start" fill="#444" stroke="#444" stroke-width="0.15" >3</text>
<path d="M304.5,529.2 304.5,529.2 305.3,529.2 306.1,529.2 306.9,529.2 307.7,529.2 308.5,529.2 309.3,529.2 310.1,529.2 310.9,529.2 311.7,529.2 312.5,529.2 313.3,529.2 314.1,529.2 314.9,529.2 315.7,529.2 316.5,529.2 317.3,529.2 318.1,529.2 318.9,529.2 319.7,529.2 320.5,529.2 321.3,529.2 322.1,529.1 322.9,529.1 323.7,529.0 324.5,528.9 325.3,528.8 326.1,528.5 326.9,528.0 327.7,527.0 328.5,526.1 329.3,525.6 330.1,523.9 330.9,520.1 331.7,517.0 332.5,513.1 333.3,506.8 334.1,502.8 334.9,497.6 335.7,490.8 336.5,485.9 337.3,475.3 338.1,472.7 338.9,468.7 339.7,470.7 340.5,468.4 341.3,476.2 342.1,484.2 342.9,487.0 343.7,493.7 344.5,503.3 345.3,506.6 346.1,513.5 346.9,517.5 347.7,518.9 348.5,521.7 349.3,525.4 350.1,526.7 350.9,527.3 351.7,528.2 352.5,528.2 353.3,528.9 354.1,528.9 354.9,529.0 355.7,529.1 356.5,529.1 357.3,529.2 358.1,529.2 358.9,529.2 359.7,529.2 360.5,529.2 361.3,529.2 362.1,529.2 362.9,529.2 363.7,529.2 364.5,529.2 365.3,529.2 366.1,529.2 366.9,529.2 367.7,529.2 368.5,529.2 369.3,529.2 370.1,529.2 370.9,529.2 371.5,529.2 Z" fill="#ababab" stroke="none"/>
<path d="M304.8,529.2 305.6,529.2 306.4,529.2 307.2,529.2 308.0,529.2 308.8,529.2 309.6,529.2 310.4,529.2 311.2,529.2 312.0,529.2 312.8,529.2 313.6,529.2 314.4,529.2 315.2,529.2 316.0,529.2 316.8,529.2 317.6,529.2 318.4,529.2 319.2,529.2 320.0,529.2 320.8,529.2 321.6,529.1 322.4,529.1 323.2,529.0 324.0,528.9 324.8,528.8 325.6,528.9 326.4,528.1 327.2,528.0 328.0,526.3 328.8,524.8 329.6,524.4 330.4,520.5 331.2,518.8 332.0,514.5 332.8,511.8 333.6,507.6 334.4,501.2 335.2,494.6 336.0,489.6 336.8,480.2 337.6,476.0 338.4,474.2 339.2,469.7 340.0,472.6 340.8,472.1 341.6,480.1 342.4,483.6 343.2,489.2 344.0,498.3 344.8,503.4 345.6,505.5 346.4,510.3 347.2,517.3 348.0,520.5 348.8,522.4 349.6,523.4 350.4,525.2 351.2,527.2 352.0,528.0 352.8,528.3 353.6,528.3 354.4,528.8 355.2,529.0 356.0,529.1 356.8,529.1 357.6,529.2 358.4,529.2 359.2,529.2 360.0,529.2 360.8,529.2 361.6,529.2 362.4,529.2 363.2,529.2 364.0,529.2 364.8,529.2 365.6,529.2 366.4,529.2 367.2,529.2 368.0,529.2 368.8,529.2 369.6,529.2 370.4,529.2 371.2,529.2" fill="none" stroke="#ff90cc" stroke-width="1.2" stroke-linejoin="round"/>
<path d="M304.8,529.2 305.6,529.2 306.4,529.2 307.2,529.2 308.0,529.2 308.8,529.2 309.6,529.2 310.4,529.2 311.2,529.2 312.0,529.2 312.8,529.2 313.6,529.2 314.4,529.2 315.2,529.2 316.0,529.2 316.8,529.2 317.6,529.2 318.4,529.2 319.2,529.2 320.0,529.2 320.8,529.2 321.6,529.1 322.4,529.1 323.2,529.0 324.0,528.9 324.8,528.8 325.6,528.6 326.4,528.6 327.2,528.0 328.0,526.2 328.8,525.0 329.6,523.7 330.4,521.1 331.2,517.9 332.0,516.8 332.8,511.3 333.6,506.3 334.4,500.6 335.2,493.1 336.0,486.0 336.8,482.0 337.6,475.9 338.4,468.6 339.2,471.6 340.0,470.8 340.8,475.9 341.6,480.6 342.4,482.2 343.2,491.1 344.0,498.1 344.8,502.3 345.6,505.6 346.4,513.3 347.2,514.7 348.0,519.6 348.8,521.6 349.6,525.2 350.4,526.6 351.2,526.2 352.0,527.3 352.8,528.1 353.6,528.6 354.4,528.8 355.2,529.0 356.0,529.1 356.8,529.1 357.6,529.2 358.4,529.2 359.2,529.2 360.0,529.2 360.8,529.2 361.6,529.2 362.4,529.2 363.2,529.2 364.0,529.2 364.8,529.2 365.6,529.2 366.4,529.2 367.2,529.2 368.0,529.2 368.8,529.2 369.6,529.2 370.4,529.2 371.2,529.2" fill="none" stroke="#ff3fa8" stroke-width="1.2" stroke-linejoin="round"/>
<path d="M304.8,529.2 305.6,529.2 306.4,529.2 307.2,529.2 308.0,529.2 308.8,529.2 309.6,529.2 310.4,529.2 311.2,529.2 312.0,529.2 312.8,529.2 313.6,529.2 314.4,529.2 315.2,529.2 316.0,529.2 316.8,529.2 317.6,529.2 318.4,529.2 319.2,529.2 320.0,529.2 320.8,529.2 321.6,529.1 322.4,529.1 323.2,529.0 324.0,528.9 324.8,528.8 325.6,528.4 326.4,528.3 327.2,527.6 328.0,526.1 328.8,525.6 329.6,523.4 330.4,522.9 331.2,519.5 332.0,515.8 332.8,512.4 333.6,507.4 334.4,499.8 335.2,496.2 336.0,489.3 336.8,483.9 337.6,475.1 338.4,470.2 339.2,472.3 340.0,469.7 340.8,474.4 341.6,474.6 342.4,482.7 343.2,484.2 344.0,490.9 344.8,499.0 345.6,506.2 346.4,511.0 347.2,514.1 348.0,519.2 348.8,521.5 349.6,523.8 350.4,525.4 351.2,526.4 352.0,527.6 352.8,527.5 353.6,528.7 354.4,528.7 355.2,528.8 356.0,529.0 356.8,529.1 357.6,529.1 358.4,529.2 359.2,529.2 360.0,529.2 360.8,529.2 361.6,529.2 362.4,529.2 363.2,529.2 364.0,529.2 364.8,529.2 365.6,529.2 366.4,529.2 367.2,529.2 368.0,529.2 368.8,529.2 369.6,529.2 370.4,529.2 371.2,529.2" fill="none" stroke="#ff1a1a" stroke-width="1.2" stroke-linejoin="round"/>
<path d="M304.8,529.2 305.6,529.2 306.4,529.2 307.2,529.2 308.0,529.2 308.8,529.2 309.6,529.2 310.4,529.2 311.2,529.2 312.0,529.2 312.8,529.2 313.6,529.2 314.4,529.2 315.2,529.2 316.0,529.2 316.8,529.2 317.6,529.2 318.4,529.2 319.2,529.2 320.0,529.2 320.8,529.2 321.6,529.1 322.4,529.1 323.2,529.0 324.0,528.9 324.8,528.8 325.6,528.5 326.4,528.2 327.2,527.5 328.0,526.7 328.8,524.9 329.6,524.5 330.4,522.4 331.2,519.8 332.0,517.1 332.8,512.6 333.6,505.8 334.4,502.4 335.2,494.2 336.0,490.7 336.8,486.1 337.6,479.4 338.4,477.1 339.2,472.0 340.0,471.7 340.8,469.6 341.6,475.6 342.4,480.1 343.2,484.2 344.0,495.6 344.8,499.0 345.6,505.7 346.4,511.1 347.2,512.7 348.0,517.1 348.8,520.1 349.6,522.0 350.4,524.3 351.2,525.6 352.0,527.5 352.8,528.0 353.6,528.7 354.4,528.9 355.2,528.9 356.0,529.0 356.8,529.1 357.6,529.1 358.4,529.2 359.2,529.2 360.0,529.2 360.8,529.2 361.6,529.2 362.4,529.2 363.2,529.2 364.0,529.2 364.8,529.2 365.6,529.2 366.4,529.2 367.2,529.2 368.0,529.2 368.8,529.2 369.6,529.2 370.4,529.2 371.2,529.2" fill="none" stroke="#b00010" stroke-width="1.2" stroke-linejoin="round"/>
<path d="M304.8,529.2 305.6,529.2 306.4,529.2 307.2,529.2 308.0,529.2 308.8,529.2 309.6,529.2 310.4,529.2 311.2,529.2 312.0,529.2 312.8,529.2 313.6,529.2 314.4,529.2 315.2,529.2 316.0,529.2 316.8,529.2 317.6,529.2 318.4,529.2 319.2,529.2 320.0,529.2 320.8,529.2 321.6,529.2 322.4,529.2 323.2,529.2 324.0,529.2 324.8,529.2 325.6,529.2 326.4,529.2 327.2,529.2 328.0,529.1 328.8,529.1 329.6,529.0 330.4,528.9 331.2,528.6 332.0,528.3 332.8,528.0 333.6,526.7 334.4,524.5 335.2,523.2 336.0,521.7 336.8,519.2 337.6,514.1 338.4,508.9 339.2,505.3 340.0,499.7 340.8,499.1 341.6,497.6 342.4,499.5 343.2,500.3 344.0,504.2 344.8,505.5 345.6,509.6 346.4,513.1 347.2,511.1 348.0,511.4 348.8,511.2 349.6,511.6 350.4,507.0 351.2,505.2 352.0,499.3 352.8,497.0 353.6,494.1 354.4,491.1 355.2,491.4 356.0,497.1 356.8,499.1 357.6,501.1 358.4,506.1 359.2,508.7 360.0,515.2 360.8,517.0 361.6,521.7 362.4,523.9 363.2,524.0 364.0,525.7 364.8,527.1 365.6,528.4 366.4,528.2 367.2,528.4 368.0,528.9 368.8,529.0 369.6,529.1 370.4,529.1 371.2,529.2" fill="none" stroke="#22ee22" stroke-width="1.2" stroke-linejoin="round"/>
<path d="M304.8,529.2 305.6,529.2 306.4,529.2 307.2,529.2 308.0,529.2 308.8,529.2 309.6,529.2 310.4,529.2 311.2,529.2 312.0,529.2 312.8,529.2 313.6,529.2 314.4,529.2 315.2,529.2 316.0,529.2 316.8,529.2 317.6,529.2 318.4,529.2 319.2,529.2 320.0,529.2 320.8,529.2 321.6,529.2 322.4,529.2 323.2,529.2 324.0,529.2 324.8,529.2 325.6,529.2 326.4,529.2 327.2,529.1 328.0,529.1 328.8,529.0 329.6,528.9 330.4,528.8 331.2,528.6 332.0,527.5 332.8,527.4 333.6,526.1 334.4,524.2 335.2,522.3 336.0,521.3 336.8,516.8 337.6,515.6 338.4,512.5 339.2,510.1 340.0,505.1 340.8,504.9 341.6,500.3 342.4,502.4 343.2,501.0 344.0,503.0 344.8,505.6 345.6,507.9 346.4,510.9 347.2,511.0 348.0,514.2 348.8,512.9 349.6,512.5 350.4,512.0 351.2,507.9 352.0,504.9 352.8,502.8 353.6,503.4 354.4,505.1 355.2,507.5 356.0,509.5 356.8,512.3 357.6,513.2 358.4,514.9 359.2,518.4 360.0,522.5 360.8,524.2 361.6,525.2 362.4,526.7 363.2,527.7 364.0,527.5 364.8,527.9 365.6,528.6 366.4,528.8 367.2,529.0 368.0,529.1 368.8,529.1 369.6,529.2 370.4,529.2 371.2,529.2" fill="none" stroke="#22ee22" stroke-width="1.2" stroke-linejoin="round"/>
<path d="M304.8,529.2 305.6,529.2 306.4,529.2 307.2,529.2 308.0,529.2 308.8,529.2 309.6,529.2 310.4,529.2 311.2,529.2 312.0,529.2 312.8,529.2 313.6,529.2 314.4,529.2 315.2,529.2 316.0,529.2 316.8,529.2 317.6,529.2 318.4,529.2 319.2,529.2 320.0,529.2 320.8,529.2 321.6,529.2 322.4,529.2 323.2,529.1 324.0,529.1 324.8,529.0 325.6,528.8 326.4,528.6 327.2,528.2 328.0,528.0 328.8,527.1 329.6,526.6 330.4,524.4 331.2,523.0 332.0,520.0 332.8,516.6 333.6,514.2 334.4,510.1 335.2,503.8 336.0,499.6 336.8,492.4 337.6,484.7 338.4,482.1 339.2,473.7 340.0,469.9 340.8,466.8 341.6,469.8 342.4,473.3 343.2,479.3 344.0,482.5 344.8,491.4 345.6,493.7 346.4,500.4 347.2,507.8 348.0,510.8 348.8,514.4 349.6,517.9 350.4,521.3 351.2,524.5 352.0,524.8 352.8,526.3 353.6,528.1 354.4,528.5 355.2,528.5 356.0,528.8 356.8,528.9 357.6,529.0 358.4,529.1 359.2,529.1 360.0,529.2 360.8,529.2 361.6,529.2 362.4,529.2 363.2,529.2 364.0,529.2 364.8,529.2 365.6,529.2 366.4,529.2 367.2,529.2 368.0,529.2 368.8,529.2 369.6,529.2 370.4,529.2 371.2,529.2" fill="none" stroke="#1a3cff" stroke-width="1.2" stroke-linejoin="round"/>
<path d="M304.8,529.2 305.6,529.2 306.4,529.2 307.2,529.2 308.0,529.2 308.8,529.2 309.6,529.2 310.4,529.2 311.2,529.2 312.0,529.2 312.8,529.2 313.6,529.2 314.4,529.2 315.2,529.2 316.0,529.2 316.8,529.2 317.6,529.2 318.4,529.2 319.2,529.2 320.0,529.2 320.8,529.2 321.6,529.2 322.4,529.2 323.2,529.2 324.0,529.1 324.8,529.1 325.6,529.0 326.4,528.9 327.2,528.4 328.0,527.9 328.8,528.0 329.6,527.7 330.4,526.3 331.2,524.2 332.0,523.7 332.8,520.4 333.6,517.8 334.4,512.0 335.2,509.4 336.0,503.7 336.8,494.8 337.6,487.8 338.4,481.4 339.2,480.9 340.0,474.1 340.8,469.6 341.6,469.5 342.4,465.1 343.2,469.3 344.0,479.1 344.8,483.6 345.6,492.1 346.4,495.5 347.2,502.5 348.0,507.8 348.8,512.2 349.6,518.1 350.4,519.6 351.2,523.9 352.0,525.1 352.8,526.1 353.6,526.8 354.4,527.8 355.2,528.6 356.0,528.9 356.8,528.9 357.6,529.0 358.4,529.1 359.2,529.1 360.0,529.2 360.8,529.2 361.6,529.2 362.4,529.2 363.2,529.2 364.0,529.2 364.8,529.2 365.6,529.2 366.4,529.2 367.2,529.2 368.0,529.2 368.8,529.2 369.6,529.2 370.4,529.2 371.2,529.2" fill="none" stroke="#1a1f70" stroke-width="1.2" stroke-linejoin="round"/>
<line x1="304.80" y1="528.60" x2="371.20" y2="528.60" stroke="#22ee22" stroke-width="1.1" />
<text x="411.00" y="460.80" font-family='"Liberation Sans", sans-serif' font-size="9.6" font-weight="bold" text-anchor="middle" fill="#000" stroke="#000" stroke-width="0.28" >H1-TN</text>
<rect x="375.80" y="463.00" width="67.00" height="66.20" fill="none" stroke="#c8c8c8" stroke-width="0.8"/>
<line x1="375.50" y1="463.00" x2="375.50" y2="529.20" stroke="#9a9a9a" stroke-width="0.9" stroke-dasharray="0.9 2.2"/>
<line x1="374.00" y1="463.70" x2="376.00" y2="463.70" stroke="#555" stroke-width="0.9" />
<line x1="374.00" y1="529.20" x2="376.00" y2="529.20" stroke="#555" stroke-width="0.9" />
<text x="376.40" y="538.70" font-family='"Liberation Sans", sans-serif' font-size="8.0" font-weight="normal" text-anchor="start" fill="#000" stroke="#000" stroke-width="0.3" >10</text>
<text x="385.70" y="533.70" font-family='"Liberation Sans", sans-serif' font-size="4.7" font-weight="normal" text-anchor="start" fill="#444" stroke="#444" stroke-width="0.15" >0</text>
<text x="393.30" y="538.70" font-family='"Liberation Sans", sans-serif' font-size="8.0" font-weight="normal" text-anchor="start" fill="#000" stroke="#000" stroke-width="0.3" >10</text>
<text x="402.60" y="533.70" font-family='"Liberation Sans", sans-serif' font-size="4.7" font-weight="normal" text-anchor="start" fill="#444" stroke="#444" stroke-width="0.15" >1</text>
<text x="415.50" y="538.70" font-family='"Liberation Sans", sans-serif' font-size="8.0" font-weight="normal" text-anchor="start" fill="#000" stroke="#000" stroke-width="0.3" >10</text>
<text x="424.80" y="533.70" font-family='"Liberation Sans", sans-serif' font-size="4.7" font-weight="normal" text-anchor="start" fill="#444" stroke="#444" stroke-width="0.15" >2</text>
<text x="437.70" y="538.70" font-family='"Liberation Sans", sans-serif' font-size="8.0" font-weight="normal" text-anchor="start" fill="#000" stroke="#000" stroke-width="0.3" >10</text>
<text x="447.00" y="533.70" font-family='"Liberation Sans", sans-serif' font-size="4.7" font-weight="normal" text-anchor="start" fill="#444" stroke="#444" stroke-width="0.15" >3</text>
<path d="M375.8,529.2 375.8,529.2 376.6,529.2 377.4,529.2 378.2,529.2 379.0,529.2 379.8,529.2 380.6,529.2 381.4,529.2 382.2,529.2 383.0,529.2 383.8,529.2 384.6,529.2 385.4,529.2 386.2,529.2 387.0,529.2 387.8,529.2 388.6,529.2 389.4,529.2 390.2,529.2 391.0,529.1 391.8,529.1 392.6,529.0 393.4,528.9 394.2,528.8 395.0,528.8 395.8,528.0 396.6,528.0 397.4,526.9 398.2,526.6 399.0,524.6 399.8,523.3 400.6,522.6 401.4,517.8 402.2,514.9 403.0,512.6 403.8,507.8 404.6,502.2 405.4,496.7 406.2,490.5 407.0,484.1 407.8,478.8 408.6,478.1 409.4,475.9 410.2,472.1 411.0,472.5 411.8,471.2 412.6,474.9 413.4,478.5 414.2,484.7 415.0,490.8 415.8,495.5 416.6,502.1 417.4,508.4 418.2,511.2 419.0,515.0 419.8,519.5 420.6,522.1 421.4,524.2 422.2,525.8 423.0,526.0 423.8,526.6 424.6,527.5 425.4,528.2 426.2,528.3 427.0,528.8 427.8,528.9 428.6,529.0 429.4,529.1 430.2,529.1 431.0,529.2 431.8,529.2 432.6,529.2 433.4,529.2 434.2,529.2 435.0,529.2 435.8,529.2 436.6,529.2 437.4,529.2 438.2,529.2 439.0,529.2 439.8,529.2 440.6,529.2 441.4,529.2 442.2,529.2 442.8,529.2 Z" fill="#ababab" stroke="none"/>
<path d="M376.1,529.2 376.9,529.2 377.7,529.2 378.5,529.2 379.3,529.2 380.1,529.2 380.9,529.2 381.7,529.2 382.5,529.2 383.3,529.2 384.1,529.2 384.9,529.2 385.7,529.2 386.5,529.2 387.3,529.1 388.1,529.1 388.9,529.1 389.7,529.0 390.5,528.9 391.3,528.8 392.1,528.3 392.9,527.8 393.7,527.7 394.5,526.8 395.3,526.2 396.1,525.7 396.9,522.8 397.7,521.0 398.5,518.6 399.3,515.3 400.1,515.0 400.9,507.8 401.7,505.1 402.5,500.5 403.3,496.6 404.1,492.1 404.9,482.8 405.7,483.1 406.5,479.5 407.3,471.8 408.1,473.8 408.9,474.0 409.7,475.8 410.5,476.9 411.3,482.7 412.1,482.7 412.9,490.9 413.7,493.7 414.5,498.5 415.3,503.7 416.1,511.5 416.9,515.0 417.7,515.9 418.5,520.5 419.3,522.5 420.1,522.8 420.9,524.8 421.7,525.7 422.5,526.7 423.3,527.2 424.1,528.3 424.9,528.8 425.7,528.9 426.5,528.9 427.3,529.0 428.1,529.1 428.9,529.1 429.7,529.1 430.5,529.2 431.3,529.2 432.1,529.2 432.9,529.2 433.7,529.2 434.5,529.2 435.3,529.2 436.1,529.2 436.9,529.2 437.7,529.2 438.5,529.2 439.3,529.2 440.1,529.2 440.9,529.2 441.7,529.2 442.5,529.2" fill="none" stroke="#ff90cc" stroke-width="1.2" stroke-linejoin="round"/>
<path d="M376.1,529.2 376.9,529.2 377.7,529.2 378.5,529.2 379.3,529.2 380.1,529.2 380.9,529.2 381.7,529.2 382.5,529.2 383.3,529.2 384.1,529.2 384.9,529.2 385.7,529.2 386.5,529.2 387.3,529.1 388.1,529.1 388.9,529.1 389.7,529.0 390.5,528.9 391.3,528.7 392.1,528.8 392.9,528.1 393.7,527.4 394.5,527.6 395.3,525.6 396.1,526.0 396.9,524.2 397.7,522.4 398.5,518.3 399.3,515.6 400.1,513.5 400.9,509.7 401.7,505.1 402.5,500.0 403.3,494.8 404.1,489.6 404.9,484.9 405.7,484.6 406.5,477.4 407.3,475.3 408.1,474.6 408.9,470.0 409.7,475.2 410.5,479.8 411.3,481.1 412.1,489.0 412.9,491.2 413.7,495.5 414.5,499.1 415.3,505.3 416.1,511.8 416.9,512.4 417.7,517.9 418.5,520.9 419.3,521.5 420.1,524.2 420.9,525.7 421.7,526.9 422.5,527.3 423.3,527.9 424.1,527.9 424.9,528.1 425.7,528.7 426.5,528.9 427.3,529.0 428.1,529.1 428.9,529.1 429.7,529.1 430.5,529.2 431.3,529.2 432.1,529.2 432.9,529.2 433.7,529.2 434.5,529.2 435.3,529.2 436.1,529.2 436.9,529.2 437.7,529.2 438.5,529.2 439.3,529.2 440.1,529.2 440.9,529.2 441.7,529.2 442.5,529.2" fill="none" stroke="#ff3fa8" stroke-width="1.2" stroke-linejoin="round"/>
<path d="M376.1,529.2 376.9,529.2 377.7,529.2 378.5,529.2 379.3,529.2 380.1,529.2 380.9,529.2 381.7,529.2 382.5,529.2 383.3,529.2 384.1,529.2 384.9,529.2 385.7,529.2 386.5,529.2 387.3,529.2 388.1,529.1 388.9,529.1 389.7,529.0 390.5,528.9 391.3,528.8 392.1,528.9 392.9,528.3 393.7,527.9 394.5,527.0 395.3,526.4 396.1,526.5 396.9,523.7 397.7,523.6 398.5,521.4 399.3,519.2 400.1,515.0 400.9,512.3 401.7,509.0 402.5,505.8 403.3,498.2 404.1,494.9 404.9,487.5 405.7,486.1 406.5,481.7 407.3,475.3 408.1,472.9 408.9,472.7 409.7,474.2 410.5,474.6 411.3,479.7 412.1,484.7 412.9,489.8 413.7,492.2 414.5,499.8 415.3,500.5 416.1,505.7 416.9,510.5 417.7,516.1 418.5,518.3 419.3,521.0 420.1,521.3 420.9,523.2 421.7,525.1 422.5,526.0 423.3,527.3 424.1,528.1 424.9,528.5 425.7,528.8 426.5,528.8 427.3,528.9 428.1,529.0 428.9,529.1 429.7,529.1 430.5,529.2 431.3,529.2 432.1,529.2 432.9,529.2 433.7,529.2 434.5,529.2 435.3,529.2 436.1,529.2 436.9,529.2 437.7,529.2 438.5,529.2 439.3,529.2 440.1,529.2 440.9,529.2 441.7,529.2 442.5,529.2" fill="none" stroke="#ff1a1a" stroke-width="1.2" stroke-linejoin="round"/>
<path d="M376.1,529.2 376.9,529.2 377.7,529.2 378.5,529.2 379.3,529.2 380.1,529.2 380.9,529.2 381.7,529.2 382.5,529.2 383.3,529.2 384.1,529.2 384.9,529.2 385.7,529.2 386.5,529.2 387.3,529.2 388.1,529.1 388.9,529.1 389.7,529.1 390.5,529.0 391.3,528.9 392.1,528.8 392.9,528.4 393.7,528.2 394.5,527.4 395.3,527.6 396.1,525.9 396.9,525.5 397.7,523.5 398.5,521.3 399.3,520.6 400.1,516.5 400.9,514.0 401.7,511.4 402.5,508.3 403.3,502.4 404.1,499.5 404.9,490.6 405.7,486.9 406.5,483.4 407.3,480.4 408.1,475.1 408.9,470.3 409.7,474.3 410.5,473.8 411.3,477.4 412.1,479.7 412.9,484.2 413.7,491.1 414.5,495.7 415.3,500.9 416.1,505.8 416.9,510.8 417.7,511.9 418.5,515.4 419.3,520.2 420.1,521.3 420.9,523.0 421.7,524.2 422.5,526.4 423.3,526.8 424.1,527.2 424.9,528.3 425.7,528.4 426.5,528.6 427.3,528.8 428.1,529.0 428.9,529.0 429.7,529.1 430.5,529.1 431.3,529.2 432.1,529.2 432.9,529.2 433.7,529.2 434.5,529.2 435.3,529.2 436.1,529.2 436.9,529.2 437.7,529.2 438.5,529.2 439.3,529.2 440.1,529.2 440.9,529.2 441.7,529.2 442.5,529.2" fill="none" stroke="#b00010" stroke-width="1.2" stroke-linejoin="round"/>
<path d="M376.1,529.2 376.9,529.2 377.7,529.2 378.5,529.2 379.3,529.2 380.1,529.2 380.9,529.2 381.7,529.2 382.5,529.2 383.3,529.2 384.1,529.2 384.9,529.2 385.7,529.2 386.5,529.2 387.3,529.2 388.1,529.2 388.9,529.2 389.7,529.2 390.5,529.2 391.3,529.2 392.1,529.2 392.9,529.1 393.7,529.1 394.5,529.0 395.3,528.9 396.1,528.7 396.9,528.3 397.7,528.2 398.5,527.8 399.3,526.6 400.1,525.1 400.9,524.3 401.7,522.8 402.5,519.5 403.3,517.4 404.1,513.6 404.9,511.8 405.7,504.9 406.5,502.8 407.3,495.7 408.1,489.6 408.9,488.4 409.7,480.6 410.5,479.2 411.3,474.9 412.1,474.5 412.9,477.2 413.7,481.5 414.5,479.9 415.3,485.0 416.1,495.0 416.9,498.4 417.7,504.6 418.5,505.8 419.3,513.3 420.1,516.0 420.9,518.6 421.7,522.2 422.5,523.6 423.3,524.5 424.1,526.8 424.9,526.7 425.7,528.2 426.5,528.2 427.3,528.3 428.1,528.8 428.9,528.9 429.7,529.0 430.5,529.1 431.3,529.1 432.1,529.2 432.9,529.2 433.7,529.2 434.5,529.2 435.3,529.2 436.1,529.2 436.9,529.2 437.7,529.2 438.5,529.2 439.3,529.2 440.1,529.2 440.9,529.2 441.7,529.2 442.5,529.2" fill="none" stroke="#109050" stroke-width="1.2" stroke-linejoin="round"/>
<path d="M376.1,529.2 376.9,529.2 377.7,529.2 378.5,529.2 379.3,529.2 380.1,529.2 380.9,529.2 381.7,529.2 382.5,529.2 383.3,529.2 384.1,529.2 384.9,529.2 385.7,529.2 386.5,529.2 387.3,529.2 388.1,529.2 388.9,529.2 389.7,529.2 390.5,529.2 391.3,529.2 392.1,529.2 392.9,529.1 393.7,529.1 394.5,529.0 395.3,528.9 396.1,528.5 396.9,528.7 397.7,528.5 398.5,527.0 399.3,527.5 400.1,526.3 400.9,525.4 401.7,522.3 402.5,520.4 403.3,518.3 404.1,513.2 404.9,509.0 405.7,508.0 406.5,501.0 407.3,494.3 408.1,490.5 408.9,483.7 409.7,480.4 410.5,476.5 411.3,474.0 412.1,472.8 412.9,477.7 413.7,475.3 414.5,479.0 415.3,486.3 416.1,489.8 416.9,498.2 417.7,504.2 418.5,509.5 419.3,513.3 420.1,515.6 420.9,518.2 421.7,522.1 422.5,522.4 423.3,525.3 424.1,525.8 424.9,527.7 425.7,527.8 426.5,528.1 427.3,528.2 428.1,528.7 428.9,528.9 429.7,529.0 430.5,529.1 431.3,529.1 432.1,529.2 432.9,529.2 433.7,529.2 434.5,529.2 435.3,529.2 436.1,529.2 436.9,529.2 437.7,529.2 438.5,529.2 439.3,529.2 440.1,529.2 440.9,529.2 441.7,529.2 442.5,529.2" fill="none" stroke="#22ee22" stroke-width="1.2" stroke-linejoin="round"/>
<path d="M376.1,529.2 376.9,529.2 377.7,529.2 378.5,529.2 379.3,529.2 380.1,529.2 380.9,529.2 381.7,529.2 382.5,529.2 383.3,529.2 384.1,529.2 384.9,529.2 385.7,529.2 386.5,529.2 387.3,529.2 388.1,529.2 388.9,529.2 389.7,529.2 390.5,529.1 391.3,529.1 392.1,529.1 392.9,529.0 393.7,528.8 394.5,528.5 395.3,528.2 396.1,527.9 396.9,528.0 397.7,526.8 398.5,525.7 399.3,524.3 400.1,523.4 400.9,520.5 401.7,517.6 402.5,513.7 403.3,512.6 404.1,508.2 404.9,503.5 405.7,496.2 406.5,490.1 407.3,484.8 408.1,477.9 408.9,478.1 409.7,469.3 410.5,472.5 411.3,469.1 412.1,467.9 412.9,475.9 413.7,476.7 414.5,485.9 415.3,488.3 416.1,497.4 416.9,501.4 417.7,503.9 418.5,510.9 419.3,513.3 420.1,517.9 420.9,519.6 421.7,523.2 422.5,523.5 423.3,525.4 424.1,527.2 424.9,527.3 425.7,528.2 426.5,528.7 427.3,528.3 428.1,528.8 428.9,528.9 429.7,529.0 430.5,529.1 431.3,529.1 432.1,529.2 432.9,529.2 433.7,529.2 434.5,529.2 435.3,529.2 436.1,529.2 436.9,529.2 437.7,529.2 438.5,529.2 439.3,529.2 440.1,529.2 440.9,529.2 441.7,529.2 442.5,529.2" fill="none" stroke="#1a3cff" stroke-width="1.2" stroke-linejoin="round"/>
<path d="M376.1,529.2 376.9,529.2 377.7,529.2 378.5,529.2 379.3,529.2 380.1,529.2 380.9,529.2 381.7,529.2 382.5,529.2 383.3,529.2 384.1,529.2 384.9,529.2 385.7,529.2 386.5,529.2 387.3,529.2 388.1,529.2 388.9,529.2 389.7,529.2 390.5,529.1 391.3,529.1 392.1,529.0 392.9,528.9 393.7,528.8 394.5,528.5 395.3,528.1 396.1,528.1 396.9,527.1 397.7,526.6 398.5,524.9 399.3,523.1 400.1,521.4 400.9,519.6 401.7,515.4 402.5,514.7 403.3,507.8 404.1,505.3 404.9,501.1 405.7,492.1 406.5,487.0 407.3,482.8 408.1,477.8 408.9,470.0 409.7,468.1 410.5,465.3 411.3,468.6 412.1,474.0 412.9,473.8 413.7,481.1 414.5,488.0 415.3,492.9 416.1,499.1 416.9,500.8 417.7,506.6 418.5,510.9 419.3,516.5 420.1,519.8 420.9,521.1 421.7,524.3 422.5,525.1 423.3,526.7 424.1,526.5 424.9,527.8 425.7,528.2 426.5,528.3 427.3,528.8 428.1,528.9 428.9,529.0 429.7,529.1 430.5,529.1 431.3,529.2 432.1,529.2 432.9,529.2 433.7,529.2 434.5,529.2 435.3,529.2 436.1,529.2 436.9,529.2 437.7,529.2 438.5,529.2 439.3,529.2 440.1,529.2 440.9,529.2 441.7,529.2 442.5,529.2" fill="none" stroke="#1a1f70" stroke-width="1.2" stroke-linejoin="round"/>
<line x1="376.10" y1="528.60" x2="442.50" y2="528.60" stroke="#22ee22" stroke-width="1.1" />
<text x="482.00" y="460.80" font-family='"Liberation Sans", sans-serif' font-size="9.6" font-weight="bold" text-anchor="middle" fill="#000" stroke="#000" stroke-width="0.28" >TN-H1</text>
<rect x="447.90" y="463.00" width="67.00" height="66.20" fill="none" stroke="#c8c8c8" stroke-width="0.8"/>
<line x1="447.60" y1="463.00" x2="447.60" y2="529.20" stroke="#9a9a9a" stroke-width="0.9" stroke-dasharray="0.9 2.2"/>
<line x1="446.10" y1="463.70" x2="448.10" y2="463.70" stroke="#555" stroke-width="0.9" />
<line x1="446.10" y1="529.20" x2="448.10" y2="529.20" stroke="#555" stroke-width="0.9" />
<text x="447.50" y="538.70" font-family='"Liberation Sans", sans-serif' font-size="8.0" font-weight="normal" text-anchor="start" fill="#000" stroke="#000" stroke-width="0.3" >10</text>
<text x="456.80" y="533.70" font-family='"Liberation Sans", sans-serif' font-size="4.7" font-weight="normal" text-anchor="start" fill="#444" stroke="#444" stroke-width="0.15" >0</text>
<text x="464.50" y="538.70" font-family='"Liberation Sans", sans-serif' font-size="8.0" font-weight="normal" text-anchor="start" fill="#000" stroke="#000" stroke-width="0.3" >10</text>
<text x="473.80" y="533.70" font-family='"Liberation Sans", sans-serif' font-size="4.7" font-weight="normal" text-anchor="start" fill="#444" stroke="#444" stroke-width="0.15" >1</text>
<text x="486.60" y="538.70" font-family='"Liberation Sans", sans-serif' font-size="8.0" font-weight="normal" text-anchor="start" fill="#000" stroke="#000" stroke-width="0.3" >10</text>
<text x="495.90" y="533.70" font-family='"Liberation Sans", sans-serif' font-size="4.7" font-weight="normal" text-anchor="start" fill="#444" stroke="#444" stroke-width="0.15" >2</text>
<text x="508.80" y="538.70" font-family='"Liberation Sans", sans-serif' font-size="8.0" font-weight="normal" text-anchor="start" fill="#000" stroke="#000" stroke-width="0.3" >10</text>
<text x="518.10" y="533.70" font-family='"Liberation Sans", sans-serif' font-size="4.7" font-weight="normal" text-anchor="start" fill="#444" stroke="#444" stroke-width="0.15" >3</text>
<path d="M447.9,529.2 447.9,529.2 448.7,529.2 449.5,529.2 450.3,529.2 451.1,529.2 451.9,529.2 452.7,529.2 453.5,529.2 454.3,529.2 455.1,529.2 455.9,529.2 456.7,529.2 457.5,529.2 458.3,529.2 459.1,529.2 459.9,529.2 460.7,529.2 461.5,529.2 462.3,529.2 463.1,529.2 463.9,529.2 464.7,529.2 465.5,529.2 466.3,529.2 467.1,529.2 467.9,529.2 468.7,529.2 469.5,529.2 470.3,529.2 471.1,529.2 471.9,529.2 472.7,529.2 473.5,529.2 474.3,529.2 475.1,529.2 475.9,529.2 476.7,529.2 477.5,529.2 478.3,529.2 479.1,529.2 479.9,529.2 480.7,529.2 481.5,529.2 482.3,529.2 483.1,529.2 483.9,529.2 484.7,529.2 485.5,529.1 486.3,529.1 487.1,529.0 487.9,528.8 488.7,528.4 489.5,528.3 490.3,527.8 491.1,527.0 491.9,526.1 492.7,524.6 493.5,521.8 494.3,518.3 495.1,514.2 495.9,510.8 496.7,503.2 497.5,500.5 498.3,489.5 499.1,483.5 499.9,476.3 500.7,474.9 501.5,467.4 502.3,464.6 503.1,465.0 503.9,469.7 504.7,479.7 505.5,482.9 506.3,492.4 507.1,495.4 507.9,502.3 508.7,509.4 509.5,512.7 510.3,519.2 511.1,521.2 511.9,524.3 512.7,524.9 513.5,526.1 514.3,527.5 514.9,529.2 Z" fill="#ababab" stroke="none"/>
<path d="M448.2,529.2 449.0,529.2 449.8,529.2 450.6,529.2 451.4,529.2 452.2,529.2 453.0,529.2 453.8,529.2 454.6,529.2 455.4,529.2 456.2,529.2 457.0,529.2 457.8,529.2 458.6,529.2 459.4,529.2 460.2,529.2 461.0,529.2 461.8,529.2 462.6,529.2 463.4,529.2 464.2,529.2 465.0,529.2 465.8,529.2 466.6,529.2 467.4,529.2 468.2,529.2 469.0,529.2 469.8,529.2 470.6,529.2 471.4,529.2 472.2,529.2 473.0,529.2 473.8,529.2 474.6,529.2 475.4,529.2 476.2,529.2 477.0,529.2 477.8,529.2 478.6,529.2 479.4,529.2 480.2,529.2 481.0,529.2 481.8,529.2 482.6,529.2 483.4,529.2 484.2,529.2 485.0,529.1 485.8,529.1 486.6,529.0 487.4,528.9 488.2,529.0 489.0,528.3 489.8,528.1 490.6,526.7 491.4,527.0 492.2,524.5 493.0,523.0 493.8,520.9 494.6,516.9 495.4,516.2 496.2,510.2 497.0,503.7 497.8,498.2 498.6,492.3 499.4,484.6 500.2,477.6 501.0,477.4 501.8,473.3 502.6,470.1 503.4,464.9 504.2,467.3 505.0,473.6 505.8,481.2 506.6,485.1 507.4,491.5 508.2,499.0 509.0,505.7 509.8,508.4 510.6,513.6 511.4,518.2 512.2,521.3 513.0,522.5 513.8,524.8 514.6,526.8" fill="none" stroke="#ff90cc" stroke-width="1.2" stroke-linejoin="round"/>
<path d="M448.2,529.2 449.0,529.2 449.8,529.2 450.6,529.2 451.4,529.2 452.2,529.2 453.0,529.2 453.8,529.2 454.6,529.2 455.4,529.2 456.2,529.2 457.0,529.2 457.8,529.2 458.6,529.2 459.4,529.2 460.2,529.2 461.0,529.2 461.8,529.2 462.6,529.2 463.4,529.2 464.2,529.2 465.0,529.2 465.8,529.2 466.6,529.2 467.4,529.2 468.2,529.2 469.0,529.2 469.8,529.2 470.6,529.2 471.4,529.2 472.2,529.2 473.0,529.2 473.8,529.2 474.6,529.2 475.4,529.2 476.2,529.2 477.0,529.2 477.8,529.2 478.6,529.2 479.4,529.2 480.2,529.2 481.0,529.2 481.8,529.2 482.6,529.2 483.4,529.2 484.2,529.2 485.0,529.1 485.8,529.1 486.6,529.0 487.4,528.9 488.2,528.4 489.0,528.1 489.8,528.1 490.6,527.8 491.4,526.3 492.2,525.7 493.0,523.9 493.8,519.8 494.6,517.8 495.4,513.4 496.2,509.6 497.0,505.4 497.8,498.8 498.6,493.8 499.4,486.0 500.2,479.1 501.0,475.6 501.8,470.2 502.6,466.7 503.4,464.2 504.2,467.4 505.0,473.7 505.8,479.4 506.6,486.5 507.4,490.8 508.2,500.4 509.0,506.1 509.8,509.3 510.6,512.9 511.4,517.9 512.2,522.0 513.0,522.8 513.8,525.8 514.6,527.1" fill="none" stroke="#ff3fa8" stroke-width="1.2" stroke-linejoin="round"/>
<path d="M448.2,529.2 449.0,529.2 449.8,529.2 450.6,529.2 451.4,529.2 452.2,529.2 453.0,529.2 453.8,529.2 454.6,529.2 455.4,529.2 456.2,529.2 457.0,529.2 457.8,529.2 458.6,529.2 459.4,529.2 460.2,529.2 461.0,529.2 461.8,529.2 462.6,529.2 463.4,529.2 464.2,529.2 465.0,529.2 465.8,529.2 466.6,529.2 467.4,529.2 468.2,529.2 469.0,529.2 469.8,529.2 470.6,529.2 471.4,529.2 472.2,529.2 473.0,529.2 473.8,529.2 474.6,529.2 475.4,529.2 476.2,529.2 477.0,529.2 477.8,529.2 478.6,529.2 479.4,529.2 480.2,529.2 481.0,529.2 481.8,529.2 482.6,529.2 483.4,529.2 484.2,529.2 485.0,529.2 485.8,529.1 486.6,529.1 487.4,529.0 488.2,528.9 489.0,528.6 489.8,528.7 490.6,528.1 491.4,526.9 492.2,525.8 493.0,524.8 493.8,522.6 494.6,520.7 495.4,519.6 496.2,514.4 497.0,510.4 497.8,505.5 498.6,500.2 499.4,493.8 500.2,487.8 501.0,478.3 501.8,477.3 502.6,472.5 503.4,464.6 504.2,465.6 505.0,467.0 505.8,473.5 506.6,477.4 507.4,482.2 508.2,489.5 509.0,496.2 509.8,503.4 510.6,509.4 511.4,511.4 512.2,517.8 513.0,520.6 513.8,522.3 514.6,525.1" fill="none" stroke="#ff1a1a" stroke-width="1.2" stroke-linejoin="round"/>
<path d="M448.2,529.2 449.0,529.2 449.8,529.2 450.6,529.2 451.4,529.2 452.2,529.2 453.0,529.2 453.8,529.2 454.6,529.2 455.4,529.2 456.2,529.2 457.0,529.2 457.8,529.2 458.6,529.2 459.4,529.2 460.2,529.2 461.0,529.2 461.8,529.2 462.6,529.2 463.4,529.2 464.2,529.2 465.0,529.2 465.8,529.2 466.6,529.2 467.4,529.2 468.2,529.2 469.0,529.2 469.8,529.2 470.6,529.2 471.4,529.2 472.2,529.2 473.0,529.2 473.8,529.2 474.6,529.2 475.4,529.2 476.2,529.2 477.0,529.2 477.8,529.2 478.6,529.2 479.4,529.2 480.2,529.2 481.0,529.2 481.8,529.2 482.6,529.2 483.4,529.2 484.2,529.2 485.0,529.2 485.8,529.1 486.6,529.1 487.4,529.0 488.2,528.9 489.0,528.4 489.8,528.3 490.6,528.0 491.4,526.9 492.2,526.3 493.0,525.4 493.8,522.9 494.6,521.2 495.4,518.6 496.2,515.2 497.0,511.9 497.8,506.1 498.6,499.3 499.4,493.1 500.2,489.0 501.0,484.2 501.8,479.5 502.6,470.5 503.4,470.6 504.2,467.7 505.0,470.6 505.8,473.0 506.6,479.7 507.4,487.2 508.2,493.2 509.0,498.4 509.8,505.0 510.6,508.3 511.4,512.7 512.2,516.2 513.0,519.6 513.8,521.5 514.6,524.9" fill="none" stroke="#b00010" stroke-width="1.2" stroke-linejoin="round"/>
<path d="M448.2,529.2 449.0,529.2 449.8,529.2 450.6,529.2 451.4,529.2 452.2,529.2 453.0,529.2 453.8,529.2 454.6,529.2 455.4,529.2 456.2,529.2 457.0,529.2 457.8,529.2 458.6,529.2 459.4,529.2 460.2,529.2 461.0,529.2 461.8,529.2 462.6,529.2 463.4,529.2 464.2,529.2 465.0,529.2 465.8,529.2 466.6,529.2 467.4,529.2 468.2,529.2 469.0,529.2 469.8,529.2 470.6,529.2 471.4,529.2 472.2,529.2 473.0,529.2 473.8,529.2 474.6,529.2 475.4,529.2 476.2,529.2 477.0,529.2 477.8,529.2 478.6,529.2 479.4,529.2 480.2,529.2 481.0,529.2 481.8,529.2 482.6,529.2 483.4,529.2 484.2,529.1 485.0,529.1 485.8,529.0 486.6,528.9 487.4,528.8 488.2,528.3 489.0,527.7 489.8,527.5 490.6,526.8 491.4,525.4 492.2,523.9 493.0,522.2 493.8,518.5 494.6,516.3 495.4,513.3 496.2,507.5 497.0,500.5 497.8,495.0 498.6,488.0 499.4,481.1 500.2,478.0 501.0,472.8 501.8,470.7 502.6,467.9 503.4,469.0 504.2,472.1 505.0,475.8 505.8,485.9 506.6,492.1 507.4,495.6 508.2,503.3 509.0,508.7 509.8,514.6 510.6,515.9 511.4,520.3 512.2,521.9 513.0,525.0 513.8,525.2 514.6,527.1" fill="none" stroke="#1a3cff" stroke-width="1.2" stroke-linejoin="round"/>
<path d="M448.2,529.2 449.0,529.2 449.8,529.2 450.6,529.2 451.4,529.2 452.2,529.2 453.0,529.2 453.8,529.2 454.6,529.2 455.4,529.2 456.2,529.2 457.0,529.2 457.8,529.2 458.6,529.2 459.4,529.2 460.2,529.2 461.0,529.2 461.8,529.2 462.6,529.2 463.4,529.2 464.2,529.2 465.0,529.2 465.8,529.2 466.6,529.2 467.4,529.2 468.2,529.2 469.0,529.2 469.8,529.2 470.6,529.2 471.4,529.2 472.2,529.2 473.0,529.2 473.8,529.2 474.6,529.2 475.4,529.2 476.2,529.2 477.0,529.2 477.8,529.2 478.6,529.2 479.4,529.2 480.2,529.2 481.0,529.2 481.8,529.2 482.6,529.2 483.4,529.2 484.2,529.2 485.0,529.1 485.8,529.1 486.6,529.0 487.4,528.8 488.2,528.6 489.0,528.5 489.8,527.8 490.6,527.4 491.4,526.4 492.2,525.3 493.0,522.7 493.8,518.7 494.6,515.8 495.4,513.6 496.2,506.2 497.0,504.2 497.8,494.3 498.6,489.0 499.4,482.5 500.2,475.2 501.0,472.1 501.8,466.8 502.6,468.7 503.4,468.5 504.2,472.0 505.0,480.9 505.8,485.1 506.6,493.9 507.4,500.0 508.2,502.3 509.0,510.2 509.8,515.4 510.6,518.8 511.4,521.3 512.2,524.0 513.0,524.5 513.8,526.8 514.6,527.1" fill="none" stroke="#1a1f70" stroke-width="1.2" stroke-linejoin="round"/>
<path d="M448.2,529.2 449.0,529.2 449.8,529.2 450.6,529.2 451.4,529.2 452.2,529.2 453.0,529.2 453.8,529.2 454.6,529.2 455.4,529.2 456.2,529.2 457.0,529.2 457.8,529.2 458.6,529.2 459.4,529.2 460.2,529.2 461.0,529.2 461.8,529.2 462.6,529.2 463.4,529.2 464.2,529.2 465.0,529.2 465.8,529.2 466.6,529.2 467.4,529.2 468.2,529.2 469.0,529.2 469.8,529.2 470.6,529.2 471.4,529.2 472.2,529.2 473.0,529.2 473.8,529.2 474.6,529.2 475.4,529.2 476.2,529.2 477.0,529.2 477.8,529.2 478.6,529.2 479.4,529.2 480.2,529.2 481.0,529.2 481.8,529.1 482.6,529.1 483.4,529.0 484.2,528.9 485.0,528.8 485.8,528.6 486.6,527.8 487.4,527.7 488.2,526.9 489.0,525.2 489.8,524.2 490.6,521.8 491.4,520.7 492.2,515.4 493.0,512.8 493.8,507.1 494.6,500.3 495.4,493.6 496.2,492.6 497.0,480.5 497.8,480.1 498.6,471.1 499.4,471.1 500.2,464.2 501.0,467.9 501.8,472.9 502.6,476.1 503.4,483.3 504.2,492.2 505.0,493.8 505.8,503.1 506.6,507.1 507.4,513.8 508.2,515.1 509.0,519.6 509.8,523.3 510.6,523.8 511.4,525.2 512.2,527.5 513.0,528.2 513.8,527.9 514.6,528.7" fill="none" stroke="#109050" stroke-width="1.2" stroke-linejoin="round"/>
<path d="M448.2,529.2 449.0,529.2 449.8,529.2 450.6,529.2 451.4,529.2 452.2,529.2 453.0,529.2 453.8,529.2 454.6,529.2 455.4,529.2 456.2,529.2 457.0,529.2 457.8,529.2 458.6,529.2 459.4,529.2 460.2,529.2 461.0,529.2 461.8,529.2 462.6,529.2 463.4,529.2 464.2,529.2 465.0,529.2 465.8,529.2 466.6,529.2 467.4,529.2 468.2,529.2 469.0,529.2 469.8,529.2 470.6,529.2 471.4,529.2 472.2,529.2 473.0,529.2 473.8,529.2 474.6,529.2 475.4,529.2 476.2,529.2 477.0,529.2 477.8,529.2 478.6,529.2 479.4,529.2 480.2,529.2 481.0,529.2 481.8,529.1 482.6,529.1 483.4,529.0 484.2,528.9 485.0,528.8 485.8,528.8 486.6,528.2 487.4,527.7 488.2,527.1 489.0,526.3 489.8,524.2 490.6,522.2 491.4,520.3 492.2,515.6 493.0,512.3 493.8,507.0 494.6,503.9 495.4,493.3 496.2,491.7 497.0,481.3 497.8,479.4 498.6,474.3 499.4,468.1 500.2,464.0 501.0,467.7 501.8,469.4 502.6,476.3 503.4,479.9 504.2,489.4 505.0,494.6 505.8,500.3 506.6,507.7 507.4,510.8 508.2,517.0 509.0,519.3 509.8,521.5 510.6,525.0 511.4,525.1 512.2,526.1 513.0,527.1 513.8,527.9 514.6,528.6" fill="none" stroke="#22ee22" stroke-width="1.2" stroke-linejoin="round"/>
<line x1="448.20" y1="528.60" x2="514.60" y2="528.60" stroke="#22ee22" stroke-width="1.1" />
<text x="554.00" y="460.80" font-family='"Liberation Sans", sans-serif' font-size="9.6" font-weight="bold" text-anchor="middle" fill="#000" stroke="#000" stroke-width="0.28" >S1</text>
<rect x="520.50" y="463.00" width="67.00" height="66.20" fill="none" stroke="#c8c8c8" stroke-width="0.8"/>
<line x1="520.20" y1="463.00" x2="520.20" y2="529.20" stroke="#9a9a9a" stroke-width="0.9" stroke-dasharray="0.9 2.2"/>
<line x1="518.70" y1="463.70" x2="520.70" y2="463.70" stroke="#555" stroke-width="0.9" />
<line x1="518.70" y1="529.20" x2="520.70" y2="529.20" stroke="#555" stroke-width="0.9" />
<text x="519.80" y="538.70" font-family='"Liberation Sans", sans-serif' font-size="8.0" font-weight="normal" text-anchor="start" fill="#000" stroke="#000" stroke-width="0.3" >10</text>
<text x="529.10" y="533.70" font-family='"Liberation Sans", sans-serif' font-size="4.7" font-weight="normal" text-anchor="start" fill="#444" stroke="#444" stroke-width="0.15" >0</text>
<text x="535.50" y="538.70" font-family='"Liberation Sans", sans-serif' font-size="8.0" font-weight="normal" text-anchor="start" fill="#000" stroke="#000" stroke-width="0.3" >10</text>
<text x="544.80" y="533.70" font-family='"Liberation Sans", sans-serif' font-size="4.7" font-weight="normal" text-anchor="start" fill="#444" stroke="#444" stroke-width="0.15" >1</text>
<text x="557.70" y="538.70" font-family='"Liberation Sans", sans-serif' font-size="8.0" font-weight="normal" text-anchor="start" fill="#000" stroke="#000" stroke-width="0.3" >10</text>
<text x="567.00" y="533.70" font-family='"Liberation Sans", sans-serif' font-size="4.7" font-weight="normal" text-anchor="start" fill="#444" stroke="#444" stroke-width="0.15" >2</text>
<text x="580.50" y="538.70" font-family='"Liberation Sans", sans-serif' font-size="8.0" font-weight="normal" text-anchor="start" fill="#000" stroke="#000" stroke-width="0.3" >10</text>
<text x="589.80" y="533.70" font-family='"Liberation Sans", sans-serif' font-size="4.7" font-weight="normal" text-anchor="start" fill="#444" stroke="#444" stroke-width="0.15" >3</text>
<path d="M520.5,529.2 520.5,529.2 521.3,529.2 522.1,529.2 522.9,529.2 523.7,529.2 524.5,529.2 525.3,529.2 526.1,529.2 526.9,529.2 527.7,529.2 528.5,529.2 529.3,529.2 530.1,529.2 530.9,529.2 531.7,529.2 532.5,529.2 533.3,529.2 534.1,529.2 534.9,529.2 535.7,529.2 536.5,529.2 537.3,529.2 538.1,529.2 538.9,529.2 539.7,529.2 540.5,529.2 541.3,529.2 542.1,529.2 542.9,529.2 543.7,529.2 544.5,529.1 545.3,529.1 546.1,529.0 546.9,528.9 547.7,528.7 548.5,528.2 549.3,527.4 550.1,527.1 550.9,526.5 551.7,525.0 552.5,521.9 553.3,520.0 554.1,516.2 554.9,514.0 555.7,508.3 556.5,502.2 557.3,500.3 558.1,491.3 558.9,485.3 559.7,480.0 560.5,481.1 561.3,478.9 562.1,475.2 562.9,481.2 563.7,486.2 564.5,489.3 565.3,496.6 566.1,501.9 566.9,507.1 567.7,512.4 568.5,514.5 569.3,518.4 570.1,522.5 570.9,524.5 571.7,526.2 572.5,526.7 573.3,527.3 574.1,528.1 574.9,528.7 575.7,528.8 576.5,528.9 577.3,529.0 578.1,529.1 578.9,529.1 579.7,529.2 580.5,529.2 581.3,529.2 582.1,529.2 582.9,529.2 583.7,529.2 584.5,529.2 585.3,529.2 586.1,529.2 586.9,529.2 587.5,529.2 Z" fill="#ababab" stroke="none"/>
<path d="M520.8,529.2 521.6,529.2 522.4,529.2 523.2,529.2 524.0,529.2 524.8,529.2 525.6,529.2 526.4,529.2 527.2,529.2 528.0,529.2 528.8,529.2 529.6,529.2 530.4,529.2 531.2,529.2 532.0,529.2 532.8,529.2 533.6,529.2 534.4,529.2 535.2,529.2 536.0,529.2 536.8,529.2 537.6,529.2 538.4,529.2 539.2,529.2 540.0,529.2 540.8,529.2 541.6,529.1 542.4,529.1 543.2,529.0 544.0,528.9 544.8,528.6 545.6,528.2 546.4,528.0 547.2,527.5 548.0,526.8 548.8,524.5 549.6,523.9 550.4,522.9 551.2,520.2 552.0,517.6 552.8,510.7 553.6,505.8 554.4,504.5 555.2,499.2 556.0,493.0 556.8,487.4 557.6,481.6 558.4,479.7 559.2,474.2 560.0,470.3 560.8,471.0 561.6,476.6 562.4,479.7 563.2,483.4 564.0,491.4 564.8,496.7 565.6,505.0 566.4,506.6 567.2,510.7 568.0,515.4 568.8,518.4 569.6,522.8 570.4,523.3 571.2,524.4 572.0,526.9 572.8,527.6 573.6,528.2 574.4,528.5 575.2,528.5 576.0,528.9 576.8,529.0 577.6,529.1 578.4,529.1 579.2,529.2 580.0,529.2 580.8,529.2 581.6,529.2 582.4,529.2 583.2,529.2 584.0,529.2 584.8,529.2 585.6,529.2 586.4,529.2 587.2,529.2" fill="none" stroke="#ff90cc" stroke-width="1.2" stroke-linejoin="round"/>
<path d="M520.8,529.2 521.6,529.2 522.4,529.2 523.2,529.2 524.0,529.2 524.8,529.2 525.6,529.2 526.4,529.2 527.2,529.2 528.0,529.2 528.8,529.2 529.6,529.2 530.4,529.2 531.2,529.2 532.0,529.2 532.8,529.2 533.6,529.2 534.4,529.2 535.2,529.2 536.0,529.2 536.8,529.2 537.6,529.2 538.4,529.2 539.2,529.2 540.0,529.2 540.8,529.2 541.6,529.1 542.4,529.1 543.2,529.0 544.0,528.9 544.8,528.4 545.6,528.7 546.4,528.0 547.2,527.4 548.0,526.7 548.8,525.3 549.6,524.5 550.4,522.3 551.2,517.8 552.0,514.4 552.8,512.2 553.6,506.9 554.4,503.6 555.2,495.5 556.0,488.5 556.8,483.1 557.6,477.2 558.4,474.4 559.2,472.3 560.0,474.1 560.8,473.9 561.6,476.9 562.4,480.1 563.2,486.8 564.0,491.1 564.8,495.3 565.6,503.3 566.4,506.3 567.2,513.3 568.0,515.7 568.8,517.8 569.6,522.8 570.4,522.9 571.2,525.7 572.0,526.4 572.8,526.7 573.6,527.8 574.4,528.4 575.2,528.7 576.0,528.9 576.8,529.0 577.6,529.1 578.4,529.1 579.2,529.2 580.0,529.2 580.8,529.2 581.6,529.2 582.4,529.2 583.2,529.2 584.0,529.2 584.8,529.2 585.6,529.2 586.4,529.2 587.2,529.2" fill="none" stroke="#ff3fa8" stroke-width="1.2" stroke-linejoin="round"/>
<path d="M520.8,529.2 521.6,529.2 522.4,529.2 523.2,529.2 524.0,529.2 524.8,529.2 525.6,529.2 526.4,529.2 527.2,529.2 528.0,529.2 528.8,529.2 529.6,529.2 530.4,529.2 531.2,529.2 532.0,529.2 532.8,529.2 533.6,529.2 534.4,529.2 535.2,529.2 536.0,529.2 536.8,529.2 537.6,529.2 538.4,529.2 539.2,529.2 540.0,529.2 540.8,529.2 541.6,529.1 542.4,529.1 543.2,529.0 544.0,528.9 544.8,528.8 545.6,528.9 546.4,528.5 547.2,528.1 548.0,527.0 548.8,526.0 549.6,525.6 550.4,522.3 551.2,520.1 552.0,519.0 552.8,513.9 553.6,512.2 554.4,505.4 555.2,501.4 556.0,495.1 556.8,488.3 557.6,482.5 558.4,480.7 559.2,477.7 560.0,475.5 560.8,472.1 561.6,476.9 562.4,480.1 563.2,485.7 564.0,488.8 564.8,497.1 565.6,501.2 566.4,503.3 567.2,511.1 568.0,513.1 568.8,516.5 569.6,520.4 570.4,523.5 571.2,525.2 572.0,525.9 572.8,526.5 573.6,527.8 574.4,528.6 575.2,528.5 576.0,528.7 576.8,528.9 577.6,529.0 578.4,529.1 579.2,529.1 580.0,529.2 580.8,529.2 581.6,529.2 582.4,529.2 583.2,529.2 584.0,529.2 584.8,529.2 585.6,529.2 586.4,529.2 587.2,529.2" fill="none" stroke="#ff1a1a" stroke-width="1.2" stroke-linejoin="round"/>
<path d="M520.8,529.2 521.6,529.2 522.4,529.2 523.2,529.2 524.0,529.2 524.8,529.2 525.6,529.2 526.4,529.2 527.2,529.2 528.0,529.2 528.8,529.2 529.6,529.2 530.4,529.2 531.2,529.2 532.0,529.2 532.8,529.2 533.6,529.2 534.4,529.2 535.2,529.2 536.0,529.2 536.8,529.2 537.6,529.2 538.4,529.2 539.2,529.2 540.0,529.2 540.8,529.2 541.6,529.2 542.4,529.1 543.2,529.1 544.0,529.0 544.8,528.9 545.6,528.7 546.4,528.5 547.2,528.2 548.0,527.9 548.8,526.4 549.6,526.0 550.4,524.0 551.2,523.4 552.0,519.5 552.8,518.5 553.6,513.8 554.4,510.5 555.2,505.3 556.0,501.8 556.8,496.5 557.6,489.5 558.4,481.2 559.2,479.0 560.0,477.4 560.8,474.9 561.6,477.3 562.4,477.5 563.2,479.1 564.0,488.2 564.8,493.5 565.6,499.7 566.4,500.5 567.2,509.1 568.0,513.4 568.8,515.6 569.6,519.6 570.4,521.1 571.2,522.5 572.0,525.1 572.8,525.6 573.6,526.7 574.4,528.0 575.2,528.7 576.0,528.5 576.8,528.8 577.6,529.0 578.4,529.1 579.2,529.1 580.0,529.1 580.8,529.2 581.6,529.2 582.4,529.2 583.2,529.2 584.0,529.2 584.8,529.2 585.6,529.2 586.4,529.2 587.2,529.2" fill="none" stroke="#b00010" stroke-width="1.2" stroke-linejoin="round"/>
<path d="M520.8,529.2 521.6,529.2 522.4,529.2 523.2,529.2 524.0,529.2 524.8,529.2 525.6,529.2 526.4,529.2 527.2,529.2 528.0,529.2 528.8,529.2 529.6,529.2 530.4,529.2 531.2,529.2 532.0,529.2 532.8,529.2 533.6,529.2 534.4,529.2 535.2,529.2 536.0,529.2 536.8,529.2 537.6,529.2 538.4,529.2 539.2,529.2 540.0,529.2 540.8,529.2 541.6,529.2 542.4,529.2 543.2,529.1 544.0,529.1 544.8,529.0 545.6,529.0 546.4,528.8 547.2,528.7 548.0,528.6 548.8,527.3 549.6,527.6 550.4,525.7 551.2,525.4 552.0,522.6 552.8,522.1 553.6,517.3 554.4,515.9 555.2,510.2 556.0,508.8 556.8,504.2 557.6,499.2 558.4,490.7 559.2,485.9 560.0,483.7 560.8,476.5 561.6,474.7 562.4,478.6 563.2,479.6 564.0,480.6 564.8,488.6 565.6,493.2 566.4,495.1 567.2,504.4 568.0,509.3 568.8,510.4 569.6,516.7 570.4,519.2 571.2,520.1 572.0,522.5 572.8,524.7 573.6,525.7 574.4,527.6 575.2,527.9 576.0,528.6 576.8,528.5 577.6,528.8 578.4,529.0 579.2,529.0 580.0,529.1 580.8,529.1 581.6,529.2 582.4,529.2 583.2,529.2 584.0,529.2 584.8,529.2 585.6,529.2 586.4,529.2 587.2,529.2" fill="none" stroke="#109050" stroke-width="1.2" stroke-linejoin="round"/>
<path d="M520.8,529.2 521.6,529.2 522.4,529.2 523.2,529.2 524.0,529.2 524.8,529.2 525.6,529.2 526.4,529.2 527.2,529.2 528.0,529.2 528.8,529.2 529.6,529.2 530.4,529.2 531.2,529.2 532.0,529.2 532.8,529.2 533.6,529.2 534.4,529.2 535.2,529.2 536.0,529.2 536.8,529.2 537.6,529.2 538.4,529.2 539.2,529.2 540.0,529.2 540.8,529.2 541.6,529.2 542.4,529.2 543.2,529.2 544.0,529.1 544.8,529.1 545.6,529.0 546.4,528.9 547.2,528.7 548.0,528.7 548.8,528.2 549.6,527.2 550.4,527.1 551.2,525.5 552.0,524.4 552.8,523.0 553.6,519.3 554.4,518.8 555.2,513.2 556.0,511.6 556.8,507.3 557.6,500.5 558.4,494.2 559.2,488.2 560.0,484.0 560.8,480.6 561.6,475.5 562.4,475.6 563.2,476.2 564.0,477.4 564.8,485.0 565.6,489.0 566.4,492.6 567.2,498.8 568.0,501.9 568.8,507.2 569.6,511.3 570.4,516.9 571.2,518.3 572.0,522.6 572.8,524.3 573.6,525.1 574.4,527.1 575.2,527.4 576.0,527.9 576.8,528.2 577.6,528.4 578.4,528.9 579.2,529.0 580.0,529.1 580.8,529.1 581.6,529.2 582.4,529.2 583.2,529.2 584.0,529.2 584.8,529.2 585.6,529.2 586.4,529.2 587.2,529.2" fill="none" stroke="#22ee22" stroke-width="1.2" stroke-linejoin="round"/>
<path d="M520.8,529.2 521.6,529.2 522.4,529.2 523.2,529.2 524.0,529.2 524.8,529.2 525.6,529.2 526.4,529.2 527.2,529.2 528.0,529.2 528.8,529.2 529.6,529.2 530.4,529.2 531.2,529.2 532.0,529.2 532.8,529.2 533.6,529.2 534.4,529.2 535.2,529.2 536.0,529.2 536.8,529.2 537.6,529.2 538.4,529.2 539.2,529.2 540.0,529.2 540.8,529.2 541.6,529.2 542.4,529.2 543.2,529.2 544.0,529.2 544.8,529.2 545.6,529.2 546.4,529.2 547.2,529.1 548.0,529.1 548.8,529.0 549.6,529.0 550.4,528.8 551.2,528.9 552.0,528.0 552.8,527.8 553.6,527.0 554.4,526.5 555.2,525.7 556.0,523.4 556.8,522.7 557.6,520.7 558.4,516.6 559.2,512.9 560.0,510.8 560.8,508.4 561.6,503.8 562.4,498.3 563.2,493.2 564.0,488.2 564.8,484.1 565.6,476.6 566.4,476.0 567.2,475.3 568.0,477.1 568.8,481.8 569.6,486.1 570.4,489.4 571.2,492.1 572.0,498.9 572.8,503.9 573.6,507.4 574.4,513.0 575.2,514.6 576.0,519.1 576.8,520.3 577.6,523.6 578.4,525.0 579.2,526.2 580.0,526.7 580.8,527.9 581.6,527.7 582.4,528.4 583.2,528.7 584.0,528.9 584.8,529.0 585.6,529.1 586.4,529.1 587.2,529.2" fill="none" stroke="#1a3cff" stroke-width="1.2" stroke-linejoin="round"/>
<path d="M520.8,529.2 521.6,529.2 522.4,529.2 523.2,529.2 524.0,529.2 524.8,529.2 525.6,529.2 526.4,529.2 527.2,529.2 528.0,529.2 528.8,529.2 529.6,529.2 530.4,529.2 531.2,529.2 532.0,529.2 532.8,529.2 533.6,529.2 534.4,529.2 535.2,529.2 536.0,529.2 536.8,529.2 537.6,529.2 538.4,529.2 539.2,529.2 540.0,529.2 540.8,529.2 541.6,529.2 542.4,529.2 543.2,529.2 544.0,529.2 544.8,529.2 545.6,529.2 546.4,529.2 547.2,529.1 548.0,529.1 548.8,529.1 549.6,529.0 550.4,528.8 551.2,528.5 552.0,528.2 552.8,527.7 553.6,527.3 554.4,526.4 555.2,525.2 556.0,523.0 556.8,521.0 557.6,519.4 558.4,516.7 559.2,512.7 560.0,510.2 560.8,505.6 561.6,499.8 562.4,494.3 563.2,490.7 564.0,482.1 564.8,478.6 565.6,479.4 566.4,476.7 567.2,481.4 568.0,484.9 568.8,488.7 569.6,494.9 570.4,497.1 571.2,501.6 572.0,508.9 572.8,513.9 573.6,516.9 574.4,519.1 575.2,522.1 576.0,523.9 576.8,524.7 577.6,526.6 578.4,527.8 579.2,527.8 580.0,528.1 580.8,528.4 581.6,528.8 582.4,529.0 583.2,529.1 584.0,529.1 584.8,529.1 585.6,529.2 586.4,529.2 587.2,529.2" fill="none" stroke="#1a1f70" stroke-width="1.2" stroke-linejoin="round"/>
<line x1="520.80" y1="528.60" x2="587.20" y2="528.60" stroke="#22ee22" stroke-width="1.1" />
<text x="9.10" y="498.30" transform="rotate(-90 9.10 498.30)" font-family='"Liberation Sans", sans-serif' font-size="9.6" font-weight="bold" text-anchor="middle" fill="#000" stroke="#000" stroke-width="0.28">Cell count</text>
<text x="42.00" y="549.50" font-family='"Liberation Sans", sans-serif' font-size="9.7" font-weight="bold" text-anchor="start" fill="#000" stroke="#000" stroke-width="0.28" >Protein stability</text>
<rect x="600.80" y="469.00" width="10.00" height="9.80" fill="#a9a9a9" />
<text x="613.80" y="477.20" font-family='"Liberation Sans", sans-serif' font-size="9.7" font-weight="bold" text-anchor="start" fill="#000" stroke="#000" stroke-width="0.28" >sgAPPBP2</text>
<line x1="589.10" y1="486.30" x2="598.40" y2="486.30" stroke="#b30000" stroke-width="2.1" />
<line x1="600.90" y1="486.30" x2="610.60" y2="486.30" stroke="#ff1a1a" stroke-width="2.1" />
<text x="613.80" y="488.60" font-family='"Liberation Sans", sans-serif' font-size="9.7" font-weight="bold" text-anchor="start" fill="#000" stroke="#000" stroke-width="0.28" >sgBAG6-1/-2</text>
<line x1="589.10" y1="498.20" x2="598.40" y2="498.20" stroke="#ff3fa8" stroke-width="2.1" />
<line x1="600.90" y1="498.20" x2="610.60" y2="498.20" stroke="#ff9fd0" stroke-width="2.1" />
<text x="613.80" y="500.50" font-family='"Liberation Sans", sans-serif' font-size="9.7" font-weight="bold" text-anchor="start" fill="#000" stroke="#000" stroke-width="0.28" >sgRNF126-1/-2</text>
<line x1="589.10" y1="510.10" x2="598.40" y2="510.10" stroke="#1f2e66" stroke-width="2.1" />
<line x1="600.90" y1="510.10" x2="610.60" y2="510.10" stroke="#1a3cff" stroke-width="2.1" />
<text x="613.80" y="512.40" font-family='"Liberation Sans", sans-serif' font-size="9.7" font-weight="bold" text-anchor="start" fill="#000" stroke="#000" stroke-width="0.28" >sgRNF139-1/-2</text>
<line x1="589.10" y1="522.00" x2="598.40" y2="522.00" stroke="#0f9a55" stroke-width="2.1" />
<line x1="600.90" y1="522.00" x2="610.60" y2="522.00" stroke="#22ee22" stroke-width="2.1" />
<text x="613.80" y="524.30" font-family='"Liberation Sans", sans-serif' font-size="9.7" font-weight="bold" text-anchor="start" fill="#000" stroke="#000" stroke-width="0.28" >sgMARCH6-1/-2</text>
</svg>
</body></html>
